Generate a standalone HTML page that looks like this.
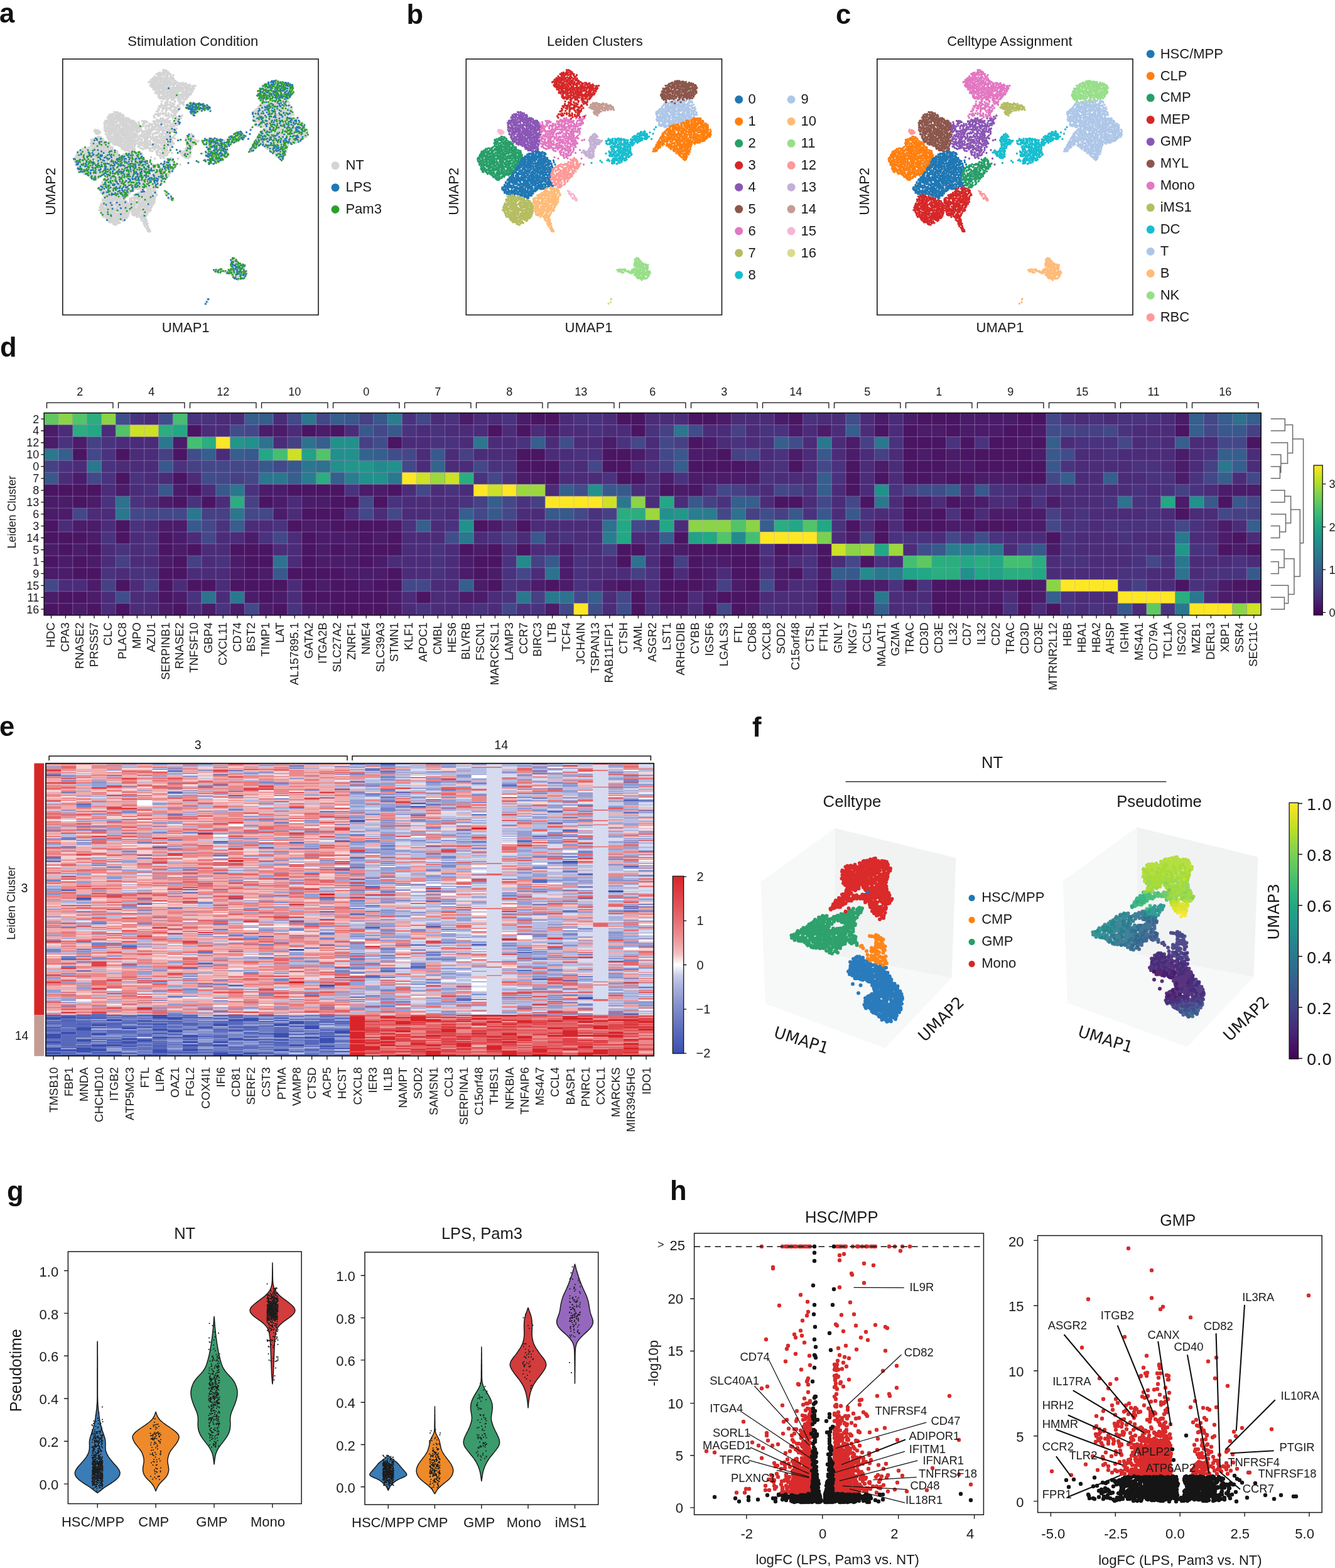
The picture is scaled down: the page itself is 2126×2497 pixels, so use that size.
<!DOCTYPE html>
<html><head><meta charset="utf-8"><title>Figure</title>
<style>
html,body{margin:0;padding:0;background:#fff}
svg{display:block}
</style></head>
<body>
<svg width="2126" height="2497" viewBox="0 0 2126 2497">
<rect width="2126" height="2497" fill="#fff"/>
<g font-family="Liberation Sans, sans-serif" font-size="22" fill="#1a1a1a">
<!-- pabc -->
<defs>
<path id="k2" d="M1597 435h0m4 1h0m6 1h0m-13 2h0m14 0h0m-18 1h0m16 1h0m-18 1h0m3 0h0m6 0h0m16 0h0m-31 1h0m19 0h0m-25 2h0m37 0h0m-24 1h0m15 0h0m-27 1h0m17 0h0m4 0h0m13 0h0m-35 1h0m8 1h0m34 0h0m-7 1h0m-29 1h0m26 0h0m-31 1h0m8 0h0m13 0h0m26 0h0m-22 1h0m24 0h0m-16 1h0m-28 1h0m19 0h0m3 0h0m12 0h0m3 0h0m4 0h0m-49 1h0m16 0h0m4 0h0m35 0h0m-36 1h0m-14 1h0m24 0h0m30 0h0m-51 1h0m6 0h0m24 0h0m15 0h0m-51 1h0m31 0h0m9 0h0m-20 1h0m26 0h0m10 2h0m2 0h0m-45 1h0m11 0h0m10 0h0m-35 1h0m19 0h0m22 0h0m7 0h0m-43 1h0m3 0h0m36 0h0m-14 1h0m7 0h0m6 0h0m-38 1h0m12 0h0m10 0h0m18 0h0m11 0h0m7 0h0m-68 1h0m13 0h0m23 0h0m37 0h0m-57 1h0m11 0h0m30 0h0m-60 1h0m66 0h0m-78 1h0m12 0h0m31 0h0m-38 1h0m6 0h0m15 0h0m8 0h0m5 0h0m12 0h0m5 0h0m4 0h0m7 0h0m3 0h0m15 0h0m3 0h0m-95 1h0m28 0h0m7 0h0m46 0h0m-78 2h0m24 0h0m8 0h0m-37 1h0m20 0h0m8 0h0m14 0h0m5 0h0m3 0h0m8 0h0m14 0h0m3 0h0m15 0h0m8 0h0m-81 1h0m36 0h0m12 0h0m16 0h0m4 0h0m17 0h0m-106 1h0m38 0h0m72 0h0m-108 1h0m15 0h0m14 0h0m51 0h0m16 0h0m13 0h0m-83 1h0m23 0h0m17 0h0m21 0h0m27 0h0m-120 1h0m16 0h0m31 0h0m5 0h0m9 0h0m7 0h0m9 0h0m-81 1h0m14 0h0m18 0h0m55 0h0m14 0h0m8 0h0m-48 1h0m23 0h0m-79 1h0m8 0h0m22 0h0m17 0h0m52 0h0m5 0h0m7 0h0m-93 1h0m21 0h0m14 0h0m10 0h0m11 0h0m9 0h0m5 0h0m20 0h0m5 0h0m5 0h0m2 0h0m-126 1h0m10 0h0m9 0h0m28 0h0m-17 1h0m7 0h0m9 0h0m26 0h0m6 0h0m21 0h0m-89 1h0m8 0h0m14 0h0m19 0h0m6 0h0m15 0h0m9 0h0m6 0h0m20 0h0m-106 1h0m5 0h0m21 0h0m35 0h0m5 0h0m50 0h0m4 0h0m-123 1h0m24 0h0m13 0h0m7 0h0m57 0h0m3 0h0m8 0h0m17 0h0m-54 2h0m-78 1h0m14 0h0m10 0h0m44 0h0m14 0h0m17 0h0m13 0h0m18 0h0m5 0h0m-132 1h0m15 0h0m15 0h0m11 0h0m9 0h0m5 0h0m16 0h0m36 0h0m-102 1h0m32 0h0m23 0h0m27 0h0m4 0h0m10 0h0m12 0h0m8 0h0m-108 1h0m29 0h0m4 0h0m33 0h0m-61 1h0m9 0h0m6 0h0m5 0h0m60 0h0m5 0h0m-105 1h0m6 0h0m18 0h0m31 0h0m6 0h0m4 0h0m10 0h0m12 0h0m9 0h0m20 0h0m4 0h0m5 0h0m6 0h0m-134 1h0m13 0h0m78 0h0m23 0h0m-43 1h0m2 0h0m65 0h0m-134 1h0m32 0h0m10 0h0m14 0h0m32 0h0m38 0h0m-133 1h0m13 0h0m10 0h0m6 0h0m5 0h0m8 0h0m26 0h0m20 0h0m10 0h0m5 0h0m21 0h0m4 0h0m8 0h0m-83 1h0m27 0h0m3 0h0m12 0h0m18 0h0m5 0h0m-57 1h0m39 0h0m9 0h0m-111 1h0m3 0h0m24 0h0m22 0h0m10 0h0m36 0h0m17 0h0m-105 1h0m8 0h0m10 0h0m44 0h0m4 0h0m4 0h0m62 0h0m2 0h0m-122 1h0m16 0h0m9 0h0m9 0h0m37 0h0m19 0h0m13 0h0m8 0h0m5 0h0m-95 1h0m21 0h0m23 0h0m35 0h0m-88 1h0m-12 1h0m7 0h0m15 0h0m69 0h0m-109 1h0m10 0h0m27 0h0m12 0h0m4 0h0m17 0h0m5 0h0m4 0h0m11 0h0m10 0h0m4 0h0m20 0h0m5 0h0m-114 1h0m31 0h0m14 0h0m34 0h0m26 0h0m17 0h0m2 0h0m-134 1h0m109 0h0m-112 1h0m16 0h0m34 0h0m17 0h0m23 0h0m5 0h0m20 0h0m6 0h0m4 0h0m-119 1h0m3 0h0m12 0h0m5 0h0m20 0h0m10 0h0m18 0h0m6 0h0m21 0h0m34 0h0m-105 1h0m6 0h0m5 0h0m19 0h0m27 0h0m-16 1h0m1 0h0m58 0h0m-32 1h0m11 0h0m4 0h0m-110 1h0m24 0h0m20 0h0m4 0h0m12 0h0m13 0h0m7 0h0m21 0h0m18 0h0m10 0h0m-124 1h0m6 0h0m3 0h0m8 0h0m12 0h0m7 0h0m14 0h0m36 0h0m33 0h0m-112 1h0m20 0h0m35 0h0m19 0h0m28 0h0m-34 1h0m-74 1h0m31 0h0m18 0h0m4 0h0m10 0h0m14 0h0m14 0h0m15 0h0m10 0h0m-122 1h0m17 0h0m4 0h0m11 0h0m12 0h0m43 0h0m5 0h0m13 0h0m0 0h0m-78 1h0m21 0h0m14 0h0m12 0h0m43 0h0m-97 1h0m-10 1h0m4 0h0m21 0h0m11 0h0m7 0h0m12 0h0m5 0h0m35 0h0m11 0h0m-86 1h0m19 0h0m35 0h0m11 0h0m8 0h0m7 0h0m11 0h0m-116 1h0m22 0h0m33 0h0m16 0h0m15 0h0m-67 1h0m16 0h0m39 0h0m4 0h0m-55 1h0m25 0h0m9 0h0m-50 1h0m26 0h0m55 0h0m4 0h0m3 0h0m8 0h0m6 0h0m4 0h0m5 0h0m-90 1h0m9 0h0m26 0h0m5 0h0m4 0h0m10 0h0m-81 1h0m11 0h0m29 0h0m10 0h0m6 0h0m48 0h0m7 1h0m-112 1h0m25 0h0m41 0h0m48 0h0m-110 1h0m10 0h0m14 0h0m8 0h0m3 0h0m6 0h0m5 0h0m24 0h0m15 0h0m10 0h0m-90 1h0m46 0h0m16 0h0m0 0h0m14 0h0m9 0h0m-74 1h0m38 0h0m-56 1h0m20 0h0m5 0h0m10 0h0m14 0h0m17 0h0m18 0h0m7 0h0m14 0h0m-102 1h0m6 0h0m35 0h0m18 0h0m19 0h0m29 0h0m-80 1h0m9 0h0m36 0h0m26 0h0m-86 1h0m79 0h0m-67 1h0m11 0h0m15 0h0m35 0h0m9 0h0m-84 1h0m3 0h0m8 0h0m40 0h0m5 0h0m9 0h0m30 0h0m-105 1h0m54 0h0m14 0h0m32 0h0m-97 1h0m26 0h0m18 0h0m32 0h0m11 0h0m6 1h0m-83 1h0m32 0h0m11 0h0m45 0h0m-83 1h0m9 0h0m5 0h0m5 0h0m14 0h0m9 0h0m6 0h0m20 0h0m-64 1h0m24 0h0m26 0h0m11 0h0m11 0h0m-35 1h0m18 0h0m-61 1h0m18 0h0m37 0h0m18 0h0m-64 1h0m19 0h0m5 0h0m16 0h0m-38 1h0m28 0h0m25 0h0m5 0h0m-45 1h0m35 0h0m-44 1h0m16 0h0m36 0h0m-52 1h0m39 0h0m-2 1h0m-31 1h0m5 0h0m10 0h0m10 0h0m-8 2h0m7 0h0m2 0h0m6 0h0m-35 1h0m6 0h0m6 1h0m5 0h0m-3 2h0m13 0h0m-20 1h0m12 0h0m3 0h0m-11 4h0m8 0h0m-4 1h0"/>
<path id="k4" d="M1649 357h0m9 0h0m-5 1h0m10 2h0m6 1h0m-25 2h0m15 0h0m-22 1h0m1 0h0m14 0h0m-1 1h0m12 0h0m-17 1h0m6 0h0m19 0h0m6 0h0m-45 1h0m26 0h0m-16 1h0m25 0h0m-7 2h0m19 0h0m-44 1h0m6 0h0m3 0h0m9 0h0m2 0h0m12 0h0m8 0h0m-10 1h0m-35 1h0m8 1h0m40 0h0m-50 1h0m13 0h0m7 0h0m9 0h0m5 0h0m10 0h0m-39 1h0m19 0h0m13 0h0m21 0h0m6 0h0m-13 2h0m4 0h0m-34 1h0m6 0h0m5 0h0m10 0h0m27 0h0m-55 1h0m23 0h0m9 0h0m14 0h0m7 0h0m-63 1h0m3 0h0m6 0h0m1 1h0m4 0h0m26 0h0m13 0h0m-57 1h0m38 0h0m26 0h0m7 0h0m-77 1h0m7 0h0m29 0h0m4 0h0m15 0h0m5 0h0m6 0h0m19 0h0m-70 1h0m74 0h0m-91 1h0m31 0h0m7 0h0m32 0h0m13 0h0m-68 1h0m19 0h0m25 0h0m4 0h0m-55 1h0m10 0h0m6 0h0m7 0h0m15 0h0m5 0h0m29 0h0m-68 1h0m45 0h0m18 0h0m-72 1h0m86 0h0m6 0h0m-65 1h0m7 0h0m14 0h0m18 0h0m15 0h0m-87 1h0m6 0h0m3 0h0m12 0h0m44 0h0m24 0h0m-64 1h0m4 0h0m22 0h0m9 0h0m21 0h0m14 0h0m5 0h0m-92 1h0m76 0h0m-73 1h0m7 0h0m8 0h0m44 0h0m28 0h0m-13 1h0m-83 1h0m21 0h0m19 0h0m17 0h0m3 0h0m10 0h0m21 0h0m-58 1h0m12 0h0m6 0h0m15 0h0m9 0h0m10 0h0m14 0h0m-90 1h0m13 0h0m5 0h0m8 0h0m-36 1h0m19 0h0m37 0h0m6 0h0m13 0h0m-62 1h0m26 0h0m7 0h0m2 0h0m42 0h0m14 0h0m-71 1h0m31 0h0m15 0h0m16 0h0m3 0h0m-29 1h0m-65 1h0m37 0h0m18 0h0m26 0h0m7 0h0m2 0h0m-56 1h0m9 0h0m25 0h0m9 0h0m5 0h0m17 0h0m-92 1h0m4 0h0m8 0h0m3 0h0m4 0h0m-30 1h0m5 0h0m61 0h0m12 0h0m-27 1h0m8 0h0m39 0h0m8 0h0m-97 1h0m11 0h0m10 0h0m15 0h0m6 0h0m19 0h0m11 0h0m6 0h0m8 0h0m9 0h0m-90 1h0m9 0h0m11 0h0m4 0h0m38 0h0m8 0h0m-31 1h0m11 0h0m28 1h0m-86 1h0m25 0h0m16 0h0m14 0h0m21 0h0m5 0h0m9 0h0m5 0h0m-101 1h0m16 0h0m11 0h0m12 0h0m12 0h0m6 0h0m15 0h0m3 0h0m-62 1h0m10 0h0m13 0h0m69 0h0m-40 1h0m28 0h0m-54 1h0m50 0h0m-82 1h0m21 0h0m21 0h0m7 0h0m8 0h0m4 0h0m37 0h0m-102 1h0m13 0h0m5 0h0m12 0h0m12 0h0m14 0h0m20 0h0m5 0h0m17 0h0m-77 1h0m48 0h0m31 0h0m-91 2h0m14 0h0m10 0h0m11 0h0m5 0h0m-19 1h0m23 0h0m5 0h0m14 0h0m8 0h0m8 0h0m-74 1h0m4 0h0m21 0h0m25 0h0m4 0h0m16 0h0m11 0h0m-55 1h0m-38 1h0m14 0h0m15 0h0m40 0h0m10 0h0m-80 1h0m9 0h0m9 0h0m16 0h0m12 0h0m45 0h0m4 0h0m-45 1h0m5 0h0m9 0h0m11 0h0m25 0h0m-97 1h0m22 0h0m35 0h0m26 0h0m-79 1h0m29 0h0m29 0h0m23 0h0m-56 1h0m10 0h0m29 0h0m22 0h0m-79 1h0m43 0h0m7 0h0m35 0h0m-71 1h0m23 0h0m27 0h0m6 0h0m-76 2h0m17 0h0m6 0h0m12 0h0m46 0h0m-84 1h0m14 0h0m16 0h0m3 0h0m10 0h0m12 0h0m8 0h0m8 0h0m20 0h0m1 0h0m-81 1h0m66 0h0m4 0h0m-21 1h0m-42 1h0m8 0h0m15 0h0m26 0h0m5 0h0m6 0h0m11 0h0m-42 1h0m5 0h0m5 0h0m26 0h0m-81 1h0m5 0h0m4 0h0m14 0h0m7 0h0m3 0h0m26 0h0m-32 1h0m-13 1h0m44 0h0m14 0h0m8 0h0m-73 1h0m27 0h0m31 0h0m-47 1h0m4 0h0m20 0h0m6 0h0m2 0h0m16 0h0m17 0h0m-80 1h0m36 0h0m-13 1h0m4 0h0m46 0h0m13 0h0m-75 1h0m20 0h0m11 0h0m12 0h0m4 0h0m4 0h0m14 0h0m7 0h0m-77 1h0m63 0h0m-68 1h0m46 0h0m-37 1h0m29 0h0m-21 1h0m3 0h0m3 0h0m15 0h0m26 0h0m10 0h0m4 0h0m-74 1h0m31 0h0m10 0h0m3 0h0m11 0h0m10 0h0m16 0h0m-73 1h0m16 0h0m4 1h0m18 0h0m3 0h0m8 0h0m5 0h0m10 1h0m-59 1h0m8 0h0m32 0h0m-45 1h0m10 0h0m14 0h0m3 0h0m33 0h0m11 0h0m-37 2h0m34 0h0m3 0h0m-65 1h0m7 0h0m5 0h0m27 0h0m6 0h0m5 0h0m-31 1h0m6 0h0m7 0h0m10 0h0m13 0h0m-33 1h0m-9 2h0m6 0h0m14 0h0m15 0h0m15 0h0m-39 1h0m13 0h0m17 1h0m-27 1h0m11 0h0m5 0h0m16 0h0m-38 1h0m30 1h0m3 0h0m-29 1h0m6 0h0m15 0h0m-4 1h0m20 0h0m-28 1h0m9 0h0m9 0h0m7 0h0m-36 1h0m5 0h0m10 0h0m11 0h0m14 1h0m-32 4h0m5 0h0m5 0h0m15 0h0m6 0h0m-16 1h0m-2 2h0m4 0h0m10 0h0m-3 1h0m-7 5h0"/>
<path id="k6" d="M1865 368h0m-9 4h0m5 0h0m-57 4h0m-7 1h0m38 0h0m9 0h0m17 0h0m-11 1h0m-49 2h0m55 0h0m-71 1h0m31 0h0m31 0h0m8 0h0m-59 1h0m10 0h0m4 0h0m-20 1h0m54 1h0m-106 1h0m7 0h0m38 0h0m13 0h0m31 0h0m12 0h0m11 0h0m4 0h0m-111 1h0m7 0h0m24 0h0m12 0h0m15 0h0m13 0h0m4 0h0m4 0h0m-45 1h0m16 0h0m15 0h0m-34 1h0m-47 1h0m27 0h0m-12 1h0m7 0h0m31 0h0m10 0h0m8 0h0m14 0h0m4 0h0m4 0h0m33 0h0m-53 1h0m25 0h0m12 0h0m20 0h0m-138 2h0m26 0h0m54 0h0m3 0h0m45 0h0m-86 1h0m47 0h0m21 0h0m8 0h0m19 0h0m-128 1h0m40 0h0m8 0h0m5 0h0m7 0h0m56 0h0m6 0h0m-110 1h0m79 1h0m-50 1h0m26 0h0m3 0h0m-75 1h0m30 0h0m27 0h0m4 0h0m27 0h0m6 0h0m11 0h0m5 0h0m3 0h0m8 0h0m6 0h0m-122 1h0m15 0h0m15 0h0m5 0h0m26 0h0m-57 1h0m19 0h0m70 0h0m-91 1h0m31 0h0m37 0h0m25 0h0m-86 1h0m21 0h0m13 0h0m18 0h0m21 0h0m3 0h0m16 0h0m5 0h0m6 0h0m-113 1h0m55 0h0m12 0h0m24 0h0m-69 1h0m28 0h0m27 0h0m-30 1h0m23 1h0m-64 1h0m35 0h0m35 0h0m1 0h0m8 0h0m-90 1h0m7 0h0m20 0h0m10 0h0m31 0h0m24 0h0m12 0h0m7 0h0m15 0h0m-6 1h0m-1 1h0m-117 1h0m10 0h0m37 0h0m6 0h0m6 0h0m15 0h0m22 0h0m12 0h0m-75 1h0m5 0h0m24 0h0m15 0h0m24 0h0m-59 1h0m27 0h0m2 0h0m13 0h0m37 0h0m-113 1h0m56 0h0m52 0h0m-117 1h0m29 0h0m12 0h0m5 0h0m43 0h0m9 0h0m-83 1h0m19 0h0m46 0h0m2 0h0m-77 1h0m16 0h0m3 0h0m79 0h0m6 0h0m3 1h0m11 0h0m-109 1h0m4 0h0m62 0h0m14 0h0m-92 1h0m25 0h0m15 0h0m17 0h0m9 0h0m37 0h0m11 0h0m-79 1h0m28 0h0m18 0h0m17 0h0m23 0h0m-91 1h0m20 1h0m44 0h0m-34 1h0m19 0h0m-60 1h0m14 0h0m21 0h0m17 0h0m15 0h0m5 0h0m7 0h0m3 0h0m20 0h0m-108 1h0m9 0h0m16 0h0m8 0h0m29 0h0m-47 1h0m-1 2h0m-22 1h0m4 0h0m58 0h0m11 0h0m17 0h0m5 0h0m3 0h0m13 0h0m-97 1h0m16 0h0m12 0h0m41 0h0m-12 1h0m19 0h0m-99 1h0m18 0h0m14 0h0m-19 1h0m30 0h0m19 0h0m13 0h0m9 0h0m11 0h0m11 0h0m10 0h0m-88 1h0m9 0h0m14 0h0m8 0h0m10 0h0m-63 1h0m15 0h0m68 0h0m-30 1h0m5 0h0m-29 1h0m10 0h0m4 0h0m27 0h0m23 0h0m3 0h0m5 0h0m6 0h0m-81 1h0m25 0h0m62 0h0m-37 1h0m10 0h0m29 0h0m-118 1h0m7 0h0m15 0h0m62 0h0m-81 1h0m10 0h0m17 0h0m12 0h0m45 0h0m-75 1h0m13 0h0m25 0h0m43 0h0m-37 1h0m6 0h0m7 0h0m29 0h0m10 0h0m29 0h0m-138 1h0m67 0h0m10 0h0m27 0h0m3 1h0m24 0h0m-81 1h0m9 0h0m5 0h0m23 0h0m10 0h0m-96 1h0m11 0h0m10 0h0m6 0h0m11 0h0m13 0h0m28 0h0m5 0h0m17 0h0m9 0h0m-78 1h0m39 1h0m25 0h0m-91 1h0m61 0h0m17 0h0m-60 1h0m8 0h0m9 0h0m67 0h0m5 0h0m-103 1h0m5 0h0m5 0h0m38 0h0m6 0h0m24 0h0m16 0h0m-87 2h0m12 0h0m41 0h0m6 0h0m2 0h0m1 0h0m-83 1h0m18 0h0m20 0h0m18 0h0m40 0h0m9 0h0m12 0h0m3 0h0m-114 1h0m57 0h0m27 0h0m-78 1h0m15 0h0m17 0h0m8 0h0m58 0h0m-59 1h0m49 0h0m-46 1h0m44 0h0m15 0h0m-103 1h0m8 0h0m11 0h0m10 0h0m6 0h0m16 0h0m19 0h0m23 0h0m-70 1h0m37 0h0m41 0h0m-45 1h0m21 0h0m18 0h0m-83 1h0m30 1h0m33 0h0m-79 1h0m21 0h0m6 0h0m25 0h0m16 0h0m16 0h0m-80 1h0m26 0h0m28 0h0m4 0h0m27 0h0m4 0h0m15 0h0m1 0h0m-50 2h0m32 0h0m-84 1h0m20 0h0m7 0h0m15 0h0m34 0h0m19 0h0m-78 1h0m15 0h0m5 0h0m11 0h0m11 0h0m7 0h0m3 0h0m-64 1h0m8 0h0m48 1h0m-53 1h0m73 0h0m-52 1h0m16 0h0m12 0h0m10 0h0m28 0h0m-21 1h0m12 0h0m-28 1h0m37 0h0m20 0h0m-42 1h0m13 0h0m-54 1h0m37 0h0m-31 1h0m14 0h0m26 0h0m6 0h0m-33 3h0m41 0h0m-36 1h0m7 0h0m15 0h0m-14 1h0m16 0h0m-16 1h0m37 0h0m-22 1h0m8 0h0m-34 1h0m18 0h0m2 2h0m-19 2h0m10 0h0m22 0h0m-26 1h0m11 0h0m7 1h0m4 0h0m-7 1h0m-12 2h0m8 2h0m-37 1h0m31 2h0m11 1h0m-30 1h0m74 0h0m7 19h0"/>
<path id="k3" d="M1805 223h0m6 0h0m-5 3h0m10 0h0m1 1h0m-5 3h0m5 0h0m5 0h0m-27 1h0m8 0h0m-10 1h0m15 0h0m-19 1h0m6 2h0m6 0h0m18 0h0m5 0h0m-40 1h0m19 0h0m25 0h0m-20 1h0m7 0h0m-28 1h0m5 0h0m13 0h0m-5 1h0m10 0h0m7 0h0m20 0h0m-41 1h0m22 0h0m9 0h0m-34 2h0m4 0h0m-19 1h0m51 0h0m-40 1h0m45 0h0m-19 1h0m3 0h0m-11 1h0m-24 1h0m14 0h0m18 0h0m6 0h0m10 0h0m-29 1h0m-30 1h0m4 0h0m15 0h0m21 0h0m-32 1h0m6 0h0m42 0h0m10 0h0m-21 1h0m9 0h0m-47 1h0m4 0h0m10 0h0m5 0h0m14 0h0m-38 1h0m16 0h0m19 0h0m16 0h0m9 0h0m-68 1h0m2 0h0m36 0h0m34 0h0m-52 1h0m5 0h0m42 0h0m-62 1h0m4 0h0m5 0h0m15 0h0m15 0h0m15 0h0m12 0h0m-32 1h0m15 0h0m23 0h0m-28 1h0m24 0h0m-38 1h0m-39 1h0m2 0h0m15 0h0m8 0h0m12 0h0m4 0h0m40 0h0m-74 1h0m5 0h0m10 0h0m24 0h0m7 0h0m4 0h0m4 0h0m7 0h0m19 0h0m-90 1h0m34 1h0m-12 1h0m14 0h0m35 0h0m14 0h0m19 0h0m4 0h0m-100 1h0m20 0h0m24 0h0m5 0h0m6 0h0m4 0h0m11 0h0m5 0h0m11 0h0m24 0h0m-106 1h0m3 0h0m16 0h0m67 0h0m-53 1h0m41 0h0m29 0h0m-71 1h0m10 0h0m60 0h0m-93 1h0m19 0h0m8 0h0m1 0h0m10 0h0m8 0h0m4 0h0m24 0h0m2 0h0m13 0h0m19 0h0m-94 1h0m40 0h0m33 0h0m13 0h0m-116 1h0m4 0h0m6 0h0m8 0h0m7 0h0m28 0h0m22 0h0m24 0h0m-14 1h0m34 0h0m-76 1h0m19 0h0m27 0h0m38 0h0m16 0h0m-131 1h0m20 0h0m41 0h0m19 0h0m16 0h0m10 0h0m16 0h0m3 0h0m-135 1h0m6 0h0m11 0h0m3 0h0m5 0h0m10 0h0m10 0h0m11 0h0m26 0h0m29 0h0m11 0h0m-68 2h0m18 0h0m21 0h0m4 0h0m-92 1h0m2 0h0m6 0h0m14 0h0m10 0h0m81 0h0m14 0h0m-115 1h0m6 0h0m38 0h0m7 0h0m9 0h0m8 0h0m4 0h0m14 0h0m5 0h0m4 0h0m-103 1h0m26 0h0m6 0h0m7 0h0m9 0h0m40 0h0m26 0h0m14 0h0m-106 1h0m23 0h0m5 0h0m60 0h0m6 0h0m-110 1h0m25 0h0m24 0h0m17 0h0m9 0h0m14 0h0m26 0h0m-104 1h0m49 0h0m9 0h0m19 0h0m9 0h0m4 0h0m20 0h0m-115 1h0m14 0h0m16 0h0m20 0h0m24 0h0m-87 1h0m35 0h0m39 0h0m-68 1h0m33 0h0m15 0h0m10 0h0m50 0h0m10 0h0m-109 1h0m15 0h0m14 0h0m6 0h0m7 0h0m21 0h0m15 0h0m-74 1h0m49 0h0m23 0h0m11 0h0m2 0h0m16 0h0m-85 1h0m49 0h0m25 0h0m-82 1h0m50 0h0m9 0h0m16 0h0m6 0h0m-101 1h0m6 0h0m4 0h0m5 0h0m10 0h0m11 0h0m15 0h0m4 0h0m31 0h0m24 0h0m7 0h0m-73 1h0m22 0h0m-24 1h0m18 0h0m31 0h0m-83 1h0m64 0h0m15 0h0m11 0h0m-95 1h0m23 0h0m7 0h0m5 0h0m5 0h0m9 0h0m5 0h0m-58 1h0m19 0h0m6 0h0m44 0h0m26 0h0m6 0h0m7 0h0m-94 1h0m3 0h0m33 0h0m14 0h0m21 0h0m29 0h0m-108 1h0m24 0h0m8 1h0m9 0h0m4 0h0m14 0h0m30 0h0m5 0h0m-87 1h0m48 0h0m22 0h0m22 0h0m-78 1h0m30 0h0m13 0h0m6 0h0m10 0h0m4 0h0m22 0h0m-89 1h0m17 0h0m20 1h0m13 0h0m34 0h0m-97 1h0m3 0h0m15 0h0m11 0h0m5 0h0m2 0h0m16 0h0m6 0h0m11 0h0m4 0h0m11 0h0m-60 1h0m55 0h0m10 0h0m4 0h0m-51 1h0m21 1h0m10 0h0m8 0h0m8 0h0m-47 1h0m5 0h0m5 0h0m42 0h0m-94 1h0m5 0h0m6 0h0m16 0h0m9 0h0m30 0h0m9 0h0m-60 1h0m5 0h0m4 0h0m26 1h0m6 0h0m-22 1h0m6 0h0m38 0h0m-74 1h0m59 0h0m23 0h0m4 0h0m-83 1h0m7 0h0m5 0h0m10 0h0m15 0h0m24 0h0m6 1h0m-59 1h0m15 0h0m57 0h0m-38 1h0m18 0h0m-41 1h0m16 0h0m6 0h0m14 0h0m19 0h0m-16 3h0m-36 1h0m24 0h0m16 0h0m-59 1h0m63 1h0m8 0h0m-44 1h0m15 0h0m-31 1h0m5 0h0m40 0h0m12 0h0m-39 2h0m-16 1h0m22 0h0m28 0h0m-44 1h0m-20 1h0m60 0h0m10 0h0m-29 1h0m-18 1h0m16 0h0m-28 1h0m60 0h0m-53 1h0m11 0h0m3 0h0m21 0h0m-51 1h0m-4 1h0m8 0h0m30 0h0m-43 1h0m62 0h0m-47 1h0m7 0h0m15 0h0m21 0h0m-12 1h0m4 1h0m-47 1h0m19 0h0m13 0h0m4 0h0m-24 1h0m39 0h0m-44 1h0m18 0h0m38 0h0m-42 1h0m-27 1h0m16 0h0m18 0h0m-17 1h0m8 0h0m38 0h0m-35 1h0m11 0h0m14 0h0m-51 1h0m47 1h0m-24 2h0m17 0h0m15 0h0m-58 1h0m1 0h0m12 0h0m39 0h0m11 0h0m-67 2h0m30 1h0m34 0h0m-14 1h0m10 0h0m-39 3h0m35 0h0m5 0h0m-55 1h0m8 0h0m24 0h0m-10 1h0m-33 2h0m5 0h0m7 0h0m14 0h0m10 1h0m8 0h0m8 0h0m8 1h0m5 0h0m-50 1h0m-6 1h0m33 0h0m22 0h0m-53 1h0m23 0h0m3 0h0m-41 1h0m56 0h0m2 0h0m28 1h0m-24 1h0m-13 1h0m23 0h0m-69 2h0m41 3h0"/>
<path id="k14" d="M1889 328h0m10 0h0m2 0h0m-7 1h0m26 0h0m-20 2h0m6 0h0m4 0h0m14 0h0m7 0h0m-45 1h0m5 0h0m28 0h0m13 0h0m-50 1h0m13 0h0m20 0h0m8 1h0m-42 1h0m24 0h0m38 0h0m-53 1h0m5 0h0m3 0h0m19 0h0m12 0h0m4 0h0m4 0h0m-29 1h0m3 0h0m35 0h0m-55 1h0m-9 1h0m15 0h0m12 0h0m-24 1h0m3 0h0m30 0h0m12 0h0m9 0h0m6 0h0m4 0h0m-46 1h0m3 0h0m46 0h0m-75 1h0m39 0h0m9 0h0m10 0h0m-43 1h0m10 0h0m-21 1h0m17 0h0m15 0h0m9 0h0m31 0h0m-68 1h0m24 0h0m7 0h0m22 0h0m10 0h0m-59 1h0m39 0h0m4 0h0m8 0h0m-54 1h0m4 0h0m7 0h0m17 0h0m24 0h0m-11 1h0m3 0h0m5 0h0m13 0h0m-46 1h0m3 0h0m14 0h0m26 0h0m-36 1h0m46 0h0m-61 1h0m13 0h0m29 0h0m-15 1h0m6 0h0m-29 2h0m5 0h0m-3 1h0m14 0h0m-7 1h0m3 0h0m-19 1h0m6 1h0m-1 2h0m12 0h0m-5 1h0m-10 1h0m3 2h0m4 1h0m3 3h0"/>
<path id="k13" d="M1894 426h0m-6 3h0m5 1h0m6 0h0m-11 3h0m13 0h0m-13 1h0m10 0h0m-16 1h0m18 0h0m3 1h0m-19 1h0m9 0h0m-14 2h0m2 0h0m11 1h0m5 0h0m-10 1h0m-7 3h0m5 0h0m5 0h0m5 1h0m3 0h0m4 0h0m4 0h0m-30 1h0m2 1h0m9 1h0m8 0h0m16 0h0m6 0h0m-24 1h0m13 0h0m-28 2h0m5 0h0m32 0h0m-33 1h0m17 0h0m-9 1h0m4 0h0m10 0h0m4 0h0m-26 1h0m11 2h0m9 0h0m8 0h0m-29 1h0m17 0h0m9 0h0m-27 2h0m4 0h0m2 0h0m22 0h0m-20 1h0m5 0h0m9 0h0m-2 1h0m-13 3h0m-6 1h0m11 1h0m5 0h0m-16 3h0m11 0h0m-7 2h0m11 0h0m-19 2h0m6 0h0m4 0h0m4 1h0m-6 2h0m5 1h0m-15 1h0m-15 1h0m-2 1h0m22 0h0m1 0h0m-7 1h0m18 0h0m-15 1h0m11 0h0m-25 1h0m6 0h0m8 1h0m9 0h0m-30 1h0m13 0h0m10 0h0m-26 1h0m13 1h0m24 0h0m-29 1h0m14 0h0m-7 2h0m10 0h0m5 1h0m-19 1h0m21 0h0m6 0h0m-26 1h0m15 0h0m-6 1h0m14 0h0m-18 1h0m-3 2h0m11 1h0m5 1h0m8 0h0m-17 1h0m13 0h0m-11 2h0m3 1h0m6 1h0"/>
<path id="k8" d="M2089 405h0m-5 7h0m-31 6h0m-12 2h0m10 0h0m3 0h0m-10 1h0m26 1h0m-37 3h0m5 0h0m4 0h0m8 0h0m4 1h0m4 0h0m22 0h0m-50 2h0m16 0h0m9 0h0m6 0h0m-19 1h0m-5 1h0m14 0h0m-2 1h0m-6 1h0m-23 1h0m8 0h0m25 0h0m5 0h0m3 0h0m-38 1h0m10 1h0m5 0h0m29 0h0m-38 1h0m-14 1h0m20 1h0m22 0h0m-36 1h0m24 0h0m17 0h0m-37 1h0m14 0h0m14 0h0m-84 1h0m54 0h0m-85 1h0m13 0h0m7 0h0m15 0h0m6 0h0m50 0h0m18 0h0m-84 1h0m24 0h0m56 0h0m11 0h0m5 0h0m16 0h0m-66 1h0m3 0h0m6 0h0m14 0h0m-88 1h0m21 0h0m20 0h0m27 0h0m25 0h0m-100 1h0m13 0h0m22 0h0m7 0h0m11 0h0m5 0h0m20 0h0m5 0h0m11 0h0m14 0h0m-106 1h0m22 0h0m15 0h0m24 0h0m25 0h0m-73 1h0m89 0h0m-111 1h0m29 0h0m79 0h0m-105 1h0m11 0h0m26 0h0m0 0h0m8 0h0m10 0h0m3 0h0m24 0h0m-66 1h0m14 0h0m47 0h0m2 0h0m13 0h0m3 0h0m7 0h0m-37 2h0m9 1h0m8 0h0m-73 1h0m13 0h0m4 0h0m5 0h0m8 0h0m22 0h0m6 0h0m12 0h0m8 0h0m10 0h0m-99 1h0m15 0h0m5 0h0m26 0h0m2 0h0m8 0h0m3 0h0m-10 2h0m13 0h0m6 0h0m-65 1h0m2 0h0m17 0h0m19 0h0m37 0h0m9 0h0m-76 1h0m17 0h0m37 0h0m17 0h0m-46 1h0m16 0h0m7 0h0m14 0h0m-2 1h0m8 0h0m-33 1h0m38 0h0m-29 1h0m4 0h0m-41 1h0m8 0h0m4 0h0m6 0h0m3 0h0m-15 2h0m33 0h0m6 0h0m4 0h0m6 0h0m-59 1h0m14 0h0m9 0h0m10 0h0m30 0h0m-47 1h0m12 0h0m-6 2h0m-19 1h0m2 0h0m4 0h0m22 0h0m4 0h0m6 0h0m4 0h0m10 0h0m-31 1h0m38 0h0m-12 1h0m-43 1h0m56 1h0m-60 1h0m8 0h0m16 0h0m11 0h0m4 0h0m11 0h0m-22 1h0m16 0h0m12 0h0m-37 1h0m19 0h0m-21 1h0m26 0h0m5 0h0m-56 2h0m10 0h0m22 0h0m4 0h0m4 0h0m20 0h0m6 0h0m-50 1h0m1 0h0m2 0h0m33 0h0m13 1h0m4 0h0m-63 1h0m24 0h0m7 0h0m7 0h0m-43 1h0m21 0h0m10 0h0m16 0h0m12 0h0m-39 1h0m-7 1h0m21 0h0m11 0h0m20 0h0m-76 1h0m15 0h0m11 0h0m25 0h0m9 0h0m4 0h0m8 0h0m9 1h0m-60 1h0m16 0h0m5 1h0m40 0h0m-46 1h0m32 0h0m3 0h0m-60 1h0m11 0h0m10 0h0m9 0h0m12 0h0m5 0h0m6 0h0m16 0h0m-63 1h0m10 0h0m12 0h0m10 0h0m14 1h0m-51 1h0m4 0h0m5 0h0m9 0h0m-2 1h0m7 0h0m40 0h0m-31 1h0m26 0h0m-19 1h0m3 0h0m11 1h0m7 0h0m-29 1h0m6 0h0m5 1h0m9 0h0m-39 1h0m5 0h0m4 0h0m7 0h0m17 0h0m-2 1h0m-10 1h0m14 0h0m-37 1h0m9 0h0m4 0h0m7 0h0m8 0h0m-43 1h0m18 0h0m41 0h0m-57 2h0m19 0h0m5 0h0m19 0h0m-48 1h0m15 0h0m4 0h0m13 0h0m23 0h0m3 0h0m-80 1h0m66 0h0m-37 1h0m31 0h0m-15 1h0m-1 1h0m15 0h0m-21 1h0m30 0h0m-63 1h0m-33 2h0m73 0h0m17 0h0m-25 1h0m4 0h0m14 0h0m-16 1h0m13 1h0"/>
<path id="k9" d="M2195 317h0m-49 3h0m5 0h0m9 1h0m5 0h0m16 0h0m5 0h0m10 0h0m-26 1h0m33 0h0m-84 2h0m44 0h0m11 0h0m6 0h0m14 0h0m5 0h0m-65 1h0m6 0h0m3 0h0m8 0h0m7 0h0m22 0h0m-57 1h0m32 0h0m14 0h0m35 0h0m-78 1h0m79 0h0m-55 1h0m22 0h0m24 0h0m-66 1h0m16 0h0m-9 1h0m4 0h0m21 0h0m12 0h0m16 0h0m-74 1h0m65 0h0m-52 1h0m8 0h0m52 0h0m4 0h0m-73 1h0m34 0h0m10 0h0m-50 1h0m10 0h0m24 0h0m10 0h0m17 0h0m3 0h0m7 0h0m24 0h0m-65 1h0m26 0h0m33 0h0m-77 2h0m26 0h0m4 0h0m16 0h0m25 0h0m4 0h0m-90 1h0m10 0h0m14 0h0m10 0h0m17 0h0m5 0h0m10 0h0m4 0h0m9 0h0m-60 1h0m11 0h0m24 1h0m28 0h0m-84 1h0m10 0h0m16 0h0m15 0h0m10 0h0m8 0h0m10 0h0m-54 1h0m5 0h0m44 0h0m10 0h0m21 0h0m9 0h0m-76 1h0m16 0h0m36 0h0m-53 1h0m8 0h0m1 0h0m64 0h0m-103 1h0m13 0h0m57 0h0m-50 1h0m5 0h0m20 0h0m10 0h0m25 0h0m7 0h0m13 0h0m-95 1h0m29 0h0m26 0h0m17 0h0m15 0h0m-97 1h0m14 0h0m44 0h0m13 0h0m43 0h0m-111 1h0m29 0h0m13 1h0m38 0h0m5 0h0m-91 1h0m25 0h0m17 0h0m24 0h0m12 0h0m4 0h0m15 0h0m-82 1h0m5 0h0m11 0h0m21 0h0m10 0h0m42 0h0m8 0h0m-103 1h0m46 0h0m16 0h0m35 0h0m-108 1h0m25 0h0m55 0h0m30 0h0m6 0h0m-111 1h0m6 0h0m19 0h0m30 0h0m7 0h0m17 0h0m23 0h0m-112 1h0m20 0h0m7 0h0m14 0h0m3 0h0m6 0h0m5 0h0m5 0h0m4 0h0m32 0h0m5 0h0m4 0h0m-62 1h0m83 0h0m-119 1h0m111 0h0m-119 1h0m129 0h0m-125 1h0m18 0h0m12 0h0m13 0h0m37 0h0m6 0h0m8 0h0m6 0h0m-88 1h0m2 0h0m11 0h0m24 0h0m5 0h0m12 0h0m3 0h0m33 0h0m7 0h0m-102 1h0m87 0h0m-98 1h0m4 0h0m13 0h0m73 0h0m-67 1h0m15 0h0m12 0h0m1 0h0m5 0h0m4 0h0m5 0h0m6 0h0m6 0h0m3 0h0m6 0h0m31 0h0m6 0h0m3 0h0m-98 1h0m74 0h0m10 0h0m-80 1h0m92 0h0m6 0h0m-128 1h0m49 0h0m-17 1h0m11 0h0m9 0h0m17 0h0m2 0h0m6 0h0m15 0h0m5 0h0m9 0h0m-95 1h0m7 0h0m20 0h0m43 0h0m5 0h0m-65 1h0m6 0h0m29 0h0m46 0h0m16 0h0m-117 1h0m6 0h0m77 0h0m-82 1h0m6 0h0m17 0h0m3 0h0m6 0h0m17 0h0m11 0h0m7 0h0m9 0h0m16 0h0m7 0h0m4 0h0m4 0h0m-54 1h0m5 0h0m11 0h0m19 0h0m-75 1h0m25 0h0m3 0h0m22 0h0m53 0h0m-117 1h0m18 0h0m23 0h0m18 0h0m25 0h0m-80 1h0m12 0h0m6 0h0m33 0h0m21 0h0m25 0h0m15 0h0m-106 1h0m16 0h0m11 0h0m11 0h0m23 0h0m39 0h0m-81 1h0m21 0h0m16 0h0m24 0h0m4 0h0m12 0h0m-26 1h0m28 1h0m-110 1h0m6 0h0m13 0h0m7 0h0m16 0h0m22 0h0m12 0h0m15 0h0m9 0h0m7 0h0m-98 1h0m7 0h0m14 0h0m22 0h0m7 0h0m11 0h0m15 0h0m10 0h0m-60 1h0m-33 1h0m29 0h0m8 0h0m5 0h0m8 0h0m27 0h0m13 0h0m-79 1h0m14 0h0m50 0h0m20 0h0m-91 1h0m40 0h0m11 0h0m4 0h0m8 0h0m13 0h0m-64 1h0m5 0h0m21 0h0m30 0h0m-39 1h0m52 0h0m-61 1h0m29 0h0m5 0h0m7 0h0m8 0h0m-66 1h0m32 0h0m2 0h0m8 0h0m28 0h0m6 0h0m-62 1h0m6 0h0m42 0h0m-3 1h0m-45 1h0m3 0h0m18 0h0m3 0h0m7 0h0m-34 1h0m19 0h0m18 0h0m21 0h0m-70 1h0m54 0h0m-50 2h0m4 0h0m24 0h0m8 0h0m1 0h0m-41 1h0m12 0h0m4 0h0m6 1h0m-21 1h0m3 0h0m24 0h0m7 1h0m-27 1h0m22 0h0m-14 1h0m5 0h0m2 1h0m-4 1h0"/>
<path id="k5" d="M2156 258h0m3 0h0m5 0h0m-14 1h0m22 1h0m4 0h0m-24 1h0m26 0h0m7 0h0m-36 1h0m8 0h0m11 0h0m-26 1h0m21 0h0m12 0h0m20 0h0m-56 1h0m42 0h0m-44 1h0m65 0h0m-46 1h0m3 0h0m8 0h0m17 0h0m11 0h0m-64 1h0m39 0h0m9 0h0m11 0h0m8 0h0m3 0h0m7 0h0m-68 1h0m0 0h0m6 0h0m4 0h0m3 0h0m9 1h0m15 0h0m-47 1h0m18 0h0m8 0h0m14 0h0m3 0h0m18 0h0m-58 1h0m49 0h0m3 0h0m10 0h0m5 0h0m5 0h0m6 0h0m4 0h0m-89 1h0m19 0h0m-25 1h0m78 0h0m6 0h0m-73 1h0m9 0h0m9 0h0m7 0h0m4 0h0m14 0h0m-39 1h0m9 0h0m21 0h0m14 0h0m9 0h0m6 0h0m23 0h0m-48 1h0m14 0h0m23 0h0m7 0h0m-77 1h0m1 0h0m23 0h0m7 0h0m11 0h0m-49 1h0m14 0h0m14 0h0m25 0h0m-58 1h0m30 0h0m20 0h0m15 0h0m4 0h0m11 0h0m7 0h0m-63 1h0m47 0h0m19 0h0m6 0h0m-100 1h0m21 0h0m47 0h0m12 0h0m-88 1h0m26 0h0m13 0h0m8 0h0m6 0h0m2 0h0m7 0h0m10 0h0m13 0h0m11 0h0m9 0h0m-101 1h0m15 0h0m17 0h0m5 0h0m51 0h0m7 0h0m-89 1h0m4 0h0m54 0h0m14 0h0m-76 1h0m50 0h0m29 0h0m-72 1h0m25 0h0m13 0h0m28 0h0m20 0h0m4 0h0m-87 1h0m52 0h0m6 0h0m-72 1h0m20 0h0m4 0h0m10 0h0m25 0h0m2 0h0m32 0h0m-63 1h0m44 0h0m12 0h0m-90 1h0m31 0h0m11 0h0m6 0h0m2 0h0m24 0h0m-68 1h0m11 0h0m4 0h0m4 0h0m10 0h0m12 0h0m8 0h0m9 0h0m36 0h0m4 0h0m4 0h0m-110 1h0m5 0h0m9 0h0m56 0h0m-45 1h0m35 0h0m26 0h0m6 0h0m5 0h0m-65 1h0m18 0h0m10 0h0m9 0h0m32 0h0m-96 1h0m6 0h0m36 0h0m41 0h0m13 0h0m-85 1h0m21 0h0m5 0h0m13 0h0m19 0h0m4 0h0m4 0h0m11 0h0m15 0h0m2 0h0m-90 1h0m16 1h0m13 0h0m14 0h0m-62 1h0m15 0h0m18 0h0m10 0h0m28 0h0m23 0h0m-97 1h0m21 0h0m8 0h0m60 0h0m1 0h0m13 0h0m4 0h0m-101 1h0m5 0h0m14 0h0m28 0h0m5 0h0m8 0h0m12 0h0m4 0h0m19 0h0m-38 1h0m12 0h0m-32 1h0m9 0h0m5 0h0m3 0h0m11 0h0m14 0h0m-86 1h0m5 0h0m5 0h0m19 0h0m39 0h0m13 0h0m13 0h0m-79 1h0m2 0h0m7 0h0m11 0h0m2 0h0m8 0h0m53 0h0m7 0h0m-15 1h0m-88 1h0m27 0h0m11 0h0m6 0h0m13 0h0m16 0h0m5 0h0m5 0h0m11 0h0m-89 1h0m5 0h0m4 0h0m5 0h0m7 0h0m9 0h0m13 0h0m14 0h0m40 0h0m-47 1h0m15 0h0m18 0h0m-18 1h0m5 0h0m-63 2h0m14 0h0m5 0h0m15 0h0m10 0h0m27 0h0m7 0h0m5 0h0m-93 1h0m5 0h0m12 0h0m2 0h0m21 0h0m17 0h0m8 0h0m13 0h0m18 0h0m-77 1h0m9 0h0m3 0h0m4 0h0m53 0h0m-9 1h0m-75 1h0m4 0h0m4 0h0m11 0h0m14 0h0m18 0h0m10 1h0m-60 1h0m64 0h0m-19 1h0m-37 1h0m18 4h0m-19 2h0m47 0h0m-19 3h0"/>
<path id="k1" d="M2208 376h0m6 1h0m6 0h0m6 0h0m5 0h0m-13 3h0m14 0h0m-19 1h0m8 0h0m6 0h0m-23 1h0m3 0h0m14 1h0m-30 1h0m10 0h0m29 0h0m-44 1h0m25 0h0m25 0h0m3 0h0m-45 1h0m21 0h0m10 0h0m-22 2h0m9 0h0m2 0h0m13 0h0m3 1h0m10 0h0m-63 1h0m18 0h0m7 0h0m4 0h0m17 0h0m-39 1h0m0 0h0m3 0h0m2 0h0m47 0h0m-61 1h0m44 0h0m-49 1h0m20 0h0m3 0h0m10 0h0m7 0h0m4 0h0m11 0h0m4 0h0m-50 1h0m58 0h0m8 0h0m4 0h0m-14 1h0m-48 1h0m-33 1h0m4 0h0m3 0h0m8 0h0m23 0h0m9 0h0m22 0h0m-77 1h0m36 0h0m15 0h0m9 0h0m6 0h0m6 0h0m15 0h0m4 0h0m4 0h0m13 0h0m-111 1h0m29 0h0m7 1h0m69 0h0m-113 1h0m45 0h0m36 0h0m3 0h0m35 0h0m-115 1h0m11 0h0m10 0h0m29 0h0m6 0h0m9 0h0m40 0h0m4 0h0m-84 1h0m6 0h0m13 0h0m28 0h0m16 0h0m9 0h0m4 0h0m-95 1h0m8 0h0m19 0h0m27 0h0m30 0h0m-58 1h0m21 0h0m40 0h0m23 0h0m-121 1h0m9 0h0m4 0h0m38 0h0m12 0h0m6 0h0m5 0h0m43 0h0m-119 1h0m19 0h0m5 0h0m7 0h0m24 0h0m29 0h0m7 0h0m4 0h0m11 0h0m4 0h0m-77 1h0m13 0h0m33 0h0m38 0h0m-88 1h0m8 0h0m-39 1h0m12 0h0m48 0h0m24 0h0m-89 1h0m9 0h0m10 0h0m6 0h0m6 0h0m7 0h0m11 0h0m24 0h0m5 0h0m4 0h0m42 0h0m6 0h0m-75 1h0m38 0h0m6 0h0m4 0h0m5 0h0m-80 1h0m31 0h0m11 0h0m45 0h0m5 0h0m17 0h0m-116 1h0m56 0h0m25 0h0m20 0h0m-125 1h0m6 0h0m4 0h0m11 0h0m14 0h0m4 0h0m5 0h0m7 0h0m77 0h0m-113 1h0m41 0h0m7 0h0m12 0h0m10 0h0m4 0h0m5 0h0m5 0h0m10 0h0m10 0h0m14 0h0m-71 1h0m10 0h0m41 0h0m-115 1h0m1 0h0m40 0h0m44 0h0m15 0h0m18 0h0m7 0h0m5 0h0m5 0h0m9 0h0m-133 1h0m13 0h0m25 0h0m6 0h0m15 0h0m4 0h0m15 0h0m4 0h0m-97 1h0m21 0h0m3 0h0m9 0h0m52 0h0m24 1h0m4 0h0m-102 1h0m50 0h0m8 0h0m0 0h0m13 0h0m11 0h0m14 0h0m10 0h0m4 0h0m4 0h0m-108 1h0m13 0h0m31 0h0m16 0h0m54 0h0m11 0h0m5 0h0m-148 1h0m21 0h0m23 0h0m3 0h0m9 0h0m31 0h0m49 0h0m-140 1h0m9 0h0m30 0h0m32 0h0m30 0h0m-45 1h0m50 0h0m-95 1h0m20 0h0m60 0h0m38 0h0m-130 1h0m19 0h0m6 0h0m21 0h0m9 0h0m4 0h0m3 0h0m8 0h0m5 0h0m16 0h0m8 0h0m26 0h0m9 0h0m10 0h0m6 0h0m-147 1h0m24 0h0m9 0h0m6 0h0m8 0h0m29 0h0m6 0h0m18 0h0m7 0h0m32 0h0m12 0h0m-139 1h0m99 0h0m4 0h0m5 0h0m-54 1h0m-53 1h0m4 0h0m7 0h0m4 0h0m11 0h0m19 0h0m10 0h0m20 0h0m7 0h0m13 0h0m20 0h0m11 0h0m5 0h0m3 0h0m-149 1h0m34 0h0m23 0h0m44 0h0m14 0h0m12 0h0m-131 1h0m9 0h0m40 0h0m8 0h0m24 0h0m10 0h0m20 0h0m29 0h0m-79 1h0m20 0h0m26 0h0m-84 1h0m9 0h0m17 0h0m19 0h0m11 0h0m39 0h0m15 0h0m21 0h0m-156 1h0m16 0h0m28 0h0m47 0h0m4 0h0m8 0h0m10 0h0m13 0h0m5 0h0m14 0h0m-140 1h0m3 0h0m20 0h0m13 0h0m13 0h0m5 0h0m16 0h0m24 0h0m42 0h0m8 0h0m-127 1h0m46 0h0m40 0h0m-35 1h0m4 0h0m35 0h0m-115 1h0m5 0h0m7 0h0m15 0h0m8 0h0m6 0h0m58 0h0m7 0h0m31 0h0m4 0h0m7 0h0m-134 1h0m17 0h0m14 0h0m9 0h0m7 0h0m3 0h0m22 0h0m4 0h0m30 0h0m-99 1h0m27 0h0m76 0h0m5 0h0m16 0h0m-140 1h0m22 0h0m16 0h0m4 0h0m-31 1h0m56 0h0m6 0h0m19 0h0m15 0h0m16 0h0m5 0h0m5 0h0m-131 1h0m6 0h0m10 0h0m9 0h0m7 0h0m13 0h0m11 0h0m4 0h0m20 0h0m7 0h0m12 0h0m11 0h0m6 0h0m-126 1h0m60 0h0m26 0h0m59 0h0m-102 1h0m10 1h0m4 0h0m16 0h0m19 0h0m36 0h0m6 0h0m9 0h0m-130 1h0m15 0h0m40 0h0m13 0h0m8 0h0m9 0h0m5 0h0m15 0h0m19 0h0m-139 1h0m5 0h0m4 0h0m12 0h0m4 0h0m39 0h0m44 0h0m8 0h0m9 0h0m-87 1h0m1 0h0m1 0h0m2 0h0m29 0h0m8 0h0m11 1h0m14 0h0m-107 1h0m11 0h0m20 0h0m30 0h0m3 0h0m19 0h0m18 0h0m9 0h0m16 0h0m9 0h0m-133 1h0m52 0h0m17 0h0m15 0h0m30 0h0m4 0h0m9 0h0m-124 1h0m11 0h0m3 0h0m31 0h0m46 0h0m3 1h0m-99 1h0m3 0h0m4 0h0m6 0h0m4 0h0m30 0h0m8 0h0m8 0h0m41 0h0m15 0h0m-98 1h0m9 0h0m8 0h0m17 0h0m13 0h0m9 0h0m11 0h0m6 0h0m-61 1h0m10 0h0m29 0h0m10 0h0m27 0h0m-113 2h0m3 0h0m45 0h0m22 0h0m7 0h0m27 0h0m-95 1h0m4 0h0m7 0h0m21 0h0m3 0h0m36 0h0m3 0h0m8 0h0m20 0h0m-108 1h0m30 0h0m26 0h0m5 0h0m30 0h0m4 0h0m-90 1h0m-8 1h0m38 0h0m16 0h0m12 0h0m25 0h0m11 0h0m-100 1h0m9 0h0m36 0h0m6 0h0m8 0h0m13 0h0m8 0h0m4 0h0m21 0h0m3 0h0m-112 1h0m59 0h0m20 0h0m20 0h0m-84 1h0m36 0h0m-43 1h0m36 0h0m41 0h0m21 0h0m4 0h0m-110 1h0m10 0h0m51 0h0m-62 1h0m49 0h0m10 0h0m10 0h0m9 0h0m6 0h0m9 0h0m10 0h0m-32 1h0m26 0h0m-102 1h0m13 0h0m42 1h0m7 0h0m18 0h0m6 0h0m4 0h0m-24 1h0m5 0h0m4 0h0m26 0h0m8 0h0m8 0h0m-110 1h0m90 0h0m8 0h0m-104 1h0m2 1h0m109 0h0m-102 1h0m53 0h0m28 0h0m7 0h0m-96 1h0m74 0h0m6 0h0m3 0h0m17 0h0m-104 1h0m1 0h0m7 0h0m62 0h0m7 0h0m25 0h0m8 0h0m-17 1h0m2 0h0m-17 1h0m33 0h0m6 0h0m-30 2h0m20 0h0m-26 1h0m-7 1h0m31 0h0m5 0h0m-20 1h0m9 0h0m-18 1h0m5 0h0m8 1h0m18 0h0m2 0h0m-32 1h0m20 0h0m-17 1h0m12 0h0m9 1h0m-20 3h0m2 0h0m15 1h0m5 0h0m-13 1h0m5 0h0m-9 2h0m7 0h0m5 1h0m4 0h0m-11 4h0m4 0h0m5 1h0m-4 3h0"/>
<path id="k12" d="M1829 503h0m-3 3h0m1 1h0m-10 1h0m16 0h0m2 0h0m-12 2h0m0 1h0m-2 1h0m17 0h0m-10 1h0m7 0h0m-25 3h0m29 0h0m-23 1h0m10 0h0m12 0h0m-15 2h0m-14 2h0m9 0h0m31 0h0m-50 1h0m5 0h0m22 0h0m9 0h0m6 0h0m-54 1h0m57 0h0m-42 1h0m-9 1h0m5 0h0m18 0h0m22 0h0m7 0h0m-64 1h0m27 0h0m20 0h0m13 0h0m-19 1h0m-45 1h0m30 0h0m5 0h0m-28 1h0m27 0h0m16 0h0m-48 1h0m39 0h0m27 0h0m-75 1h0m64 0h0m6 0h0m-64 1h0m13 0h0m3 0h0m23 0h0m16 0h0m-57 1h0m31 0h0m17 0h0m-44 1h0m50 0h0m5 0h0m7 0h0m-78 1h0m5 0h0m31 0h0m40 0h0m-36 1h0m9 0h0m5 0h0m3 1h0m17 0h0m-77 1h0m80 0h0m-75 1h0m16 0h0m14 0h0m5 0h0m32 0h0m-55 1h0m27 0h0m7 0h0m-26 1h0m38 0h0m-64 1h0m18 0h0m-14 1h0m8 0h0m27 0h0m16 0h0m1 0h0m14 0h0m-43 1h0m7 0h0m11 0h0m-43 2h0m9 0h0m19 0h0m22 0h0m24 0h0m-73 1h0m34 0h0m-40 1h0m28 0h0m17 0h0m23 0h0m4 0h0m-77 1h0m55 0h0m-25 1h0m28 0h0m-52 1h0m41 0h0m30 0h0m-76 1h0m41 0h0m20 0h0m-49 1h0m10 0h0m5 0h0m1 0h0m8 0h0m30 0h0m7 0h0m-24 1h0m-44 1h0m4 0h0m3 0h0m60 0h0m-74 1h0m36 0h0m20 0h0m-31 1h0m6 0h0m14 0h0m5 0h0m10 0h0m6 0h0m3 0h0m-47 1h0m1 0h0m-14 1h0m29 0h0m11 0h0m17 0h0m-63 1h0m15 0h0m10 0h0m29 0h0m-22 1h0m38 0h0m-50 1h0m19 0h0m12 0h0m-38 1h0m25 0h0m14 0h0m-51 1h0m7 0h0m23 0h0m31 0h0m-34 1h0m16 0h0m13 0h0m8 0h0m-52 1h0m3 0h0m32 0h0m-39 2h0m20 0h0m-29 1h0m44 0h0m11 0h0m-33 1h0m4 0h0m9 0h0m6 0h0m8 0h0m11 0h0m-55 1h0m11 0h0m-10 1h0m-3 1h0m8 0h0m7 0h0m5 0h0m5 0h0m5 0h0m2 1h0m12 0h0m-2 2h0m11 0h0m-28 1h0m-13 1h0m10 0h0m7 0h0m13 0h0m10 0h0m-45 2h0m3 0h0m35 1h0m-32 1h0m11 0h0m10 0h0m-30 1h0m15 1h0m26 1h0m-32 2h0m4 0h0m9 0h0m6 0h0m10 1h0m-23 1h0m-11 1h0m6 1h0m16 0h0m5 0h0m-9 1h0m-5 4h0m7 0h0m3 0h0m-7 1h0"/>
<path id="k0" d="M1705 482h0m7 0h0m-2 1h0m-4 1h0m9 0h0m2 0h0m11 0h0m-5 2h0m-26 1h0m38 0h0m-28 1h0m3 0h0m6 0h0m5 0h0m11 0h0m-47 1h0m6 0h0m33 0h0m-29 1h0m5 1h0m26 0h0m12 0h0m-59 1h0m8 0h0m-2 1h0m9 0h0m5 0h0m8 0h0m11 0h0m5 0h0m11 0h0m-30 1h0m11 0h0m-18 3h0m29 0h0m5 0h0m-59 1h0m3 0h0m6 0h0m12 0h0m8 0h0m10 0h0m6 0h0m4 0h0m-34 1h0m49 0h0m-29 1h0m-33 1h0m5 0h0m25 0h0m19 0h0m-38 1h0m9 0h0m4 0h0m10 0h0m6 0h0m19 0h0m-65 1h0m22 0h0m48 0h0m5 0h0m-24 1h0m8 0h0m8 0h0m-72 1h0m9 1h0m9 0h0m6 0h0m14 0h0m8 0h0m-44 1h0m26 0h0m15 0h0m11 0h0m9 0h0m5 0h0m9 0h0m-65 1h0m22 0h0m23 0h0m24 0h0m-83 1h0m7 0h0m16 0h0m14 0h0m9 0h0m10 1h0m11 0h0m6 0h0m-74 1h0m3 0h0m10 0h0m8 0h0m21 0h0m12 0h0m9 0h0m16 0h0m9 0h0m15 0h0m-76 1h0m6 0h0m8 1h0m49 0h0m3 0h0m-62 1h0m13 0h0m13 0h0m5 0h0m14 0h0m-80 1h0m14 0h0m15 0h0m46 0h0m10 0h0m-74 1h0m9 0h0m20 0h0m16 0h0m13 0h0m20 0h0m-82 1h0m18 0h0m65 0h0m18 0h0m-46 1h0m-45 1h0m10 0h0m6 0h0m39 0h0m8 0h0m13 0h0m-92 1h0m36 0h0m11 0h0m3 0h0m16 0h0m10 0h0m22 0h0m-91 1h0m4 0h0m12 0h0m17 0h0m5 0h0m11 0h0m-27 1h0m13 0h0m44 0h0m-36 1h0m15 0h0m23 0h0m12 0h0m-96 1h0m5 0h0m5 0h0m10 0h0m29 0h0m6 0h0m12 0h0m2 0h0m20 0h0m18 0h0m-112 1h0m21 0h0m14 0h0m47 0h0m-64 1h0m44 0h0m22 0h0m7 0h0m-95 1h0m8 0h0m3 0h0m20 0h0m15 0h0m10 0h0m20 0h0m15 0h0m-73 1h0m7 0h0m11 0h0m17 0h0m9 1h0m10 0h0m9 0h0m4 0h0m20 0h0m1 0h0m-65 1h0m-25 1h0m27 0h0m41 0h0m-85 1h0m4 0h0m5 0h0m15 0h0m11 0h0m14 0h0m7 0h0m9 0h0m6 0h0m30 0h0m7 0h0m-113 1h0m25 0h0m9 0h0m11 0h0m40 0h0m15 0h0m13 0h0m-49 1h0m18 0h0m-72 1h0m27 0h0m35 0h0m23 0h0m-87 1h0m11 0h0m15 0h0m10 0h0m19 0h0m25 0h0m16 0h0m-83 1h0m32 0h0m16 0h0m8 0h0m8 0h0m7 0h0m15 0h0m-110 1h0m5 0h0m45 0h0m10 0h0m-30 1h0m-2 1h0m30 0h0m10 0h0m9 0h0m17 0h0m4 0h0m5 0h0m6 0h0m-102 1h0m15 0h0m21 0h0m3 0h0m25 0h0m14 0h0m3 0h0m23 0h0m-109 1h0m12 0h0m6 0h0m12 0h0m5 0h0m25 0h0m-8 2h0m6 0h0m11 0h0m21 0h0m1 0h0m-48 1h0m10 0h0m11 0h0m14 0h0m5 0h0m-85 1h0m11 0h0m18 0h0m11 0h0m61 0h0m6 0h0m3 0h0m-90 1h0m7 0h0m25 0h0m23 0h0m-60 1h0m20 0h0m67 0h0m-109 1h0m34 0h0m36 0h0m7 0h0m4 0h0m14 0h0m4 0h0m6 0h0m10 0h0m-113 1h0m7 0h0m15 0h0m8 0h0m18 0h0m7 0h0m3 0h0m26 0h0m5 0h0m-76 1h0m26 0h0m23 0h0m-48 1h0m15 0h0m-31 1h0m9 0h0m27 0h0m7 0h0m12 0h0m28 0h0m10 0h0m10 0h0m11 0h0m-117 1h0m16 0h0m9 0h0m21 0h0m3 0h0m16 0h0m6 0h0m7 0h0m13 0h0m25 0h0m-94 1h0m7 0h0m50 0h0m-16 1h0m37 0h0m-71 1h0m66 0h0m7 0h0m4 0h0m5 0h0m3 0h0m-117 1h0m5 0h0m32 0h0m4 0h0m20 0h0m5 0h0m16 0h0m8 0h0m30 0h0m-107 1h0m7 0h0m29 0h0m7 0h0m21 0h0m23 0h0m-84 1h0m31 0h0m23 0h0m-27 1h0m37 0h0m6 0h0m-32 1h0m4 0h0m16 0h0m9 0h0m6 0h0m25 0h0m-117 1h0m5 0h0m3 0h0m8 0h0m5 0h0m12 0h0m7 0h0m25 0h0m29 0h0m13 0h0m-82 1h0m13 0h0m33 0h0m29 0h0m25 0h0m-129 1h0m52 0h0m1 0h0m-26 1h0m19 0h0m41 0h0m27 0h0m4 0h0m5 0h0m-123 1h0m3 0h0m14 0h0m25 0h0m15 0h0m20 0h0m6 0h0m13 0h0m13 0h0m-104 1h0m6 0h0m22 0h0m4 0h0m26 0h0m7 0h0m3 0h0m20 0h0m10 0h0m-79 1h0m89 0h0m9 0h0m-91 1h0m15 0h0m29 0h0m10 0h0m6 0h0m10 0h0m-106 1h0m6 0h0m15 0h0m6 0h0m14 0h0m13 0h0m12 0h0m5 0h0m4 0h0m23 0h0m33 0h0m-120 1h0m3 0h0m16 0h0m53 0h0m34 0h0m3 0h0m-75 1h0m66 0h0m-113 1h0m8 0h0m31 0h0m5 0h0m19 0h0m3 0h0m56 0h0m1 0h0m7 0h0m-125 1h0m19 0h0m5 0h0m7 0h0m14 0h0m6 0h0m5 0h0m14 0h0m19 0h0m5 0h0m5 0h0m-90 1h0m6 0h0m51 0h0m10 0h0m4 0h0m4 0h0m25 0h0m-6 1h0m27 0h0m-16 1h0m-107 1h0m15 0h0m4 0h0m8 0h0m2 0h0m11 0h0m14 0h0m63 0h0m-134 1h0m20 0h0m42 0h0m21 0h0m2 0h0m26 0h0m5 0h0m12 0h0m15 0h0m-135 1h0m4 0h0m14 0h0m41 0h0m12 0h0m14 0h0m5 0h0m9 0h0m32 0h0m-119 1h0m83 0h0m-103 1h0m24 0h0m65 0h0m-77 1h0m18 0h0m17 0h0m2 0h0m17 0h0m29 0h0m4 0h0m35 0h0m11 0h0m-139 1h0m3 0h0m26 0h0m20 0h0m5 0h0m10 0h0m3 0h0m8 0h0m4 0h0m27 0h0m18 0h0m10 0h0m-100 1h0m44 0h0m20 0h0m17 0h0m2 0h0m-91 1h0m19 0h0m71 0h0m15 0h0m-91 1h0m26 0h0m21 0h0m20 0h0m14 0h0m7 0h0m8 0h0m-146 1h0m10 0h0m6 0h0m13 0h0m17 0h0m34 0h0m19 0h0m12 0h0m9 0h0m29 0h0m-142 1h0m20 0h0m16 0h0m0 0h0m18 0h0m6 0h0m5 0h0m22 0h0m1 0h0m12 0h0m-86 1h0m67 0h0m11 0h0m-36 1h0m11 0h0m34 0h0m46 0h0m-154 1h0m2 0h0m7 0h0m40 0h0m10 0h0m10 0h0m34 0h0m11 0h0m8 0h0m7 0h0m10 0h0m4 0h0m8 0h0m-129 1h0m8 0h0m25 0h0m23 0h0m6 0h0m33 0h0m14 0h0m-126 1h0m9 0h0m3 0h0m15 0h0m7 0h0m-42 1h0m5 0h0m15 0h0m54 0h0m41 0h0m4 0h0m21 0h0m-144 1h0m17 0h0m18 0h0m3 0h0m5 0h0m15 0h0m25 0h0m5 0h0m16 0h0m10 0h0m-85 1h0m19 0h0m18 0h0m27 0h0m3 0h0m40 0h0m-82 1h0m10 0h0m9 0h0m35 0h0m21 0h0m4 0h0m-102 1h0m56 0h0m30 0h0m-101 1h0m40 0h0m39 0h0m13 0h0m3 0h0m20 0h0m3 0h0m-135 1h0m12 0h0m8 0h0m33 0h0m8 0h0m21 0h0m10 0h0m31 0h0m4 0h0m-122 1h0m37 0h0m5 0h0m19 0h0m5 0h0m32 0h0m-94 1h0m51 0h0m14 0h0m38 0h0m-100 1h0m26 0h0m31 0h0m14 0h0m-79 1h0m26 0h0m9 0h0m8 0h0m8 0h0m19 0h0m22 0h0m-76 1h0m25 0h0m21 0h0m34 0h0m8 0h0m-84 1h0m12 0h0m43 0h0m11 0h0m15 0h0m-97 1h0m5 0h0m9 0h0m15 0h0m25 0h0m36 0h0m8 0h0m-48 1h0m15 0h0m29 0h0m-71 1h0m10 0h0m8 0h0m5 0h0m13 0h0m13 0h0m2 0h0m5 0h0m6 0h0m-76 1h0m11 0h0m-8 1h0m6 0h0m47 0h0m6 0h0m-71 1h0m26 0h0m9 0h0m21 0h0m-51 1h0m25 0h0m13 0h0m10 0h0m23 0h0m5 0h0m6 0h0m-42 1h0m18 0h0m28 0h0m-70 1h0m13 0h0m55 0h0m-81 1h0m31 0h0m20 0h0m16 0h0m-61 1h0m10 0h0m20 0h0m6 0h0m3 0h0m13 0h0m2 0h0m12 0h0m4 0h0m-64 1h0m4 0h0m7 1h0m44 0h0m-25 2h0m32 0h0m4 0h0m-30 1h0m6 0h0m3 0h0m6 0h0m6 1h0m-8 2h0m5 0h0m-10 1h0m8 3h0m4 0h0"/>
<path id="k7" d="M1630 621h0m5 2h0m-13 1h0m5 1h0m22 0h0m-33 1h0m17 0h0m4 0h0m-14 1h0m19 0h0m-3 2h0m15 0h0m-26 1h0m22 0h0m10 0h0m4 0h0m-45 1h0m8 1h0m4 0h0m3 0h0m9 0h0m2 0h0m-25 1h0m25 0h0m6 0h0m9 0h0m10 0h0m-52 1h0m39 0h0m-45 1h0m23 0h0m33 0h0m-13 1h0m-40 1h0m4 0h0m15 0h0m5 0h0m5 0h0m14 0h0m6 0h0m15 0h0m-55 1h0m5 0h0m40 0h0m-20 1h0m34 0h0m-9 1h0m-62 1h0m33 0h0m20 0h0m23 0h0m-62 1h0m-7 1h0m13 0h0m9 0h0m16 0h0m14 0h0m4 0h0m7 0h0m-64 1h0m19 0h0m26 0h0m-24 2h0m4 0h0m11 0h0m5 0h0m6 0h0m18 0h0m7 0h0m-66 1h0m4 0h0m8 0h0m43 0h0m-71 1h0m8 0h0m36 0h0m18 0h0m5 0h0m18 0h0m-66 1h0m-16 1h0m4 0h0m4 0h0m3 0h0m11 0h0m18 0h0m18 0h0m17 0h0m5 0h0m-47 1h0m12 0h0m27 0h0m-76 1h0m29 0h0m5 0h0m20 0h0m12 0h0m6 0h0m16 0h0m-49 1h0m-27 1h0m9 0h0m5 0h0m26 0h0m14 0h0m-64 1h0m4 0h0m42 0h0m10 0h0m30 0h0m-90 1h0m40 0h0m23 0h0m10 0h0m12 0h0m9 0h0m-75 1h0m14 0h0m46 0h0m-51 1h0m25 0h0m-51 1h0m17 0h0m19 0h0m2 0h0m27 0h0m18 0h0m2 0h0m-79 1h0m15 0h0m33 0h0m17 0h0m-75 1h0m13 0h0m51 0h0m-59 1h0m29 0h0m13 0h0m13 0h0m5 0h0m14 0h0m15 0h0m-83 1h0m84 0h0m-93 1h0m14 0h0m4 0h0m7 0h0m4 0h0m4 0h0m6 0h0m7 0h0m5 0h0m23 0h0m5 0h0m6 0h0m5 0h0m-37 1h0m17 0h0m-69 1h0m6 1h0m7 1h0m8 0h0m8 0h0m15 0h0m6 0h0m26 0h0m5 0h0m-86 1h0m15 0h0m15 0h0m11 0h0m4 0h0m16 0h0m5 0h0m5 0h0m5 0h0m14 0h0m-7 1h0m11 0h0m-90 1h0m9 0h0m45 0h0m39 0h0m-91 1h0m30 0h0m16 0h0m36 0h0m-71 1h0m26 0h0m6 0h0m23 0h0m5 0h0m-56 1h0m43 0h0m28 0h0m-58 1h0m6 0h0m-34 1h0m20 0h0m11 0h0m48 0h0m4 0h0m-72 1h0m12 0h0m2 0h0m40 0h0m4 0h0m5 0h0m-70 1h0m9 0h0m31 0h0m11 0h0m6 0h0m28 0h0m-49 1h0m-34 1h0m39 0h0m6 0h0m26 0h0m7 0h0m-81 1h0m18 0h0m7 0h0m6 0h0m4 0h0m3 0h0m17 0h0m5 1h0m9 0h0m15 0h0m-76 1h0m7 0h0m35 0h0m14 0h0m-28 1h0m4 1h0m17 0h0m16 0h0m4 0h0m-76 1h0m7 0h0m3 0h0m7 0h0m3 0h0m6 0h0m4 0h0m16 0h0m6 0h0m13 0h0m-5 1h0m22 0h0m-74 2h0m45 0h0m-38 1h0m10 0h0m18 0h0m4 0h0m12 0h0m4 0h0m6 0h0m6 0h0m-72 1h0m15 0h0m10 0h0m4 0h0m5 1h0m42 0h0m-68 1h0m15 0h0m15 0h0m10 0h0m-28 1h0m13 0h0m19 0h0m-38 1h0m14 0h0m14 0h0m20 0h0m6 0h0m5 0h0m-16 1h0m-42 1h0m14 0h0m-18 1h0m9 0h0m13 0h0m18 0h0m9 0h0m-36 1h0m21 0h0m11 0h0m-16 1h0m25 0h0m-52 1h0m45 0h0m8 0h0m-39 1h0m16 0h0m-26 2h0m5 0h0m9 0h0m5 0h0m27 0h0m-14 1h0m0 1h0m-7 1h0m-22 1h0m6 0h0m4 0h0m7 0h0m8 1h0m3 1h0m5 0h0m-9 1h0m-8 1h0m-4 1h0m4 2h0m5 1h0"/>
<path id="k10" d="M1754 596h0m8 2h0m-19 2h0m14 0h0m11 0h0m-16 1h0m21 1h0m-36 1h0m24 0h0m-22 1h0m26 0h0m12 0h0m-21 1h0m-21 1h0m3 0h0m36 1h0m6 0h0m-22 1h0m7 0h0m-22 1h0m26 0h0m-22 1h0m7 0h0m-22 1h0m3 0h0m5 0h0m15 1h0m10 0h0m11 0h0m4 0h0m-33 1h0m13 0h0m-34 1h0m24 0h0m26 1h0m-37 1h0m-14 1h0m2 0h0m6 0h0m16 0h0m6 0h0m13 0h0m15 0h0m-39 1h0m19 0h0m11 0h0m-55 1h0m12 1h0m14 0h0m13 0h0m-42 1h0m9 0h0m11 0h0m34 0h0m15 0h0m-74 1h0m9 0h0m19 0h0m10 0h0m14 0h0m19 0h0m-49 1h0m32 0h0m-22 1h0m28 0h0m-53 1h0m9 0h0m11 0h0m15 0h0m26 0h0m-65 1h0m9 0h0m35 0h0m11 0h0m-20 2h0m10 0h0m5 0h0m-48 1h0m50 0h0m5 0h0m7 0h0m-72 1h0m14 0h0m15 0h0m12 0h0m11 0h0m-56 1h0m9 0h0m16 0h0m1 0h0m22 0h0m26 0h0m-40 1h0m5 0h0m-28 1h0m4 0h0m15 0h0m36 0h0m-69 1h0m25 0h0m31 0h0m3 0h0m6 0h0m14 0h0m-52 1h0m17 0h0m5 0h0m26 0h0m-70 2h0m9 0h0m64 0h0m-46 1h0m12 0h0m12 0h0m10 0h0m-66 1h0m27 0h0m20 0h0m6 0h0m19 0h0m-34 1h0m23 0h0m-44 1h0m26 0h0m-33 1h0m6 0h0m13 0h0m-29 1h0m4 0h0m35 0h0m11 0h0m15 0h0m14 0h0m-61 1h0m5 0h0m32 0h0m4 0h0m11 0h0m-15 1h0m20 0h0m-43 1h0m19 0h0m16 0h0m8 0h0m-74 1h0m8 0h0m3 0h0m6 0h0m20 0h0m3 0h0m21 0h0m10 0h0m-50 1h0m5 0h0m19 0h0m-42 1h0m23 1h0m48 0h0m-66 1h0m10 0h0m10 0h0m4 0h0m31 0h0m-25 1h0m19 0h0m12 0h0m-55 1h0m28 0h0m6 0h0m8 0h0m-7 1h0m10 0h0m-58 1h0m10 0h0m44 0h0m-49 1h0m8 0h0m14 0h0m4 0h0m9 0h0m25 0h0m3 0h0m-35 1h0m12 0h0m-24 1h0m-12 1h0m3 0h0m21 0h0m3 0h0m-12 1h0m4 0h0m19 0h0m6 0h0m3 0h0m10 0h0m-63 1h0m40 0h0m20 0h0m1 1h0m-36 1h0m-26 1h0m1 0h0m12 0h0m40 0h0m-46 1h0m24 0h0m8 0h0m5 0h0m5 0h0m-31 1h0m5 0h0m36 0h0m-39 2h0m10 0h0m9 0h0m10 0h0m-48 1h0m11 0h0m14 0h0m8 0h0m11 0h0m17 0h0m-56 1h0m9 0h0m18 1h0m22 0h0m-42 1h0m11 0h0m35 0h0m-56 1h0m5 0h0m10 0h0m24 0h0m4 0h0m8 0h0m-52 2h0m26 0h0m9 0h0m-17 1h0m25 0h0m-18 1h0m1 0h0m-18 2h0m5 0h0m24 0h0m13 0h0m-48 1h0m14 0h0m-5 1h0m10 0h0m2 1h0m9 0h0m3 0h0m-33 1h0m3 0h0m41 0h0m-28 1h0m4 0h0m12 0h0m1 0h0m-30 1h0m34 0h0m8 0h0m-39 1h0m6 0h0m16 0h0m15 2h0m-22 1h0m15 0h0m-12 1h0m6 0h0m10 0h0m-26 1h0m19 0h0m-7 2h0m13 1h0m2 0h0m-10 1h0m5 0h0m3 2h0m5 2h0m-16 1h0m14 1h0m-10 2h0m5 0h0m3 1h0m5 0h0m-10 2h0m7 1h0m2 1h0m-4 1h0m2 3h0m6 0h0m-12 1h0m10 2h0m-6 1h0m4 0h0m-5 4h0m10 0h0m0 1h0m-5 4h0m4 1h0m3 1h0m-4 3h0m5 0h0m2 2h0m1 1h0m-6 2h0m2 2h0m5 0h0"/>
<path id="k15" d="M1588 413h0m7 1h0m-3 3h0m8 0h0m-14 1h0m10 0h0m-3 2h0m11 1h0m-15 1h0m8 0h0m4 3h0m-9 1h0m4 0h0"/>
<path id="k15b" d="M1809 608h0m6 3h0m-2 2h0m-1 3h0m8 1h0m-6 1h0m11 0h0m-8 3h0m12 2h0m-10 1h0m11 3h0m-3 3h0m-4 1h0m11 0h0m-10 2h0m7 1h0m5 0h0m-2 4h0m3 0h0"/>
<path id="k11" d="M2027 822h0m6 1h0m-10 3h0m7 0h0m6 1h0m-14 1h0m11 1h0m-8 2h0m11 0h0m4 1h0m-12 1h0m-5 1h0m19 0h0m-7 1h0m7 1h0m-6 1h0m-14 1h0m4 0h0m4 0h0m15 0h0m5 2h0m-30 1h0m4 0h0m19 0h0m-9 1h0m3 0h0m20 0h0m-8 1h0m4 0h0m-24 1h0m35 0h0m-32 1h0m18 0h0m10 0h0m-39 1h0m5 0h0m10 0h0m5 0h0m5 1h0m11 0h0m-32 2h0m10 0h0m-5 1h0m9 0h0m8 0h0m16 0h0m-18 1h0m13 0h0m-7 1h0m-8 1h0m3 0h0m-17 1h0m22 0h0m6 0h0m-37 1h0m16 0h0m27 0h0m-8 1h0m-29 1h0m23 0h0m-74 1h0m11 0h0m5 0h0m28 0h0m10 0h0m10 0h0m16 0h0m-84 1h0m10 0h0m33 0h0m22 0h0m15 0h0m10 0h0m-95 1h0m59 0h0m18 0h0m-22 1h0m-32 1h0m4 0h0m43 0h0m5 0h0m20 0h0m-82 1h0m23 0h0m9 0h0m20 0h0m16 0h0m3 0h0m-54 1h0m20 0h0m49 0h0m4 0h0m-99 1h0m3 0h0m0 0h0m54 0h0m25 0h0m-71 1h0m20 0h0m3 1h0m5 0h0m7 0h0m13 0h0m6 0h0m4 0h0m18 0h0m5 0h0m5 0h0m-87 1h0m6 0h0m33 0h0m4 0h0m24 0h0m-32 1h0m27 0h0m11 0h0m-45 1h0m5 0h0m56 0h0m2 0h0m-48 1h0m8 0h0m6 0h0m11 0h0m1 0h0m7 0h0m7 0h0m-37 1h0m16 0h0m-4 2h0m9 0h0m13 0h0m3 0h0m-38 1h0m20 0h0m13 0h0m-37 1h0m6 0h0m7 0h0m18 0h0m15 0h0m-6 1h0m-11 1h0m2 0h0m-17 1h0m31 0h0m-35 1h0m-4 1h0m14 0h0m5 0h0m-8 2h0m9 0h0m-18 1h0m6 0h0m10 0h0m7 0h0m10 0h0m-28 2h0m21 0h0m-22 1h0m13 0h0m11 0h0m2 0h0m-19 1h0m11 0h0m-7 4h0"/>
<path id="k16" d="M1947 952h0m-1 2h0m-1 9h0m-7 4h0"/>
</defs>
<g fill="none" stroke-linecap="round" stroke-width="6.8" transform="scale(.5)">
<use href="#k2" stroke="#279e68"/>
<use href="#k4" stroke="#8a56b5"/>
<use href="#k6" stroke="#e377c2"/>
<use href="#k3" stroke="#d62728"/>
<use href="#k14" stroke="#c49c94"/>
<use href="#k13" stroke="#c5b0d5"/>
<use href="#k8" stroke="#17becf"/>
<use href="#k9" stroke="#aec7e8"/>
<use href="#k5" stroke="#8c564b"/>
<use href="#k1" stroke="#ff7f0e"/>
<use href="#k12" stroke="#ff9896"/>
<use href="#k0" stroke="#1f77b4"/>
<use href="#k7" stroke="#b5bd61"/>
<use href="#k10" stroke="#ffbb78"/>
<use href="#k15" stroke="#f7b6d2"/>
<use href="#k15b" stroke="#f7b6d2"/>
<use href="#k11" stroke="#98df8a"/>
<use href="#k16" stroke="#dbdb8d"/>
</g>
<g fill="none" stroke-linecap="round" stroke-width="6.8" transform="translate(654.5 0) scale(.5)">
<use href="#k2" stroke="#ff7f0e"/>
<use href="#k4" stroke="#8c564b"/>
<use href="#k6" stroke="#8a56b5"/>
<use href="#k3" stroke="#e377c2"/>
<use href="#k14" stroke="#b5bd61"/>
<use href="#k13" stroke="#17becf"/>
<use href="#k8" stroke="#17becf"/>
<use href="#k9" stroke="#aec7e8"/>
<use href="#k5" stroke="#98df8a"/>
<use href="#k1" stroke="#aec7e8"/>
<use href="#k12" stroke="#279e68"/>
<use href="#k0" stroke="#1f77b4"/>
<use href="#k7" stroke="#d62728"/>
<use href="#k10" stroke="#d62728"/>
<use href="#k15" stroke="#ff9896"/>
<use href="#k15b" stroke="#ff9896"/>
<use href="#k11" stroke="#ffbb78"/>
<use href="#k16" stroke="#ffbb78"/>
</g>
<g fill="none" stroke-linecap="round" stroke-width="6.8" transform="translate(-642.5 0) scale(.5)">
<g stroke="#d4d4d4" stroke-width="7.4">
<use href="#k2"/>
<use href="#k4"/>
<use href="#k6"/>
<use href="#k3"/>
<use href="#k14"/>
<use href="#k13"/>
<use href="#k8"/>
<use href="#k9"/>
<use href="#k5"/>
<use href="#k1"/>
<use href="#k12"/>
<use href="#k0"/>
<use href="#k7"/>
<use href="#k10"/>
<use href="#k15"/>
<use href="#k15b"/>
<use href="#k11"/>
<use href="#k16"/>
</g>
<path d="M2151 258h0m6 0h0m3 0h0m-9 3h0m-11 1h0m8 0h0m7 0h0m24 0h0m-23 1h0m39 0h0m-24 1h0m19 0h0m13 0h0m-63 2h0m31 0h0m26 0h0m5 0h0m-62 1h0m14 1h0m55 0h0m-59 1h0m10 0h0m-26 1h0m20 0h0m14 0h0m48 0h0m-21 1h0m5 0h0m10 0h0m-29 1h0m-58 2h0m21 0h0m56 0h0m4 0h0m-29 1h0m13 0h0m-46 1h0m1 1h0m24 0h0m-29 2h0m10 0h0m62 0h0m-37 1h0m-351 1h0m374 0h0m-80 1h0m6 0h0m45 0h0m34 0h0m-22 1h0m31 0h0m-63 1h0m14 0h0m32 0h0m-68 2h0m2 0h0m50 0h0m10 1h0m-73 1h0m24 0h0m42 0h0m9 0h0m-23 1h0m19 0h0m14 0h0m-42 1h0m4 1h0m-47 1h0m8 0h0m33 0h0m40 0h0m14 0h0m-75 1h0m22 0h0m-18 2h0m25 0h0m17 0h0m12 0h0m12 0h0m-90 1h0m89 0h0m-75 1h0m18 1h0m-37 1h0m35 0h0m7 0h0m44 1h0m7 0h0m-44 1h0m51 0h0m-60 1h0m-22 1h0m33 0h0m13 0h0m-69 1h0m7 0h0m61 0h0m10 0h0m16 0h0m12 1h0m-47 1h0m17 0h0m-45 1h0m51 0h0m-43 1h0m20 0h0m-49 1h0m54 0h0m7 0h0m24 0h0m9 0h0m-80 1h0m53 0h0m14 0h0m-82 1h0m14 0h0m27 0h0m7 0h0m-27 1h0m40 0h0m-49 1h0m42 0h0m32 0h0m-75 1h0m75 0h0m-53 2h0m46 0h0m-15 2h0m-15 5h0m8 0h0m-37 2h0m61 0h0m-301 3h0m9 0h0m219 0h0m59 0h0m-261 1h0m-28 1h0m283 0h0m-275 1h0m7 0h0m8 0h0m-12 1h0m17 0h0m4 0h0m7 0h0m-3 1h0m228 0h0m-273 1h0m302 0h0m-304 1h0m44 0h0m20 0h0m232 0h0m-282 1h0m4 0h0m12 0h0m25 0h0m218 0h0m44 0h0m8 0h0m-317 1h0m19 0h0m25 0h0m204 0h0m6 0h0m-204 1h0m203 0h0m-250 1h0m269 0h0m9 0h0m9 0h0m-279 1h0m11 0h0m22 0h0m17 0h0m180 0h0m18 0h0m-246 1h0m14 0h0m298 0h0m-329 1h0m2 0h0m18 0h0m40 0h0m9 0h0m177 0h0m-252 1h0m45 0h0m197 0h0m14 0h0m-249 1h0m11 0h0m27 0h0m30 0h0m200 0h0m-261 1h0m22 0h0m25 0h0m-25 1h0m14 0h0m20 0h0m163 0h0m29 0h0m28 0h0m-282 1h0m4 0h0m42 0h0m2 0h0m12 0h0m-91 1h0m42 0h0m3 0h0m20 0h0m-14 1h0m230 0h0m-230 1h0m223 0h0m73 0h0m-308 1h0m218 0h0m63 0h0m-24 1h0m-223 1h0m226 0h0m-256 1h0m5 0h0m52 0h0m153 0h0m104 0h0m-312 1h0m14 0h0m-22 1h0m264 0h0m-250 1h0m229 1h0m-227 1h0m182 0h0m99 0h0m-295 1h0m9 0h0m271 0h0m14 0h0m-81 1h0m17 0h0m84 0h0m-7 1h0m-111 1h0m18 1h0m32 0h0m3 0h0m60 0h0m-23 1h0m-279 1h0m281 1h0m-278 1h0m226 0h0m32 0h0m-2 1h0m-304 1h0m237 1h0m50 0h0m6 0h0m-31 1h0m67 0h0m-28 1h0m6 1h0m37 0h0m-85 1h0m118 0h0m-129 2h0m71 0h0m30 0h0m4 0h0m-89 1h0m1 0h0m22 1h0m72 3h0m-55 1h0m68 0h0m0 0h0m-136 1h0m39 0h0m21 0h0m32 0h0m26 0h0m14 0h0m13 0h0m-143 1h0m28 0h0m13 0h0m44 1h0m-326 1h0m375 0h0m-24 1h0m-47 1h0m55 0h0m-354 1h0m319 0h0m43 0h0m-100 1h0m100 1h0m-376 1h0m12 1h0m280 0h0m88 1h0m-425 1h0m302 0h0m30 0h0m22 0h0m46 0h0m35 0h0m10 0h0m-85 1h0m54 0h0m-103 1h0m50 0h0m95 0h0m-75 1h0m-1 1h0m68 0h0m-113 1h0m56 0h0m-56 1h0m69 1h0m28 1h0m6 0h0m-45 1h0m11 0h0m29 0h0m-59 1h0m-28 1h0m72 0h0m-18 1h0m28 0h0m10 0h0m-404 2h0m414 1h0m-103 1h0m19 0h0m68 0h0m14 0h0m-405 1h0m286 0h0m21 0h0m-305 1h0m241 0h0m124 0h0m21 0h0m2 1h0m19 1h0m-56 2h0m42 0h0m1 0h0m-186 1h0m176 1h0m13 0h0m-421 1h0m226 0h0m9 0h0m17 0h0m74 0h0m-298 1h0m287 0h0m-16 1h0m92 0h0m38 1h0m-126 1h0m94 0h0m-167 1h0m123 0h0m-90 1h0m-194 1h0m303 0h0m-136 1h0m-2 1h0m115 0h0m-131 1h0m6 0h0m72 0h0m-232 1h0m180 0h0m159 0h0m-154 1h0m59 0h0m36 0h0m66 0h0m-328 1h0m120 0h0m136 0h0m54 0h0m23 0h0m-406 1h0m304 0h0m86 0h0m-184 1h0m88 0h0m53 0h0m12 0h0m63 0h0m-227 1h0m125 0h0m88 0h0m-173 1h0m44 0h0m5 0h0m119 0h0m-177 1h0m145 0h0m-229 1h0m58 0h0m-74 1h0m4 0h0m269 0h0m-633 1h0m13 0h0m332 0h0m118 0h0m20 0h0m46 0h0m5 0h0m19 0h0m17 0h0m30 0h0m-218 1h0m43 0h0m115 0h0m112 0h0m-428 1h0m11 0h0m137 0h0m22 0h0m55 0h0m17 0h0m90 0h0m81 0h0m1 0h0m-241 1h0m133 0h0m83 0h0m-612 1h0m399 0h0m150 0h0m53 0h0m-610 1h0m266 0h0m99 0h0m86 0h0m73 0h0m56 0h0m-274 1h0m43 0h0m42 0h0m179 0h0m34 0h0m52 0h0m-63 1h0m9 0h0m-237 1h0m12 0h0m4 0h0m19 0h0m29 0h0m182 0h0m-370 1h0m130 0h0m52 0h0m16 0h0m78 0h0m36 0h0m31 0h0m36 0h0m-604 1h0m422 0h0m98 0h0m114 0h0m-635 1h0m21 0h0m350 0h0m60 0h0m146 0h0m-276 1h0m57 0h0m41 0h0m9 0h0m5 0h0m-57 1h0m17 0h0m5 0h0m20 0h0m149 0h0m55 0h0m-213 1h0m2 0h0m113 0h0m44 0h0m44 0h0m18 0h0m-240 2h0m152 1h0m26 0h0m64 0h0m-441 1h0m170 0h0m70 0h0m2 0h0m-194 1h0m171 0h0m121 0h0m-130 1h0m111 0h0m29 0h0m-155 1h0m23 0h0m149 0h0m22 0h0m-186 1h0m10 0h0m124 0h0m25 0h0m37 0h0m-208 1h0m52 0h0m-49 1h0m27 0h0m135 0h0m-168 1h0m48 0h0m82 0h0m68 0h0m-324 1h0m332 0h0m20 0h0m-243 1h0m17 0h0m212 1h0m22 0h0m-225 1h0m191 0h0m-277 1h0m92 0h0m17 0h0m94 0h0m85 0h0m-222 1h0m47 0h0m149 0h0m10 0h0m27 0h0m-291 1h0m57 0h0m53 0h0m166 0h0m-216 1h0m229 0h0m-171 1h0m-423 1h0m262 0h0m127 0h0m7 0h0m15 0h0m7 0h0m171 0h0m-634 1h0m56 0h0m370 0h0m196 0h0m-512 1h0m314 0h0m28 0h0m99 0h0m-5 1h0m84 0h0m15 0h0m-20 1h0m-558 1h0m27 0h0m223 0h0m119 1h0m23 0h0m-41 1h0m189 0h0m-616 1h0m35 0h0m374 0h0m47 0h0m17 0h0m-33 1h0m-393 1h0m36 0h0m236 0h0m123 0h0m12 0h0m16 0h0m-431 1h0m384 0h0m6 0h0m44 0h0m149 0h0m37 0h0m-592 1h0m349 0h0m38 0h0m-290 1h0m37 0h0m258 0h0m184 0h0m11 0h0m-643 2h0m40 0h0m50 0h0m318 0h0m30 0h0m198 0h0m-486 1h0m473 0h0m-585 1h0m24 0h0m5 0h0m17 0h0m81 0h0m165 0h0m84 0h0m37 0h0m16 0h0m-309 1h0m21 0h0m219 0h0m4 0h0m54 0h0m-361 1h0m323 0h0m30 0h0m197 0h0m-579 1h0m335 0h0m44 0h0m-425 1h0m42 0h0m76 0h0m56 0h0m448 0h0m-609 1h0m371 0h0m-273 1h0m5 0h0m271 0h0m-387 1h0m34 0h0m43 0h0m55 0h0m40 0h0m248 0h0m203 0h0m-568 1h0m48 0h0m507 0h0m-210 1h0m10 0h0m5 0h0m-352 1h0m101 0h0m-123 1h0m29 0h0m39 0h0m47 0h0m266 0h0m-465 1h0m138 0h0m4 0h0m19 0h0m5 0h0m21 0h0m22 0h0m457 0h0m-662 1h0m184 0h0m8 0h0m120 0h0m117 0h0m225 0h0m-638 1h0m117 0h0m40 0h0m130 0h0m-4 1h0m124 0h0m18 0h0m-417 1h0m65 0h0m325 0h0m50 0h0m-21 1h0m-369 1h0m19 0h0m55 0h0m281 0h0m30 0h0m-302 1h0m24 0h0m33 0h0m16 0h0m157 0h0m-272 1h0m22 0h0m69 0h0m5 0h0m74 0h0m131 0h0m15 0h0m-302 1h0m42 0h0m22 0h0m29 0h0m225 0h0m-443 1h0m8 0h0m25 0h0m22 0h0m153 1h0m12 0h0m69 0h0m-238 1h0m75 0h0m168 0h0m-175 1h0m9 0h0m33 0h0m44 0h0m152 0h0m68 0h0m-420 1h0m221 0h0m55 0h0m-251 1h0m23 0h0m5 0h0m35 0h0m6 0h0m171 0h0m168 0h0m-334 1h0m37 0h0m30 0h0m2 0h0m14 0h0m52 0h0m198 0h0m-432 1h0m418 0h0m-422 1h0m16 0h0m14 0h0m91 0h0m21 0h0m70 0h0m64 0h0m-197 1h0m119 0h0m99 0h0m12 0h0m-248 1h0m87 0h0m-77 1h0m49 0h0m89 0h0m-178 1h0m77 0h0m7 0h0m25 0h0m12 0h0m34 0h0m-93 1h0m86 0h0m-167 1h0m15 0h0m53 0h0m10 0h0m136 0h0m65 0h0m-215 1h0m55 0h0m57 0h0m89 0h0m5 0h0m-246 1h0m135 0h0m44 0h0m48 0h0m-213 1h0m41 0h0m71 0h0m68 0h0m63 0h0m-232 1h0m56 0h0m40 0h0m24 0h0m7 0h0m12 0h0m15 0h0m-44 1h0m-167 1h0m6 0h0m99 0h0m129 1h0m43 0h0m11 0h0m-215 1h0m13 0h0m3 0h0m-86 1h0m102 0h0m99 0h0m65 0h0m-152 1h0m41 0h0m10 0h0m-158 1h0m36 0h0m24 0h0m163 0h0m-213 1h0m29 0h0m18 0h0m80 0h0m30 0h0m-150 1h0m14 0h0m89 0h0m106 0h0m-205 1h0m125 0h0m73 0h0m7 0h0m-181 1h0m34 0h0m23 0h0m91 0h0m98 0h0m-205 1h0m15 0h0m26 0h0m91 0h0m-219 1h0m5 0h0m125 0h0m6 0h0m41 0h0m106 0h0m-221 1h0m61 0h0m47 0h0m34 0h0m5 0h0m-74 1h0m55 0h0m24 0h0m-182 1h0m10 0h0m75 0h0m59 0h0m-128 1h0m29 0h0m2 0h0m115 0h0m15 0h0m-107 1h0m76 0h0m12 0h0m30 0h0m35 0h0m-224 1h0m99 0h0m128 0h0m-242 1h0m138 0h0m15 0h0m13 0h0m-43 1h0m-65 1h0m10 0h0m70 0h0m-131 1h0m65 0h0m93 0h0m51 0h0m-207 1h0m43 0h0m126 0h0m-101 1h0m56 0h0m54 0h0m6 0h0m63 1h0m-209 1h0m44 0h0m33 0h0m75 0h0m19 0h0m28 0h0m-96 1h0m15 0h0m13 1h0m55 0h0m-126 1h0m53 0h0m32 0h0m48 0h0m-222 2h0m9 1h0m53 0h0m31 0h0m94 0h0m5 0h0m-62 1h0m10 0h0m9 0h0m36 0h0m23 0h0m-206 1h0m9 0h0m107 0h0m20 1h0m3 0h0m9 0h0m62 0h0m24 0h0m-183 1h0m69 0h0m10 0h0m49 0h0m-141 1h0m50 0h0m70 1h0m40 0h0m-51 1h0m3 0h0m35 0h0m18 0h0m-127 1h0m46 0h0m87 0h0m-100 1h0m113 0h0m-24 1h0m-109 1h0m118 0h0m-128 1h0m-20 1h0m125 0h0m-142 1h0m11 0h0m97 0h0m50 1h0m-56 1h0m-63 1h0m-40 1h0m111 0h0m57 0h0m-125 1h0m80 0h0m-92 1h0m-28 1h0m160 0h0m-138 1h0m58 0h0m94 0h0m-163 1h0m15 0h0m36 0h0m12 0h0m28 0h0m36 1h0m21 0h0m-174 2h0m16 2h0m32 0h0m23 0h0m13 0h0m14 0h0m10 0h0m2 0h0m4 0h0m-110 1h0m1 0h0m74 0h0m-49 1h0m0 0h0m50 0h0m57 0h0m-119 1h0m42 0h0m-67 1h0m53 0h0m11 0h0m10 1h0m-57 1h0m36 0h0m55 1h0m-99 1h0m131 1h0m-134 1h0m23 0h0m25 0h0m20 0h0m-8 2h0m23 0h0m-12 1h0m27 0h0m4 0h0m-47 2h0m80 0h0m3 0h0m-8 1h0m-111 1h0m67 0h0m-77 1h0m164 0h0m-107 1h0m-59 1h0m39 0h0m-11 1h0m28 0h0m152 1h0m-161 1h0m-15 1h0m38 0h0m37 0h0m-87 1h0m92 0h0m-84 1h0m14 1h0m22 2h0m95 0h0m58 2h0m-147 1h0m-64 2h0m202 1h0m15 2h0m-152 12h0m-27 1h0m-20 1h0m120 4h0m-134 2h0m43 0h0m-25 1h0m44 9h0m-15 1h0m-27 2h0m-14 17h0m41 0h0m75 5h0m-119 14h0m56 0h0m344 121h0m-6 6h0m19 4h0m-11 2h0m-6 2h0m2 4h0m35 2h0m-33 2h0m3 0h0m6 1h0m-2 2h0m11 1h0m19 0h0m-38 2h0m13 0h0m5 3h0m-7 1h0m14 0h0m-21 1h0m25 0h0m-14 4h0m-74 1h0m54 0h0m42 1h0m-83 2h0m51 0h0m10 0h0m10 0h0m-3 1h0m-68 2h0m62 0h0m12 0h0m-13 2h0m-32 2h0m6 1h0m30 1h0m2 0h0m23 0h0m-28 1h0m19 0h0m-23 1h0m25 0h0m-10 2h0m7 1h0m7 3h0m-38 2h0m6 4h0m22 0h0m-24 1h0m23 0h0m-16 2h0m-91 64h0m1 0h0m-6 8h0m-3 7h0" stroke="#1f77b4" stroke-width="6.2"/>
<path d="M2164 256h0m6 3h0m15 2h0m-8 1h0m-14 1h0m9 2h0m7 0h0m3 1h0m-13 1h0m15 0h0m16 0h0m-68 1h0m27 0h0m46 0h0m-77 1h0m63 0h0m-49 2h0m6 0h0m39 0h0m-59 1h0m5 0h0m41 0h0m-40 2h0m35 0h0m-18 1h0m4 0h0m2 0h0m22 0h0m30 0h0m5 0h0m3 0h0m-81 1h0m30 0h0m-36 1h0m52 0h0m0 0h0m11 0h0m-31 1h0m-23 1h0m2 0h0m47 0h0m27 0h0m-43 1h0m-21 1h0m1 0h0m13 0h0m19 0h0m34 0h0m-105 1h0m81 0h0m16 0h0m-90 1h0m70 0h0m-58 1h0m-16 1h0m52 0h0m23 0h0m25 1h0m-89 2h0m15 0h0m6 0h0m2 0h0m-41 1h0m24 0h0m17 0h0m22 0h0m35 0h0m-101 1h0m67 0h0m40 0h0m-81 1h0m9 0h0m37 0h0m42 2h0m-102 1h0m40 0h0m9 1h0m1 0h0m12 0h0m-23 1h0m54 0h0m-87 1h0m20 0h0m73 0h0m-69 1h0m23 0h0m27 1h0m-90 1h0m6 0h0m12 0h0m6 0h0m36 0h0m12 0h0m-64 1h0m48 0h0m19 0h0m7 0h0m16 0h0m8 0h0m-98 1h0m-268 1h0m318 0h0m13 0h0m-56 1h0m8 0h0m7 0h0m5 0h0m8 0h0m-45 1h0m15 0h0m30 0h0m53 0h0m-14 2h0m5 0h0m-82 1h0m6 0h0m6 0h0m10 0h0m9 0h0m10 0h0m10 0h0m15 3h0m6 1h0m-66 1h0m20 0h0m64 0h0m-93 1h0m25 0h0m3 0h0m9 0h0m5 0h0m-35 2h0m56 0h0m-41 1h0m33 1h0m-19 1h0m-31 1h0m8 0h0m35 0h0m-5 1h0m20 0h0m6 0h0m18 1h0m-10 2h0m-66 1h0m6 0h0m13 0h0m-249 3h0m278 0h0m-22 2h0m3 0h0m40 0h0m-257 1h0m-22 1h0m283 0h0m-52 1h0m-248 2h0m24 0h0m27 0h0m170 1h0m39 0h0m35 1h0m-271 3h0m228 0h0m13 0h0m5 0h0m-280 1h0m50 0h0m-29 1h0m232 1h0m-229 1h0m276 0h0m2 0h0m-306 1h0m46 0h0m13 0h0m204 0h0m42 0h0m10 0h0m-278 1h0m18 2h0m224 0h0m-249 1h0m38 0h0m-11 2h0m203 0h0m20 2h0m50 0h0m-68 1h0m38 0h0m-58 1h0m39 1h0m-265 1h0m14 0h0m306 0h0m-320 3h0m247 0h0m54 0h0m-79 1h0m34 0h0m-53 1h0m63 0h0m-13 1h0m27 2h0m17 1h0m-80 4h0m34 0h0m-14 3h0m-24 2h0m14 0h0m82 1h0m15 0h0m-377 1h0m356 0h0m-56 1h0m71 0h0m-359 2h0m255 0h0m8 0h0m48 1h0m33 1h0m-24 2h0m8 0h0m-343 1h0m256 0h0m54 1h0m16 0h0m1 0h0m27 0h0m-7 2h0m21 0h0m-90 1h0m32 0h0m89 0h0m-113 1h0m-10 2h0m80 0h0m51 0h0m-102 1h0m31 0h0m52 0h0m-60 1h0m36 0h0m-91 1h0m121 0h0m2 0h0m-80 1h0m33 0h0m-91 1h0m144 0h0m-94 1h0m43 0h0m14 0h0m-37 1h0m51 1h0m-35 1h0m-452 1h0m417 0h0m16 0h0m-13 1h0m101 0h0m-137 1h0m103 0h0m-130 1h0m164 0h0m-96 1h0m13 0h0m80 0h0m-84 1h0m34 0h0m7 0h0m34 0h0m9 1h0m-51 1h0m-43 1h0m56 1h0m44 1h0m5 1h0m-108 1h0m33 0h0m15 1h0m-73 1h0m30 0h0m46 0h0m10 0h0m43 0h0m-121 2h0m25 0h0m32 0h0m18 0h0m38 0h0m6 0h0m-140 1h0m4 0h0m18 0h0m13 0h0m35 1h0m12 0h0m1 0h0m-357 1h0m297 0h0m93 0h0m-191 1h0m135 0h0m69 0h0m-418 1h0m212 0h0m146 0h0m25 0h0m13 0h0m41 0h0m-95 1h0m70 0h0m-204 1h0m22 0h0m146 0h0m11 0h0m-159 1h0m-24 1h0m12 0h0m3 0h0m158 0h0m5 0h0m-166 1h0m94 0h0m109 0h0m-135 1h0m27 0h0m129 0h0m-115 1h0m-98 1h0m8 0h0m57 0h0m23 0h0m16 0h0m75 0h0m-103 1h0m92 0h0m37 0h0m-373 1h0m153 0h0m-14 1h0m0 0h0m25 0h0m58 0h0m91 0h0m0 1h0m19 0h0m-333 1h0m131 1h0m15 0h0m27 0h0m56 0h0m36 0h0m-104 1h0m100 0h0m-556 2h0m436 0h0m134 0h0m-124 1h0m102 0h0m42 0h0m-286 1h0m144 0h0m80 0h0m91 0h0m41 0h0m-363 1h0m162 0h0m133 0h0m40 0h0m-260 1h0m52 0h0m16 0h0m-169 1h0m84 0h0m66 0h0m1 0h0m97 0h0m9 0h0m10 0h0m46 0h0m-296 1h0m63 0h0m43 0h0m30 0h0m18 0h0m69 0h0m125 0h0m9 0h0m-280 1h0m25 0h0m45 0h0m15 0h0m118 0h0m15 0h0m-243 1h0m15 0h0m16 0h0m85 0h0m109 0h0m15 0h0m-196 1h0m65 1h0m98 0h0m-528 1h0m212 0h0m170 0h0m106 0h0m105 0h0m-91 1h0m-228 1h0m17 0h0m32 0h0m80 0h0m159 0h0m19 0h0m6 0h0m5 0h0m19 0h0m-601 1h0m263 0h0m24 0h0m61 0h0m39 0h0m17 0h0m7 0h0m-86 1h0m9 0h0m145 0h0m60 0h0m65 0h0m-591 1h0m559 0h0m-607 1h0m301 0h0m103 0h0m111 0h0m-496 1h0m279 0h0m53 0h0m45 0h0m114 0h0m9 0h0m14 0h0m-207 1h0m85 0h0m110 0h0m110 0h0m-278 1h0m20 0h0m64 0h0m137 0h0m24 0h0m8 0h0m-581 1h0m14 0h0m330 0h0m48 0h0m132 0h0m36 0h0m-164 1h0m86 0h0m11 0h0m47 0h0m46 0h0m-385 1h0m79 0h0m113 0h0m143 0h0m10 0h0m-60 1h0m95 0h0m-594 1h0m296 1h0m79 0h0m123 0h0m71 0h0m-536 1h0m327 0h0m20 0h0m29 0h0m177 0h0m16 0h0m-306 1h0m99 0h0m111 0h0m-545 1h0m444 0h0m138 0h0m61 0h0m-105 1h0m-109 1h0m194 0h0m18 0h0m-389 1h0m291 0h0m85 0h0m-295 1h0m64 0h0m238 1h0m-236 1h0m16 1h0m111 0h0m104 0h0m-238 1h0m40 0h0m167 0h0m-590 1h0m263 0h0m52 1h0m109 0h0m-408 1h0m397 0h0m-338 1h0m357 0h0m148 0h0m49 0h0m-488 1h0m245 0h0m18 0h0m111 0h0m78 0h0m30 0h0m-640 1h0m165 0h0m227 0h0m17 0h0m48 0h0m173 0h0m14 0h0m-463 1h0m349 0h0m78 0h0m-523 1h0m18 0h0m64 0h0m11 0h0m-10 1h0m175 0h0m72 0h0m224 0h0m-482 1h0m99 0h0m-85 1h0m249 0h0m-424 1h0m143 0h0m239 0h0m76 0h0m-127 1h0m89 0h0m15 0h0m14 0h0m18 0h0m160 0h0m-602 1h0m314 0h0m-243 1h0m86 0h0m244 0h0m42 0h0m-415 1h0m91 0h0m286 0h0m26 0h0m193 0h0m-657 1h0m16 0h0m95 0h0m18 0h0m39 0h0m257 0h0m-388 1h0m19 0h0m389 0h0m186 0h0m-493 1h0m19 0h0m259 0h0m-384 1h0m155 0h0m155 1h0m81 0h0m8 0h0m7 0h0m27 0h0m174 0h0m5 0h0m-629 1h0m120 0h0m53 0h0m283 0h0m-407 1h0m22 0h0m381 0h0m-297 1h0m277 0h0m-431 1h0m114 0h0m76 0h0m443 0h0m-486 1h0m273 0h0m-239 1h0m226 0h0m-294 1h0m291 0h0m28 0h0m8 0h0m-285 1h0m32 0h0m81 0h0m155 0h0m5 0h0m9 0h0m-434 1h0m11 0h0m109 0h0m68 0h0m230 0h0m-391 1h0m24 0h0m23 0h0m37 0h0m1 0h0m287 0h0m6 0h0m35 0h0m-1 1h0m-444 1h0m91 0h0m123 0h0m71 0h0m129 0h0m-425 1h0m122 0h0m163 0h0m111 0h0m23 0h0m224 0h0m-649 1h0m27 0h0m1 0h0m11 0h0m145 0h0m104 0h0m-293 1h0m222 0h0m228 0h0m-332 1h0m94 0h0m230 0h0m-394 1h0m66 0h0m25 0h0m19 0h0m271 0h0m-417 1h0m28 0h0m195 0h0m77 0h0m77 0h0m64 0h0m-372 1h0m-33 1h0m97 0h0m10 0h0m39 0h0m7 0h0m-159 1h0m380 0h0m0 0h0m8 0h0m15 0h0m-388 1h0m13 0h0m106 0h0m-153 1h0m65 0h0m43 0h0m50 1h0m140 0h0m-283 1h0m97 0h0m31 0h0m-98 1h0m114 0h0m38 0h0m92 0h0m-289 1h0m68 0h0m20 0h0m92 0h0m57 0h0m28 0h0m-268 1h0m32 0h0m137 0h0m104 0h0m23 0h0m-271 1h0m91 0h0m8 0h0m28 0h0m40 0h0m19 0h0m15 0h0m5 0h0m12 0h0m-194 1h0m13 1h0m95 0h0m102 0h0m-241 1h0m27 0h0m101 0h0m133 0h0m-49 1h0m-174 1h0m19 0h0m152 0h0m14 0h0m44 0h0m9 0h0m-273 1h0m28 0h0m113 0h0m119 0h0m-171 1h0m70 0h0m88 0h0m-234 1h0m6 0h0m248 0h0m-293 1h0m140 0h0m146 0h0m-115 1h0m-153 1h0m85 0h0m88 0h0m14 0h0m4 0h0m84 0h0m-296 1h0m6 0h0m21 0h0m61 0h0m46 0h0m121 0h0m-205 1h0m74 0h0m58 0h0m28 0h0m9 0h0m64 0h0m-270 1h0m7 0h0m74 0h0m95 0h0m56 0h0m-164 1h0m67 0h0m125 0h0m-197 1h0m79 0h0m80 0h0m-62 1h0m31 0h0m41 0h0m8 0h0m6 0h0m-248 2h0m4 0h0m104 0h0m43 0h0m-113 1h0m23 0h0m136 0h0m8 0h0m29 0h0m38 0h0m-286 1h0m68 0h0m19 0h0m12 0h0m20 0h0m39 0h0m101 0h0m2 0h0m9 0h0m3 0h0m-243 1h0m17 0h0m86 0h0m82 0h0m29 0h0m-198 1h0m53 1h0m99 0h0m72 0h0m-246 1h0m91 0h0m106 0h0m-121 1h0m12 0h0m3 0h0m62 0h0m-150 1h0m50 0h0m48 0h0m17 0h0m122 0h0m-111 1h0m124 0h0m-184 1h0m31 0h0m71 0h0m18 0h0m-185 2h0m145 0h0m-65 2h0m30 0h0m123 0h0m-222 1h0m2 0h0m42 0h0m74 0h0m37 0h0m-143 1h0m11 0h0m43 0h0m5 0h0m52 0h0m-72 1h0m62 0h0m-90 1h0m141 0h0m-87 1h0m13 0h0m15 0h0m46 0h0m24 0h0m65 0h0m-227 1h0m84 0h0m63 0h0m-68 1h0m110 0h0m24 0h0m6 1h0m-34 1h0m-156 1h0m120 0h0m66 0h0m-151 1h0m20 0h0m-89 1h0m5 0h0m159 0h0m21 0h0m-147 2h0m97 0h0m-94 1h0m12 0h0m107 0h0m-100 1h0m8 0h0m24 0h0m79 1h0m-101 1h0m30 1h0m13 0h0m49 0h0m20 0h0m43 0h0m-178 1h0m43 0h0m90 0h0m-70 1h0m9 0h0m3 0h0m5 0h0m-90 1h0m139 0h0m-121 1h0m41 0h0m39 0h0m-47 1h0m6 1h0m120 0h0m-178 1h0m26 0h0m107 0h0m3 0h0m16 0h0m-157 2h0m103 0h0m-38 1h0m22 0h0m13 0h0m30 0h0m-116 1h0m78 1h0m39 1h0m-78 1h0m-47 1h0m9 0h0m99 0h0m21 0h0m-10 1h0m-22 1h0m56 0h0m8 0h0m5 1h0m-79 1h0m-59 1h0m-51 1h0m34 0h0m26 0h0m-12 2h0m46 0h0m3 0h0m-91 2h0m79 1h0m-37 2h0m-14 1h0m69 0h0m110 0h0m-176 1h0m-5 2h0m49 0h0m1 0h0m-50 1h0m186 0h0m-149 1h0m19 0h0m-3 3h0m-71 1h0m75 0h0m-31 1h0m15 0h0m-22 1h0m26 0h0m15 1h0m26 0h0m-33 1h0m132 1h0m-126 1h0m-63 2h0m102 0h0m-65 1h0m21 1h0m53 0h0m28 1h0m-86 4h0m155 0h0m-2 1h0m-85 3h0m86 1h0m-112 7h0m-105 4h0m87 2h0m1 11h0m-5 4h0m-70 2h0m112 0h0m-82 3h0m30 2h0m-61 3h0m119 1h0m-140 2h0m5 6h0m26 1h0m1 3h0m30 10h0m361 124h0m-4 3h0m11 2h0m-2 4h0m-11 2h0m0 1h0m19 2h0m-17 1h0m18 0h0m2 2h0m4 0h0m-13 2h0m-17 1h0m23 0h0m10 2h0m8 1h0m4 0h0m-15 1h0m-29 1h0m35 0h0m-13 3h0m3 0h0m2 2h0m10 0h0m-1 2h0m-36 2h0m6 0h0m21 0h0m-61 1h0m3 0h0m62 0h0m-18 1h0m-61 1h0m40 0h0m8 0h0m6 0h0m14 0h0m11 0h0m9 0h0m-79 1h0m32 1h0m-19 2h0m1 0h0m7 0h0m66 0h0m-80 1h0m28 0h0m-46 1h0m1 0h0m86 1h0m6 0h0m2 0h0m-86 1h0m30 0h0m13 0h0m-36 1h0m44 0h0m16 0h0m-31 1h0m2 0h0m4 1h0m41 0h0m-10 1h0m-27 4h0m11 1h0m31 0h0m-18 3h0m1 0h0m-23 4h0m7 0h0m17 1h0m11 1h0m-2 2h0m-17 1h0m7 0h0" stroke="#2ca02c" stroke-width="6.2"/>
</g>
<rect x="99.8" y="94" width="407.2" height="407.5" fill="none" stroke="#1a1a1a" stroke-width="1.6"/>
<rect x="742.3" y="94" width="407.2" height="407.5" fill="none" stroke="#1a1a1a" stroke-width="1.6"/>
<rect x="1396.8" y="94" width="407.2" height="407.5" fill="none" stroke="#1a1a1a" stroke-width="1.6"/>
<text x="307.3" y="72.8" text-anchor="middle">Stimulation Condition</text>
<text x="947.4" y="72.8" text-anchor="middle">Leiden Clusters</text>
<text x="1607.9" y="72.8" text-anchor="middle">Celltype Assignment</text>
<text x="295.7" y="529.3" text-anchor="middle">UMAP1</text>
<text x="937.5" y="529.3" text-anchor="middle">UMAP1</text>
<text x="1592.5" y="529.3" text-anchor="middle">UMAP1</text>
<text transform="translate(88 304.8) rotate(-90)" text-anchor="middle">UMAP2</text>
<text transform="translate(729.5 304.8) rotate(-90)" text-anchor="middle">UMAP2</text>
<text transform="translate(1384 304.8) rotate(-90)" text-anchor="middle">UMAP2</text>
<circle cx="534" cy="263.7" r="6.5" fill="#d4d4d4"/><text x="550.4" y="270.3">NT</text>
<circle cx="534" cy="298.7" r="6.5" fill="#1f77b4"/><text x="550.4" y="305.3">LPS</text>
<circle cx="534" cy="333.5" r="6.5" fill="#2ca02c"/><text x="550.4" y="340.1">Pam3</text>
<circle cx="1176.7" cy="158.5" r="6.5" fill="#1f77b4"/><text x="1191.4" y="165.1">0</text>
<circle cx="1176.7" cy="193.4" r="6.5" fill="#ff7f0e"/><text x="1191.4" y="200">1</text>
<circle cx="1176.7" cy="228.3" r="6.5" fill="#279e68"/><text x="1191.4" y="234.9">2</text>
<circle cx="1176.7" cy="263.3" r="6.5" fill="#d62728"/><text x="1191.4" y="269.9">3</text>
<circle cx="1176.7" cy="298.2" r="6.5" fill="#8a56b5"/><text x="1191.4" y="304.8">4</text>
<circle cx="1176.7" cy="333.1" r="6.5" fill="#8c564b"/><text x="1191.4" y="339.7">5</text>
<circle cx="1176.7" cy="368" r="6.5" fill="#e377c2"/><text x="1191.4" y="374.6">6</text>
<circle cx="1176.7" cy="402.9" r="6.5" fill="#b5bd61"/><text x="1191.4" y="409.5">7</text>
<circle cx="1176.7" cy="437.9" r="6.5" fill="#17becf"/><text x="1191.4" y="444.5">8</text>
<circle cx="1260" cy="158.5" r="6.5" fill="#aec7e8"/><text x="1275.6" y="165.1">9</text>
<circle cx="1260" cy="193.4" r="6.5" fill="#ffbb78"/><text x="1275.6" y="200">10</text>
<circle cx="1260" cy="228.3" r="6.5" fill="#98df8a"/><text x="1275.6" y="234.9">11</text>
<circle cx="1260" cy="263.3" r="6.5" fill="#ff9896"/><text x="1275.6" y="269.9">12</text>
<circle cx="1260" cy="298.2" r="6.5" fill="#c5b0d5"/><text x="1275.6" y="304.8">13</text>
<circle cx="1260" cy="333.1" r="6.5" fill="#c49c94"/><text x="1275.6" y="339.7">14</text>
<circle cx="1260" cy="368" r="6.5" fill="#f7b6d2"/><text x="1275.6" y="374.6">15</text>
<circle cx="1260" cy="402.9" r="6.5" fill="#dbdb8d"/><text x="1275.6" y="409.5">16</text>
<circle cx="1832.2" cy="85.9" r="6.5" fill="#1f77b4"/><text x="1847.7" y="92.5">HSC/MPP</text>
<circle cx="1832.2" cy="120.9" r="6.5" fill="#ff7f0e"/><text x="1847.7" y="127.5">CLP</text>
<circle cx="1832.2" cy="155.8" r="6.5" fill="#279e68"/><text x="1847.7" y="162.4">CMP</text>
<circle cx="1832.2" cy="190.8" r="6.5" fill="#d62728"/><text x="1847.7" y="197.4">MEP</text>
<circle cx="1832.2" cy="225.7" r="6.5" fill="#8a56b5"/><text x="1847.7" y="232.3">GMP</text>
<circle cx="1832.2" cy="260.7" r="6.5" fill="#8c564b"/><text x="1847.7" y="267.3">MYL</text>
<circle cx="1832.2" cy="295.7" r="6.5" fill="#e377c2"/><text x="1847.7" y="302.3">Mono</text>
<circle cx="1832.2" cy="330.6" r="6.5" fill="#b5bd61"/><text x="1847.7" y="337.2">iMS1</text>
<circle cx="1832.2" cy="365.6" r="6.5" fill="#17becf"/><text x="1847.7" y="372.2">DC</text>
<circle cx="1832.2" cy="400.5" r="6.5" fill="#aec7e8"/><text x="1847.7" y="407.1">T</text>
<circle cx="1832.2" cy="435.5" r="6.5" fill="#ffbb78"/><text x="1847.7" y="442.1">B</text>
<circle cx="1832.2" cy="470.5" r="6.5" fill="#98df8a"/><text x="1847.7" y="477.1">NK</text>
<circle cx="1832.2" cy="505.4" r="6.5" fill="#ff9896"/><text x="1847.7" y="512">RBC</text>
<!-- dd -->
<rect x="70.2" y="657.6" width="1938" height="322.1" fill="#46185f"/>
<path d="M70.2 657.6h22.8v18.9h-22.8zM1461 885h22.8v18.9h-22.8zM1825.8 960.8h22.8v18.9h-22.8z" fill="#5fc860"/>
<path d="M93 657.6h22.8v18.9h-22.8zM161.4 657.6h22.8v18.9h-22.8zM1005 790.2h22.8v18.9h-22.8zM1096.2 828.1h22.8v18.9h-22.8zM1119 828.1h22.8v18.9h-22.8zM1141.8 828.1h22.8v18.9h-22.8zM1187.4 828.1h22.8v18.9h-22.8zM1347 866h22.8v18.9h-22.8zM1666.2 922.9h22.8v18.9h-22.8zM1962.6 960.8h22.8v18.9h-22.8z" fill="#8bd446"/>
<path d="M115.8 657.6h22.8v18.9h-22.8zM184.2 676.5h22.8v18.9h-22.8zM503.4 714.4h22.8v18.9h-22.8zM1164.6 828.1h22.8v18.9h-22.8zM1278.6 828.1h22.8v18.9h-22.8zM1141.8 847.1h22.8v18.9h-22.8z" fill="#52c468"/>
<path d="M138.6 657.6h22.8v18.9h-22.8zM115.8 676.5h22.8v18.9h-22.8zM252.6 676.5h22.8v18.9h-22.8zM321 695.5h22.8v18.9h-22.8zM503.4 752.3h22.8v18.9h-22.8zM731.4 752.3h22.8v18.9h-22.8zM366.6 790.2h22.8v18.9h-22.8zM982.2 809.2h22.8v18.9h-22.8zM1005 809.2h22.8v18.9h-22.8zM1233 828.1h22.8v18.9h-22.8zM1483.8 885h22.8v18.9h-22.8zM1506.6 885h22.8v18.9h-22.8zM1552.2 885h22.8v18.9h-22.8zM1643.4 885h22.8v18.9h-22.8zM1483.8 903.9h22.8v18.9h-22.8zM1506.6 903.9h22.8v18.9h-22.8zM1597.8 903.9h22.8v18.9h-22.8zM1620.6 903.9h22.8v18.9h-22.8zM1871.4 941.8h22.8v18.9h-22.8z" fill="#2aae7f"/>
<path d="M184.2 657.6h22.8v18.9h-22.8zM252.6 657.6h22.8v18.9h-22.8zM1347 657.6h22.8v18.9h-22.8zM366.6 676.5h22.8v18.9h-22.8zM1096.2 676.5h22.8v18.9h-22.8zM1666.2 676.5h22.8v18.9h-22.8zM594.6 695.5h22.8v18.9h-22.8zM891 695.5h22.8v18.9h-22.8zM1255.8 695.5h22.8v18.9h-22.8zM298.2 714.4h22.8v18.9h-22.8zM617.4 714.4h22.8v18.9h-22.8zM1689 714.4h22.8v18.9h-22.8zM321 752.3h22.8v18.9h-22.8zM913.8 771.3h22.8v18.9h-22.8zM1461 771.3h22.8v18.9h-22.8zM1483.8 771.3h22.8v18.9h-22.8zM1210.2 809.2h22.8v18.9h-22.8zM708.6 847.1h22.8v18.9h-22.8zM1552.2 847.1h22.8v18.9h-22.8zM1461 866h22.8v18.9h-22.8zM1210.2 922.9h22.8v18.9h-22.8zM184.2 941.8h22.8v18.9h-22.8zM936.6 960.8h22.8v18.9h-22.8zM982.2 960.8h22.8v18.9h-22.8z" fill="#3f4e8a"/>
<path d="M207 657.6h22.8v18.9h-22.8zM298.2 657.6h22.8v18.9h-22.8zM321 657.6h22.8v18.9h-22.8zM640.2 657.6h22.8v18.9h-22.8zM708.6 657.6h22.8v18.9h-22.8zM799.8 657.6h22.8v18.9h-22.8zM913.8 657.6h22.8v18.9h-22.8zM936.6 657.6h22.8v18.9h-22.8zM1278.6 657.6h22.8v18.9h-22.8zM1689 657.6h22.8v18.9h-22.8zM1734.6 657.6h22.8v18.9h-22.8zM1780.2 657.6h22.8v18.9h-22.8zM1803 657.6h22.8v18.9h-22.8zM1825.8 657.6h22.8v18.9h-22.8zM640.2 676.5h22.8v18.9h-22.8zM685.8 676.5h22.8v18.9h-22.8zM936.6 676.5h22.8v18.9h-22.8zM1027.8 676.5h22.8v18.9h-22.8zM1210.2 676.5h22.8v18.9h-22.8zM1233 676.5h22.8v18.9h-22.8zM1780.2 676.5h22.8v18.9h-22.8zM93 695.5h22.8v18.9h-22.8zM161.4 695.5h22.8v18.9h-22.8zM685.8 695.5h22.8v18.9h-22.8zM708.6 695.5h22.8v18.9h-22.8zM822.6 695.5h22.8v18.9h-22.8zM982.2 695.5h22.8v18.9h-22.8zM1164.6 695.5h22.8v18.9h-22.8zM1210.2 695.5h22.8v18.9h-22.8zM1415.4 695.5h22.8v18.9h-22.8zM1506.6 695.5h22.8v18.9h-22.8zM1552.2 695.5h22.8v18.9h-22.8zM1711.8 695.5h22.8v18.9h-22.8zM1734.6 695.5h22.8v18.9h-22.8zM1757.4 695.5h22.8v18.9h-22.8zM1825.8 695.5h22.8v18.9h-22.8zM161.4 714.4h22.8v18.9h-22.8zM913.8 714.4h22.8v18.9h-22.8zM936.6 714.4h22.8v18.9h-22.8zM1233 714.4h22.8v18.9h-22.8zM1757.4 714.4h22.8v18.9h-22.8zM1917 714.4h22.8v18.9h-22.8zM93 733.4h22.8v18.9h-22.8zM161.4 733.4h22.8v18.9h-22.8zM275.4 733.4h22.8v18.9h-22.8zM777 733.4h22.8v18.9h-22.8zM799.8 733.4h22.8v18.9h-22.8zM891 733.4h22.8v18.9h-22.8zM1027.8 733.4h22.8v18.9h-22.8zM1233 733.4h22.8v18.9h-22.8zM1324.2 733.4h22.8v18.9h-22.8zM1689 733.4h22.8v18.9h-22.8zM1803 733.4h22.8v18.9h-22.8zM1825.8 733.4h22.8v18.9h-22.8zM161.4 752.3h22.8v18.9h-22.8zM207 752.3h22.8v18.9h-22.8zM754.2 752.3h22.8v18.9h-22.8zM799.8 752.3h22.8v18.9h-22.8zM959.4 752.3h22.8v18.9h-22.8zM1073.4 752.3h22.8v18.9h-22.8zM1210.2 752.3h22.8v18.9h-22.8zM1324.2 752.3h22.8v18.9h-22.8zM1825.8 752.3h22.8v18.9h-22.8zM1848.6 752.3h22.8v18.9h-22.8zM1894.2 752.3h22.8v18.9h-22.8zM229.8 771.3h22.8v18.9h-22.8zM389.4 771.3h22.8v18.9h-22.8zM549 771.3h22.8v18.9h-22.8zM708.6 771.3h22.8v18.9h-22.8zM1187.4 771.3h22.8v18.9h-22.8zM1278.6 771.3h22.8v18.9h-22.8zM1415.4 771.3h22.8v18.9h-22.8zM1575 771.3h22.8v18.9h-22.8zM1643.4 771.3h22.8v18.9h-22.8zM1803 771.3h22.8v18.9h-22.8zM1848.6 771.3h22.8v18.9h-22.8zM1894.2 771.3h22.8v18.9h-22.8zM161.4 790.2h22.8v18.9h-22.8zM207 790.2h22.8v18.9h-22.8zM298.2 790.2h22.8v18.9h-22.8zM617.4 790.2h22.8v18.9h-22.8zM731.4 790.2h22.8v18.9h-22.8zM822.6 790.2h22.8v18.9h-22.8zM1141.8 790.2h22.8v18.9h-22.8zM1643.4 790.2h22.8v18.9h-22.8zM1757.4 790.2h22.8v18.9h-22.8zM1803 790.2h22.8v18.9h-22.8zM1825.8 790.2h22.8v18.9h-22.8zM685.8 809.2h22.8v18.9h-22.8zM936.6 809.2h22.8v18.9h-22.8zM1278.6 809.2h22.8v18.9h-22.8zM1369.8 809.2h22.8v18.9h-22.8zM1506.6 809.2h22.8v18.9h-22.8zM1711.8 809.2h22.8v18.9h-22.8zM1825.8 809.2h22.8v18.9h-22.8zM207 828.1h22.8v18.9h-22.8zM343.8 828.1h22.8v18.9h-22.8zM435 828.1h22.8v18.9h-22.8zM640.2 828.1h22.8v18.9h-22.8zM708.6 828.1h22.8v18.9h-22.8zM1324.2 828.1h22.8v18.9h-22.8zM1689 828.1h22.8v18.9h-22.8zM1711.8 828.1h22.8v18.9h-22.8zM1757.4 828.1h22.8v18.9h-22.8zM1780.2 828.1h22.8v18.9h-22.8zM1803 828.1h22.8v18.9h-22.8zM1825.8 828.1h22.8v18.9h-22.8zM1848.6 828.1h22.8v18.9h-22.8zM1894.2 828.1h22.8v18.9h-22.8zM161.4 847.1h22.8v18.9h-22.8zM229.8 847.1h22.8v18.9h-22.8zM412.2 847.1h22.8v18.9h-22.8zM777 847.1h22.8v18.9h-22.8zM891 847.1h22.8v18.9h-22.8zM1415.4 847.1h22.8v18.9h-22.8zM1438.2 847.1h22.8v18.9h-22.8zM1461 847.1h22.8v18.9h-22.8zM1529.4 847.1h22.8v18.9h-22.8zM1575 847.1h22.8v18.9h-22.8zM1689 847.1h22.8v18.9h-22.8zM1780.2 847.1h22.8v18.9h-22.8zM184.2 866h22.8v18.9h-22.8zM229.8 866h22.8v18.9h-22.8zM685.8 866h22.8v18.9h-22.8zM1210.2 866h22.8v18.9h-22.8zM1689 866h22.8v18.9h-22.8zM1803 866h22.8v18.9h-22.8zM1894.2 866h22.8v18.9h-22.8zM1917 866h22.8v18.9h-22.8zM343.8 885h22.8v18.9h-22.8zM685.8 885h22.8v18.9h-22.8zM799.8 885h22.8v18.9h-22.8zM913.8 885h22.8v18.9h-22.8zM1278.6 885h22.8v18.9h-22.8zM1392.6 885h22.8v18.9h-22.8zM1689 885h22.8v18.9h-22.8zM1711.8 885h22.8v18.9h-22.8zM1803 885h22.8v18.9h-22.8zM1848.6 885h22.8v18.9h-22.8zM1962.6 885h22.8v18.9h-22.8zM161.4 903.9h22.8v18.9h-22.8zM207 903.9h22.8v18.9h-22.8zM229.8 903.9h22.8v18.9h-22.8zM685.8 903.9h22.8v18.9h-22.8zM799.8 903.9h22.8v18.9h-22.8zM913.8 903.9h22.8v18.9h-22.8zM1027.8 903.9h22.8v18.9h-22.8zM1210.2 903.9h22.8v18.9h-22.8zM1278.6 903.9h22.8v18.9h-22.8zM1780.2 903.9h22.8v18.9h-22.8zM1803 903.9h22.8v18.9h-22.8zM1917 903.9h22.8v18.9h-22.8zM1939.8 903.9h22.8v18.9h-22.8zM1962.6 903.9h22.8v18.9h-22.8zM799.8 922.9h22.8v18.9h-22.8zM913.8 922.9h22.8v18.9h-22.8zM1324.2 922.9h22.8v18.9h-22.8zM1415.4 922.9h22.8v18.9h-22.8zM1461 922.9h22.8v18.9h-22.8zM1780.2 922.9h22.8v18.9h-22.8zM1894.2 922.9h22.8v18.9h-22.8zM298.2 941.8h22.8v18.9h-22.8zM799.8 941.8h22.8v18.9h-22.8zM1324.2 941.8h22.8v18.9h-22.8zM1689 941.8h22.8v18.9h-22.8zM343.8 960.8h22.8v18.9h-22.8zM457.8 960.8h22.8v18.9h-22.8zM663 960.8h22.8v18.9h-22.8zM754.2 960.8h22.8v18.9h-22.8zM822.6 960.8h22.8v18.9h-22.8zM845.4 960.8h22.8v18.9h-22.8zM1027.8 960.8h22.8v18.9h-22.8zM1210.2 960.8h22.8v18.9h-22.8zM1461 960.8h22.8v18.9h-22.8zM1597.8 960.8h22.8v18.9h-22.8zM1689 960.8h22.8v18.9h-22.8zM1734.6 960.8h22.8v18.9h-22.8zM1848.6 960.8h22.8v18.9h-22.8z" fill="#49337e"/>
<path d="M229.8 657.6h22.8v18.9h-22.8zM343.8 657.6h22.8v18.9h-22.8zM366.6 657.6h22.8v18.9h-22.8zM435 657.6h22.8v18.9h-22.8zM685.8 657.6h22.8v18.9h-22.8zM754.2 657.6h22.8v18.9h-22.8zM777 657.6h22.8v18.9h-22.8zM891 657.6h22.8v18.9h-22.8zM959.4 657.6h22.8v18.9h-22.8zM1027.8 657.6h22.8v18.9h-22.8zM1050.6 657.6h22.8v18.9h-22.8zM1073.4 657.6h22.8v18.9h-22.8zM1164.6 657.6h22.8v18.9h-22.8zM1187.4 657.6h22.8v18.9h-22.8zM1210.2 657.6h22.8v18.9h-22.8zM1301.4 657.6h22.8v18.9h-22.8zM1324.2 657.6h22.8v18.9h-22.8zM1369.8 657.6h22.8v18.9h-22.8zM1415.4 657.6h22.8v18.9h-22.8zM1711.8 657.6h22.8v18.9h-22.8zM1757.4 657.6h22.8v18.9h-22.8zM1848.6 657.6h22.8v18.9h-22.8zM93 676.5h22.8v18.9h-22.8zM161.4 676.5h22.8v18.9h-22.8zM321 676.5h22.8v18.9h-22.8zM343.8 676.5h22.8v18.9h-22.8zM457.8 676.5h22.8v18.9h-22.8zM549 676.5h22.8v18.9h-22.8zM663 676.5h22.8v18.9h-22.8zM708.6 676.5h22.8v18.9h-22.8zM731.4 676.5h22.8v18.9h-22.8zM754.2 676.5h22.8v18.9h-22.8zM799.8 676.5h22.8v18.9h-22.8zM845.4 676.5h22.8v18.9h-22.8zM891 676.5h22.8v18.9h-22.8zM913.8 676.5h22.8v18.9h-22.8zM959.4 676.5h22.8v18.9h-22.8zM982.2 676.5h22.8v18.9h-22.8zM1119 676.5h22.8v18.9h-22.8zM1141.8 676.5h22.8v18.9h-22.8zM1187.4 676.5h22.8v18.9h-22.8zM1278.6 676.5h22.8v18.9h-22.8zM1324.2 676.5h22.8v18.9h-22.8zM1369.8 676.5h22.8v18.9h-22.8zM1415.4 676.5h22.8v18.9h-22.8zM1803 676.5h22.8v18.9h-22.8zM1825.8 676.5h22.8v18.9h-22.8zM1848.6 676.5h22.8v18.9h-22.8zM184.2 695.5h22.8v18.9h-22.8zM207 695.5h22.8v18.9h-22.8zM229.8 695.5h22.8v18.9h-22.8zM435 695.5h22.8v18.9h-22.8zM640.2 695.5h22.8v18.9h-22.8zM663 695.5h22.8v18.9h-22.8zM731.4 695.5h22.8v18.9h-22.8zM777 695.5h22.8v18.9h-22.8zM799.8 695.5h22.8v18.9h-22.8zM868.2 695.5h22.8v18.9h-22.8zM913.8 695.5h22.8v18.9h-22.8zM936.6 695.5h22.8v18.9h-22.8zM1027.8 695.5h22.8v18.9h-22.8zM1141.8 695.5h22.8v18.9h-22.8zM1187.4 695.5h22.8v18.9h-22.8zM1278.6 695.5h22.8v18.9h-22.8zM1324.2 695.5h22.8v18.9h-22.8zM1689 695.5h22.8v18.9h-22.8zM1803 695.5h22.8v18.9h-22.8zM1848.6 695.5h22.8v18.9h-22.8zM1894.2 695.5h22.8v18.9h-22.8zM1917 695.5h22.8v18.9h-22.8zM207 714.4h22.8v18.9h-22.8zM229.8 714.4h22.8v18.9h-22.8zM343.8 714.4h22.8v18.9h-22.8zM663 714.4h22.8v18.9h-22.8zM708.6 714.4h22.8v18.9h-22.8zM754.2 714.4h22.8v18.9h-22.8zM777 714.4h22.8v18.9h-22.8zM799.8 714.4h22.8v18.9h-22.8zM868.2 714.4h22.8v18.9h-22.8zM891 714.4h22.8v18.9h-22.8zM1027.8 714.4h22.8v18.9h-22.8zM1210.2 714.4h22.8v18.9h-22.8zM1278.6 714.4h22.8v18.9h-22.8zM1324.2 714.4h22.8v18.9h-22.8zM1369.8 714.4h22.8v18.9h-22.8zM1415.4 714.4h22.8v18.9h-22.8zM1711.8 714.4h22.8v18.9h-22.8zM1734.6 714.4h22.8v18.9h-22.8zM1780.2 714.4h22.8v18.9h-22.8zM1803 714.4h22.8v18.9h-22.8zM1825.8 714.4h22.8v18.9h-22.8zM1848.6 714.4h22.8v18.9h-22.8zM1894.2 714.4h22.8v18.9h-22.8zM1985.4 714.4h22.8v18.9h-22.8zM115.8 733.4h22.8v18.9h-22.8zM184.2 733.4h22.8v18.9h-22.8zM207 733.4h22.8v18.9h-22.8zM229.8 733.4h22.8v18.9h-22.8zM663 733.4h22.8v18.9h-22.8zM708.6 733.4h22.8v18.9h-22.8zM731.4 733.4h22.8v18.9h-22.8zM913.8 733.4h22.8v18.9h-22.8zM1005 733.4h22.8v18.9h-22.8zM1210.2 733.4h22.8v18.9h-22.8zM1278.6 733.4h22.8v18.9h-22.8zM1369.8 733.4h22.8v18.9h-22.8zM1415.4 733.4h22.8v18.9h-22.8zM1711.8 733.4h22.8v18.9h-22.8zM1734.6 733.4h22.8v18.9h-22.8zM1757.4 733.4h22.8v18.9h-22.8zM1780.2 733.4h22.8v18.9h-22.8zM1848.6 733.4h22.8v18.9h-22.8zM1894.2 733.4h22.8v18.9h-22.8zM1985.4 733.4h22.8v18.9h-22.8zM93 752.3h22.8v18.9h-22.8zM229.8 752.3h22.8v18.9h-22.8zM252.6 752.3h22.8v18.9h-22.8zM298.2 752.3h22.8v18.9h-22.8zM891 752.3h22.8v18.9h-22.8zM913.8 752.3h22.8v18.9h-22.8zM936.6 752.3h22.8v18.9h-22.8zM1027.8 752.3h22.8v18.9h-22.8zM1233 752.3h22.8v18.9h-22.8zM1255.8 752.3h22.8v18.9h-22.8zM1278.6 752.3h22.8v18.9h-22.8zM1369.8 752.3h22.8v18.9h-22.8zM1415.4 752.3h22.8v18.9h-22.8zM1711.8 752.3h22.8v18.9h-22.8zM1734.6 752.3h22.8v18.9h-22.8zM1780.2 752.3h22.8v18.9h-22.8zM1803 752.3h22.8v18.9h-22.8zM1962.6 752.3h22.8v18.9h-22.8zM161.4 771.3h22.8v18.9h-22.8zM207 771.3h22.8v18.9h-22.8zM321 771.3h22.8v18.9h-22.8zM640.2 771.3h22.8v18.9h-22.8zM685.8 771.3h22.8v18.9h-22.8zM731.4 771.3h22.8v18.9h-22.8zM868.2 771.3h22.8v18.9h-22.8zM1005 771.3h22.8v18.9h-22.8zM1027.8 771.3h22.8v18.9h-22.8zM1119 771.3h22.8v18.9h-22.8zM1210.2 771.3h22.8v18.9h-22.8zM1324.2 771.3h22.8v18.9h-22.8zM1369.8 771.3h22.8v18.9h-22.8zM1529.4 771.3h22.8v18.9h-22.8zM1597.8 771.3h22.8v18.9h-22.8zM1620.6 771.3h22.8v18.9h-22.8zM1666.2 771.3h22.8v18.9h-22.8zM1689 771.3h22.8v18.9h-22.8zM1711.8 771.3h22.8v18.9h-22.8zM1734.6 771.3h22.8v18.9h-22.8zM1757.4 771.3h22.8v18.9h-22.8zM1780.2 771.3h22.8v18.9h-22.8zM1825.8 771.3h22.8v18.9h-22.8zM1917 771.3h22.8v18.9h-22.8zM229.8 790.2h22.8v18.9h-22.8zM343.8 790.2h22.8v18.9h-22.8zM457.8 790.2h22.8v18.9h-22.8zM640.2 790.2h22.8v18.9h-22.8zM663 790.2h22.8v18.9h-22.8zM685.8 790.2h22.8v18.9h-22.8zM708.6 790.2h22.8v18.9h-22.8zM1027.8 790.2h22.8v18.9h-22.8zM1073.4 790.2h22.8v18.9h-22.8zM1210.2 790.2h22.8v18.9h-22.8zM1278.6 790.2h22.8v18.9h-22.8zM1324.2 790.2h22.8v18.9h-22.8zM1415.4 790.2h22.8v18.9h-22.8zM1483.8 790.2h22.8v18.9h-22.8zM1575 790.2h22.8v18.9h-22.8zM1597.8 790.2h22.8v18.9h-22.8zM1689 790.2h22.8v18.9h-22.8zM1711.8 790.2h22.8v18.9h-22.8zM1734.6 790.2h22.8v18.9h-22.8zM138.6 809.2h22.8v18.9h-22.8zM161.4 809.2h22.8v18.9h-22.8zM457.8 809.2h22.8v18.9h-22.8zM549 809.2h22.8v18.9h-22.8zM594.6 809.2h22.8v18.9h-22.8zM640.2 809.2h22.8v18.9h-22.8zM663 809.2h22.8v18.9h-22.8zM708.6 809.2h22.8v18.9h-22.8zM822.6 809.2h22.8v18.9h-22.8zM845.4 809.2h22.8v18.9h-22.8zM1324.2 809.2h22.8v18.9h-22.8zM1392.6 809.2h22.8v18.9h-22.8zM1415.4 809.2h22.8v18.9h-22.8zM1552.2 809.2h22.8v18.9h-22.8zM1689 809.2h22.8v18.9h-22.8zM1734.6 809.2h22.8v18.9h-22.8zM1757.4 809.2h22.8v18.9h-22.8zM1780.2 809.2h22.8v18.9h-22.8zM1803 809.2h22.8v18.9h-22.8zM1848.6 809.2h22.8v18.9h-22.8zM1894.2 809.2h22.8v18.9h-22.8zM1917 809.2h22.8v18.9h-22.8zM93 828.1h22.8v18.9h-22.8zM161.4 828.1h22.8v18.9h-22.8zM229.8 828.1h22.8v18.9h-22.8zM389.4 828.1h22.8v18.9h-22.8zM412.2 828.1h22.8v18.9h-22.8zM685.8 828.1h22.8v18.9h-22.8zM799.8 828.1h22.8v18.9h-22.8zM845.4 828.1h22.8v18.9h-22.8zM868.2 828.1h22.8v18.9h-22.8zM891 828.1h22.8v18.9h-22.8zM913.8 828.1h22.8v18.9h-22.8zM936.6 828.1h22.8v18.9h-22.8zM1073.4 828.1h22.8v18.9h-22.8zM1369.8 828.1h22.8v18.9h-22.8zM1415.4 828.1h22.8v18.9h-22.8zM1734.6 828.1h22.8v18.9h-22.8zM1917 828.1h22.8v18.9h-22.8zM1962.6 828.1h22.8v18.9h-22.8zM207 847.1h22.8v18.9h-22.8zM298.2 847.1h22.8v18.9h-22.8zM343.8 847.1h22.8v18.9h-22.8zM366.6 847.1h22.8v18.9h-22.8zM457.8 847.1h22.8v18.9h-22.8zM640.2 847.1h22.8v18.9h-22.8zM663 847.1h22.8v18.9h-22.8zM685.8 847.1h22.8v18.9h-22.8zM754.2 847.1h22.8v18.9h-22.8zM822.6 847.1h22.8v18.9h-22.8zM868.2 847.1h22.8v18.9h-22.8zM913.8 847.1h22.8v18.9h-22.8zM936.6 847.1h22.8v18.9h-22.8zM1005 847.1h22.8v18.9h-22.8zM1027.8 847.1h22.8v18.9h-22.8zM1324.2 847.1h22.8v18.9h-22.8zM1483.8 847.1h22.8v18.9h-22.8zM1597.8 847.1h22.8v18.9h-22.8zM1620.6 847.1h22.8v18.9h-22.8zM1643.4 847.1h22.8v18.9h-22.8zM1711.8 847.1h22.8v18.9h-22.8zM1734.6 847.1h22.8v18.9h-22.8zM1757.4 847.1h22.8v18.9h-22.8zM1803 847.1h22.8v18.9h-22.8zM1825.8 847.1h22.8v18.9h-22.8zM1848.6 847.1h22.8v18.9h-22.8zM1894.2 847.1h22.8v18.9h-22.8zM1917 847.1h22.8v18.9h-22.8zM1985.4 847.1h22.8v18.9h-22.8zM161.4 866h22.8v18.9h-22.8zM207 866h22.8v18.9h-22.8zM321 866h22.8v18.9h-22.8zM343.8 866h22.8v18.9h-22.8zM435 866h22.8v18.9h-22.8zM457.8 866h22.8v18.9h-22.8zM640.2 866h22.8v18.9h-22.8zM663 866h22.8v18.9h-22.8zM708.6 866h22.8v18.9h-22.8zM799.8 866h22.8v18.9h-22.8zM845.4 866h22.8v18.9h-22.8zM868.2 866h22.8v18.9h-22.8zM913.8 866h22.8v18.9h-22.8zM936.6 866h22.8v18.9h-22.8zM1027.8 866h22.8v18.9h-22.8zM1278.6 866h22.8v18.9h-22.8zM1438.2 866h22.8v18.9h-22.8zM1597.8 866h22.8v18.9h-22.8zM1711.8 866h22.8v18.9h-22.8zM1734.6 866h22.8v18.9h-22.8zM1757.4 866h22.8v18.9h-22.8zM1780.2 866h22.8v18.9h-22.8zM1825.8 866h22.8v18.9h-22.8zM1848.6 866h22.8v18.9h-22.8zM161.4 885h22.8v18.9h-22.8zM207 885h22.8v18.9h-22.8zM229.8 885h22.8v18.9h-22.8zM321 885h22.8v18.9h-22.8zM457.8 885h22.8v18.9h-22.8zM617.4 885h22.8v18.9h-22.8zM640.2 885h22.8v18.9h-22.8zM663 885h22.8v18.9h-22.8zM708.6 885h22.8v18.9h-22.8zM936.6 885h22.8v18.9h-22.8zM959.4 885h22.8v18.9h-22.8zM1027.8 885h22.8v18.9h-22.8zM1210.2 885h22.8v18.9h-22.8zM1255.8 885h22.8v18.9h-22.8zM1324.2 885h22.8v18.9h-22.8zM1415.4 885h22.8v18.9h-22.8zM1666.2 885h22.8v18.9h-22.8zM1734.6 885h22.8v18.9h-22.8zM1757.4 885h22.8v18.9h-22.8zM1780.2 885h22.8v18.9h-22.8zM1894.2 885h22.8v18.9h-22.8zM1917 885h22.8v18.9h-22.8zM1939.8 885h22.8v18.9h-22.8zM1985.4 885h22.8v18.9h-22.8zM184.2 903.9h22.8v18.9h-22.8zM298.2 903.9h22.8v18.9h-22.8zM321 903.9h22.8v18.9h-22.8zM343.8 903.9h22.8v18.9h-22.8zM640.2 903.9h22.8v18.9h-22.8zM663 903.9h22.8v18.9h-22.8zM708.6 903.9h22.8v18.9h-22.8zM845.4 903.9h22.8v18.9h-22.8zM936.6 903.9h22.8v18.9h-22.8zM959.4 903.9h22.8v18.9h-22.8zM982.2 903.9h22.8v18.9h-22.8zM1073.4 903.9h22.8v18.9h-22.8zM1141.8 903.9h22.8v18.9h-22.8zM1666.2 903.9h22.8v18.9h-22.8zM1689 903.9h22.8v18.9h-22.8zM1711.8 903.9h22.8v18.9h-22.8zM1734.6 903.9h22.8v18.9h-22.8zM1757.4 903.9h22.8v18.9h-22.8zM1825.8 903.9h22.8v18.9h-22.8zM1848.6 903.9h22.8v18.9h-22.8zM1894.2 903.9h22.8v18.9h-22.8zM93 922.9h22.8v18.9h-22.8zM115.8 922.9h22.8v18.9h-22.8zM207 922.9h22.8v18.9h-22.8zM275.4 922.9h22.8v18.9h-22.8zM343.8 922.9h22.8v18.9h-22.8zM457.8 922.9h22.8v18.9h-22.8zM685.8 922.9h22.8v18.9h-22.8zM708.6 922.9h22.8v18.9h-22.8zM822.6 922.9h22.8v18.9h-22.8zM936.6 922.9h22.8v18.9h-22.8zM1027.8 922.9h22.8v18.9h-22.8zM1255.8 922.9h22.8v18.9h-22.8zM1278.6 922.9h22.8v18.9h-22.8zM1825.8 922.9h22.8v18.9h-22.8zM1848.6 922.9h22.8v18.9h-22.8zM1917 922.9h22.8v18.9h-22.8zM161.4 941.8h22.8v18.9h-22.8zM207 941.8h22.8v18.9h-22.8zM229.8 941.8h22.8v18.9h-22.8zM343.8 941.8h22.8v18.9h-22.8zM457.8 941.8h22.8v18.9h-22.8zM640.2 941.8h22.8v18.9h-22.8zM685.8 941.8h22.8v18.9h-22.8zM708.6 941.8h22.8v18.9h-22.8zM777 941.8h22.8v18.9h-22.8zM959.4 941.8h22.8v18.9h-22.8zM1027.8 941.8h22.8v18.9h-22.8zM1096.2 941.8h22.8v18.9h-22.8zM1210.2 941.8h22.8v18.9h-22.8zM1233 941.8h22.8v18.9h-22.8zM1255.8 941.8h22.8v18.9h-22.8zM1278.6 941.8h22.8v18.9h-22.8zM1415.4 941.8h22.8v18.9h-22.8zM1438.2 941.8h22.8v18.9h-22.8zM1461 941.8h22.8v18.9h-22.8zM1597.8 941.8h22.8v18.9h-22.8zM1711.8 941.8h22.8v18.9h-22.8zM1734.6 941.8h22.8v18.9h-22.8zM1757.4 941.8h22.8v18.9h-22.8zM1917 941.8h22.8v18.9h-22.8zM161.4 960.8h22.8v18.9h-22.8zM207 960.8h22.8v18.9h-22.8zM229.8 960.8h22.8v18.9h-22.8zM298.2 960.8h22.8v18.9h-22.8zM640.2 960.8h22.8v18.9h-22.8zM685.8 960.8h22.8v18.9h-22.8zM708.6 960.8h22.8v18.9h-22.8zM731.4 960.8h22.8v18.9h-22.8zM777 960.8h22.8v18.9h-22.8zM959.4 960.8h22.8v18.9h-22.8zM1096.2 960.8h22.8v18.9h-22.8zM1233 960.8h22.8v18.9h-22.8zM1255.8 960.8h22.8v18.9h-22.8zM1278.6 960.8h22.8v18.9h-22.8zM1324.2 960.8h22.8v18.9h-22.8zM1415.4 960.8h22.8v18.9h-22.8zM1438.2 960.8h22.8v18.9h-22.8zM1643.4 960.8h22.8v18.9h-22.8zM1711.8 960.8h22.8v18.9h-22.8zM1757.4 960.8h22.8v18.9h-22.8zM1803 960.8h22.8v18.9h-22.8z" fill="#4b2c79"/>
<path d="M275.4 657.6h22.8v18.9h-22.8zM298.2 695.5h22.8v18.9h-22.8zM435 714.4h22.8v18.9h-22.8zM1187.4 847.1h22.8v18.9h-22.8zM1438.2 885h22.8v18.9h-22.8zM1597.8 885h22.8v18.9h-22.8zM1620.6 885h22.8v18.9h-22.8z" fill="#44bf70"/>
<path d="M389.4 657.6h22.8v18.9h-22.8zM412.2 657.6h22.8v18.9h-22.8zM526.2 657.6h22.8v18.9h-22.8zM1894.2 657.6h22.8v18.9h-22.8zM1939.8 657.6h22.8v18.9h-22.8zM1985.4 657.6h22.8v18.9h-22.8zM1347 676.5h22.8v18.9h-22.8zM1894.2 676.5h22.8v18.9h-22.8zM503.4 695.5h22.8v18.9h-22.8zM845.4 695.5h22.8v18.9h-22.8zM1233 695.5h22.8v18.9h-22.8zM1666.2 695.5h22.8v18.9h-22.8zM1871.4 695.5h22.8v18.9h-22.8zM93 714.4h22.8v18.9h-22.8zM321 714.4h22.8v18.9h-22.8zM366.6 714.4h22.8v18.9h-22.8zM594.6 714.4h22.8v18.9h-22.8zM1939.8 714.4h22.8v18.9h-22.8zM1962.6 714.4h22.8v18.9h-22.8zM1073.4 733.4h22.8v18.9h-22.8zM1962.6 733.4h22.8v18.9h-22.8zM457.8 752.3h22.8v18.9h-22.8zM526.2 752.3h22.8v18.9h-22.8zM1301.4 752.3h22.8v18.9h-22.8zM1689 752.3h22.8v18.9h-22.8zM1757.4 752.3h22.8v18.9h-22.8zM1939.8 752.3h22.8v18.9h-22.8zM891 771.3h22.8v18.9h-22.8zM1301.4 771.3h22.8v18.9h-22.8zM1506.6 771.3h22.8v18.9h-22.8zM777 790.2h22.8v18.9h-22.8zM1164.6 790.2h22.8v18.9h-22.8zM1187.4 790.2h22.8v18.9h-22.8zM731.4 809.2h22.8v18.9h-22.8zM366.6 828.1h22.8v18.9h-22.8zM663 828.1h22.8v18.9h-22.8zM1210.2 828.1h22.8v18.9h-22.8zM1985.4 828.1h22.8v18.9h-22.8zM1050.6 847.1h22.8v18.9h-22.8zM1324.2 903.9h22.8v18.9h-22.8zM731.4 922.9h22.8v18.9h-22.8zM936.6 941.8h22.8v18.9h-22.8zM1666.2 941.8h22.8v18.9h-22.8zM1392.6 960.8h22.8v18.9h-22.8z" fill="#355f8d"/>
<path d="M457.8 657.6h22.8v18.9h-22.8zM503.4 657.6h22.8v18.9h-22.8zM663 657.6h22.8v18.9h-22.8zM1666.2 657.6h22.8v18.9h-22.8zM1917 657.6h22.8v18.9h-22.8zM389.4 676.5h22.8v18.9h-22.8zM594.6 676.5h22.8v18.9h-22.8zM1689 676.5h22.8v18.9h-22.8zM1757.4 676.5h22.8v18.9h-22.8zM1917 676.5h22.8v18.9h-22.8zM1005 695.5h22.8v18.9h-22.8zM1050.6 695.5h22.8v18.9h-22.8zM1780.2 695.5h22.8v18.9h-22.8zM1939.8 695.5h22.8v18.9h-22.8zM1962.6 695.5h22.8v18.9h-22.8zM138.6 714.4h22.8v18.9h-22.8zM640.2 714.4h22.8v18.9h-22.8zM1050.6 714.4h22.8v18.9h-22.8zM1187.4 714.4h22.8v18.9h-22.8zM321 733.4h22.8v18.9h-22.8zM343.8 733.4h22.8v18.9h-22.8zM366.6 733.4h22.8v18.9h-22.8zM389.4 733.4h22.8v18.9h-22.8zM435 733.4h22.8v18.9h-22.8zM640.2 733.4h22.8v18.9h-22.8zM754.2 733.4h22.8v18.9h-22.8zM936.6 733.4h22.8v18.9h-22.8zM1301.4 733.4h22.8v18.9h-22.8zM138.6 752.3h22.8v18.9h-22.8zM343.8 752.3h22.8v18.9h-22.8zM389.4 752.3h22.8v18.9h-22.8zM777 752.3h22.8v18.9h-22.8zM1666.2 752.3h22.8v18.9h-22.8zM1917 752.3h22.8v18.9h-22.8zM1985.4 752.3h22.8v18.9h-22.8zM663 771.3h22.8v18.9h-22.8zM1141.8 771.3h22.8v18.9h-22.8zM1233 771.3h22.8v18.9h-22.8zM571.8 790.2h22.8v18.9h-22.8zM799.8 790.2h22.8v18.9h-22.8zM1301.4 790.2h22.8v18.9h-22.8zM1347 790.2h22.8v18.9h-22.8zM1985.4 790.2h22.8v18.9h-22.8zM115.8 809.2h22.8v18.9h-22.8zM207 809.2h22.8v18.9h-22.8zM229.8 809.2h22.8v18.9h-22.8zM252.6 809.2h22.8v18.9h-22.8zM275.4 809.2h22.8v18.9h-22.8zM389.4 809.2h22.8v18.9h-22.8zM412.2 809.2h22.8v18.9h-22.8zM571.8 809.2h22.8v18.9h-22.8zM617.4 809.2h22.8v18.9h-22.8zM754.2 809.2h22.8v18.9h-22.8zM799.8 809.2h22.8v18.9h-22.8zM913.8 809.2h22.8v18.9h-22.8zM1141.8 809.2h22.8v18.9h-22.8zM1939.8 809.2h22.8v18.9h-22.8zM321 828.1h22.8v18.9h-22.8zM1005 828.1h22.8v18.9h-22.8zM1666.2 828.1h22.8v18.9h-22.8zM1871.4 828.1h22.8v18.9h-22.8zM321 847.1h22.8v18.9h-22.8zM435 847.1h22.8v18.9h-22.8zM1506.6 847.1h22.8v18.9h-22.8zM1620.6 866h22.8v18.9h-22.8zM1347 885h22.8v18.9h-22.8zM1825.8 885h22.8v18.9h-22.8zM822.6 903.9h22.8v18.9h-22.8zM70.2 922.9h22.8v18.9h-22.8zM640.2 922.9h22.8v18.9h-22.8zM663 922.9h22.8v18.9h-22.8zM913.8 941.8h22.8v18.9h-22.8zM982.2 941.8h22.8v18.9h-22.8zM389.4 960.8h22.8v18.9h-22.8zM799.8 960.8h22.8v18.9h-22.8zM891 960.8h22.8v18.9h-22.8zM1141.8 960.8h22.8v18.9h-22.8z" fill="#434889"/>
<path d="M480.6 657.6h22.8v18.9h-22.8zM1073.4 676.5h22.8v18.9h-22.8zM252.6 695.5h22.8v18.9h-22.8zM754.2 695.5h22.8v18.9h-22.8zM1301.4 695.5h22.8v18.9h-22.8zM1392.6 695.5h22.8v18.9h-22.8zM70.2 714.4h22.8v18.9h-22.8zM138.6 733.4h22.8v18.9h-22.8zM480.6 733.4h22.8v18.9h-22.8zM1939.8 733.4h22.8v18.9h-22.8zM412.2 752.3h22.8v18.9h-22.8zM435 752.3h22.8v18.9h-22.8zM617.4 752.3h22.8v18.9h-22.8zM366.6 771.3h22.8v18.9h-22.8zM982.2 790.2h22.8v18.9h-22.8zM1392.6 790.2h22.8v18.9h-22.8zM184.2 809.2h22.8v18.9h-22.8zM298.2 809.2h22.8v18.9h-22.8zM366.6 809.2h22.8v18.9h-22.8zM731.4 847.1h22.8v18.9h-22.8zM1871.4 847.1h22.8v18.9h-22.8zM1575 866h22.8v18.9h-22.8zM1871.4 885h22.8v18.9h-22.8zM1392.6 903.9h22.8v18.9h-22.8zM366.6 941.8h22.8v18.9h-22.8zM822.6 941.8h22.8v18.9h-22.8zM868.2 941.8h22.8v18.9h-22.8zM1392.6 941.8h22.8v18.9h-22.8zM1894.2 941.8h22.8v18.9h-22.8zM1871.4 960.8h22.8v18.9h-22.8z" fill="#2a788e"/>
<path d="M549 657.6h22.8v18.9h-22.8zM594.6 657.6h22.8v18.9h-22.8zM571.8 676.5h22.8v18.9h-22.8zM617.4 676.5h22.8v18.9h-22.8zM1939.8 676.5h22.8v18.9h-22.8zM1962.6 676.5h22.8v18.9h-22.8zM389.4 714.4h22.8v18.9h-22.8zM685.8 714.4h22.8v18.9h-22.8zM1073.4 714.4h22.8v18.9h-22.8zM1301.4 714.4h22.8v18.9h-22.8zM1666.2 714.4h22.8v18.9h-22.8zM252.6 733.4h22.8v18.9h-22.8zM412.2 733.4h22.8v18.9h-22.8zM457.8 733.4h22.8v18.9h-22.8zM1666.2 733.4h22.8v18.9h-22.8zM70.2 752.3h22.8v18.9h-22.8zM252.6 771.3h22.8v18.9h-22.8zM343.8 771.3h22.8v18.9h-22.8zM959.4 771.3h22.8v18.9h-22.8zM982.2 771.3h22.8v18.9h-22.8zM1552.2 771.3h22.8v18.9h-22.8zM1096.2 790.2h22.8v18.9h-22.8zM1917 790.2h22.8v18.9h-22.8zM1962.6 790.2h22.8v18.9h-22.8zM777 809.2h22.8v18.9h-22.8zM868.2 809.2h22.8v18.9h-22.8zM891 809.2h22.8v18.9h-22.8zM1255.8 809.2h22.8v18.9h-22.8zM1301.4 809.2h22.8v18.9h-22.8zM1347 809.2h22.8v18.9h-22.8zM298.2 828.1h22.8v18.9h-22.8zM845.4 847.1h22.8v18.9h-22.8zM1483.8 866h22.8v18.9h-22.8zM1643.4 866h22.8v18.9h-22.8zM868.2 885h22.8v18.9h-22.8zM435 903.9h22.8v18.9h-22.8zM1347 903.9h22.8v18.9h-22.8zM1985.4 903.9h22.8v18.9h-22.8zM1780.2 960.8h22.8v18.9h-22.8z" fill="#38598c"/>
<path d="M571.8 657.6h22.8v18.9h-22.8zM1050.6 676.5h22.8v18.9h-22.8zM1164.6 676.5h22.8v18.9h-22.8zM1711.8 676.5h22.8v18.9h-22.8zM1734.6 676.5h22.8v18.9h-22.8zM1985.4 676.5h22.8v18.9h-22.8zM138.6 695.5h22.8v18.9h-22.8zM457.8 695.5h22.8v18.9h-22.8zM571.8 695.5h22.8v18.9h-22.8zM1073.4 695.5h22.8v18.9h-22.8zM1369.8 695.5h22.8v18.9h-22.8zM252.6 714.4h22.8v18.9h-22.8zM731.4 714.4h22.8v18.9h-22.8zM1164.6 714.4h22.8v18.9h-22.8zM1392.6 714.4h22.8v18.9h-22.8zM70.2 733.4h22.8v18.9h-22.8zM298.2 733.4h22.8v18.9h-22.8zM1050.6 733.4h22.8v18.9h-22.8zM1917 733.4h22.8v18.9h-22.8zM366.6 752.3h22.8v18.9h-22.8zM1164.6 771.3h22.8v18.9h-22.8zM1255.8 771.3h22.8v18.9h-22.8zM1438.2 771.3h22.8v18.9h-22.8zM1871.4 771.3h22.8v18.9h-22.8zM389.4 790.2h22.8v18.9h-22.8zM754.2 790.2h22.8v18.9h-22.8zM845.4 790.2h22.8v18.9h-22.8zM1119 790.2h22.8v18.9h-22.8zM321 809.2h22.8v18.9h-22.8zM343.8 809.2h22.8v18.9h-22.8zM959.4 809.2h22.8v18.9h-22.8zM1187.4 809.2h22.8v18.9h-22.8zM1233 809.2h22.8v18.9h-22.8zM1666.2 809.2h22.8v18.9h-22.8zM1962.6 809.2h22.8v18.9h-22.8zM1985.4 809.2h22.8v18.9h-22.8zM1027.8 828.1h22.8v18.9h-22.8zM799.8 847.1h22.8v18.9h-22.8zM1369.8 847.1h22.8v18.9h-22.8zM959.4 866h22.8v18.9h-22.8zM184.2 885h22.8v18.9h-22.8zM298.2 885h22.8v18.9h-22.8zM845.4 885h22.8v18.9h-22.8zM1073.4 885h22.8v18.9h-22.8zM1005 903.9h22.8v18.9h-22.8zM161.4 922.9h22.8v18.9h-22.8zM229.8 922.9h22.8v18.9h-22.8zM1141.8 922.9h22.8v18.9h-22.8zM1803 922.9h22.8v18.9h-22.8zM845.4 941.8h22.8v18.9h-22.8z" fill="#454184"/>
<path d="M617.4 657.6h22.8v18.9h-22.8zM480.6 752.3h22.8v18.9h-22.8zM549 752.3h22.8v18.9h-22.8zM1096.2 809.2h22.8v18.9h-22.8zM1119 809.2h22.8v18.9h-22.8zM959.4 847.1h22.8v18.9h-22.8zM1506.6 866h22.8v18.9h-22.8zM1529.4 866h22.8v18.9h-22.8zM1552.2 866h22.8v18.9h-22.8zM1415.4 903.9h22.8v18.9h-22.8z" fill="#287e8e"/>
<path d="M731.4 657.6h22.8v18.9h-22.8zM822.6 657.6h22.8v18.9h-22.8zM1141.8 657.6h22.8v18.9h-22.8zM1233 657.6h22.8v18.9h-22.8zM1392.6 657.6h22.8v18.9h-22.8zM1438.2 657.6h22.8v18.9h-22.8zM1529.4 657.6h22.8v18.9h-22.8zM1552.2 657.6h22.8v18.9h-22.8zM1575 657.6h22.8v18.9h-22.8zM1597.8 657.6h22.8v18.9h-22.8zM1871.4 657.6h22.8v18.9h-22.8zM70.2 676.5h22.8v18.9h-22.8zM412.2 676.5h22.8v18.9h-22.8zM435 676.5h22.8v18.9h-22.8zM503.4 676.5h22.8v18.9h-22.8zM868.2 676.5h22.8v18.9h-22.8zM1255.8 676.5h22.8v18.9h-22.8zM1301.4 676.5h22.8v18.9h-22.8zM1461 676.5h22.8v18.9h-22.8zM1483.8 676.5h22.8v18.9h-22.8zM1529.4 676.5h22.8v18.9h-22.8zM1552.2 676.5h22.8v18.9h-22.8zM1575 676.5h22.8v18.9h-22.8zM1643.4 676.5h22.8v18.9h-22.8zM70.2 695.5h22.8v18.9h-22.8zM115.8 695.5h22.8v18.9h-22.8zM275.4 695.5h22.8v18.9h-22.8zM959.4 695.5h22.8v18.9h-22.8zM1119 695.5h22.8v18.9h-22.8zM1347 695.5h22.8v18.9h-22.8zM1620.6 695.5h22.8v18.9h-22.8zM1005 714.4h22.8v18.9h-22.8zM1096.2 714.4h22.8v18.9h-22.8zM1119 714.4h22.8v18.9h-22.8zM1255.8 714.4h22.8v18.9h-22.8zM1347 714.4h22.8v18.9h-22.8zM1461 714.4h22.8v18.9h-22.8zM1506.6 714.4h22.8v18.9h-22.8zM1643.4 714.4h22.8v18.9h-22.8zM1871.4 714.4h22.8v18.9h-22.8zM1187.4 733.4h22.8v18.9h-22.8zM1392.6 733.4h22.8v18.9h-22.8zM1506.6 733.4h22.8v18.9h-22.8zM1529.4 733.4h22.8v18.9h-22.8zM1871.4 733.4h22.8v18.9h-22.8zM115.8 752.3h22.8v18.9h-22.8zM822.6 752.3h22.8v18.9h-22.8zM845.4 752.3h22.8v18.9h-22.8zM1050.6 752.3h22.8v18.9h-22.8zM1096.2 752.3h22.8v18.9h-22.8zM1119 752.3h22.8v18.9h-22.8zM1141.8 752.3h22.8v18.9h-22.8zM1164.6 752.3h22.8v18.9h-22.8zM1187.4 752.3h22.8v18.9h-22.8zM1483.8 752.3h22.8v18.9h-22.8zM1552.2 752.3h22.8v18.9h-22.8zM1575 752.3h22.8v18.9h-22.8zM1597.8 752.3h22.8v18.9h-22.8zM1871.4 752.3h22.8v18.9h-22.8zM184.2 771.3h22.8v18.9h-22.8zM275.4 771.3h22.8v18.9h-22.8zM412.2 771.3h22.8v18.9h-22.8zM435 771.3h22.8v18.9h-22.8zM571.8 771.3h22.8v18.9h-22.8zM594.6 771.3h22.8v18.9h-22.8zM1073.4 771.3h22.8v18.9h-22.8zM1939.8 771.3h22.8v18.9h-22.8zM1962.6 771.3h22.8v18.9h-22.8zM1985.4 771.3h22.8v18.9h-22.8zM70.2 790.2h22.8v18.9h-22.8zM93 790.2h22.8v18.9h-22.8zM138.6 790.2h22.8v18.9h-22.8zM252.6 790.2h22.8v18.9h-22.8zM435 790.2h22.8v18.9h-22.8zM480.6 790.2h22.8v18.9h-22.8zM503.4 790.2h22.8v18.9h-22.8zM1461 790.2h22.8v18.9h-22.8zM1529.4 790.2h22.8v18.9h-22.8zM1552.2 790.2h22.8v18.9h-22.8zM1620.6 790.2h22.8v18.9h-22.8zM1666.2 790.2h22.8v18.9h-22.8zM1871.4 790.2h22.8v18.9h-22.8zM70.2 809.2h22.8v18.9h-22.8zM93 809.2h22.8v18.9h-22.8zM435 809.2h22.8v18.9h-22.8zM1461 809.2h22.8v18.9h-22.8zM1575 809.2h22.8v18.9h-22.8zM1597.8 809.2h22.8v18.9h-22.8zM1620.6 809.2h22.8v18.9h-22.8zM1643.4 809.2h22.8v18.9h-22.8zM115.8 828.1h22.8v18.9h-22.8zM138.6 828.1h22.8v18.9h-22.8zM252.6 828.1h22.8v18.9h-22.8zM275.4 828.1h22.8v18.9h-22.8zM480.6 828.1h22.8v18.9h-22.8zM503.4 828.1h22.8v18.9h-22.8zM617.4 828.1h22.8v18.9h-22.8zM777 828.1h22.8v18.9h-22.8zM1506.6 828.1h22.8v18.9h-22.8zM1529.4 828.1h22.8v18.9h-22.8zM1620.6 828.1h22.8v18.9h-22.8zM1643.4 828.1h22.8v18.9h-22.8zM1939.8 828.1h22.8v18.9h-22.8zM138.6 847.1h22.8v18.9h-22.8zM275.4 847.1h22.8v18.9h-22.8zM389.4 847.1h22.8v18.9h-22.8zM503.4 847.1h22.8v18.9h-22.8zM526.2 847.1h22.8v18.9h-22.8zM549 847.1h22.8v18.9h-22.8zM594.6 847.1h22.8v18.9h-22.8zM1347 847.1h22.8v18.9h-22.8zM1939.8 847.1h22.8v18.9h-22.8zM70.2 866h22.8v18.9h-22.8zM115.8 866h22.8v18.9h-22.8zM275.4 866h22.8v18.9h-22.8zM503.4 866h22.8v18.9h-22.8zM549 866h22.8v18.9h-22.8zM754.2 866h22.8v18.9h-22.8zM891 866h22.8v18.9h-22.8zM1050.6 866h22.8v18.9h-22.8zM1073.4 866h22.8v18.9h-22.8zM1255.8 866h22.8v18.9h-22.8zM1666.2 866h22.8v18.9h-22.8zM1962.6 866h22.8v18.9h-22.8zM93 885h22.8v18.9h-22.8zM138.6 885h22.8v18.9h-22.8zM252.6 885h22.8v18.9h-22.8zM366.6 885h22.8v18.9h-22.8zM503.4 885h22.8v18.9h-22.8zM526.2 885h22.8v18.9h-22.8zM549 885h22.8v18.9h-22.8zM594.6 885h22.8v18.9h-22.8zM731.4 885h22.8v18.9h-22.8zM891 885h22.8v18.9h-22.8zM1119 885h22.8v18.9h-22.8zM1141.8 885h22.8v18.9h-22.8zM1233 885h22.8v18.9h-22.8zM70.2 903.9h22.8v18.9h-22.8zM93 903.9h22.8v18.9h-22.8zM366.6 903.9h22.8v18.9h-22.8zM412.2 903.9h22.8v18.9h-22.8zM549 903.9h22.8v18.9h-22.8zM571.8 903.9h22.8v18.9h-22.8zM594.6 903.9h22.8v18.9h-22.8zM731.4 903.9h22.8v18.9h-22.8zM777 903.9h22.8v18.9h-22.8zM891 903.9h22.8v18.9h-22.8zM1119 903.9h22.8v18.9h-22.8zM1233 903.9h22.8v18.9h-22.8zM1301.4 903.9h22.8v18.9h-22.8zM138.6 922.9h22.8v18.9h-22.8zM503.4 922.9h22.8v18.9h-22.8zM571.8 922.9h22.8v18.9h-22.8zM754.2 922.9h22.8v18.9h-22.8zM845.4 922.9h22.8v18.9h-22.8zM891 922.9h22.8v18.9h-22.8zM959.4 922.9h22.8v18.9h-22.8zM1005 922.9h22.8v18.9h-22.8zM1119 922.9h22.8v18.9h-22.8zM1164.6 922.9h22.8v18.9h-22.8zM1233 922.9h22.8v18.9h-22.8zM1347 922.9h22.8v18.9h-22.8zM1369.8 922.9h22.8v18.9h-22.8zM1392.6 922.9h22.8v18.9h-22.8zM1575 922.9h22.8v18.9h-22.8zM1597.8 922.9h22.8v18.9h-22.8zM1643.4 922.9h22.8v18.9h-22.8zM1939.8 922.9h22.8v18.9h-22.8zM70.2 941.8h22.8v18.9h-22.8zM138.6 941.8h22.8v18.9h-22.8zM275.4 941.8h22.8v18.9h-22.8zM389.4 941.8h22.8v18.9h-22.8zM435 941.8h22.8v18.9h-22.8zM617.4 941.8h22.8v18.9h-22.8zM731.4 941.8h22.8v18.9h-22.8zM754.2 941.8h22.8v18.9h-22.8zM1119 941.8h22.8v18.9h-22.8zM1347 941.8h22.8v18.9h-22.8zM1369.8 941.8h22.8v18.9h-22.8zM1529.4 941.8h22.8v18.9h-22.8zM1552.2 941.8h22.8v18.9h-22.8zM1575 941.8h22.8v18.9h-22.8zM1643.4 941.8h22.8v18.9h-22.8zM1939.8 941.8h22.8v18.9h-22.8zM1962.6 941.8h22.8v18.9h-22.8zM1985.4 941.8h22.8v18.9h-22.8zM115.8 960.8h22.8v18.9h-22.8zM252.6 960.8h22.8v18.9h-22.8zM321 960.8h22.8v18.9h-22.8zM366.6 960.8h22.8v18.9h-22.8zM412.2 960.8h22.8v18.9h-22.8zM480.6 960.8h22.8v18.9h-22.8zM503.4 960.8h22.8v18.9h-22.8zM617.4 960.8h22.8v18.9h-22.8zM868.2 960.8h22.8v18.9h-22.8zM1050.6 960.8h22.8v18.9h-22.8zM1073.4 960.8h22.8v18.9h-22.8zM1187.4 960.8h22.8v18.9h-22.8zM1369.8 960.8h22.8v18.9h-22.8zM1529.4 960.8h22.8v18.9h-22.8zM1552.2 960.8h22.8v18.9h-22.8z" fill="#4a1c69"/>
<path d="M845.4 657.6h22.8v18.9h-22.8zM868.2 657.6h22.8v18.9h-22.8zM982.2 657.6h22.8v18.9h-22.8zM1005 657.6h22.8v18.9h-22.8zM1096.2 657.6h22.8v18.9h-22.8zM1119 657.6h22.8v18.9h-22.8zM1255.8 657.6h22.8v18.9h-22.8zM1461 657.6h22.8v18.9h-22.8zM1483.8 657.6h22.8v18.9h-22.8zM1506.6 657.6h22.8v18.9h-22.8zM1620.6 657.6h22.8v18.9h-22.8zM1643.4 657.6h22.8v18.9h-22.8zM298.2 676.5h22.8v18.9h-22.8zM480.6 676.5h22.8v18.9h-22.8zM526.2 676.5h22.8v18.9h-22.8zM777 676.5h22.8v18.9h-22.8zM822.6 676.5h22.8v18.9h-22.8zM1005 676.5h22.8v18.9h-22.8zM1392.6 676.5h22.8v18.9h-22.8zM1438.2 676.5h22.8v18.9h-22.8zM1506.6 676.5h22.8v18.9h-22.8zM1597.8 676.5h22.8v18.9h-22.8zM1620.6 676.5h22.8v18.9h-22.8zM1871.4 676.5h22.8v18.9h-22.8zM617.4 695.5h22.8v18.9h-22.8zM1096.2 695.5h22.8v18.9h-22.8zM1438.2 695.5h22.8v18.9h-22.8zM1461 695.5h22.8v18.9h-22.8zM1483.8 695.5h22.8v18.9h-22.8zM1529.4 695.5h22.8v18.9h-22.8zM1575 695.5h22.8v18.9h-22.8zM1597.8 695.5h22.8v18.9h-22.8zM1643.4 695.5h22.8v18.9h-22.8zM1985.4 695.5h22.8v18.9h-22.8zM115.8 714.4h22.8v18.9h-22.8zM184.2 714.4h22.8v18.9h-22.8zM275.4 714.4h22.8v18.9h-22.8zM822.6 714.4h22.8v18.9h-22.8zM845.4 714.4h22.8v18.9h-22.8zM959.4 714.4h22.8v18.9h-22.8zM982.2 714.4h22.8v18.9h-22.8zM1141.8 714.4h22.8v18.9h-22.8zM1438.2 714.4h22.8v18.9h-22.8zM1483.8 714.4h22.8v18.9h-22.8zM1529.4 714.4h22.8v18.9h-22.8zM1552.2 714.4h22.8v18.9h-22.8zM1575 714.4h22.8v18.9h-22.8zM1597.8 714.4h22.8v18.9h-22.8zM1620.6 714.4h22.8v18.9h-22.8zM822.6 733.4h22.8v18.9h-22.8zM845.4 733.4h22.8v18.9h-22.8zM868.2 733.4h22.8v18.9h-22.8zM959.4 733.4h22.8v18.9h-22.8zM982.2 733.4h22.8v18.9h-22.8zM1096.2 733.4h22.8v18.9h-22.8zM1119 733.4h22.8v18.9h-22.8zM1141.8 733.4h22.8v18.9h-22.8zM1164.6 733.4h22.8v18.9h-22.8zM1255.8 733.4h22.8v18.9h-22.8zM1347 733.4h22.8v18.9h-22.8zM1438.2 733.4h22.8v18.9h-22.8zM1461 733.4h22.8v18.9h-22.8zM1483.8 733.4h22.8v18.9h-22.8zM1552.2 733.4h22.8v18.9h-22.8zM1575 733.4h22.8v18.9h-22.8zM1597.8 733.4h22.8v18.9h-22.8zM1620.6 733.4h22.8v18.9h-22.8zM1643.4 733.4h22.8v18.9h-22.8zM184.2 752.3h22.8v18.9h-22.8zM275.4 752.3h22.8v18.9h-22.8zM868.2 752.3h22.8v18.9h-22.8zM982.2 752.3h22.8v18.9h-22.8zM1005 752.3h22.8v18.9h-22.8zM1347 752.3h22.8v18.9h-22.8zM1392.6 752.3h22.8v18.9h-22.8zM1438.2 752.3h22.8v18.9h-22.8zM1461 752.3h22.8v18.9h-22.8zM1506.6 752.3h22.8v18.9h-22.8zM1529.4 752.3h22.8v18.9h-22.8zM1620.6 752.3h22.8v18.9h-22.8zM1643.4 752.3h22.8v18.9h-22.8zM70.2 771.3h22.8v18.9h-22.8zM93 771.3h22.8v18.9h-22.8zM115.8 771.3h22.8v18.9h-22.8zM138.6 771.3h22.8v18.9h-22.8zM298.2 771.3h22.8v18.9h-22.8zM457.8 771.3h22.8v18.9h-22.8zM480.6 771.3h22.8v18.9h-22.8zM503.4 771.3h22.8v18.9h-22.8zM526.2 771.3h22.8v18.9h-22.8zM617.4 771.3h22.8v18.9h-22.8zM1050.6 771.3h22.8v18.9h-22.8zM1096.2 771.3h22.8v18.9h-22.8zM1347 771.3h22.8v18.9h-22.8zM115.8 790.2h22.8v18.9h-22.8zM275.4 790.2h22.8v18.9h-22.8zM321 790.2h22.8v18.9h-22.8zM412.2 790.2h22.8v18.9h-22.8zM526.2 790.2h22.8v18.9h-22.8zM549 790.2h22.8v18.9h-22.8zM594.6 790.2h22.8v18.9h-22.8zM1233 790.2h22.8v18.9h-22.8zM1255.8 790.2h22.8v18.9h-22.8zM1369.8 790.2h22.8v18.9h-22.8zM1438.2 790.2h22.8v18.9h-22.8zM1506.6 790.2h22.8v18.9h-22.8zM1939.8 790.2h22.8v18.9h-22.8zM480.6 809.2h22.8v18.9h-22.8zM503.4 809.2h22.8v18.9h-22.8zM526.2 809.2h22.8v18.9h-22.8zM1438.2 809.2h22.8v18.9h-22.8zM1483.8 809.2h22.8v18.9h-22.8zM1529.4 809.2h22.8v18.9h-22.8zM1871.4 809.2h22.8v18.9h-22.8zM70.2 828.1h22.8v18.9h-22.8zM184.2 828.1h22.8v18.9h-22.8zM457.8 828.1h22.8v18.9h-22.8zM526.2 828.1h22.8v18.9h-22.8zM549 828.1h22.8v18.9h-22.8zM571.8 828.1h22.8v18.9h-22.8zM594.6 828.1h22.8v18.9h-22.8zM754.2 828.1h22.8v18.9h-22.8zM822.6 828.1h22.8v18.9h-22.8zM1347 828.1h22.8v18.9h-22.8zM1392.6 828.1h22.8v18.9h-22.8zM1438.2 828.1h22.8v18.9h-22.8zM1461 828.1h22.8v18.9h-22.8zM1483.8 828.1h22.8v18.9h-22.8zM1552.2 828.1h22.8v18.9h-22.8zM1575 828.1h22.8v18.9h-22.8zM1597.8 828.1h22.8v18.9h-22.8zM70.2 847.1h22.8v18.9h-22.8zM93 847.1h22.8v18.9h-22.8zM115.8 847.1h22.8v18.9h-22.8zM184.2 847.1h22.8v18.9h-22.8zM252.6 847.1h22.8v18.9h-22.8zM480.6 847.1h22.8v18.9h-22.8zM571.8 847.1h22.8v18.9h-22.8zM617.4 847.1h22.8v18.9h-22.8zM1073.4 847.1h22.8v18.9h-22.8zM1392.6 847.1h22.8v18.9h-22.8zM1666.2 847.1h22.8v18.9h-22.8zM1962.6 847.1h22.8v18.9h-22.8zM93 866h22.8v18.9h-22.8zM138.6 866h22.8v18.9h-22.8zM252.6 866h22.8v18.9h-22.8zM298.2 866h22.8v18.9h-22.8zM366.6 866h22.8v18.9h-22.8zM389.4 866h22.8v18.9h-22.8zM412.2 866h22.8v18.9h-22.8zM480.6 866h22.8v18.9h-22.8zM526.2 866h22.8v18.9h-22.8zM571.8 866h22.8v18.9h-22.8zM594.6 866h22.8v18.9h-22.8zM617.4 866h22.8v18.9h-22.8zM731.4 866h22.8v18.9h-22.8zM777 866h22.8v18.9h-22.8zM822.6 866h22.8v18.9h-22.8zM982.2 866h22.8v18.9h-22.8zM1005 866h22.8v18.9h-22.8zM1096.2 866h22.8v18.9h-22.8zM1119 866h22.8v18.9h-22.8zM1141.8 866h22.8v18.9h-22.8zM1164.6 866h22.8v18.9h-22.8zM1187.4 866h22.8v18.9h-22.8zM1233 866h22.8v18.9h-22.8zM1301.4 866h22.8v18.9h-22.8zM1939.8 866h22.8v18.9h-22.8zM1985.4 866h22.8v18.9h-22.8zM70.2 885h22.8v18.9h-22.8zM115.8 885h22.8v18.9h-22.8zM275.4 885h22.8v18.9h-22.8zM389.4 885h22.8v18.9h-22.8zM412.2 885h22.8v18.9h-22.8zM480.6 885h22.8v18.9h-22.8zM571.8 885h22.8v18.9h-22.8zM754.2 885h22.8v18.9h-22.8zM777 885h22.8v18.9h-22.8zM982.2 885h22.8v18.9h-22.8zM1050.6 885h22.8v18.9h-22.8zM1096.2 885h22.8v18.9h-22.8zM1164.6 885h22.8v18.9h-22.8zM1187.4 885h22.8v18.9h-22.8zM1301.4 885h22.8v18.9h-22.8zM1369.8 885h22.8v18.9h-22.8zM115.8 903.9h22.8v18.9h-22.8zM138.6 903.9h22.8v18.9h-22.8zM252.6 903.9h22.8v18.9h-22.8zM275.4 903.9h22.8v18.9h-22.8zM389.4 903.9h22.8v18.9h-22.8zM457.8 903.9h22.8v18.9h-22.8zM480.6 903.9h22.8v18.9h-22.8zM503.4 903.9h22.8v18.9h-22.8zM526.2 903.9h22.8v18.9h-22.8zM617.4 903.9h22.8v18.9h-22.8zM754.2 903.9h22.8v18.9h-22.8zM1050.6 903.9h22.8v18.9h-22.8zM1096.2 903.9h22.8v18.9h-22.8zM1164.6 903.9h22.8v18.9h-22.8zM1187.4 903.9h22.8v18.9h-22.8zM1255.8 903.9h22.8v18.9h-22.8zM184.2 922.9h22.8v18.9h-22.8zM252.6 922.9h22.8v18.9h-22.8zM298.2 922.9h22.8v18.9h-22.8zM321 922.9h22.8v18.9h-22.8zM366.6 922.9h22.8v18.9h-22.8zM389.4 922.9h22.8v18.9h-22.8zM412.2 922.9h22.8v18.9h-22.8zM435 922.9h22.8v18.9h-22.8zM480.6 922.9h22.8v18.9h-22.8zM526.2 922.9h22.8v18.9h-22.8zM549 922.9h22.8v18.9h-22.8zM594.6 922.9h22.8v18.9h-22.8zM617.4 922.9h22.8v18.9h-22.8zM777 922.9h22.8v18.9h-22.8zM868.2 922.9h22.8v18.9h-22.8zM982.2 922.9h22.8v18.9h-22.8zM1050.6 922.9h22.8v18.9h-22.8zM1073.4 922.9h22.8v18.9h-22.8zM1096.2 922.9h22.8v18.9h-22.8zM1187.4 922.9h22.8v18.9h-22.8zM1301.4 922.9h22.8v18.9h-22.8zM1438.2 922.9h22.8v18.9h-22.8zM1483.8 922.9h22.8v18.9h-22.8zM1506.6 922.9h22.8v18.9h-22.8zM1529.4 922.9h22.8v18.9h-22.8zM1552.2 922.9h22.8v18.9h-22.8zM1620.6 922.9h22.8v18.9h-22.8zM1871.4 922.9h22.8v18.9h-22.8zM1962.6 922.9h22.8v18.9h-22.8zM1985.4 922.9h22.8v18.9h-22.8zM93 941.8h22.8v18.9h-22.8zM115.8 941.8h22.8v18.9h-22.8zM252.6 941.8h22.8v18.9h-22.8zM412.2 941.8h22.8v18.9h-22.8zM480.6 941.8h22.8v18.9h-22.8zM503.4 941.8h22.8v18.9h-22.8zM526.2 941.8h22.8v18.9h-22.8zM549 941.8h22.8v18.9h-22.8zM571.8 941.8h22.8v18.9h-22.8zM594.6 941.8h22.8v18.9h-22.8zM663 941.8h22.8v18.9h-22.8zM1005 941.8h22.8v18.9h-22.8zM1050.6 941.8h22.8v18.9h-22.8zM1073.4 941.8h22.8v18.9h-22.8zM1141.8 941.8h22.8v18.9h-22.8zM1164.6 941.8h22.8v18.9h-22.8zM1187.4 941.8h22.8v18.9h-22.8zM1301.4 941.8h22.8v18.9h-22.8zM1483.8 941.8h22.8v18.9h-22.8zM1506.6 941.8h22.8v18.9h-22.8zM1620.6 941.8h22.8v18.9h-22.8zM70.2 960.8h22.8v18.9h-22.8zM93 960.8h22.8v18.9h-22.8zM138.6 960.8h22.8v18.9h-22.8zM184.2 960.8h22.8v18.9h-22.8zM275.4 960.8h22.8v18.9h-22.8zM435 960.8h22.8v18.9h-22.8zM526.2 960.8h22.8v18.9h-22.8zM549 960.8h22.8v18.9h-22.8zM571.8 960.8h22.8v18.9h-22.8zM594.6 960.8h22.8v18.9h-22.8zM1005 960.8h22.8v18.9h-22.8zM1119 960.8h22.8v18.9h-22.8zM1164.6 960.8h22.8v18.9h-22.8zM1301.4 960.8h22.8v18.9h-22.8zM1347 960.8h22.8v18.9h-22.8zM1483.8 960.8h22.8v18.9h-22.8zM1506.6 960.8h22.8v18.9h-22.8zM1575 960.8h22.8v18.9h-22.8zM1620.6 960.8h22.8v18.9h-22.8zM1666.2 960.8h22.8v18.9h-22.8z" fill="#4a1562"/>
<path d="M1962.6 657.6h22.8v18.9h-22.8zM412.2 695.5h22.8v18.9h-22.8zM480.6 695.5h22.8v18.9h-22.8zM503.4 733.4h22.8v18.9h-22.8zM184.2 790.2h22.8v18.9h-22.8zM1780.2 790.2h22.8v18.9h-22.8zM1164.6 809.2h22.8v18.9h-22.8zM959.4 828.1h22.8v18.9h-22.8zM435 885h22.8v18.9h-22.8zM1005 885h22.8v18.9h-22.8zM868.2 903.9h22.8v18.9h-22.8zM1871.4 903.9h22.8v18.9h-22.8zM321 941.8h22.8v18.9h-22.8zM891 941.8h22.8v18.9h-22.8z" fill="#2d728e"/>
<path d="M138.6 676.5h22.8v18.9h-22.8zM275.4 676.5h22.8v18.9h-22.8zM412.2 714.4h22.8v18.9h-22.8zM1050.6 790.2h22.8v18.9h-22.8zM1848.6 790.2h22.8v18.9h-22.8zM982.2 828.1h22.8v18.9h-22.8zM1050.6 828.1h22.8v18.9h-22.8zM1255.8 828.1h22.8v18.9h-22.8zM1301.4 828.1h22.8v18.9h-22.8zM982.2 847.1h22.8v18.9h-22.8zM1119 847.1h22.8v18.9h-22.8zM1392.6 866h22.8v18.9h-22.8zM1529.4 885h22.8v18.9h-22.8zM1575 885h22.8v18.9h-22.8zM1461 903.9h22.8v18.9h-22.8zM1552.2 903.9h22.8v18.9h-22.8zM1643.4 903.9h22.8v18.9h-22.8z" fill="#22a884"/>
<path d="M207 676.5h22.8v18.9h-22.8zM229.8 676.5h22.8v18.9h-22.8zM457.8 714.4h22.8v18.9h-22.8zM663 752.3h22.8v18.9h-22.8zM708.6 752.3h22.8v18.9h-22.8zM777 771.3h22.8v18.9h-22.8zM959.4 790.2h22.8v18.9h-22.8zM1324.2 866h22.8v18.9h-22.8zM1985.4 960.8h22.8v18.9h-22.8z" fill="#cde126"/>
<path d="M343.8 695.5h22.8v18.9h-22.8zM640.2 752.3h22.8v18.9h-22.8zM754.2 771.3h22.8v18.9h-22.8zM799.8 771.3h22.8v18.9h-22.8zM868.2 790.2h22.8v18.9h-22.8zM891 790.2h22.8v18.9h-22.8zM913.8 790.2h22.8v18.9h-22.8zM936.6 790.2h22.8v18.9h-22.8zM1210.2 847.1h22.8v18.9h-22.8zM1233 847.1h22.8v18.9h-22.8zM1255.8 847.1h22.8v18.9h-22.8zM1278.6 847.1h22.8v18.9h-22.8zM1689 922.9h22.8v18.9h-22.8zM1711.8 922.9h22.8v18.9h-22.8zM1734.6 922.9h22.8v18.9h-22.8zM1757.4 922.9h22.8v18.9h-22.8zM1780.2 941.8h22.8v18.9h-22.8zM1803 941.8h22.8v18.9h-22.8zM1825.8 941.8h22.8v18.9h-22.8zM1848.6 941.8h22.8v18.9h-22.8zM913.8 960.8h22.8v18.9h-22.8zM1894.2 960.8h22.8v18.9h-22.8zM1917 960.8h22.8v18.9h-22.8zM1939.8 960.8h22.8v18.9h-22.8z" fill="#fde725"/>
<path d="M366.6 695.5h22.8v18.9h-22.8zM549 733.4h22.8v18.9h-22.8zM571.8 733.4h22.8v18.9h-22.8zM1073.4 809.2h22.8v18.9h-22.8zM1871.4 866h22.8v18.9h-22.8z" fill="#21978a"/>
<path d="M389.4 695.5h22.8v18.9h-22.8zM526.2 695.5h22.8v18.9h-22.8zM549 695.5h22.8v18.9h-22.8zM526.2 714.4h22.8v18.9h-22.8zM549 714.4h22.8v18.9h-22.8zM526.2 733.4h22.8v18.9h-22.8zM617.4 733.4h22.8v18.9h-22.8zM571.8 752.3h22.8v18.9h-22.8zM594.6 752.3h22.8v18.9h-22.8zM936.6 771.3h22.8v18.9h-22.8zM1392.6 771.3h22.8v18.9h-22.8zM1894.2 790.2h22.8v18.9h-22.8zM1050.6 809.2h22.8v18.9h-22.8zM731.4 828.1h22.8v18.9h-22.8zM1529.4 903.9h22.8v18.9h-22.8z" fill="#21918c"/>
<path d="M480.6 714.4h22.8v18.9h-22.8zM1096.2 847.1h22.8v18.9h-22.8zM1438.2 903.9h22.8v18.9h-22.8zM1575 903.9h22.8v18.9h-22.8z" fill="#22a286"/>
<path d="M571.8 714.4h22.8v18.9h-22.8zM685.8 733.4h22.8v18.9h-22.8z" fill="#32658d"/>
<path d="M594.6 733.4h22.8v18.9h-22.8zM1164.6 847.1h22.8v18.9h-22.8zM822.6 885h22.8v18.9h-22.8zM1369.8 903.9h22.8v18.9h-22.8z" fill="#238b8c"/>
<path d="M685.8 752.3h22.8v18.9h-22.8zM822.6 771.3h22.8v18.9h-22.8zM845.4 771.3h22.8v18.9h-22.8zM1027.8 809.2h22.8v18.9h-22.8zM1369.8 866h22.8v18.9h-22.8zM1415.4 866h22.8v18.9h-22.8z" fill="#9cd83c"/>
<path d="M1301.4 847.1h22.8v18.9h-22.8z" fill="#7ad151"/>
<path d="M93 657.6V979.7M115.8 657.6V979.7M138.6 657.6V979.7M161.4 657.6V979.7M184.2 657.6V979.7M207 657.6V979.7M229.8 657.6V979.7M252.6 657.6V979.7M275.4 657.6V979.7M298.2 657.6V979.7M321 657.6V979.7M343.8 657.6V979.7M366.6 657.6V979.7M389.4 657.6V979.7M412.2 657.6V979.7M435 657.6V979.7M457.8 657.6V979.7M480.6 657.6V979.7M503.4 657.6V979.7M526.2 657.6V979.7M549 657.6V979.7M571.8 657.6V979.7M594.6 657.6V979.7M617.4 657.6V979.7M640.2 657.6V979.7M663 657.6V979.7M685.8 657.6V979.7M708.6 657.6V979.7M731.4 657.6V979.7M754.2 657.6V979.7M777 657.6V979.7M799.8 657.6V979.7M822.6 657.6V979.7M845.4 657.6V979.7M868.2 657.6V979.7M891 657.6V979.7M913.8 657.6V979.7M936.6 657.6V979.7M959.4 657.6V979.7M982.2 657.6V979.7M1005 657.6V979.7M1027.8 657.6V979.7M1050.6 657.6V979.7M1073.4 657.6V979.7M1096.2 657.6V979.7M1119 657.6V979.7M1141.8 657.6V979.7M1164.6 657.6V979.7M1187.4 657.6V979.7M1210.2 657.6V979.7M1233 657.6V979.7M1255.8 657.6V979.7M1278.6 657.6V979.7M1301.4 657.6V979.7M1324.2 657.6V979.7M1347 657.6V979.7M1369.8 657.6V979.7M1392.6 657.6V979.7M1415.4 657.6V979.7M1438.2 657.6V979.7M1461 657.6V979.7M1483.8 657.6V979.7M1506.6 657.6V979.7M1529.4 657.6V979.7M1552.2 657.6V979.7M1575 657.6V979.7M1597.8 657.6V979.7M1620.6 657.6V979.7M1643.4 657.6V979.7M1666.2 657.6V979.7M1689 657.6V979.7M1711.8 657.6V979.7M1734.6 657.6V979.7M1757.4 657.6V979.7M1780.2 657.6V979.7M1803 657.6V979.7M1825.8 657.6V979.7M1848.6 657.6V979.7M1871.4 657.6V979.7M1894.2 657.6V979.7M1917 657.6V979.7M1939.8 657.6V979.7M1962.6 657.6V979.7M1985.4 657.6V979.7M70.2 676.5H2008.2M70.2 695.5H2008.2M70.2 714.4H2008.2M70.2 733.4H2008.2M70.2 752.3H2008.2M70.2 771.3H2008.2M70.2 790.2H2008.2M70.2 809.2H2008.2M70.2 828.1H2008.2M70.2 847.1H2008.2M70.2 866H2008.2M70.2 885H2008.2M70.2 903.9H2008.2M70.2 922.9H2008.2M70.2 941.8H2008.2M70.2 960.8H2008.2" stroke="#b9a3d6" stroke-opacity=".5" stroke-width=".9" fill="none"/>
<rect x="70.2" y="657.6" width="1938" height="322.1" fill="none" stroke="#111" stroke-width="1.6"/>
<path d="M81.6 979.7v5M104.4 979.7v5M127.2 979.7v5M150 979.7v5M172.8 979.7v5M195.6 979.7v5M218.4 979.7v5M241.2 979.7v5M264 979.7v5M286.8 979.7v5M309.6 979.7v5M332.4 979.7v5M355.2 979.7v5M378 979.7v5M400.8 979.7v5M423.6 979.7v5M446.4 979.7v5M469.2 979.7v5M492 979.7v5M514.8 979.7v5M537.6 979.7v5M560.4 979.7v5M583.2 979.7v5M606 979.7v5M628.8 979.7v5M651.6 979.7v5M674.4 979.7v5M697.2 979.7v5M720 979.7v5M742.8 979.7v5M765.6 979.7v5M788.4 979.7v5M811.2 979.7v5M834 979.7v5M856.8 979.7v5M879.6 979.7v5M902.4 979.7v5M925.2 979.7v5M948 979.7v5M970.8 979.7v5M993.6 979.7v5M1016.4 979.7v5M1039.2 979.7v5M1062 979.7v5M1084.8 979.7v5M1107.6 979.7v5M1130.4 979.7v5M1153.2 979.7v5M1176 979.7v5M1198.8 979.7v5M1221.6 979.7v5M1244.4 979.7v5M1267.2 979.7v5M1290 979.7v5M1312.8 979.7v5M1335.6 979.7v5M1358.4 979.7v5M1381.2 979.7v5M1404 979.7v5M1426.8 979.7v5M1449.6 979.7v5M1472.4 979.7v5M1495.2 979.7v5M1518 979.7v5M1540.8 979.7v5M1563.6 979.7v5M1586.4 979.7v5M1609.2 979.7v5M1632 979.7v5M1654.8 979.7v5M1677.6 979.7v5M1700.4 979.7v5M1723.2 979.7v5M1746 979.7v5M1768.8 979.7v5M1791.6 979.7v5M1814.4 979.7v5M1837.2 979.7v5M1860 979.7v5M1882.8 979.7v5M1905.6 979.7v5M1928.4 979.7v5M1951.2 979.7v5M1974 979.7v5M1996.8 979.7v5M70.2 667.1h-5M70.2 686h-5M70.2 705h-5M70.2 723.9h-5M70.2 742.9h-5M70.2 761.8h-5M70.2 780.8h-5M70.2 799.7h-5M70.2 818.7h-5M70.2 837.6h-5M70.2 856.5h-5M70.2 875.5h-5M70.2 894.4h-5M70.2 913.4h-5M70.2 932.3h-5M70.2 951.3h-5M70.2 970.2h-5" stroke="#111" stroke-width="1.3" fill="none"/>
<g font-size="18.5">
<text x="62.2" y="673.5" text-anchor="end" font-size="18">2</text>
<text x="62.2" y="692.4" text-anchor="end" font-size="18">4</text>
<text x="62.2" y="711.4" text-anchor="end" font-size="18">12</text>
<text x="62.2" y="730.3" text-anchor="end" font-size="18">10</text>
<text x="62.2" y="749.3" text-anchor="end" font-size="18">0</text>
<text x="62.2" y="768.2" text-anchor="end" font-size="18">7</text>
<text x="62.2" y="787.2" text-anchor="end" font-size="18">8</text>
<text x="62.2" y="806.1" text-anchor="end" font-size="18">13</text>
<text x="62.2" y="825.1" text-anchor="end" font-size="18">6</text>
<text x="62.2" y="844" text-anchor="end" font-size="18">3</text>
<text x="62.2" y="862.9" text-anchor="end" font-size="18">14</text>
<text x="62.2" y="881.9" text-anchor="end" font-size="18">5</text>
<text x="62.2" y="900.8" text-anchor="end" font-size="18">1</text>
<text x="62.2" y="919.8" text-anchor="end" font-size="18">9</text>
<text x="62.2" y="938.7" text-anchor="end" font-size="18">15</text>
<text x="62.2" y="957.7" text-anchor="end" font-size="18">11</text>
<text x="62.2" y="976.6" text-anchor="end" font-size="18">16</text>
<text transform="translate(87.2 991.2) rotate(-90)" text-anchor="end">HDC</text>
<text transform="translate(110 991.2) rotate(-90)" text-anchor="end">CPA3</text>
<text transform="translate(132.8 991.2) rotate(-90)" text-anchor="end">RNASE2</text>
<text transform="translate(155.6 991.2) rotate(-90)" text-anchor="end">PRSS57</text>
<text transform="translate(178.4 991.2) rotate(-90)" text-anchor="end">CLC</text>
<text transform="translate(201.2 991.2) rotate(-90)" text-anchor="end">PLAC8</text>
<text transform="translate(224 991.2) rotate(-90)" text-anchor="end">MPO</text>
<text transform="translate(246.8 991.2) rotate(-90)" text-anchor="end">AZU1</text>
<text transform="translate(269.6 991.2) rotate(-90)" text-anchor="end">SERPINB1</text>
<text transform="translate(292.4 991.2) rotate(-90)" text-anchor="end">RNASE2</text>
<text transform="translate(315.2 991.2) rotate(-90)" text-anchor="end">TNFSF10</text>
<text transform="translate(338 991.2) rotate(-90)" text-anchor="end">GBP4</text>
<text transform="translate(360.8 991.2) rotate(-90)" text-anchor="end">CXCL11</text>
<text transform="translate(383.6 991.2) rotate(-90)" text-anchor="end">CD74</text>
<text transform="translate(406.4 991.2) rotate(-90)" text-anchor="end">BST2</text>
<text transform="translate(429.2 991.2) rotate(-90)" text-anchor="end">TIMP1</text>
<text transform="translate(452 991.2) rotate(-90)" text-anchor="end">LAT</text>
<text transform="translate(474.8 991.2) rotate(-90)" text-anchor="end">AL157895.1</text>
<text transform="translate(497.6 991.2) rotate(-90)" text-anchor="end">GATA2</text>
<text transform="translate(520.4 991.2) rotate(-90)" text-anchor="end">ITGA2B</text>
<text transform="translate(543.2 991.2) rotate(-90)" text-anchor="end">SLC27A2</text>
<text transform="translate(566 991.2) rotate(-90)" text-anchor="end">ZNRF1</text>
<text transform="translate(588.8 991.2) rotate(-90)" text-anchor="end">NME4</text>
<text transform="translate(611.6 991.2) rotate(-90)" text-anchor="end">SLC39A3</text>
<text transform="translate(634.4 991.2) rotate(-90)" text-anchor="end">STMN1</text>
<text transform="translate(657.2 991.2) rotate(-90)" text-anchor="end">KLF1</text>
<text transform="translate(680 991.2) rotate(-90)" text-anchor="end">APOC1</text>
<text transform="translate(702.8 991.2) rotate(-90)" text-anchor="end">CMBL</text>
<text transform="translate(725.6 991.2) rotate(-90)" text-anchor="end">HES6</text>
<text transform="translate(748.4 991.2) rotate(-90)" text-anchor="end">BLVRB</text>
<text transform="translate(771.2 991.2) rotate(-90)" text-anchor="end">FSCN1</text>
<text transform="translate(794 991.2) rotate(-90)" text-anchor="end">MARCKSL1</text>
<text transform="translate(816.8 991.2) rotate(-90)" text-anchor="end">LAMP3</text>
<text transform="translate(839.6 991.2) rotate(-90)" text-anchor="end">CCR7</text>
<text transform="translate(862.4 991.2) rotate(-90)" text-anchor="end">BIRC3</text>
<text transform="translate(885.2 991.2) rotate(-90)" text-anchor="end">LTB</text>
<text transform="translate(908 991.2) rotate(-90)" text-anchor="end">TCF4</text>
<text transform="translate(930.8 991.2) rotate(-90)" text-anchor="end">JCHAIN</text>
<text transform="translate(953.6 991.2) rotate(-90)" text-anchor="end">TSPAN13</text>
<text transform="translate(976.4 991.2) rotate(-90)" text-anchor="end">RAB11FIP1</text>
<text transform="translate(999.2 991.2) rotate(-90)" text-anchor="end">CTSH</text>
<text transform="translate(1022 991.2) rotate(-90)" text-anchor="end">JAML</text>
<text transform="translate(1044.8 991.2) rotate(-90)" text-anchor="end">ASGR2</text>
<text transform="translate(1067.6 991.2) rotate(-90)" text-anchor="end">LST1</text>
<text transform="translate(1090.4 991.2) rotate(-90)" text-anchor="end">ARHGDIB</text>
<text transform="translate(1113.2 991.2) rotate(-90)" text-anchor="end">CYBB</text>
<text transform="translate(1136 991.2) rotate(-90)" text-anchor="end">IGSF6</text>
<text transform="translate(1158.8 991.2) rotate(-90)" text-anchor="end">LGALS3</text>
<text transform="translate(1181.6 991.2) rotate(-90)" text-anchor="end">FTL</text>
<text transform="translate(1204.4 991.2) rotate(-90)" text-anchor="end">CD68</text>
<text transform="translate(1227.2 991.2) rotate(-90)" text-anchor="end">CXCL8</text>
<text transform="translate(1250 991.2) rotate(-90)" text-anchor="end">SOD2</text>
<text transform="translate(1272.8 991.2) rotate(-90)" text-anchor="end">C15orf48</text>
<text transform="translate(1295.6 991.2) rotate(-90)" text-anchor="end">CTSL</text>
<text transform="translate(1318.4 991.2) rotate(-90)" text-anchor="end">FTH1</text>
<text transform="translate(1341.2 991.2) rotate(-90)" text-anchor="end">GNLY</text>
<text transform="translate(1364 991.2) rotate(-90)" text-anchor="end">NKG7</text>
<text transform="translate(1386.8 991.2) rotate(-90)" text-anchor="end">CCL5</text>
<text transform="translate(1409.6 991.2) rotate(-90)" text-anchor="end">MALAT1</text>
<text transform="translate(1432.4 991.2) rotate(-90)" text-anchor="end">GZMA</text>
<text transform="translate(1455.2 991.2) rotate(-90)" text-anchor="end">TRAC</text>
<text transform="translate(1478 991.2) rotate(-90)" text-anchor="end">CD3D</text>
<text transform="translate(1500.8 991.2) rotate(-90)" text-anchor="end">CD3E</text>
<text transform="translate(1523.6 991.2) rotate(-90)" text-anchor="end">IL32</text>
<text transform="translate(1546.4 991.2) rotate(-90)" text-anchor="end">CD7</text>
<text transform="translate(1569.2 991.2) rotate(-90)" text-anchor="end">IL32</text>
<text transform="translate(1592 991.2) rotate(-90)" text-anchor="end">CD2</text>
<text transform="translate(1614.8 991.2) rotate(-90)" text-anchor="end">TRAC</text>
<text transform="translate(1637.6 991.2) rotate(-90)" text-anchor="end">CD3D</text>
<text transform="translate(1660.4 991.2) rotate(-90)" text-anchor="end">CD3E</text>
<text transform="translate(1683.2 991.2) rotate(-90)" text-anchor="end">MTRNR2L12</text>
<text transform="translate(1706 991.2) rotate(-90)" text-anchor="end">HBB</text>
<text transform="translate(1728.8 991.2) rotate(-90)" text-anchor="end">HBA1</text>
<text transform="translate(1751.6 991.2) rotate(-90)" text-anchor="end">HBA2</text>
<text transform="translate(1774.4 991.2) rotate(-90)" text-anchor="end">AHSP</text>
<text transform="translate(1797.2 991.2) rotate(-90)" text-anchor="end">IGHM</text>
<text transform="translate(1820 991.2) rotate(-90)" text-anchor="end">MS4A1</text>
<text transform="translate(1842.8 991.2) rotate(-90)" text-anchor="end">CD79A</text>
<text transform="translate(1865.6 991.2) rotate(-90)" text-anchor="end">TCL1A</text>
<text transform="translate(1888.4 991.2) rotate(-90)" text-anchor="end">ISG20</text>
<text transform="translate(1911.2 991.2) rotate(-90)" text-anchor="end">MZB1</text>
<text transform="translate(1934 991.2) rotate(-90)" text-anchor="end">DERL3</text>
<text transform="translate(1956.8 991.2) rotate(-90)" text-anchor="end">XBP1</text>
<text transform="translate(1979.6 991.2) rotate(-90)" text-anchor="end">SSR4</text>
<text transform="translate(2002.4 991.2) rotate(-90)" text-anchor="end">SEC11C</text>
<text transform="translate(24.5 815.5) rotate(-90)" text-anchor="middle" font-size="18">Leiden Cluster</text>
<text x="127.2" y="629.6" text-anchor="middle" font-size="18">2</text>
<text x="241.2" y="629.6" text-anchor="middle" font-size="18">4</text>
<text x="355.2" y="629.6" text-anchor="middle" font-size="18">12</text>
<text x="469.2" y="629.6" text-anchor="middle" font-size="18">10</text>
<text x="583.2" y="629.6" text-anchor="middle" font-size="18">0</text>
<text x="697.2" y="629.6" text-anchor="middle" font-size="18">7</text>
<text x="811.2" y="629.6" text-anchor="middle" font-size="18">8</text>
<text x="925.2" y="629.6" text-anchor="middle" font-size="18">13</text>
<text x="1039.2" y="629.6" text-anchor="middle" font-size="18">6</text>
<text x="1153.2" y="629.6" text-anchor="middle" font-size="18">3</text>
<text x="1267.2" y="629.6" text-anchor="middle" font-size="18">14</text>
<text x="1381.2" y="629.6" text-anchor="middle" font-size="18">5</text>
<text x="1495.2" y="629.6" text-anchor="middle" font-size="18">1</text>
<text x="1609.2" y="629.6" text-anchor="middle" font-size="18">9</text>
<text x="1723.2" y="629.6" text-anchor="middle" font-size="18">15</text>
<text x="1837.2" y="629.6" text-anchor="middle" font-size="18">11</text>
<text x="1951.2" y="629.6" text-anchor="middle" font-size="18">16</text>
</g>
<path d="M74.5 650.3v-9H179.9v9M188.5 650.3v-9H293.9v9M302.5 650.3v-9H407.9v9M416.5 650.3v-9H521.9v9M530.5 650.3v-9H635.9v9M644.5 650.3v-9H749.9v9M758.5 650.3v-9H863.9v9M872.5 650.3v-9H977.9v9M986.5 650.3v-9H1091.9v9M1100.5 650.3v-9H1205.9v9M1214.5 650.3v-9H1319.9v9M1328.5 650.3v-9H1433.9v9M1442.5 650.3v-9H1547.9v9M1556.5 650.3v-9H1661.9v9M1670.5 650.3v-9H1775.9v9M1784.5 650.3v-9H1889.9v9M1898.5 650.3v-9H2003.9v9" stroke="#111" stroke-width="1.3" fill="none"/>
<path d="M2023.7 667.1H2046.3V686H2023.7M2023.7 742.9H2038.4V761.8H2023.7M2023.7 723.9H2039.8V752.3H2038.4M2023.7 705H2050.5V738.1H2039.8M2046.3 676.5H2058.6V721.5H2050.5M2023.7 780.8H2045.8V799.7H2023.7M2023.7 837.6H2037.7V856.5H2023.7M2023.7 818.7H2047.5V847.1H2037.7M2045.8 790.2H2055.6V832.9H2047.5M2023.7 894.4H2036.1V913.4H2023.7M2023.7 875.5H2045.1V903.9H2036.1M2023.7 951.3H2045.4V970.2H2023.7M2023.7 932.3H2051.6V960.8H2045.4M2045.1 889.7H2060.9V946.5H2051.6M2055.6 811.5H2070.3V918.1H2060.9M2058.6 699H2075.6V864.8H2070.3" stroke="#6b6b6b" stroke-width="1.5" fill="none"/>
<defs><linearGradient id="gvir" x1="0" y1="0" x2="0" y2="1"><stop offset="0%" stop-color="#fde725"/><stop offset="10%" stop-color="#bddf26"/><stop offset="20%" stop-color="#7ad151"/><stop offset="30%" stop-color="#44bf70"/><stop offset="40%" stop-color="#22a884"/><stop offset="50%" stop-color="#21918c"/><stop offset="60%" stop-color="#2a788e"/><stop offset="70%" stop-color="#355f8d"/><stop offset="80%" stop-color="#414487"/><stop offset="90%" stop-color="#482475"/><stop offset="100%" stop-color="#440154"/></linearGradient></defs>
<rect x="2092.2" y="741" width="14" height="238.5" fill="url(#gvir)" stroke="#111" stroke-width="1.3"/>
<text x="2116.5" y="777" font-size="18">3</text>
<text x="2116.5" y="845.6" font-size="18">2</text>
<text x="2116.5" y="913.6" font-size="18">1</text>
<text x="2116.5" y="981.8" font-size="18">0</text>
<path d="M2106.2 770.6h5M2106.2 839.2h5M2106.2 907.2h5M2106.2 975.4h5" stroke="#111" stroke-width="1.3" fill="none"/>
<!-- ee -->
<g transform="translate(73 1216) scale(24.2050 1.6667)" fill="none" stroke-width="1">
<path d="M0 202.5h1m-1 38h1m-1 2h1m-1 1h1m-1 1h1m-1 4h1m-1 4h1m-1 2h1m-1 2h1m-1 2h1m-1 1h1m-1 1h1m-1 1h1m-1 1h1m-1 3h1m-1 1h1m-1 5h1m-1 1h1m-1 1h1m-1 1h1m-1 2h1m-1 1h1m0-261h1m-1 63h1m-1 42h1m-1 63h1m-1 57h1m-1 1h1m-1 3h1m-1 8h1m-1 3h1m-1 1h1m-1 1h1m-1 13h1m-1 2h1m-1 1h1m-1 4h1m0-150h1m-1 1h1m-1 111h1m-1 3h1m-1 5h1m-1 4h1m-1 1h1m-1 1h1m-1 9h1m-1 1h1m-1 1h1m-1 4h1m-1 2h1m-1 1h1m-1 1h1m-1 1h1m-1 1h1m-1 3h1m0-35h1m-1 6h1m-1 1h1m-1 2h1m-1 5h1m-1 1h1m-1 1h1m-1 4h1m-1 2h1m-1 3h1m-1 1h1m-1 1h1m-1 2h1m-1 1h1m-1 1h1m-1 2h1m0-246h1m-1 210h1m-1 4h1m-1 1h1m-1 3h1m-1 7h1m-1 9h1m-1 2h1m-1 2h1m-1 1h1m-1 6h1m-1 1h1m-1 2h1m0-37h1m-1 6h1m-1 5h1m-1 1h1m-1 2h1m-1 7h1m-1 1h1m-1 2h1m-1 1h1m-1 1h1m-1 3h1m-1 2h1m0-32h1m-1 5h1m-1 1h1m-1 2h1m-1 3h1m-1 9h1m-1 3h1m-1 1h1m-1 1h1m-1 3h1m-1 3h1m0-31h1m-1 1h1m-1 1h1m-1 1h1m-1 3h1m-1 2h1m-1 1h1m-1 4h1m-1 1h1m-1 3h1m-1 4h1m-1 1h1m-1 3h1m-1 4h1m-1 4h1m-1 1h1m-1 1h1m-1 1h1m0-269h1m-1 235h1m-1 1h1m-1 1h1m-1 2h1m-1 5h1m-1 3h1m-1 1h1m-1 1h1m-1 5h1m-1 7h1m-1 6h1m-1 2h1m0-158h1m-1 2h1m-1 3h1m-1 72h1m-1 47h1m-1 6h1m-1 11h1m-1 1h1m-1 1h1m-1 2h1m-1 2h1m-1 1h1m-1 2h1m-1 1h1m-1 3h1m-1 1h1m-1 1h1m-1 2h1m0-113h1m-1 79h1m-1 9h1m-1 1h1m-1 8h1m-1 9h1m-1 4h1m0-263h1m-1 64h1m-1 166h1m-1 3h1m-1 5h1m-1 1h1m-1 1h1m-1 6h1m-1 3h1m-1 2h1m-1 4h1m-1 1h1m-1 2h1m-1 1h1m-1 5h1m-1 2h1m-1 1h1m-1 1h1m0-38h1m-1 4h1m-1 1h1m-1 6h1m-1 3h1m-1 1h1m-1 7h1m-1 1h1m-1 8h1m-1 4h1m-1 2h1m-1 1h1m0-35h1m-1 1h1m-1 1h1m-1 6h1m-1 3h1m-1 7h1m-1 2h1m-1 1h1m-1 7h1m-1 5h1m-1 1h1m0-112h1m-1 20h1m-1 55h1m-1 4h1m-1 2h1m-1 4h1m-1 3h1m-1 5h1m-1 5h1m-1 5h1m-1 3h1m0-28h1m-1 2h1m-1 3h1m-1 1h1m-1 1h1m-1 2h1m-1 5h1m-1 1h1m-1 1h1m-1 1h1m-1 1h1m-1 2h1m-1 1h1m-1 2h1m-1 7h1m-1 1h1m0-199h1m-1 102h1m-1 1h1m-1 63h1m-1 3h1m-1 2h1m-1 1h1m-1 1h1m-1 8h1m-1 2h1m-1 10h1m-1 1h1m-1 6h1m0-31h1m-1 6h1m-1 1h1m-1 1h1m-1 1h1m-1 5h1m-1 3h1m-1 1h1m-1 15h1m0-104h1m-1 38h1m-1 1h1m-1 29h1m-1 3h1m-1 10h1m-1 6h1m-1 2h1m-1 1h1m-1 1h1m-1 1h1m-1 1h1m-1 3h1m-1 1h1m-1 2h1m-1 2h1m0-216h1m-1 146h1m-1 39h1m-1 3h1m-1 7h1m-1 2h1m-1 1h1m-1 1h1m-1 3h1m-1 5h1m-1 7h1m0-255h1m-1 37h1m-1 1h1m-1 168h1m0-138h1m-1 24h1m-1 47h1m-1 76h1m0-34h1m0-171h1m0 11h1m-1 135h1m0-42h1m-1 24h1m1-92h1m0 7h1m1 71h1m0 39h1m-1 17h1m0-128h1m1 24h1m-1 1h1m-1 9h1m-1 18h1m-1 86h1m0-131h1m-1 52h1m-1 57h1m-1 38h1m-1 1h1m1-103h1m-1 1h1m0-76h1m-1 52h1m-1 38h1m-1 60h1m-1 43h1" stroke="#3b4fb0"/>
<path d="M0 10.5h1m-1 1h1m-1 78h1m-1 1h1m-1 34h1m-1 117h1m-1 5h1m-1 1h1m-1 4h1m-1 2h1m-1 2h1m-1 8h1m-1 1h1m-1 3h1m-1 1h1m-1 7h1m-1 3h1m0-251h1m-1 45h1m-1 48h1m-1 66h1m-1 1h1m-1 45h1m-1 8h1m-1 3h1m-1 1h1m-1 2h1m-1 1h1m-1 1h1m-1 1h1m-1 1h1m-1 1h1m-1 3h1m-1 1h1m-1 4h1m-1 1h1m-1 1h1m-1 1h1m-1 1h1m-1 1h1m-1 1h1m-1 1h1m-1 1h1m-1 1h1m-1 1h1m-1 1h1m-1 5h1m-1 1h1m-1 1h1m0-239h1m-1 1h1m-1 21h1m-1 3h1m-1 10h1m-1 57h1m-1 5h1m-1 6h1m-1 29h1m-1 7h1m-1 7h1m-1 3h1m-1 2h1m-1 52h1m-1 1h1m-1 3h1m-1 1h1m-1 1h1m-1 2h1m-1 1h1m-1 1h1m-1 4h1m-1 1h1m-1 1h1m-1 1h1m-1 1h1m-1 1h1m-1 1h1m-1 5h1m-1 1h1m-1 3h1m-1 7h1m0-214h1m-1 34h1m-1 55h1m-1 87h1m-1 1h1m-1 1h1m-1 1h1m-1 3h1m-1 2h1m-1 1h1m-1 7h1m-1 6h1m-1 10h1m-1 4h1m-1 2h1m-1 1h1m0-223h1m-1 54h1m-1 110h1m-1 23h1m-1 5h1m-1 2h1m-1 1h1m-1 1h1m-1 1h1m-1 4h1m-1 1h1m-1 4h1m-1 2h1m-1 2h1m-1 2h1m-1 10h1m0-231h1m-1 7h1m-1 121h1m-1 1h1m-1 65h1m-1 2h1m-1 3h1m-1 1h1m-1 2h1m-1 2h1m-1 1h1m-1 5h1m-1 1h1m-1 3h1m-1 4h1m-1 4h1m-1 1h1m-1 7h1m-1 1h1m0-202h1m-1 15h1m-1 43h1m-1 1h1m-1 38h1m-1 33h1m-1 36h1m-1 2h1m-1 6h1m-1 3h1m-1 2h1m-1 4h1m-1 1h1m-1 7h1m-1 3h1m-1 3h1m-1 1h1m-1 2h1m-1 2h1m-1 1h1m0-199h1m-1 1h1m-1 128h1m-1 18h1m-1 18h1m-1 6h1m-1 1h1m-1 1h1m-1 3h1m-1 3h1m-1 5h1m-1 3h1m-1 1h1m-1 1h1m-1 2h1m-1 1h1m-1 1h1m-1 5h1m-1 1h1m0-274h1m-1 23h1m-1 1h1m-1 20h1m-1 33h1m-1 4h1m-1 53h1m-1 20h1m-1 64h1m-1 18h1m-1 7h1m-1 1h1m-1 10h1m-1 1h1m-1 3h1m-1 4h1m-1 9h1m-1 3h1m0-238h1m-1 45h1m-1 16h1m-1 32h1m-1 72h1m-1 35h1m-1 1h1m-1 4h1m-1 2h1m-1 2h1m-1 1h1m-1 3h1m-1 1h1m-1 2h1m-1 6h1m-1 8h1m-1 1h1m-1 4h1m0-161h1m-1 19h1m-1 47h1m-1 10h1m-1 1h1m-1 2h1m-1 17h1m-1 36h1m-1 2h1m-1 5h1m-1 3h1m-1 2h1m-1 4h1m-1 5h1m-1 1h1m-1 7h1m-1 1h1m0-256h1m-1 68h1m-1 16h1m-1 16h1m-1 15h1m-1 15h1m-1 3h1m-1 5h1m-1 53h1m-1 15h1m-1 10h1m-1 5h1m-1 5h1m-1 1h1m-1 6h1m-1 1h1m-1 1h1m-1 5h1m-1 4h1m-1 6h1m-1 2h1m-1 3h1m0-269h1m-1 20h1m-1 17h1m-1 52h1m-1 19h1m-1 15h1m-1 35h1m-1 15h1m-1 32h1m-1 1h1m-1 29h1m-1 1h1m-1 4h1m-1 1h1m-1 1h1m-1 1h1m-1 3h1m-1 7h1m-1 5h1m-1 2h1m-1 4h1m-1 2h1m-1 1h1m0-185h1m-1 160h1m-1 4h1m-1 1h1m-1 3h1m-1 1h1m-1 1h1m-1 2h1m-1 9h1m-1 1h1m-1 2h1m-1 2h1m-1 4h1m0-277h1m-1 75h1m-1 17h1m-1 148h1m-1 7h1m-1 3h1m-1 4h1m-1 2h1m-1 3h1m-1 5h1m-1 1h1m-1 7h1m-1 2h1m-1 1h1m-1 1h1m0-241h1m-1 20h1m-1 8h1m-1 45h1m-1 17h1m-1 6h1m-1 100h1m-1 21h1m-1 1h1m-1 1h1m-1 1h1m-1 11h1m-1 1h1m-1 1h1m-1 3h1m-1 5h1m-1 1h1m0-274h1m-1 38h1m-1 39h1m-1 69h1m-1 1h1m-1 13h1m-1 86h1m-1 1h1m-1 2h1m-1 2h1m-1 6h1m-1 1h1m-1 2h1m-1 14h1m0-253h1m-1 56h1m-1 95h1m-1 45h1m-1 19h1m-1 6h1m-1 1h1m-1 1h1m-1 1h1m-1 6h1m-1 2h1m-1 7h1m-1 1h1m-1 1h1m-1 1h1m-1 1h1m-1 2h1m-1 2h1m-1 1h1m-1 1h1m-1 4h1m0-246h1m-1 96h1m-1 34h1m-1 78h1m-1 5h1m-1 1h1m-1 1h1m-1 2h1m-1 7h1m-1 1h1m-1 1h1m-1 1h1m-1 2h1m-1 10h1m-1 4h1m0-224h1m-1 22h1m-1 22h1m-1 5h1m-1 1h1m-1 3h1m-1 91h1m-1 45h1m-1 7h1m-1 1h1m-1 6h1m-1 10h1m-1 4h1m-1 3h1m-1 3h1m-1 1h1m-1 3h1m0-278h1m-1 68h1m-1 16h1m-1 5h1m-1 1h1m-1 9h1m-1 15h1m-1 2h1m-1 5h1m-1 17h1m-1 5h1m-1 1h1m-1 37h1m-1 5h1m-1 13h1m0-194h1m-1 1h1m-1 13h1m-1 2h1m-1 27h1m-1 25h1m-1 44h1m-1 1h1m-1 39h1m-1 45h1m-1 1h1m-1 1h1m0-204h1m-1 1h1m-1 24h1m-1 7h1m-1 4h1m-1 42h1m-1 11h1m-1 88h1m-1 6h1m-1 12h1m-1 9h1m0-163h1m-1 89h1m-1 15h1m-1 50h1m-1 32h1m0-190h1m-1 3h1m-1 1h1m-1 32h1m-1 42h1m-1 27h1m-1 36h1m-1 3h1m-1 12h1m-1 1h1m-1 1h1m0-156h1m-1 22h1m-1 18h1m-1 42h1m-1 59h1m-1 2h1m-1 24h1m-1 3h1m0-184h1m-1 17h1m-1 31h1m-1 21h1m-1 3h1m-1 61h1m-1 13h1m-1 16h1m0-6h1m-1 32h1m-1 11h1m-1 1h1m-1 1h1m0-189h1m-1 37h1m-1 32h1m-1 6h1m-1 60h1m-1 1h1m-1 47h1m-1 5h1m1-205h1m-1 1h1m-1 89h1m-1 16h1m0-98h1m-1 12h1m-1 33h1m-1 1h1m-1 89h1m-1 15h1m-1 45h1m-1 9h1m-1 2h1m0-234h1m-1 111h1m-1 1h1m-1 1h1m-1 9h1m-1 12h1m-1 29h1m-1 23h1m-1 19h1m-1 1h1m-1 9h1m-1 20h1m0-217h1m-1 27h1m-1 1h1m-1 10h1m-1 1h1m-1 11h1m-1 20h1m-1 6h1m0-93h1m-1 50h1m-1 12h1m-1 1h1m-1 5h1m-1 22h1m-1 4h1m-1 36h1m-1 9h1m-1 1h1m-1 22h1m-1 22h1m-1 36h1m-1 7h1m0-183h1m-1 60h1m-1 1h1m-1 15h1m-1 36h1m-1 25h1m-1 14h1m-1 7h1m1-142h1m-1 67h1m-1 15h1m-1 78h1m0-204h1m-1 5h1m-1 12h1m-1 1h1m-1 103h1m-1 2h1m-1 65h1m0-170h1m-1 9h1m-1 58h1m-1 10h1m-1 22h1" stroke="#5869bc"/>
<path d="M0 5.5h1m-1 56h1m-1 2h1m-1 13h1m-1 35h1m-1 1h1m-1 8h1m-1 26h1m-1 6h1m-1 4h1m-1 12h1m-1 9h1m-1 1h1m-1 1h1m-1 59h1m-1 7h1m-1 4h1m-1 1h1m-1 7h1m-1 12h1m-1 1h1m0-259h1m-1 33h1m-1 5h1m-1 21h1m-1 1h1m-1 9h1m-1 25h1m-1 3h1m-1 77h1m-1 8h1m-1 1h1m-1 15h1m-1 12h1m-1 7h1m-1 24h1m0-212h1m-1 1h1m-1 34h1m-1 16h1m-1 34h1m-1 8h1m-1 46h1m-1 18h1m-1 5h1m-1 12h1m-1 30h1m-1 24h1m-1 8h1m0-258h1m-1 4h1m-1 14h1m-1 12h1m-1 12h1m-1 14h1m-1 21h1m-1 26h1m-1 20h1m-1 10h1m-1 20h1m-1 1h1m-1 1h1m-1 3h1m-1 9h1m-1 1h1m-1 45h1m-1 15h1m-1 5h1m-1 3h1m-1 2h1m-1 6h1m-1 4h1m-1 1h1m0-218h1m-1 12h1m-1 7h1m-1 14h1m-1 9h1m-1 7h1m-1 1h1m-1 25h1m-1 47h1m-1 1h1m-1 3h1m-1 42h1m-1 24h1m-1 2h1m-1 3h1m-1 8h1m-1 4h1m-1 1h1m-1 3h1m-1 8h1m-1 1h1m0-250h1m-1 10h1m-1 52h1m-1 1h1m-1 28h1m-1 23h1m-1 1h1m-1 37h1m-1 8h1m-1 11h1m-1 1h1m-1 28h1m-1 8h1m-1 14h1m-1 1h1m-1 14h1m-1 1h1m-1 2h1m-1 10h1m-1 2h1m-1 1h1m0-263h1m-1 14h1m-1 9h1m-1 61h1m-1 26h1m-1 8h1m-1 1h1m-1 10h1m-1 3h1m-1 9h1m-1 1h1m-1 7h1m-1 36h1m-1 18h1m-1 28h1m-1 2h1m-1 3h1m-1 3h1m-1 5h1m-1 1h1m-1 1h1m-1 5h1m-1 5h1m-1 3h1m-1 4h1m-1 2h1m0-271h1m-1 51h1m-1 4h1m-1 5h1m-1 1h1m-1 29h1m-1 38h1m-1 12h1m-1 52h1m-1 39h1m-1 9h1m-1 2h1m-1 9h1m-1 3h1m-1 1h1m-1 4h1m0-258h1m-1 18h1m-1 19h1m-1 8h1m-1 4h1m-1 17h1m-1 1h1m-1 6h1m-1 35h1m-1 8h1m-1 5h1m-1 40h1m-1 37h1m-1 19h1m-1 15h1m-1 1h1m-1 2h1m-1 4h1m-1 4h1m-1 1h1m-1 2h1m-1 1h1m-1 4h1m-1 6h1m-1 4h1m-1 2h1m-1 1h1m-1 1h1m-1 2h1m-1 4h1m0-276h1m-1 8h1m-1 3h1m-1 13h1m-1 9h1m-1 12h1m-1 19h1m-1 1h1m-1 33h1m-1 42h1m-1 62h1m-1 12h1m-1 1h1m-1 6h1m-1 9h1m-1 12h1m-1 1h1m-1 2h1m-1 5h1m-1 1h1m-1 12h1m-1 13h1m-1 1h1m0-272h1m-1 15h1m-1 10h1m-1 14h1m-1 16h1m-1 51h1m-1 12h1m-1 8h1m-1 39h1m-1 10h1m-1 2h1m-1 30h1m-1 21h1m-1 1h1m-1 8h1m-1 1h1m-1 3h1m-1 2h1m-1 1h1m-1 9h1m-1 2h1m-1 5h1m-1 8h1m-1 3h1m-1 1h1m0-275h1m-1 72h1m-1 1h1m-1 6h1m-1 13h1m-1 70h1m-1 4h1m-1 3h1m-1 15h1m-1 5h1m-1 15h1m-1 3h1m-1 5h1m-1 22h1m-1 7h1m-1 8h1m-1 5h1m-1 1h1m-1 4h1m-1 1h1m-1 8h1m-1 2h1m0-229h1m-1 27h1m-1 5h1m-1 3h1m-1 32h1m-1 52h1m-1 8h1m-1 44h1m-1 28h1m-1 7h1m-1 3h1m-1 3h1m-1 2h1m-1 2h1m-1 1h1m-1 6h1m-1 1h1m-1 6h1m-1 2h1m0-267h1m-1 7h1m-1 34h1m-1 3h1m-1 6h1m-1 7h1m-1 5h1m-1 67h1m-1 4h1m-1 24h1m-1 1h1m-1 32h1m-1 1h1m-1 15h1m-1 12h1m-1 6h1m-1 7h1m-1 1h1m-1 1h1m-1 4h1m-1 1h1m-1 3h1m-1 9h1m-1 7h1m-1 2h1m-1 7h1m0-267h1m-1 9h1m-1 1h1m-1 20h1m-1 16h1m-1 19h1m-1 11h1m-1 4h1m-1 36h1m-1 2h1m-1 25h1m-1 8h1m-1 13h1m-1 1h1m-1 46h1m-1 1h1m-1 1h1m-1 22h1m-1 4h1m-1 5h1m-1 2h1m-1 2h1m-1 3h1m-1 5h1m-1 3h1m-1 2h1m-1 1h1m-1 2h1m-1 6h1m0-277h1m-1 17h1m-1 1h1m-1 9h1m-1 5h1m-1 16h1m-1 35h1m-1 8h1m-1 4h1m-1 53h1m-1 34h1m-1 17h1m-1 5h1m-1 1h1m-1 1h1m-1 7h1m-1 20h1m-1 4h1m-1 2h1m-1 1h1m-1 1h1m-1 5h1m-1 18h1m-1 5h1m-1 1h1m-1 5h1m0-275h1m-1 1h1m-1 12h1m-1 20h1m-1 29h1m-1 5h1m-1 8h1m-1 35h1m-1 3h1m-1 21h1m-1 12h1m-1 10h1m-1 1h1m-1 1h1m-1 23h1m-1 3h1m-1 1h1m-1 33h1m-1 6h1m-1 29h1m-1 5h1m-1 4h1m-1 2h1m-1 1h1m-1 1h1m-1 3h1m-1 1h1m-1 2h1m-1 1h1m-1 3h1m0-277h1m-1 11h1m-1 43h1m-1 10h1m-1 1h1m-1 14h1m-1 10h1m-1 63h1m-1 1h1m-1 1h1m-1 6h1m-1 4h1m-1 21h1m-1 3h1m-1 1h1m-1 30h1m-1 1h1m-1 21h1m-1 2h1m-1 13h1m-1 7h1m-1 6h1m-1 6h1m-1 1h1m0-231h1m-1 1h1m-1 5h1m-1 41h1m-1 37h1m-1 1h1m-1 3h1m-1 3h1m-1 3h1m-1 9h1m-1 7h1m-1 6h1m-1 2h1m-1 3h1m-1 1h1m-1 46h1m-1 1h1m-1 18h1m-1 1h1m-1 9h1m-1 1h1m-1 9h1m-1 1h1m-1 2h1m-1 12h1m-1 1h1m-1 8h1m-1 1h1m-1 1h1m0-276h1m-1 8h1m-1 57h1m-1 49h1m-1 58h1m-1 7h1m-1 16h1m-1 1h1m-1 1h1m-1 7h1m-1 20h1m-1 23h1m-1 1h1m-1 9h1m-1 2h1m-1 5h1m-1 3h1m-1 1h1m-1 7h1m0-274h1m-1 6h1m-1 1h1m-1 10h1m-1 1h1m-1 6h1m-1 1h1m-1 12h1m-1 6h1m-1 5h1m-1 13h1m-1 3h1m-1 7h1m-1 1h1m-1 10h1m-1 11h1m-1 2h1m-1 7h1m-1 25h1m-1 1h1m-1 2h1m-1 3h1m-1 14h1m-1 15h1m-1 6h1m-1 1h1m-1 11h1m-1 9h1m-1 2h1m-1 1h1m-1 1h1m-1 4h1m-1 6h1m-1 8h1m-1 6h1m-1 5h1m-1 2h1m-1 7h1m0-230h1m-1 24h1m-1 1h1m-1 1h1m-1 8h1m-1 36h1m-1 59h1m-1 2h1m-1 1h1m-1 16h1m-1 38h1m-1 1h1m-1 30h1m-1 1h1m0-220h1m-1 6h1m-1 1h1m-1 3h1m-1 1h1m-1 2h1m-1 4h1m-1 7h1m-1 3h1m-1 2h1m-1 3h1m-1 1h1m-1 7h1m-1 1h1m-1 1h1m-1 1h1m-1 9h1m-1 2h1m-1 2h1m-1 2h1m-1 8h1m-1 8h1m-1 3h1m-1 2h1m-1 1h1m-1 3h1m-1 8h1m-1 2h1m-1 2h1m-1 2h1m-1 5h1m-1 10h1m-1 7h1m-1 1h1m-1 1h1m-1 6h1m-1 3h1m-1 8h1m-1 2h1m-1 13h1m-1 3h1m-1 1h1m-1 3h1m-1 14h1m-1 4h1m-1 5h1m-1 3h1m-1 8h1m-1 1h1m-1 19h1m-1 1h1m-1 7h1m-1 1h1m-1 2h1m-1 2h1m-1 2h1m-1 1h1m-1 4h1m0-223h1m-1 18h1m-1 9h1m-1 4h1m-1 4h1m-1 55h1m-1 9h1m-1 73h1m-1 23h1m-1 5h1m0-190h1m-1 9h1m-1 16h1m-1 3h1m-1 2h1m-1 1h1m-1 14h1m-1 16h1m-1 7h1m-1 67h1m-1 1h1m-1 31h1m-1 1h1m-1 1h1m-1 16h1m-1 9h1m0-216h1m-1 13h1m-1 3h1m-1 1h1m-1 18h1m-1 2h1m-1 17h1m-1 9h1m-1 6h1m-1 5h1m-1 10h1m-1 1h1m-1 8h1m-1 7h1m-1 1h1m-1 5h1m-1 2h1m-1 2h1m-1 6h1m-1 8h1m-1 28h1m-1 21h1m-1 9h1m-1 3h1m-1 1h1m-1 42h1m0-226h1m-1 14h1m-1 15h1m-1 22h1m-1 14h1m-1 10h1m-1 3h1m-1 7h1m-1 1h1m-1 1h1m-1 8h1m-1 7h1m-1 3h1m-1 13h1m-1 10h1m-1 2h1m-1 3h1m-1 33h1m-1 17h1m-1 14h1m-1 21h1m-1 6h1m-1 9h1m-1 3h1m0-228h1m-1 5h1m-1 1h1m-1 5h1m-1 15h1m-1 37h1m-1 9h1m-1 34h1m-1 49h1m-1 56h1m0-204h1m-1 1h1m-1 10h1m-1 1h1m-1 18h1m-1 1h1m-1 26h1m-1 5h1m-1 1h1m-1 3h1m-1 9h1m-1 34h1m-1 20h1m-1 23h1m-1 23h1m-1 15h1m1-200h1m-1 5h1m-1 6h1m-1 19h1m-1 8h1m-1 12h1m-1 30h1m-1 35h1m-1 21h1m-1 3h1m-1 24h1m-1 2h1m-1 1h1m-1 7h1m-1 40h1m-1 8h1m-1 9h1m0-228h1m-1 5h1m-1 17h1m-1 3h1m-1 19h1m-1 28h1m-1 8h1m-1 14h1m-1 17h1m-1 18h1m-1 3h1m-1 33h1m-1 1h1m-1 9h1m-1 3h1m-1 5h1m-1 28h1m0-217h1m-1 2h1m-1 26h1m-1 1h1m-1 2h1m-1 9h1m-1 4h1m-1 23h1m-1 9h1m-1 8h1m-1 1h1m-1 10h1m-1 1h1m-1 20h1m-1 19h1m-1 4h1m-1 1h1m-1 5h1m-1 15h1m-1 1h1m-1 14h1m-1 8h1m-1 13h1m-1 3h1m-1 26h1m-1 10h1m0-216h1m-1 43h1m-1 7h1m-1 2h1m-1 20h1m-1 5h1m-1 11h1m-1 37h1m-1 23h1m-1 1h1m-1 4h1m-1 1h1m-1 10h1m-1 5h1m-1 4h1m-1 1h1m-1 7h1m-1 8h1m-1 2h1m-1 9h1m-1 2h1m-1 6h1m0-227h1m-1 12h1m-1 3h1m-1 2h1m-1 11h1m-1 3h1m-1 1h1m-1 3h1m-1 15h1m-1 23h1m-1 9h1m-1 2h1m-1 1h1m-1 8h1m-1 5h1m-1 7h1m-1 2h1m-1 13h1m-1 9h1m-1 29h1m-1 5h1m-1 6h1m-1 41h1m-1 24h1m-1 1h1m0-229h1m-1 18h1m-1 11h1m-1 14h1m-1 1h1m-1 17h1m-1 1h1m-1 11h1m-1 1h1m-1 1h1m-1 3h1m-1 29h1m-1 1h1m-1 29h1m-1 82h1m-1 1h1m-1 3h1m1-232h1m-1 7h1m-1 20h1m-1 4h1m-1 8h1m-1 42h1m-1 7h1m-1 7h1m-1 15h1m-1 29h1m-1 1h1m-1 20h1m-1 5h1m-1 20h1m-1 2h1m-1 8h1m-1 1h1m-1 3h1m-1 4h1m-1 6h1m-1 6h1m-1 3h1m-1 12h1m-1 5h1m-1 1h1m-1 2h1m0-224h1m-1 1h1m-1 4h1m-1 23h1m-1 4h1m-1 21h1m-1 5h1m-1 2h1m-1 13h1m-1 9h1m-1 14h1m-1 16h1m-1 22h1m-1 21h1m-1 17h1m-1 1h1m-1 26h1m-1 15h1m-1 9h1m0-204h1m-1 12h1m-1 37h1m-1 6h1m-1 17h1m-1 1h1m-1 22h1m-1 7h1m-1 4h1m-1 1h1m-1 9h1m-1 17h1m-1 7h1m-1 13h1m-1 8h1m-1 18h1m-1 1h1m-1 13h1m-1 4h1" stroke="#7684c8"/>
<path d="M0 2.5h1m-1 34h1m-1 2h1m-1 7h1m-1 15h1m-1 11h1m-1 6h1m-1 2h1m-1 12h1m-1 1h1m-1 25h1m-1 2h1m-1 2h1m-1 4h1m-1 6h1m-1 32h1m-1 1h1m-1 16h1m-1 24h1m-1 1h1m-1 11h1m-1 1h1m-1 1h1m-1 6h1m-1 2h1m0-214h1m-1 1h1m-1 33h1m-1 5h1m-1 49h1m-1 41h1m-1 14h1m-1 12h1m-1 31h1m-1 3h1m-1 23h1m-1 1h1m-1 1h1m-1 46h1m0-265h1m-1 13h1m-1 11h1m-1 45h1m-1 1h1m-1 26h1m-1 2h1m-1 1h1m-1 6h1m-1 1h1m-1 1h1m-1 18h1m-1 17h1m-1 3h1m-1 1h1m-1 25h1m-1 2h1m-1 24h1m-1 5h1m-1 1h1m-1 3h1m-1 2h1m-1 14h1m-1 33h1m0-249h1m-1 3h1m-1 1h1m-1 2h1m-1 1h1m-1 1h1m-1 10h1m-1 23h1m-1 7h1m-1 9h1m-1 1h1m-1 19h1m-1 6h1m-1 3h1m-1 36h1m-1 11h1m-1 7h1m-1 7h1m-1 3h1m-1 15h1m-1 9h1m-1 9h1m-1 48h1m-1 16h1m-1 4h1m0-261h1m-1 3h1m-1 14h1m-1 33h1m-1 1h1m-1 8h1m-1 1h1m-1 3h1m-1 6h1m-1 1h1m-1 34h1m-1 1h1m-1 34h1m-1 39h1m-1 2h1m-1 1h1m-1 16h1m-1 8h1m-1 12h1m-1 16h1m-1 17h1m-1 7h1m-1 12h1m-1 1h1m-1 1h1m0-273h1m-1 2h1m-1 41h1m-1 3h1m-1 40h1m-1 5h1m-1 1h1m-1 1h1m-1 7h1m-1 1h1m-1 3h1m-1 10h1m-1 6h1m-1 2h1m-1 9h1m-1 6h1m-1 24h1m-1 1h1m-1 9h1m-1 22h1m-1 55h1m-1 5h1m-1 21h1m-1 3h1m0-235h1m-1 23h1m-1 1h1m-1 9h1m-1 26h1m-1 2h1m-1 2h1m-1 36h1m-1 24h1m-1 3h1m-1 5h1m-1 19h1m-1 1h1m-1 4h1m-1 1h1m-1 1h1m-1 1h1m-1 7h1m-1 24h1m-1 21h1m0-253h1m-1 1h1m-1 11h1m-1 25h1m-1 1h1m-1 1h1m-1 9h1m-1 22h1m-1 3h1m-1 35h1m-1 2h1m-1 40h1m-1 45h1m-1 14h1m-1 7h1m-1 15h1m-1 3h1m0-234h1m-1 10h1m-1 7h1m-1 9h1m-1 4h1m-1 1h1m-1 25h1m-1 1h1m-1 34h1m-1 3h1m-1 5h1m-1 1h1m-1 2h1m-1 13h1m-1 3h1m-1 45h1m-1 26h1m-1 1h1m-1 16h1m-1 6h1m-1 1h1m-1 2h1m-1 14h1m-1 1h1m-1 7h1m-1 23h1m-1 4h1m-1 1h1m-1 7h1m0-270h1m-1 25h1m-1 10h1m-1 11h1m-1 3h1m-1 9h1m-1 40h1m-1 7h1m-1 44h1m-1 23h1m-1 8h1m-1 19h1m-1 5h1m-1 3h1m-1 5h1m-1 3h1m-1 1h1m-1 1h1m-1 20h1m-1 16h1m-1 2h1m-1 1h1m-1 9h1m0-267h1m-1 1h1m-1 19h1m-1 20h1m-1 25h1m-1 43h1m-1 57h1m-1 34h1m-1 33h1m-1 8h1m-1 5h1m-1 9h1m-1 1h1m-1 2h1m-1 6h1m-1 1h1m-1 1h1m-1 5h1m-1 1h1m-1 1h1m0-251h1m-1 8h1m-1 17h1m-1 9h1m-1 6h1m-1 5h1m-1 1h1m-1 19h1m-1 73h1m-1 27h1m-1 47h1m-1 9h1m-1 3h1m-1 6h1m-1 16h1m0-236h1m-1 34h1m-1 9h1m-1 1h1m-1 27h1m-1 2h1m-1 20h1m-1 17h1m-1 8h1m-1 3h1m-1 2h1m-1 8h1m-1 24h1m-1 11h1m-1 1h1m-1 35h1m-1 24h1m-1 8h1m-1 4h1m0-266h1m-1 5h1m-1 24h1m-1 8h1m-1 14h1m-1 4h1m-1 17h1m-1 1h1m-1 4h1m-1 17h1m-1 2h1m-1 3h1m-1 7h1m-1 21h1m-1 34h1m-1 1h1m-1 8h1m-1 11h1m-1 2h1m-1 2h1m-1 9h1m-1 24h1m-1 8h1m-1 20h1m-1 6h1m-1 7h1m-1 3h1m-1 2h1m-1 6h1m0-258h1m-1 4h1m-1 18h1m-1 13h1m-1 13h1m-1 14h1m-1 2h1m-1 2h1m-1 15h1m-1 3h1m-1 7h1m-1 1h1m-1 1h1m-1 22h1m-1 11h1m-1 16h1m-1 1h1m-1 24h1m-1 4h1m-1 5h1m-1 17h1m-1 9h1m-1 25h1m-1 7h1m-1 12h1m-1 1h1m-1 12h1m0-265h1m-1 11h1m-1 22h1m-1 10h1m-1 5h1m-1 14h1m-1 10h1m-1 22h1m-1 11h1m-1 8h1m-1 1h1m-1 13h1m-1 1h1m-1 6h1m-1 16h1m-1 9h1m-1 2h1m-1 8h1m-1 14h1m-1 25h1m-1 27h1m-1 2h1m-1 5h1m-1 11h1m-1 13h1m0-272h1m-1 69h1m-1 18h1m-1 1h1m-1 3h1m-1 21h1m-1 6h1m-1 1h1m-1 18h1m-1 33h1m-1 7h1m-1 1h1m-1 6h1m-1 2h1m-1 3h1m-1 1h1m-1 30h1m-1 4h1m-1 6h1m-1 7h1m-1 2h1m-1 1h1m-1 2h1m-1 4h1m-1 3h1m-1 20h1m0-268h1m-1 25h1m-1 1h1m-1 25h1m-1 1h1m-1 18h1m-1 2h1m-1 1h1m-1 1h1m-1 7h1m-1 18h1m-1 1h1m-1 4h1m-1 16h1m-1 1h1m-1 1h1m-1 1h1m-1 8h1m-1 59h1m-1 6h1m-1 2h1m-1 6h1m-1 1h1m-1 2h1m-1 21h1m-1 10h1m-1 3h1m-1 9h1m-1 5h1m-1 1h1m0-232h1m-1 13h1m-1 25h1m-1 28h1m-1 1h1m-1 26h1m-1 1h1m-1 20h1m-1 2h1m-1 14h1m-1 1h1m-1 33h1m-1 1h1m-1 1h1m-1 2h1m-1 10h1m-1 11h1m-1 7h1m-1 24h1m-1 25h1m0-252h1m-1 5h1m-1 21h1m-1 2h1m-1 19h1m-1 3h1m-1 39h1m-1 1h1m-1 73h1m-1 1h1m-1 4h1m-1 28h1m-1 1h1m-1 2h1m-1 21h1m-1 1h1m-1 2h1m-1 1h1m-1 6h1m-1 1h1m-1 6h1m-1 4h1m-1 1h1m-1 4h1m0-266h1m-1 4h1m-1 6h1m-1 2h1m-1 3h1m-1 10h1m-1 3h1m-1 2h1m-1 3h1m-1 1h1m-1 1h1m-1 1h1m-1 1h1m-1 3h1m-1 3h1m-1 1h1m-1 4h1m-1 1h1m-1 2h1m-1 4h1m-1 1h1m-1 8h1m-1 11h1m-1 1h1m-1 4h1m-1 10h1m-1 1h1m-1 1h1m-1 2h1m-1 5h1m-1 11h1m-1 4h1m-1 7h1m-1 1h1m-1 1h1m-1 8h1m-1 2h1m-1 1h1m-1 6h1m-1 13h1m-1 3h1m-1 5h1m-1 1h1m-1 1h1m-1 3h1m-1 6h1m-1 1h1m-1 1h1m-1 1h1m-1 1h1m-1 5h1m-1 3h1m-1 3h1m-1 1h1m-1 1h1m-1 3h1m-1 12h1m-1 3h1m-1 1h1m-1 1h1m-1 1h1m-1 6h1m-1 5h1m-1 7h1m-1 3h1m-1 1h1m-1 5h1m0-238h1m-1 1h1m-1 7h1m-1 5h1m-1 7h1m-1 4h1m-1 7h1m-1 13h1m-1 14h1m-1 3h1m-1 2h1m-1 1h1m-1 3h1m-1 2h1m-1 6h1m-1 6h1m-1 1h1m-1 1h1m-1 1h1m-1 8h1m-1 10h1m-1 6h1m-1 3h1m-1 1h1m-1 1h1m-1 1h1m-1 1h1m-1 5h1m-1 1h1m-1 5h1m-1 2h1m-1 9h1m-1 6h1m-1 6h1m-1 4h1m-1 2h1m-1 3h1m-1 8h1m-1 1h1m-1 16h1m-1 1h1m-1 2h1m-1 7h1m-1 6h1m-1 13h1m-1 1h1m-1 1h1m-1 1h1m-1 1h1m-1 7h1m-1 10h1m-1 3h1m-1 2h1m0-235h1m-1 2h1m-1 1h1m-1 5h1m-1 3h1m-1 2h1m-1 2h1m-1 2h1m-1 8h1m-1 5h1m-1 5h1m-1 1h1m-1 1h1m-1 1h1m-1 6h1m-1 6h1m-1 8h1m-1 1h1m-1 3h1m-1 1h1m-1 3h1m-1 1h1m-1 1h1m-1 1h1m-1 2h1m-1 1h1m-1 2h1m-1 3h1m-1 3h1m-1 1h1m-1 2h1m-1 1h1m-1 3h1m-1 4h1m-1 6h1m-1 1h1m-1 1h1m-1 4h1m-1 1h1m-1 3h1m-1 2h1m-1 1h1m-1 11h1m-1 2h1m-1 4h1m-1 1h1m-1 8h1m-1 2h1m-1 2h1m-1 1h1m-1 4h1m-1 1h1m-1 3h1m-1 1h1m-1 1h1m-1 7h1m-1 3h1m-1 1h1m-1 3h1m-1 1h1m-1 4h1m-1 2h1m-1 3h1m-1 1h1m-1 5h1m-1 2h1m-1 3h1m-1 10h1m-1 4h1m-1 3h1m-1 9h1m-1 4h1m-1 1h1m-1 2h1m-1 4h1m-1 4h1m-1 8h1m0-238h1m-1 3h1m-1 3h1m-1 2h1m-1 2h1m-1 5h1m-1 14h1m-1 10h1m-1 7h1m-1 8h1m-1 12h1m-1 6h1m-1 1h1m-1 9h1m-1 1h1m-1 1h1m-1 14h1m-1 1h1m-1 1h1m-1 15h1m-1 1h1m-1 4h1m-1 1h1m-1 10h1m-1 6h1m-1 3h1m-1 1h1m-1 5h1m-1 18h1m-1 1h1m-1 1h1m-1 6h1m-1 28h1m-1 3h1m-1 14h1m-1 8h1m-1 3h1m-1 1h1m-1 5h1m-1 1h1m-1 1h1m0-208h1m-1 3h1m-1 4h1m-1 12h1m-1 18h1m-1 9h1m-1 8h1m-1 23h1m-1 17h1m-1 4h1m-1 5h1m-1 6h1m-1 7h1m-1 28h1m-1 5h1m-1 19h1m-1 14h1m-1 1h1m-1 5h1m-1 15h1m0-228h1m-1 4h1m-1 1h1m-1 11h1m-1 1h1m-1 3h1m-1 1h1m-1 1h1m-1 10h1m-1 5h1m-1 5h1m-1 6h1m-1 3h1m-1 2h1m-1 6h1m-1 6h1m-1 4h1m-1 16h1m-1 1h1m-1 9h1m-1 2h1m-1 6h1m-1 2h1m-1 10h1m-1 2h1m-1 7h1m-1 2h1m-1 1h1m-1 6h1m-1 5h1m-1 8h1m-1 5h1m-1 9h1m-1 18h1m-1 4h1m-1 5h1m-1 7h1m-1 4h1m-1 7h1m-1 7h1m-1 2h1m-1 6h1m-1 1h1m-1 2h1m-1 2h1m-1 2h1m-1 8h1m0-238h1m-1 1h1m-1 1h1m-1 6h1m-1 8h1m-1 4h1m-1 6h1m-1 5h1m-1 3h1m-1 1h1m-1 1h1m-1 1h1m-1 1h1m-1 6h1m-1 8h1m-1 3h1m-1 9h1m-1 3h1m-1 3h1m-1 15h1m-1 7h1m-1 3h1m-1 1h1m-1 3h1m-1 18h1m-1 2h1m-1 11h1m-1 4h1m-1 6h1m-1 16h1m-1 4h1m-1 2h1m-1 1h1m-1 1h1m-1 1h1m-1 2h1m-1 1h1m-1 2h1m-1 3h1m-1 2h1m-1 5h1m-1 4h1m-1 1h1m-1 3h1m-1 5h1m-1 2h1m-1 1h1m-1 2h1m-1 3h1m-1 2h1m-1 2h1m-1 5h1m-1 4h1m-1 1h1m-1 1h1m-1 2h1m-1 6h1m-1 4h1m-1 2h1m-1 2h1m-1 5h1m-1 1h1m0-232h1m-1 4h1m-1 2h1m-1 1h1m-1 12h1m-1 9h1m-1 4h1m-1 17h1m-1 1h1m-1 4h1m-1 6h1m-1 1h1m-1 2h1m-1 1h1m-1 2h1m-1 3h1m-1 20h1m-1 1h1m-1 5h1m-1 30h1m-1 9h1m-1 2h1m-1 5h1m-1 1h1m-1 1h1m-1 1h1m-1 2h1m-1 6h1m-1 1h1m-1 4h1m-1 7h1m-1 1h1m-1 3h1m-1 21h1m-1 1h1m-1 5h1m-1 1h1m-1 19h1m-1 7h1m-1 4h1m-1 6h1m0-238h1m-1 1h1m-1 9h1m-1 4h1m-1 22h1m-1 10h1m-1 8h1m-1 2h1m-1 12h1m-1 45h1m-1 1h1m-1 6h1m-1 12h1m-1 1h1m-1 31h1m-1 1h1m-1 14h1m-1 19h1m-1 31h1m-1 2h1m-1 4h1m1-234h1m-1 17h1m-1 4h1m-1 18h1m-1 24h1m-1 3h1m-1 2h1m-1 24h1m-1 21h1m-1 10h1m-1 1h1m-1 39h1m-1 8h1m-1 4h1m-1 1h1m-1 3h1m-1 17h1m-1 19h1m-1 8h1m-1 1h1m-1 10h1m-1 2h1m0-236h1m-1 1h1m-1 29h1m-1 3h1m-1 8h1m-1 1h1m-1 4h1m-1 3h1m-1 5h1m-1 6h1m-1 3h1m-1 1h1m-1 1h1m-1 1h1m-1 1h1m-1 1h1m-1 3h1m-1 3h1m-1 1h1m-1 4h1m-1 3h1m-1 1h1m-1 3h1m-1 2h1m-1 6h1m-1 2h1m-1 2h1m-1 4h1m-1 5h1m-1 1h1m-1 1h1m-1 6h1m-1 1h1m-1 1h1m-1 7h1m-1 1h1m-1 3h1m-1 1h1m-1 2h1m-1 1h1m-1 1h1m-1 6h1m-1 3h1m-1 4h1m-1 1h1m-1 2h1m-1 2h1m-1 1h1m-1 20h1m-1 4h1m-1 4h1m-1 1h1m-1 1h1m-1 1h1m-1 11h1m-1 3h1m-1 1h1m-1 1h1m-1 3h1m-1 3h1m-1 1h1m-1 3h1m-1 5h1m-1 1h1m-1 11h1m-1 11h1m0-236h1m-1 6h1m-1 5h1m-1 3h1m-1 1h1m-1 6h1m-1 4h1m-1 16h1m-1 2h1m-1 5h1m-1 1h1m-1 1h1m-1 5h1m-1 5h1m-1 35h1m-1 1h1m-1 7h1m-1 1h1m-1 1h1m-1 1h1m-1 11h1m-1 2h1m-1 10h1m-1 6h1m-1 4h1m-1 16h1m-1 2h1m-1 8h1m-1 4h1m-1 4h1m-1 5h1m-1 1h1m-1 1h1m-1 2h1m-1 1h1m-1 5h1m-1 1h1m-1 2h1m-1 1h1m-1 4h1m-1 3h1m-1 3h1m-1 4h1m-1 5h1m-1 1h1m-1 9h1m-1 15h1m0-237h1m-1 1h1m-1 2h1m-1 6h1m-1 11h1m-1 15h1m-1 3h1m-1 1h1m-1 1h1m-1 1h1m-1 9h1m-1 3h1m-1 11h1m-1 4h1m-1 1h1m-1 1h1m-1 3h1m-1 2h1m-1 6h1m-1 3h1m-1 1h1m-1 11h1m-1 15h1m-1 4h1m-1 4h1m-1 1h1m-1 8h1m-1 6h1m-1 16h1m-1 2h1m-1 1h1m-1 9h1m-1 21h1m-1 14h1m-1 3h1m-1 1h1m-1 11h1m-1 6h1m-1 3h1m-1 2h1m-1 8h1m-1 1h1m-1 6h1m0-229h1m-1 1h1m-1 1h1m-1 8h1m-1 5h1m-1 1h1m-1 1h1m-1 22h1m-1 6h1m-1 1h1m-1 3h1m-1 8h1m-1 1h1m-1 12h1m-1 1h1m-1 4h1m-1 11h1m-1 10h1m-1 4h1m-1 4h1m-1 1h1m-1 3h1m-1 11h1m-1 13h1m-1 13h1m-1 2h1m-1 2h1m-1 1h1m-1 4h1m-1 2h1m-1 8h1m-1 6h1m-1 10h1m-1 8h1m-1 3h1m-1 7h1m-1 8h1m-1 4h1m-1 11h1m0-220h1m-1 18h1m-1 1h1m-1 1h1m-1 10h1m-1 8h1m-1 1h1m-1 8h1m-1 1h1m-1 2h1m-1 7h1m-1 10h1m-1 11h1m-1 2h1m-1 6h1m-1 12h1m-1 2h1m-1 1h1m-1 1h1m-1 11h1m-1 10h1m-1 1h1m-1 6h1m-1 1h1m-1 16h1m-1 2h1m-1 5h1m-1 3h1m-1 3h1m-1 26h1m-1 8h1m-1 1h1m-1 1h1m-1 3h1m-1 11h1m-1 1h1m-1 9h1m-1 7h1m-1 1h1m1-237h1m-1 1h1m-1 4h1m-1 2h1m-1 4h1m-1 1h1m-1 1h1m-1 5h1m-1 1h1m-1 2h1m-1 3h1m-1 9h1m-1 1h1m-1 5h1m-1 3h1m-1 1h1m-1 6h1m-1 2h1m-1 3h1m-1 12h1m-1 1h1m-1 1h1m-1 4h1m-1 1h1m-1 5h1m-1 10h1m-1 18h1m-1 1h1m-1 1h1m-1 2h1m-1 2h1m-1 2h1m-1 1h1m-1 10h1m-1 4h1m-1 16h1m-1 2h1m-1 3h1m-1 5h1m-1 3h1m-1 2h1m-1 1h1m-1 1h1m-1 1h1m-1 2h1m-1 3h1m-1 4h1m-1 1h1m-1 9h1m-1 8h1m-1 9h1m-1 1h1m-1 1h1m-1 6h1m-1 4h1m-1 1h1m-1 9h1m-1 3h1m-1 3h1m-1 5h1m0-227h1m-1 5h1m-1 1h1m-1 6h1m-1 6h1m-1 6h1m-1 2h1m-1 3h1m-1 1h1m-1 1h1m-1 1h1m-1 10h1m-1 3h1m-1 5h1m-1 1h1m-1 3h1m-1 10h1m-1 5h1m-1 3h1m-1 1h1m-1 1h1m-1 6h1m-1 6h1m-1 1h1m-1 5h1m-1 1h1m-1 6h1m-1 1h1m-1 2h1m-1 3h1m-1 2h1m-1 1h1m-1 16h1m-1 3h1m-1 9h1m-1 9h1m-1 2h1m-1 1h1m-1 1h1m-1 2h1m-1 4h1m-1 2h1m-1 1h1m-1 2h1m-1 2h1m-1 2h1m-1 1h1m-1 2h1m-1 5h1m-1 3h1m-1 1h1m-1 12h1m-1 3h1m-1 10h1m-1 3h1m-1 1h1m-1 7h1m-1 3h1m-1 5h1m-1 1h1m-1 8h1m0-231h1m-1 14h1m-1 1h1m-1 4h1m-1 5h1m-1 1h1m-1 6h1m-1 19h1m-1 9h1m-1 1h1m-1 4h1m-1 2h1m-1 16h1m-1 13h1m-1 71h1m-1 1h1m-1 1h1m-1 17h1m-1 11h1m-1 19h1m-1 2h1m-1 6h1m-1 1h1m-1 1h1m-1 6h1m-1 2h1" stroke="#949fd4"/>
<path d="M0 103.5h1m-1 4h1m-1 11h1m-1 20h1m-1 10h1m-1 27h1m-1 1h1m-1 21h1m-1 1h1m-1 21h1m0-209h1m-1 10h1m-1 40h1m-1 1h1m-1 6h1m-1 1h1m-1 1h1m-1 13h1m-1 48h1m-1 2h1m-1 1h1m-1 14h1m-1 2h1m-1 2h1m-1 15h1m-1 9h1m-1 2h1m-1 3h1m-1 39h1m0-200h1m-1 5h1m-1 1h1m-1 29h1m-1 18h1m-1 24h1m-1 3h1m-1 44h1m-1 13h1m-1 1h1m-1 60h1m-1 11h1m0-198h1m-1 3h1m-1 1h1m-1 5h1m-1 4h1m-1 10h1m-1 26h1m-1 31h1m-1 60h1m-1 27h1m-1 20h1m-1 2h1m-1 3h1m-1 31h1m0-241h1m-1 3h1m-1 4h1m-1 26h1m-1 22h1m-1 27h1m-1 16h1m-1 35h1m-1 1h1m-1 13h1m-1 28h1m-1 12h1m-1 3h1m-1 21h1m-1 3h1m-1 2h1m0-226h1m-1 63h1m-1 34h1m-1 11h1m-1 54h1m-1 14h1m-1 12h1m-1 6h1m-1 13h1m0-191h1m-1 10h1m-1 32h1m-1 11h1m-1 15h1m-1 36h1m-1 46h1m-1 2h1m-1 15h1m-1 7h1m-1 10h1m-1 4h1m-1 19h1m-1 2h1m-1 9h1m-1 3h1m0-235h1m-1 38h1m-1 1h1m-1 20h1m-1 1h1m-1 22h1m-1 11h1m-1 5h1m-1 1h1m-1 70h1m-1 1h1m-1 31h1m-1 13h1m-1 1h1m-1 3h1m0-220h1m-1 6h1m-1 53h1m-1 40h1m-1 2h1m-1 61h1m-1 1h1m-1 1h1m-1 7h1m-1 5h1m-1 1h1m-1 6h1m-1 7h1m-1 17h1m0-196h1m-1 9h1m-1 7h1m-1 50h1m-1 24h1m-1 51h1m-1 74h1m-1 8h1m0-234h1m-1 9h1m-1 3h1m-1 11h1m-1 8h1m-1 6h1m-1 2h1m-1 32h1m-1 61h1m-1 1h1m-1 1h1m-1 1h1m-1 38h1m-1 14h1m-1 26h1m-1 3h1m-1 19h1m0-193h1m-1 46h1m-1 9h1m-1 11h1m-1 88h1m-1 24h1m-1 6h1m-1 4h1m0-224h1m-1 8h1m-1 26h1m-1 15h1m-1 44h1m-1 9h1m-1 20h1m0-120h1m-1 18h1m-1 6h1m-1 1h1m-1 35h1m-1 47h1m-1 15h1m-1 22h1m-1 1h1m-1 5h1m-1 20h1m-1 18h1m-1 33h1m-1 3h1m0-232h1m-1 1h1m-1 44h1m-1 20h1m-1 11h1m-1 5h1m-1 11h1m-1 1h1m-1 43h1m-1 11h1m-1 31h1m-1 65h1m0-206h1m-1 4h1m-1 1h1m-1 3h1m-1 31h1m-1 9h1m-1 54h1m-1 10h1m-1 1h1m-1 4h1m-1 8h1m-1 35h1m-1 13h1m-1 14h1m-1 1h1m0-199h1m-1 46h1m-1 19h1m-1 8h1m-1 9h1m-1 27h1m-1 19h1m-1 34h1m-1 1h1m-1 66h1m-1 3h1m0-223h1m-1 1h1m-1 19h1m-1 36h1m-1 5h1m-1 39h1m-1 6h1m-1 1h1m-1 5h1m-1 41h1m-1 1h1m-1 7h1m-1 18h1m-1 1h1m-1 54h1m0-269h1m-1 13h1m-1 5h1m-1 41h1m-1 10h1m-1 4h1m-1 1h1m-1 24h1m-1 16h1m-1 3h1m-1 1h1m-1 102h1m-1 28h1m-1 1h1m0-236h1m-1 7h1m-1 1h1m-1 46h1m-1 34h1m-1 21h1m-1 1h1m-1 1h1m-1 17h1m-1 10h1m-1 9h1m-1 5h1m-1 4h1m-1 41h1m-1 10h1m-1 16h1m-1 38h1m0-274h1m-1 4h1m-1 24h1m-1 2h1m-1 1h1m-1 6h1m-1 3h1m-1 1h1m-1 16h1m-1 1h1m-1 1h1m-1 1h1m-1 16h1m-1 1h1m-1 7h1m-1 8h1m-1 14h1m-1 1h1m-1 3h1m-1 14h1m-1 13h1m-1 14h1m-1 2h1m-1 11h1m-1 12h1m-1 1h1m-1 1h1m-1 18h1m-1 4h1m-1 14h1m-1 2h1m-1 8h1m-1 11h1m0-228h1m-1 6h1m-1 1h1m-1 1h1m-1 1h1m-1 5h1m-1 2h1m-1 1h1m-1 10h1m-1 1h1m-1 3h1m-1 1h1m-1 4h1m-1 1h1m-1 1h1m-1 2h1m-1 2h1m-1 5h1m-1 1h1m-1 5h1m-1 10h1m-1 6h1m-1 13h1m-1 5h1m-1 2h1m-1 1h1m-1 4h1m-1 1h1m-1 1h1m-1 1h1m-1 1h1m-1 9h1m-1 8h1m-1 15h1m-1 1h1m-1 6h1m-1 16h1m-1 1h1m-1 14h1m-1 3h1m-1 1h1m-1 6h1m-1 2h1m-1 5h1m-1 11h1m-1 1h1m-1 1h1m-1 2h1m-1 17h1m-1 2h1m-1 1h1m-1 1h1m-1 4h1m-1 1h1m0-172h1m-1 1h1m-1 32h1m-1 19h1m-1 22h1m-1 1h1m-1 44h1m-1 26h1m-1 2h1m-1 2h1m-1 1h1m-1 1h1m0-212h1m-1 9h1m-1 1h1m-1 8h1m-1 1h1m-1 5h1m-1 4h1m-1 12h1m-1 1h1m-1 12h1m-1 3h1m-1 2h1m-1 2h1m-1 1h1m-1 2h1m-1 2h1m-1 7h1m-1 13h1m-1 2h1m-1 4h1m-1 2h1m-1 1h1m-1 10h1m-1 2h1m-1 1h1m-1 1h1m-1 8h1m-1 6h1m-1 5h1m-1 3h1m-1 3h1m-1 7h1m-1 1h1m-1 1h1m-1 4h1m-1 2h1m-1 2h1m-1 2h1m-1 3h1m-1 5h1m-1 1h1m-1 4h1m-1 1h1m-1 9h1m-1 12h1m-1 9h1m-1 21h1m-1 2h1m-1 3h1m-1 2h1m0-224h1m-1 1h1m-1 1h1m-1 3h1m-1 1h1m-1 7h1m-1 2h1m-1 4h1m-1 4h1m-1 1h1m-1 3h1m-1 4h1m-1 10h1m-1 1h1m-1 2h1m-1 15h1m-1 10h1m-1 1h1m-1 3h1m-1 1h1m-1 1h1m-1 6h1m-1 2h1m-1 1h1m-1 1h1m-1 1h1m-1 1h1m-1 14h1m-1 1h1m-1 3h1m-1 1h1m-1 10h1m-1 5h1m-1 2h1m-1 3h1m-1 2h1m-1 6h1m-1 5h1m-1 7h1m-1 1h1m-1 1h1m-1 20h1m-1 5h1m-1 7h1m-1 1h1m-1 3h1m-1 2h1m-1 1h1m-1 13h1m-1 2h1m-1 1h1m-1 1h1m-1 3h1m-1 4h1m-1 1h1m-1 6h1m-1 10h1m-1 3h1m-1 1h1m0-225h1m-1 1h1m-1 11h1m-1 1h1m-1 5h1m-1 2h1m-1 3h1m-1 5h1m-1 22h1m-1 14h1m-1 1h1m-1 6h1m-1 1h1m-1 1h1m-1 9h1m-1 6h1m-1 6h1m-1 7h1m-1 3h1m-1 1h1m-1 19h1m-1 1h1m-1 1h1m-1 4h1m-1 1h1m-1 7h1m-1 1h1m-1 3h1m-1 1h1m-1 6h1m-1 1h1m-1 1h1m-1 2h1m-1 4h1m-1 7h1m-1 3h1m-1 8h1m-1 4h1m-1 6h1m-1 6h1m-1 7h1m-1 4h1m-1 2h1m-1 1h1m-1 4h1m-1 7h1m-1 2h1m-1 6h1m-1 2h1m-1 1h1m0-227h1m-1 1h1m-1 1h1m-1 2h1m-1 5h1m-1 1h1m-1 21h1m-1 1h1m-1 9h1m-1 3h1m-1 5h1m-1 2h1m-1 5h1m-1 1h1m-1 8h1m-1 1h1m-1 11h1m-1 1h1m-1 4h1m-1 9h1m-1 1h1m-1 5h1m-1 1h1m-1 5h1m-1 3h1m-1 8h1m-1 3h1m-1 6h1m-1 7h1m-1 11h1m-1 1h1m-1 1h1m-1 1h1m-1 4h1m-1 2h1m-1 30h1m-1 10h1m-1 3h1m-1 7h1m-1 3h1m-1 5h1m0-215h1m-1 2h1m-1 1h1m-1 3h1m-1 1h1m-1 5h1m-1 1h1m-1 6h1m-1 11h1m-1 3h1m-1 8h1m-1 1h1m-1 2h1m-1 1h1m-1 2h1m-1 2h1m-1 1h1m-1 9h1m-1 4h1m-1 3h1m-1 3h1m-1 2h1m-1 4h1m-1 3h1m-1 5h1m-1 1h1m-1 1h1m-1 3h1m-1 2h1m-1 1h1m-1 4h1m-1 5h1m-1 5h1m-1 12h1m-1 3h1m-1 12h1m-1 7h1m-1 2h1m-1 2h1m-1 1h1m-1 14h1m-1 4h1m-1 1h1m-1 3h1m-1 9h1m-1 2h1m-1 1h1m-1 3h1m-1 2h1m-1 1h1m-1 4h1m-1 1h1m-1 1h1m-1 5h1m-1 2h1m-1 1h1m-1 3h1m-1 1h1m-1 2h1m-1 1h1m-1 4h1m-1 3h1m-1 13h1m-1 2h1m-1 5h1m-1 5h1m0-235h1m-1 1h1m-1 1h1m-1 1h1m-1 1h1m-1 1h1m-1 7h1m-1 1h1m-1 3h1m-1 8h1m-1 15h1m-1 1h1m-1 7h1m-1 1h1m-1 13h1m-1 2h1m-1 6h1m-1 3h1m-1 1h1m-1 11h1m-1 1h1m-1 5h1m-1 5h1m-1 1h1m-1 9h1m-1 7h1m-1 2h1m-1 8h1m-1 2h1m-1 6h1m-1 2h1m-1 15h1m-1 15h1m-1 5h1m-1 3h1m-1 3h1m-1 4h1m-1 9h1m-1 1h1m-1 27h1m-1 1h1m-1 2h1m-1 2h1m-1 4h1m1-227h1m-1 2h1m-1 4h1m-1 3h1m-1 6h1m-1 1h1m-1 1h1m-1 8h1m-1 1h1m-1 1h1m-1 7h1m-1 8h1m-1 1h1m-1 1h1m-1 1h1m-1 5h1m-1 3h1m-1 3h1m-1 5h1m-1 1h1m-1 1h1m-1 2h1m-1 1h1m-1 5h1m-1 2h1m-1 16h1m-1 15h1m-1 1h1m-1 2h1m-1 11h1m-1 1h1m-1 1h1m-1 7h1m-1 3h1m-1 1h1m-1 24h1m-1 1h1m-1 1h1m-1 1h1m-1 7h1m-1 1h1m-1 3h1m-1 6h1m-1 4h1m-1 5h1m-1 3h1m-1 1h1m-1 2h1m-1 5h1m-1 3h1m-1 3h1m-1 5h1m-1 1h1m-1 7h1m-1 1h1m-1 7h1m-1 4h1m-1 2h1m-1 5h1m0-233h1m-1 3h1m-1 6h1m-1 3h1m-1 1h1m-1 1h1m-1 5h1m-1 4h1m-1 6h1m-1 1h1m-1 8h1m-1 1h1m-1 10h1m-1 3h1m-1 1h1m-1 9h1m-1 1h1m-1 18h1m-1 4h1m-1 1h1m-1 5h1m-1 2h1m-1 1h1m-1 2h1m-1 6h1m-1 3h1m-1 1h1m-1 1h1m-1 28h1m-1 10h1m-1 12h1m-1 4h1m-1 9h1m-1 1h1m-1 1h1m-1 7h1m-1 11h1m-1 1h1m-1 1h1m-1 21h1m-1 7h1m-1 2h1m-1 4h1m-1 2h1m-1 1h1m-1 1h1m0-229h1m-1 4h1m-1 5h1m-1 8h1m-1 11h1m-1 12h1m-1 1h1m-1 14h1m-1 2h1m-1 1h1m-1 1h1m-1 1h1m-1 6h1m-1 1h1m-1 4h1m-1 7h1m-1 2h1m-1 1h1m-1 1h1m-1 3h1m-1 6h1m-1 1h1m-1 1h1m-1 10h1m-1 14h1m-1 6h1m-1 6h1m-1 2h1m-1 16h1m-1 3h1m-1 1h1m-1 1h1m-1 1h1m-1 1h1m-1 1h1m-1 5h1m-1 8h1m-1 1h1m-1 8h1m-1 5h1m-1 9h1m-1 4h1m-1 1h1m-1 12h1m-1 7h1m-1 3h1m-1 1h1m-1 4h1m-1 3h1m-1 1h1m-1 4h1m0-232h1m-1 6h1m-1 2h1m-1 3h1m-1 1h1m-1 2h1m-1 2h1m-1 1h1m-1 2h1m-1 1h1m-1 7h1m-1 1h1m-1 4h1m-1 1h1m-1 1h1m-1 3h1m-1 7h1m-1 3h1m-1 1h1m-1 4h1m-1 1h1m-1 8h1m-1 1h1m-1 1h1m-1 20h1m-1 9h1m-1 1h1m-1 3h1m-1 7h1m-1 1h1m-1 1h1m-1 1h1m-1 3h1m-1 1h1m-1 3h1m-1 9h1m-1 3h1m-1 3h1m-1 2h1m-1 2h1m-1 6h1m-1 2h1m-1 4h1m-1 1h1m-1 2h1m-1 2h1m-1 1h1m-1 2h1m-1 3h1m-1 5h1m-1 1h1m-1 1h1m-1 3h1m-1 3h1m-1 1h1m-1 1h1m-1 8h1m-1 2h1m-1 6h1m-1 3h1m-1 1h1m-1 1h1m-1 3h1m-1 1h1m-1 4h1m-1 4h1m-1 8h1m-1 5h1m-1 4h1m-1 6h1m-1 4h1m-1 4h1m-1 1h1m0-228h1m-1 10h1m-1 5h1m-1 1h1m-1 5h1m-1 1h1m-1 1h1m-1 3h1m-1 10h1m-1 2h1m-1 1h1m-1 1h1m-1 3h1m-1 3h1m-1 5h1m-1 18h1m-1 16h1m-1 6h1m-1 1h1m-1 2h1m-1 3h1m-1 1h1m-1 2h1m-1 5h1m-1 1h1m-1 9h1m-1 3h1m-1 1h1m-1 6h1m-1 5h1m-1 1h1m-1 9h1m-1 3h1m-1 1h1m-1 10h1m-1 4h1m-1 5h1m-1 1h1m-1 1h1m-1 3h1m-1 6h1m-1 1h1m-1 4h1m-1 5h1m-1 1h1m-1 1h1m-1 7h1m-1 19h1m-1 7h1m-1 6h1m0-232h1m-1 1h1m-1 1h1m-1 7h1m-1 5h1m-1 8h1m-1 1h1m-1 1h1m-1 3h1m-1 6h1m-1 5h1m-1 4h1m-1 2h1m-1 2h1m-1 17h1m-1 2h1m-1 12h1m-1 4h1m-1 14h1m-1 3h1m-1 1h1m-1 3h1m-1 2h1m-1 3h1m-1 3h1m-1 5h1m-1 7h1m-1 3h1m-1 6h1m-1 1h1m-1 11h1m-1 16h1m-1 14h1m-1 1h1m-1 7h1m-1 2h1m-1 7h1m-1 1h1m-1 3h1m-1 4h1m-1 1h1m-1 5h1m-1 4h1m-1 8h1m-1 3h1m-1 1h1m1-215h1m-1 1h1m-1 5h1m-1 1h1m-1 13h1m-1 2h1m-1 11h1m-1 8h1m-1 3h1m-1 1h1m-1 5h1m-1 3h1m-1 7h1m-1 1h1m-1 11h1m-1 6h1m-1 2h1m-1 2h1m-1 5h1m-1 6h1m-1 1h1m-1 1h1m-1 1h1m-1 1h1m-1 2h1m-1 14h1m-1 1h1m-1 1h1m-1 3h1m-1 2h1m-1 5h1m-1 2h1m-1 7h1m-1 6h1m-1 1h1m-1 2h1m-1 5h1m-1 1h1m-1 5h1m-1 18h1m-1 1h1m-1 1h1m-1 3h1m-1 3h1m-1 8h1m-1 5h1m-1 7h1m-1 10h1m-1 3h1m-1 9h1m-1 1h1m-1 2h1m-1 5h1m0-227h1m-1 1h1m-1 12h1m-1 2h1m-1 3h1m-1 1h1m-1 15h1m-1 3h1m-1 5h1m-1 3h1m-1 1h1m-1 1h1m-1 1h1m-1 7h1m-1 1h1m-1 8h1m-1 10h1m-1 4h1m-1 9h1m-1 7h1m-1 1h1m-1 7h1m-1 9h1m-1 3h1m-1 3h1m-1 1h1m-1 7h1m-1 6h1m-1 18h1m-1 3h1m-1 1h1m-1 5h1m-1 9h1m-1 5h1m-1 1h1m-1 4h1m-1 15h1m-1 6h1m-1 1h1m-1 9h1m-1 2h1m-1 2h1m-1 1h1m-1 2h1m-1 1h1m-1 9h1m-1 1h1m-1 3h1m0-231h1m-1 1h1m-1 3h1m-1 5h1m-1 1h1m-1 1h1m-1 9h1m-1 6h1m-1 7h1m-1 8h1m-1 3h1m-1 4h1m-1 7h1m-1 11h1m-1 3h1m-1 1h1m-1 3h1m-1 1h1m-1 2h1m-1 16h1m-1 18h1m-1 5h1m-1 9h1m-1 1h1m-1 16h1m-1 7h1m-1 1h1m-1 3h1m-1 3h1m-1 3h1m-1 1h1m-1 18h1m-1 1h1m-1 7h1m-1 11h1m-1 1h1m-1 5h1m-1 3h1m-1 6h1m-1 2h1m-1 4h1" stroke="#b4bce1"/>
<path d="M0 37.5h1m-1 57h1m-1 1h1m-1 99h1m0-141h1m-1 81h1m-1 49h1m-1 34h1m-1 12h1m0-219h1m-1 68h1m-1 61h1m-1 1h1m-1 19h1m-1 5h1m0-138h1m-1 133h1m-1 10h1m0-152h1m-1 85h1m-1 58h1m0-132h1m-1 21h1m-1 22h1m-1 75h1m0-27h1m-1 99h1m-1 1h1m-1 42h1m0-208h1m-1 43h1m-1 81h1m-1 50h1m0-198h1m-1 96h1m-1 35h1m-1 74h1m0-210h1m-1 43h1m-1 69h1m-1 10h1m0-20h1m-1 3h1m-1 10h1m-1 15h1m-1 54h1m-1 15h1m-1 1h1m-1 17h1m0-170h1m-1 1h1m-1 1h1m-1 4h1m-1 3h1m-1 1h1m-1 89h1m0-132h1m-1 62h1m-1 3h1m-1 48h1m-1 41h1m-1 21h1m0-151h1m-1 154h1m-1 19h1m0-225h1m-1 30h1m-1 1h1m-1 50h1m-1 101h1m0-181h1m-1 122h1m-1 28h1m-1 20h1m0 43h1m-1 14h1m-1 38h1m0-206h1m-1 135h1m-1 1h1m-1 33h1m0-208h1m-1 21h1m-1 1h1m-1 97h1m-1 53h1m0-84h1m-1 59h1m-1 95h1m0-251h1m-1 1h1m-1 43h1m-1 71h1m-1 14h1m-1 1h1m0-149h1m-1 11h1m-1 18h1m-1 1h1m-1 9h1m-1 1h1m-1 17h1m-1 6h1m-1 4h1m-1 10h1m-1 10h1m-1 10h1m-1 22h1m-1 5h1m-1 7h1m-1 4h1m-1 10h1m-1 11h1m-1 1h1m-1 5h1m-1 13h1m-1 7h1m-1 23h1m-1 2h1m-1 8h1m-1 2h1m-1 7h1m0-60h1m-1 72h1m0-238h1m-1 13h1m-1 5h1m-1 3h1m-1 3h1m-1 24h1m-1 1h1m-1 14h1m-1 6h1m-1 1h1m-1 4h1m-1 1h1m-1 1h1m-1 3h1m-1 5h1m-1 3h1m-1 4h1m-1 5h1m-1 7h1m-1 1h1m-1 14h1m-1 28h1m-1 9h1m-1 2h1m-1 3h1m-1 15h1m-1 3h1m-1 7h1m-1 1h1m-1 4h1m-1 2h1m-1 1h1m-1 3h1m-1 2h1m-1 5h1m-1 1h1m-1 1h1m-1 14h1m-1 12h1m0-232h1m-1 5h1m-1 1h1m-1 4h1m-1 1h1m-1 7h1m-1 4h1m-1 8h1m-1 26h1m-1 1h1m-1 1h1m-1 2h1m-1 2h1m-1 8h1m-1 9h1m-1 2h1m-1 11h1m-1 4h1m-1 18h1m-1 3h1m-1 2h1m-1 8h1m-1 2h1m-1 5h1m-1 1h1m-1 5h1m-1 11h1m-1 1h1m-1 4h1m-1 1h1m-1 7h1m-1 4h1m-1 1h1m-1 2h1m-1 3h1m-1 5h1m-1 22h1m-1 6h1m-1 8h1m-1 4h1m-1 4h1m-1 3h1m-1 1h1m-1 1h1m0-222h1m-1 5h1m-1 15h1m-1 23h1m-1 16h1m-1 1h1m-1 26h1m-1 1h1m-1 19h1m-1 11h1m-1 15h1m-1 6h1m-1 23h1m-1 1h1m-1 7h1m-1 2h1m-1 1h1m-1 25h1m-1 1h1m-1 30h1m-1 3h1m0-216h1m-1 24h1m-1 2h1m-1 1h1m-1 1h1m-1 10h1m-1 2h1m-1 10h1m-1 1h1m-1 8h1m-1 13h1m-1 23h1m-1 12h1m-1 21h1m-1 6h1m-1 17h1m-1 6h1m-1 3h1m-1 9h1m-1 1h1m-1 3h1m-1 3h1m-1 9h1m-1 2h1m-1 23h1m0-231h1m-1 3h1m-1 30h1m-1 12h1m-1 5h1m-1 7h1m-1 27h1m-1 7h1m-1 21h1m-1 11h1m-1 3h1m-1 2h1m-1 2h1m-1 31h1m-1 1h1m-1 43h1m-1 3h1m-1 1h1m-1 7h1m-1 19h1m-1 2h1m0-235h1m-1 19h1m-1 1h1m-1 1h1m-1 3h1m-1 1h1m-1 13h1m-1 13h1m-1 2h1m-1 3h1m-1 8h1m-1 13h1m-1 3h1m-1 4h1m-1 4h1m-1 2h1m-1 9h1m-1 3h1m-1 3h1m-1 1h1m-1 7h1m-1 2h1m-1 8h1m-1 4h1m-1 1h1m-1 7h1m-1 5h1m-1 12h1m-1 1h1m-1 1h1m-1 11h1m-1 1h1m-1 1h1m-1 6h1m-1 1h1m-1 4h1m-1 5h1m-1 4h1m-1 6h1m-1 1h1m-1 1h1m-1 2h1m-1 1h1m-1 1h1m-1 1h1m-1 3h1m-1 7h1m-1 1h1m-1 4h1m-1 5h1m-1 2h1m-1 8h1m-1 1h1m-1 1h1m-1 5h1m0-239h1m-1 1h1m-1 1h1m-1 2h1m-1 1h1m-1 1h1m-1 1h1m-1 1h1m-1 1h1m-1 1h1m-1 1h1m-1 1h1m-1 1h1m-1 1h1m-1 1h1m-1 1h1m-1 1h1m-1 1h1m-1 1h1m-1 1h1m-1 1h1m-1 1h1m-1 1h1m-1 1h1m-1 1h1m-1 1h1m-1 1h1m-1 1h1m-1 1h1m-1 1h1m-1 1h1m-1 1h1m-1 1h1m-1 1h1m-1 1h1m-1 1h1m-1 1h1m-1 1h1m-1 1h1m-1 1h1m-1 1h1m-1 1h1m-1 1h1m-1 1h1m-1 1h1m-1 1h1m-1 1h1m-1 1h1m-1 1h1m-1 1h1m-1 1h1m-1 1h1m-1 1h1m-1 1h1m-1 1h1m-1 1h1m-1 1h1m-1 1h1m-1 1h1m-1 1h1m-1 1h1m-1 1h1m-1 1h1m-1 1h1m-1 1h1m-1 1h1m-1 1h1m-1 1h1m-1 1h1m-1 1h1m-1 1h1m-1 1h1m-1 1h1m-1 1h1m-1 1h1m-1 1h1m-1 1h1m-1 1h1m-1 1h1m-1 1h1m-1 1h1m-1 1h1m-1 1h1m-1 1h1m-1 1h1m-1 1h1m-1 1h1m-1 1h1m-1 1h1m-1 1h1m-1 1h1m-1 1h1m-1 1h1m-1 1h1m-1 2h1m-1 1h1m-1 1h1m-1 1h1m-1 1h1m-1 1h1m-1 1h1m-1 1h1m-1 1h1m-1 3h1m-1 1h1m-1 1h1m-1 1h1m-1 1h1m-1 1h1m-1 1h1m-1 1h1m-1 1h1m-1 1h1m-1 1h1m-1 1h1m-1 1h1m-1 1h1m-1 1h1m-1 1h1m-1 1h1m-1 1h1m-1 1h1m-1 1h1m-1 1h1m-1 1h1m-1 1h1m-1 1h1m-1 1h1m-1 1h1m-1 1h1m-1 1h1m-1 1h1m-1 1h1m-1 1h1m-1 2h1m-1 1h1m-1 1h1m-1 1h1m-1 1h1m-1 1h1m-1 1h1m-1 1h1m-1 1h1m-1 1h1m-1 1h1m-1 1h1m-1 1h1m-1 1h1m-1 1h1m-1 1h1m-1 1h1m-1 1h1m-1 1h1m-1 1h1m-1 1h1m-1 1h1m-1 1h1m-1 1h1m-1 1h1m-1 1h1m-1 1h1m-1 1h1m-1 1h1m-1 1h1m-1 1h1m-1 1h1m-1 1h1m-1 1h1m-1 1h1m-1 1h1m-1 1h1m-1 1h1m-1 1h1m-1 1h1m-1 1h1m-1 1h1m-1 1h1m-1 1h1m-1 1h1m-1 1h1m-1 1h1m-1 1h1m-1 1h1m-1 1h1m-1 2h1m-1 1h1m-1 1h1m-1 1h1m-1 2h1m-1 1h1m-1 1h1m-1 1h1m-1 1h1m-1 1h1m-1 1h1m-1 2h1m-1 1h1m-1 1h1m-1 1h1m-1 1h1m-1 1h1m-1 1h1m-1 1h1m-1 1h1m-1 1h1m-1 1h1m-1 1h1m-1 1h1m-1 1h1m-1 1h1m-1 1h1m-1 1h1m-1 1h1m-1 1h1m-1 1h1m-1 1h1m-1 1h1m-1 1h1m-1 1h1m-1 1h1m-1 1h1m-1 1h1m-1 1h1m-1 1h1m-1 1h1m-1 1h1m-1 1h1m-1 1h1m-1 1h1m-1 1h1m-1 1h1m-1 1h1m0-236h1m-1 1h1m-1 6h1m-1 1h1m-1 1h1m-1 12h1m-1 13h1m-1 18h1m-1 2h1m-1 3h1m-1 12h1m-1 3h1m-1 11h1m-1 1h1m-1 7h1m-1 2h1m-1 3h1m-1 3h1m-1 6h1m-1 1h1m-1 13h1m-1 29h1m-1 8h1m-1 11h1m-1 13h1m-1 2h1m-1 1h1m-1 16h1m-1 1h1m-1 9h1m-1 1h1m-1 4h1m-1 13h1m-1 4h1m-1 5h1m0-206h1m-1 4h1m-1 14h1m-1 72h1m-1 23h1m-1 8h1m-1 35h1m-1 48h1m0-226h1m-1 3h1m-1 24h1m-1 9h1m-1 2h1m-1 16h1m-1 1h1m-1 30h1m-1 5h1m-1 13h1m-1 11h1m-1 1h1m-1 1h1m-1 18h1m-1 43h1m-1 19h1m-1 27h1m0-212h1m-1 21h1m-1 21h1m-1 13h1m-1 1h1m-1 1h1m-1 1h1m-1 22h1m-1 5h1m-1 16h1m0-120h1m-1 2h1m-1 1h1m-1 32h1m-1 3h1m-1 16h1m-1 9h1m-1 5h1m-1 16h1m-1 3h1m-1 29h1m-1 24h1m-1 1h1m-1 24h1m-1 1h1m-1 25h1m-1 1h1m-1 18h1m-1 10h1m0-210h1m-1 47h1m-1 13h1m-1 1h1m-1 8h1m-1 14h1m-1 4h1m-1 3h1m-1 16h1m-1 1h1m-1 18h1m-1 14h1m-1 2h1m-1 1h1m-1 1h1m-1 5h1m-1 1h1m-1 1h1m-1 1h1m-1 12h1m-1 3h1m-1 9h1m-1 1h1m-1 4h1m-1 9h1m-1 7h1m-1 17h1m-1 1h1m-1 1h1m-1 4h1m0-231h1m-1 1h1m-1 1h1m-1 1h1m-1 1h1m-1 2h1m-1 1h1m-1 1h1m-1 1h1m-1 1h1m-1 1h1m-1 1h1m-1 1h1m-1 1h1m-1 1h1m-1 1h1m-1 1h1m-1 1h1m-1 1h1m-1 1h1m-1 2h1m-1 1h1m-1 1h1m-1 1h1m-1 1h1m-1 1h1m-1 1h1m-1 1h1m-1 1h1m-1 1h1m-1 1h1m-1 1h1m-1 1h1m-1 1h1m-1 1h1m-1 1h1m-1 1h1m-1 1h1m-1 1h1m-1 1h1m-1 1h1m-1 2h1m-1 1h1m-1 1h1m-1 1h1m-1 1h1m-1 1h1m-1 1h1m-1 1h1m-1 1h1m-1 2h1m-1 1h1m-1 1h1m-1 2h1m-1 1h1m-1 1h1m-1 1h1m-1 1h1m-1 1h1m-1 1h1m-1 1h1m-1 1h1m-1 1h1m-1 1h1m-1 1h1m-1 1h1m-1 1h1m-1 1h1m-1 1h1m-1 1h1m-1 1h1m-1 1h1m-1 1h1m-1 2h1m-1 1h1m-1 1h1m-1 1h1m-1 1h1m-1 1h1m-1 1h1m-1 1h1m-1 1h1m-1 1h1m-1 1h1m-1 1h1m-1 1h1m-1 1h1m-1 1h1m-1 1h1m-1 1h1m-1 1h1m-1 1h1m-1 1h1m-1 1h1m-1 1h1m-1 1h1m-1 1h1m-1 1h1m-1 1h1m-1 1h1m-1 1h1m-1 1h1m-1 1h1m-1 1h1m-1 1h1m-1 1h1m-1 1h1m-1 1h1m-1 1h1m-1 1h1m-1 1h1m-1 1h1m-1 1h1m-1 1h1m-1 1h1m-1 1h1m-1 1h1m-1 1h1m-1 1h1m-1 1h1m-1 1h1m-1 1h1m-1 1h1m-1 1h1m-1 1h1m-1 1h1m-1 1h1m-1 1h1m-1 1h1m-1 1h1m-1 1h1m-1 1h1m-1 1h1m-1 1h1m-1 1h1m-1 1h1m-1 1h1m-1 1h1m-1 1h1m-1 1h1m-1 1h1m-1 1h1m-1 1h1m-1 1h1m-1 1h1m-1 5h1m-1 1h1m-1 1h1m-1 1h1m-1 1h1m-1 1h1m-1 1h1m-1 1h1m-1 1h1m-1 1h1m-1 1h1m-1 1h1m-1 1h1m-1 1h1m-1 1h1m-1 1h1m-1 1h1m-1 1h1m-1 1h1m-1 1h1m-1 1h1m-1 1h1m-1 1h1m-1 1h1m-1 1h1m-1 1h1m-1 1h1m-1 1h1m-1 1h1m-1 1h1m-1 1h1m-1 1h1m-1 1h1m-1 1h1m-1 1h1m-1 1h1m-1 1h1m-1 1h1m-1 1h1m-1 1h1m-1 1h1m-1 1h1m-1 1h1m-1 1h1m-1 1h1m-1 1h1m-1 1h1m-1 1h1m-1 1h1m-1 1h1m-1 1h1m-1 1h1m-1 2h1m-1 1h1m-1 2h1m-1 1h1m-1 1h1m-1 1h1m-1 1h1m-1 1h1m-1 1h1m-1 1h1m-1 1h1m-1 1h1m-1 1h1m-1 1h1m-1 1h1m-1 3h1m-1 1h1m-1 1h1m-1 1h1m-1 1h1m-1 1h1m-1 1h1m-1 1h1m-1 1h1m-1 1h1m-1 1h1m-1 1h1m-1 1h1m0-223h1m-1 1h1m-1 20h1m-1 2h1m-1 13h1m-1 7h1m-1 4h1m-1 8h1m-1 1h1m-1 1h1m-1 64h1m-1 1h1m-1 12h1m-1 6h1m-1 34h1m-1 27h1m0-193h1m-1 38h1m-1 8h1m-1 38h1m-1 8h1m-1 1h1m-1 3h1m-1 1h1m-1 27h1m-1 45h1m-1 1h1m-1 5h1m0-199h1m-1 1h1m-1 1h1m-1 1h1m-1 9h1m-1 6h1m-1 5h1m-1 4h1m-1 10h1m-1 1h1m-1 2h1m-1 1h1m-1 2h1m-1 5h1m-1 1h1m-1 4h1m-1 15h1m-1 6h1m-1 3h1m-1 1h1m-1 3h1m-1 4h1m-1 8h1m-1 1h1m-1 7h1m-1 3h1m-1 1h1m-1 3h1m-1 6h1m-1 4h1m-1 1h1m-1 1h1m-1 2h1m-1 1h1m-1 5h1m-1 5h1m-1 26h1m-1 1h1m-1 2h1m-1 7h1m-1 27h1m-1 1h1m-1 1h1m-1 2h1m-1 4h1m-1 2h1m-1 4h1m-1 2h1m-1 3h1m-1 6h1m-1 13h1m-1 3h1m-1 2h1" stroke="#d6dbef"/>
<path d="M0 98.5h1m-1 85h1m0-152h1m-1 5h1m-1 18h1m-1 52h1m-1 5h1m-1 57h1m0-18h1m-1 75h1m-1 1h1m0-138h1m0-81h1m-1 208h1m-1 1h1m-1 14h1m0-153h1m-1 37h1m-1 38h1m-1 16h1m0-146h1m-1 13h1m-1 1h1m-1 1h1m-1 1h1m-1 1h1m-1 15h1m-1 51h1m-1 116h1m0-215h1m-1 71h1m-1 55h1m0-74h1m-1 49h1m-1 65h1m-1 11h1m0-173h1m-1 10h1m-1 130h1m-1 73h1m1-190h1m-1 35h1m-1 1h1m-1 20h1m-1 4h1m-1 5h1m-1 45h1m-1 82h1m-1 6h1m0-173h1m-1 1h1m-1 137h1m-1 42h1m0-199h1m-1 72h1m-1 18h1m-1 23h1m-1 1h1m-1 4h1m-1 1h1m-1 25h1m-1 31h1m0-140h1m-1 81h1m-1 75h1m0-199h1m-1 1h1m-1 42h1m-1 81h1m-1 60h1m0-189h1m-1 27h1m-1 3h1m-1 39h1m-1 50h1m-1 15h1m-1 16h1m0-116h1m-1 32h1m-1 7h1m0-55h1m-1 15h1m-1 14h1m-1 16h1m-1 98h1m0-186h1m-1 15h1m-1 25h1m-1 3h1m-1 48h1m-1 6h1m0 70h1m-1 1h1m-1 32h1m0-115h1m-1 87h1m0-75h1m-1 93h1m-1 14h1m0-88h1m-1 5h1m-1 56h1m-1 10h1m-1 21h1m0-197h1m-1 2h1m-1 25h1m-1 30h1m-1 44h1m-1 7h1m-1 4h1m-1 8h1m-1 14h1m-1 66h1m-1 10h1m-1 13h1m0-202h1m-1 82h1m-1 1h1m0 2h1m-1 6h1m-1 1h1m-1 10h1m-1 26h1m-1 46h1m0-97h1m-1 1h1m-1 5h1m-1 51h1m-1 20h1m-1 1h1m-1 10h1m0-187h1m-1 1h1m-1 1h1m-1 34h1m-1 50h1m-1 1h1m-1 4h1m-1 1h1m-1 20h1m-1 16h1m-1 1h1m-1 3h1m-1 1h1m-1 4h1m-1 10h1m-1 1h1m-1 4h1m-1 15h1m-1 8h1m-1 20h1m-1 1h1m-1 2h1m-1 1h1m-1 1h1m-1 3h1m-1 1h1m-1 1h1m-1 10h1m-1 11h1m-1 1h1m1-208h1m-1 1h1m-1 39h1m-1 6h1m-1 56h1m-1 3h1m-1 1h1m-1 25h1m-1 1h1m-1 32h1m0-30h1m-1 1h1m-1 1h1m-1 1h1m-1 47h1m0-192h1m-1 73h1m-1 77h1m-1 64h1m0-233h1m-1 4h1m-1 107h1m0-114h1m-1 83h1m-1 1h1m-1 74h1m-1 59h1m0-209h1m-1 18h1m-1 11h1m-1 25h1m-1 5h1m-1 100h1m-1 70h1m1-206h1m-1 98h1m0-123h1m-1 95h1m-1 75h1m-1 1h1m0-149h1m-1 5h1m-1 27h1m-1 28h1m-1 4h1m-1 4h1m-1 49h1m-1 4h1m-1 4h1m-1 10h1m-1 5h1m-1 18h1m-1 40h1m-1 9h1" stroke="#ffffff"/>
<path d="M0 25.5h1m-1 1h1m-1 6h1m-1 12h1m-1 9h1m-1 1h1m-1 14h1m-1 2h1m-1 45h1m-1 20h1m-1 12h1m-1 25h1m-1 1h1m-1 12h1m-1 7h1m-1 1h1m-1 43h1m-1 1h1m0-230h1m-1 66h1m-1 1h1m-1 11h1m-1 3h1m-1 1h1m-1 1h1m-1 3h1m-1 51h1m-1 1h1m-1 59h1m-1 8h1m-1 15h1m-1 9h1m-1 3h1m0-238h1m-1 1h1m-1 1h1m-1 1h1m-1 4h1m-1 6h1m-1 18h1m-1 3h1m-1 9h1m-1 7h1m-1 16h1m-1 7h1m-1 14h1m-1 1h1m-1 6h1m-1 39h1m-1 12h1m-1 27h1m-1 19h1m-1 4h1m-1 3h1m-1 7h1m-1 13h1m-1 1h1m-1 7h1m0-227h1m-1 32h1m-1 12h1m-1 14h1m-1 9h1m-1 1h1m-1 14h1m-1 1h1m-1 1h1m-1 14h1m-1 7h1m-1 1h1m-1 5h1m-1 18h1m-1 1h1m-1 6h1m-1 19h1m-1 27h1m-1 43h1m0-201h1m-1 3h1m-1 1h1m-1 6h1m-1 16h1m-1 1h1m-1 1h1m-1 38h1m-1 5h1m-1 38h1m-1 3h1m-1 4h1m-1 11h1m-1 2h1m-1 1h1m-1 7h1m-1 4h1m-1 2h1m-1 1h1m-1 2h1m-1 20h1m-1 1h1m-1 4h1m-1 1h1m-1 42h1m0-234h1m-1 1h1m-1 15h1m-1 4h1m-1 1h1m-1 16h1m-1 10h1m-1 1h1m-1 10h1m-1 17h1m-1 1h1m-1 18h1m-1 2h1m-1 16h1m-1 4h1m-1 2h1m-1 19h1m-1 1h1m-1 15h1m-1 1h1m-1 30h1m-1 19h1m-1 4h1m-1 20h1m-1 8h1m0-235h1m-1 1h1m-1 7h1m-1 4h1m-1 13h1m-1 11h1m-1 5h1m-1 6h1m-1 6h1m-1 20h1m-1 1h1m-1 1h1m-1 4h1m-1 1h1m-1 1h1m-1 3h1m-1 13h1m-1 7h1m-1 1h1m-1 3h1m-1 23h1m-1 1h1m-1 20h1m-1 1h1m-1 19h1m-1 1h1m-1 33h1m0-191h1m-1 8h1m-1 4h1m-1 5h1m-1 4h1m-1 21h1m-1 28h1m-1 29h1m-1 1h1m-1 2h1m-1 1h1m-1 5h1m-1 2h1m-1 5h1m-1 1h1m-1 1h1m-1 12h1m-1 10h1m-1 5h1m-1 1h1m-1 7h1m-1 11h1m-1 3h1m-1 1h1m-1 35h1m-1 8h1m0-204h1m-1 9h1m-1 33h1m-1 17h1m-1 4h1m-1 1h1m-1 3h1m-1 29h1m-1 12h1m-1 3h1m-1 20h1m-1 19h1m-1 2h1m-1 9h1m-1 1h1m-1 10h1m-1 8h1m-1 3h1m-1 2h1m-1 9h1m-1 5h1m-1 1h1m0-209h1m-1 40h1m-1 34h1m-1 1h1m-1 30h1m-1 9h1m-1 4h1m-1 27h1m-1 20h1m-1 2h1m-1 1h1m-1 20h1m-1 20h1m0-221h1m-1 1h1m-1 5h1m-1 1h1m-1 2h1m-1 1h1m-1 2h1m-1 14h1m-1 3h1m-1 11h1m-1 1h1m-1 7h1m-1 5h1m-1 6h1m-1 28h1m-1 19h1m-1 12h1m-1 9h1m-1 1h1m-1 15h1m-1 2h1m-1 10h1m-1 2h1m-1 6h1m-1 31h1m-1 4h1m-1 13h1m-1 22h1m0-236h1m-1 30h1m-1 5h1m-1 1h1m-1 7h1m-1 41h1m-1 57h1m-1 6h1m-1 16h1m-1 1h1m-1 4h1m-1 12h1m-1 16h1m-1 9h1m-1 15h1m-1 19h1m0-236h1m-1 31h1m-1 2h1m-1 47h1m-1 8h1m-1 47h1m-1 7h1m-1 2h1m-1 11h1m-1 11h1m-1 1h1m-1 14h1m-1 11h1m-1 4h1m-1 1h1m-1 1h1m-1 1h1m-1 8h1m-1 15h1m-1 1h1m0-211h1m-1 16h1m-1 2h1m-1 15h1m-1 1h1m-1 19h1m-1 13h1m-1 1h1m-1 1h1m-1 2h1m-1 1h1m-1 3h1m-1 9h1m-1 23h1m-1 26h1m-1 16h1m-1 18h1m-1 12h1m-1 26h1m-1 1h1m-1 16h1m-1 3h1m0-214h1m-1 1h1m-1 2h1m-1 2h1m-1 2h1m-1 53h1m-1 16h1m-1 10h1m-1 2h1m-1 8h1m-1 2h1m-1 60h1m-1 1h1m-1 6h1m-1 8h1m-1 27h1m-1 11h1m0-229h1m-1 1h1m-1 2h1m-1 3h1m-1 24h1m-1 32h1m-1 29h1m-1 31h1m-1 6h1m-1 18h1m-1 1h1m-1 28h1m-1 19h1m-1 3h1m-1 7h1m-1 28h1m0-224h1m-1 21h1m-1 12h1m-1 1h1m-1 15h1m-1 21h1m-1 1h1m-1 6h1m-1 7h1m-1 17h1m-1 32h1m-1 7h1m-1 6h1m-1 1h1m-1 17h1m-1 17h1m-1 1h1m-1 3h1m-1 1h1m-1 13h1m-1 2h1m-1 5h1m-1 18h1m0-208h1m-1 9h1m-1 33h1m-1 43h1m-1 1h1m-1 1h1m-1 12h1m-1 1h1m-1 5h1m-1 10h1m-1 12h1m-1 3h1m-1 1h1m-1 12h1m-1 3h1m-1 1h1m-1 1h1m-1 5h1m-1 20h1m-1 9h1m-1 25h1m0-235h1m-1 1h1m-1 30h1m-1 2h1m-1 32h1m-1 6h1m-1 31h1m-1 1h1m-1 1h1m-1 2h1m-1 8h1m-1 18h1m-1 5h1m-1 7h1m-1 10h1m-1 3h1m-1 19h1m-1 18h1m-1 7h1m-1 22h1m0-215h1m-1 26h1m-1 3h1m-1 14h1m-1 5h1m-1 25h1m-1 1h1m-1 1h1m-1 2h1m-1 1h1m-1 8h1m-1 23h1m-1 2h1m-1 7h1m-1 1h1m-1 21h1m-1 25h1m-1 10h1m-1 1h1m-1 3h1m-1 2h1m-1 1h1m-1 38h1m-1 1h1m0-228h1m-1 59h1m-1 134h1m-1 24h1m-1 3h1m-1 4h1m0-201h1m-1 25h1m-1 3h1m-1 13h1m-1 27h1m-1 77h1m-1 7h1m-1 18h1m-1 81h1m0-169h1m-1 25h1m-1 13h1m-1 25h1m0-119h1m-1 28h1m-1 26h1m-1 20h1m-1 6h1m-1 1h1m-1 5h1m-1 44h1m-1 1h1m-1 8h1m-1 19h1m-1 1h1m-1 19h1m0-212h1m-1 1h1m-1 4h1m-1 39h1m-1 58h1m-1 18h1m-1 14h1m-1 2h1m-1 21h1m-1 9h1m-1 2h1m-1 31h1m-1 20h1m-1 1h1m0-163h1m-1 1h1m-1 27h1m-1 1h1m-1 45h1m-1 72h1m0-218h1m-1 1h1m-1 1h1m-1 40h1m-1 16h1m-1 1h1m-1 50h1m-1 30h1m-1 23h1m-1 8h1m-1 9h1m-1 52h1m0-215h1m-1 38h1m-1 46h1m-1 25h1m-1 3h1m-1 1h1m-1 3h1m-1 15h1m-1 24h1m-1 19h1m-1 26h1m0-182h1m-1 97h1m-1 14h1m-1 1h1m-1 12h1m-1 89h1m1-212h1m-1 29h1m-1 6h1m-1 11h1m-1 26h1m-1 5h1m-1 1h1m-1 25h1m-1 50h1m-1 12h1m0-179h1m-1 11h1m-1 10h1m-1 150h1m0-181h1m-1 4h1m-1 15h1m-1 2h1m-1 1h1m-1 37h1m-1 2h1m-1 40h1m-1 17h1m-1 13h1m-1 1h1m-1 3h1m-1 18h1m-1 8h1m0-138h1m-1 60h1m-1 1h1m-1 2h1m-1 25h1m-1 1h1m-1 46h1m-1 15h1m-1 27h1m0-202h1m-1 18h1m-1 3h1m-1 6h1m-1 21h1m-1 74h1m-1 4h1m-1 13h1m-1 2h1m-1 34h1m-1 11h1m0-196h1m-1 16h1m-1 73h1m-1 24h1m-1 14h1m-1 47h1m-1 9h1m-1 1h1m-1 13h1m-1 61h1m1-257h1m-1 99h1m-1 41h1m-1 43h1m-1 20h1m-1 25h1m-1 1h1m0-204h1m-1 36h1m-1 58h1m-1 92h1m0-207h1m-1 1h1m-1 53h1m-1 1h1m-1 7h1m-1 45h1m-1 17h1m-1 3h1m-1 13h1m-1 22h1m-1 6h1m-1 1h1m-1 1h1m-1 11h1" stroke="#f7d2d3"/>
<path d="M0 1.5h1m-1 13h1m-1 1h1m-1 1h1m-1 1h1m-1 2h1m-1 8h1m-1 1h1m-1 5h1m-1 1h1m-1 6h1m-1 19h1m-1 6h1m-1 1h1m-1 8h1m-1 4h1m-1 4h1m-1 5h1m-1 14h1m-1 4h1m-1 1h1m-1 2h1m-1 1h1m-1 7h1m-1 12h1m-1 4h1m-1 1h1m-1 1h1m-1 3h1m-1 3h1m-1 2h1m-1 1h1m-1 1h1m-1 1h1m-1 4h1m-1 4h1m-1 4h1m-1 1h1m-1 1h1m-1 1h1m-1 5h1m-1 1h1m-1 1h1m-1 7h1m-1 8h1m-1 13h1m-1 5h1m-1 12h1m-1 1h1m-1 1h1m-1 1h1m-1 8h1m-1 2h1m-1 4h1m-1 2h1m-1 3h1m0-233h1m-1 8h1m-1 6h1m-1 9h1m-1 5h1m-1 3h1m-1 2h1m-1 6h1m-1 1h1m-1 1h1m-1 1h1m-1 2h1m-1 7h1m-1 3h1m-1 1h1m-1 6h1m-1 3h1m-1 10h1m-1 1h1m-1 1h1m-1 1h1m-1 6h1m-1 7h1m-1 3h1m-1 4h1m-1 1h1m-1 2h1m-1 3h1m-1 10h1m-1 1h1m-1 1h1m-1 6h1m-1 7h1m-1 7h1m-1 1h1m-1 2h1m-1 4h1m-1 7h1m-1 4h1m-1 4h1m-1 1h1m-1 14h1m-1 9h1m-1 6h1m-1 1h1m-1 3h1m-1 5h1m-1 2h1m-1 6h1m-1 8h1m-1 1h1m-1 1h1m-1 1h1m0-211h1m-1 1h1m-1 3h1m-1 6h1m-1 2h1m-1 4h1m-1 1h1m-1 5h1m-1 1h1m-1 1h1m-1 17h1m-1 1h1m-1 3h1m-1 6h1m-1 8h1m-1 1h1m-1 3h1m-1 3h1m-1 8h1m-1 1h1m-1 1h1m-1 1h1m-1 1h1m-1 2h1m-1 7h1m-1 1h1m-1 5h1m-1 2h1m-1 7h1m-1 3h1m-1 1h1m-1 7h1m-1 2h1m-1 1h1m-1 1h1m-1 1h1m-1 1h1m-1 7h1m-1 5h1m-1 15h1m-1 7h1m-1 2h1m-1 1h1m-1 1h1m-1 3h1m-1 1h1m-1 1h1m-1 4h1m-1 1h1m-1 2h1m-1 1h1m-1 1h1m-1 9h1m-1 3h1m-1 3h1m-1 14h1m-1 2h1m-1 1h1m-1 10h1m-1 13h1m-1 1h1m-1 1h1m-1 3h1m-1 2h1m0-233h1m-1 1h1m-1 1h1m-1 1h1m-1 1h1m-1 3h1m-1 2h1m-1 10h1m-1 1h1m-1 12h1m-1 1h1m-1 4h1m-1 4h1m-1 3h1m-1 6h1m-1 1h1m-1 1h1m-1 5h1m-1 15h1m-1 1h1m-1 11h1m-1 2h1m-1 17h1m-1 1h1m-1 4h1m-1 1h1m-1 1h1m-1 3h1m-1 7h1m-1 3h1m-1 3h1m-1 3h1m-1 5h1m-1 1h1m-1 5h1m-1 4h1m-1 5h1m-1 3h1m-1 7h1m-1 2h1m-1 11h1m-1 2h1m-1 4h1m-1 5h1m-1 7h1m-1 4h1m-1 5h1m-1 1h1m-1 1h1m-1 7h1m-1 7h1m-1 6h1m-1 3h1m0-229h1m-1 9h1m-1 1h1m-1 19h1m-1 2h1m-1 1h1m-1 3h1m-1 2h1m-1 1h1m-1 1h1m-1 1h1m-1 17h1m-1 1h1m-1 7h1m-1 9h1m-1 1h1m-1 2h1m-1 1h1m-1 2h1m-1 3h1m-1 1h1m-1 1h1m-1 1h1m-1 2h1m-1 1h1m-1 3h1m-1 5h1m-1 3h1m-1 3h1m-1 3h1m-1 7h1m-1 1h1m-1 4h1m-1 2h1m-1 1h1m-1 1h1m-1 1h1m-1 6h1m-1 2h1m-1 10h1m-1 6h1m-1 9h1m-1 2h1m-1 5h1m-1 11h1m-1 2h1m-1 1h1m-1 1h1m-1 4h1m-1 3h1m-1 3h1m-1 5h1m-1 1h1m-1 3h1m-1 1h1m-1 3h1m-1 2h1m-1 2h1m-1 13h1m-1 3h1m-1 3h1m-1 5h1m-1 2h1m-1 1h1m-1 7h1m0-228h1m-1 1h1m-1 11h1m-1 9h1m-1 3h1m-1 2h1m-1 11h1m-1 6h1m-1 4h1m-1 10h1m-1 5h1m-1 2h1m-1 7h1m-1 3h1m-1 3h1m-1 1h1m-1 1h1m-1 1h1m-1 4h1m-1 1h1m-1 1h1m-1 9h1m-1 1h1m-1 2h1m-1 2h1m-1 6h1m-1 1h1m-1 1h1m-1 8h1m-1 2h1m-1 4h1m-1 6h1m-1 5h1m-1 1h1m-1 34h1m-1 1h1m-1 3h1m-1 1h1m-1 1h1m-1 2h1m-1 2h1m-1 8h1m-1 13h1m-1 3h1m-1 2h1m-1 10h1m-1 1h1m-1 2h1m-1 4h1m-1 1h1m-1 3h1m-1 1h1m0-237h1m-1 1h1m-1 8h1m-1 6h1m-1 2h1m-1 2h1m-1 4h1m-1 1h1m-1 2h1m-1 5h1m-1 10h1m-1 5h1m-1 4h1m-1 14h1m-1 1h1m-1 17h1m-1 7h1m-1 2h1m-1 1h1m-1 1h1m-1 1h1m-1 6h1m-1 7h1m-1 3h1m-1 4h1m-1 3h1m-1 1h1m-1 2h1m-1 5h1m-1 2h1m-1 14h1m-1 3h1m-1 1h1m-1 10h1m-1 4h1m-1 12h1m-1 2h1m-1 7h1m-1 3h1m-1 1h1m-1 2h1m-1 9h1m-1 2h1m-1 7h1m-1 7h1m-1 5h1m-1 13h1m-1 1h1m-1 1h1m0-229h1m-1 5h1m-1 8h1m-1 2h1m-1 3h1m-1 4h1m-1 1h1m-1 1h1m-1 4h1m-1 2h1m-1 3h1m-1 9h1m-1 5h1m-1 1h1m-1 1h1m-1 4h1m-1 3h1m-1 9h1m-1 1h1m-1 1h1m-1 5h1m-1 9h1m-1 16h1m-1 12h1m-1 1h1m-1 3h1m-1 2h1m-1 3h1m-1 18h1m-1 2h1m-1 1h1m-1 1h1m-1 1h1m-1 1h1m-1 7h1m-1 4h1m-1 15h1m-1 5h1m-1 3h1m-1 2h1m-1 3h1m-1 1h1m-1 3h1m-1 1h1m-1 1h1m-1 3h1m-1 7h1m-1 1h1m-1 1h1m-1 3h1m-1 2h1m-1 8h1m-1 1h1m-1 8h1m-1 2h1m-1 5h1m0-229h1m-1 10h1m-1 1h1m-1 23h1m-1 1h1m-1 3h1m-1 1h1m-1 5h1m-1 1h1m-1 8h1m-1 5h1m-1 1h1m-1 3h1m-1 2h1m-1 3h1m-1 1h1m-1 5h1m-1 1h1m-1 1h1m-1 4h1m-1 13h1m-1 3h1m-1 1h1m-1 1h1m-1 14h1m-1 11h1m-1 5h1m-1 2h1m-1 4h1m-1 1h1m-1 4h1m-1 5h1m-1 1h1m-1 7h1m-1 3h1m-1 4h1m-1 2h1m-1 7h1m-1 2h1m-1 4h1m-1 2h1m-1 8h1m-1 7h1m-1 7h1m-1 1h1m-1 4h1m-1 11h1m-1 6h1m-1 1h1m-1 5h1m-1 1h1m-1 1h1m-1 7h1m0-232h1m-1 3h1m-1 2h1m-1 3h1m-1 4h1m-1 6h1m-1 5h1m-1 10h1m-1 2h1m-1 6h1m-1 1h1m-1 2h1m-1 2h1m-1 5h1m-1 5h1m-1 2h1m-1 3h1m-1 4h1m-1 6h1m-1 1h1m-1 9h1m-1 8h1m-1 1h1m-1 3h1m-1 2h1m-1 8h1m-1 13h1m-1 3h1m-1 2h1m-1 1h1m-1 1h1m-1 1h1m-1 8h1m-1 3h1m-1 1h1m-1 1h1m-1 3h1m-1 4h1m-1 11h1m-1 1h1m-1 4h1m-1 2h1m-1 1h1m-1 2h1m-1 5h1m-1 2h1m-1 1h1m-1 1h1m-1 1h1m-1 15h1m-1 4h1m-1 1h1m-1 1h1m-1 9h1m-1 3h1m-1 2h1m-1 7h1m-1 1h1m-1 4h1m-1 1h1m-1 6h1m-1 1h1m0-228h1m-1 2h1m-1 1h1m-1 11h1m-1 8h1m-1 8h1m-1 1h1m-1 10h1m-1 2h1m-1 5h1m-1 1h1m-1 18h1m-1 2h1m-1 1h1m-1 1h1m-1 1h1m-1 6h1m-1 6h1m-1 4h1m-1 4h1m-1 1h1m-1 3h1m-1 4h1m-1 5h1m-1 1h1m-1 9h1m-1 23h1m-1 1h1m-1 3h1m-1 8h1m-1 2h1m-1 5h1m-1 2h1m-1 4h1m-1 1h1m-1 1h1m-1 2h1m-1 4h1m-1 1h1m-1 5h1m-1 2h1m-1 1h1m-1 1h1m-1 1h1m-1 5h1m-1 3h1m-1 1h1m-1 2h1m-1 4h1m-1 1h1m-1 1h1m-1 1h1m-1 1h1m-1 13h1m-1 2h1m-1 1h1m-1 3h1m-1 1h1m-1 1h1m-1 1h1m-1 11h1m0-237h1m-1 2h1m-1 5h1m-1 4h1m-1 3h1m-1 6h1m-1 3h1m-1 9h1m-1 4h1m-1 1h1m-1 10h1m-1 1h1m-1 9h1m-1 1h1m-1 5h1m-1 13h1m-1 14h1m-1 11h1m-1 3h1m-1 2h1m-1 3h1m-1 2h1m-1 1h1m-1 1h1m-1 3h1m-1 6h1m-1 1h1m-1 3h1m-1 4h1m-1 1h1m-1 3h1m-1 19h1m-1 1h1m-1 1h1m-1 9h1m-1 5h1m-1 3h1m-1 1h1m-1 1h1m-1 2h1m-1 1h1m-1 4h1m-1 1h1m-1 5h1m-1 1h1m-1 4h1m-1 5h1m-1 1h1m-1 1h1m-1 2h1m-1 1h1m-1 5h1m-1 3h1m-1 4h1m-1 1h1m-1 4h1m-1 9h1m-1 4h1m-1 4h1m0-236h1m-1 3h1m-1 6h1m-1 3h1m-1 5h1m-1 1h1m-1 7h1m-1 2h1m-1 4h1m-1 6h1m-1 6h1m-1 6h1m-1 12h1m-1 4h1m-1 5h1m-1 15h1m-1 1h1m-1 1h1m-1 5h1m-1 4h1m-1 9h1m-1 8h1m-1 1h1m-1 4h1m-1 1h1m-1 1h1m-1 3h1m-1 6h1m-1 4h1m-1 1h1m-1 1h1m-1 3h1m-1 6h1m-1 7h1m-1 7h1m-1 5h1m-1 1h1m-1 7h1m-1 1h1m-1 2h1m-1 4h1m-1 5h1m-1 2h1m-1 1h1m-1 2h1m-1 1h1m-1 2h1m-1 1h1m-1 11h1m-1 2h1m-1 2h1m-1 5h1m-1 10h1m-1 4h1m-1 1h1m-1 1h1m-1 1h1m-1 5h1m0-235h1m-1 1h1m-1 2h1m-1 2h1m-1 1h1m-1 7h1m-1 7h1m-1 1h1m-1 5h1m-1 3h1m-1 6h1m-1 1h1m-1 4h1m-1 1h1m-1 1h1m-1 1h1m-1 1h1m-1 6h1m-1 4h1m-1 1h1m-1 1h1m-1 3h1m-1 1h1m-1 12h1m-1 6h1m-1 5h1m-1 9h1m-1 2h1m-1 1h1m-1 4h1m-1 3h1m-1 1h1m-1 3h1m-1 1h1m-1 10h1m-1 4h1m-1 1h1m-1 2h1m-1 1h1m-1 1h1m-1 4h1m-1 6h1m-1 4h1m-1 4h1m-1 14h1m-1 10h1m-1 5h1m-1 1h1m-1 2h1m-1 1h1m-1 1h1m-1 3h1m-1 5h1m-1 5h1m-1 2h1m-1 2h1m-1 8h1m-1 4h1m-1 1h1m-1 3h1m-1 10h1m-1 2h1m-1 14h1m0-238h1m-1 4h1m-1 2h1m-1 3h1m-1 4h1m-1 16h1m-1 2h1m-1 4h1m-1 4h1m-1 5h1m-1 1h1m-1 1h1m-1 5h1m-1 5h1m-1 1h1m-1 1h1m-1 10h1m-1 2h1m-1 2h1m-1 10h1m-1 7h1m-1 1h1m-1 10h1m-1 5h1m-1 7h1m-1 3h1m-1 3h1m-1 1h1m-1 9h1m-1 1h1m-1 4h1m-1 2h1m-1 4h1m-1 5h1m-1 1h1m-1 2h1m-1 1h1m-1 2h1m-1 2h1m-1 4h1m-1 6h1m-1 1h1m-1 3h1m-1 5h1m-1 17h1m-1 7h1m-1 4h1m-1 1h1m-1 1h1m-1 3h1m-1 3h1m-1 5h1m-1 1h1m-1 13h1m-1 1h1m-1 1h1m-1 3h1m-1 2h1m-1 2h1m0-233h1m-1 12h1m-1 2h1m-1 5h1m-1 2h1m-1 6h1m-1 6h1m-1 3h1m-1 2h1m-1 1h1m-1 5h1m-1 2h1m-1 2h1m-1 1h1m-1 3h1m-1 26h1m-1 2h1m-1 6h1m-1 1h1m-1 4h1m-1 1h1m-1 5h1m-1 9h1m-1 3h1m-1 1h1m-1 7h1m-1 2h1m-1 3h1m-1 3h1m-1 1h1m-1 3h1m-1 19h1m-1 7h1m-1 1h1m-1 7h1m-1 1h1m-1 1h1m-1 7h1m-1 1h1m-1 1h1m-1 4h1m-1 4h1m-1 5h1m-1 8h1m-1 16h1m-1 8h1m-1 4h1m-1 6h1m-1 5h1m-1 1h1m0-237h1m-1 5h1m-1 7h1m-1 1h1m-1 3h1m-1 1h1m-1 3h1m-1 3h1m-1 7h1m-1 1h1m-1 1h1m-1 1h1m-1 2h1m-1 2h1m-1 2h1m-1 4h1m-1 1h1m-1 1h1m-1 1h1m-1 5h1m-1 4h1m-1 3h1m-1 1h1m-1 10h1m-1 2h1m-1 8h1m-1 3h1m-1 1h1m-1 5h1m-1 15h1m-1 3h1m-1 3h1m-1 3h1m-1 5h1m-1 11h1m-1 1h1m-1 1h1m-1 1h1m-1 2h1m-1 6h1m-1 24h1m-1 8h1m-1 1h1m-1 11h1m-1 1h1m-1 15h1m-1 3h1m-1 1h1m-1 1h1m-1 2h1m-1 6h1m-1 3h1m-1 5h1m-1 6h1m-1 2h1m-1 7h1m-1 1h1m0-235h1m-1 1h1m-1 1h1m-1 2h1m-1 1h1m-1 1h1m-1 2h1m-1 1h1m-1 3h1m-1 1h1m-1 3h1m-1 3h1m-1 2h1m-1 1h1m-1 3h1m-1 1h1m-1 1h1m-1 7h1m-1 1h1m-1 3h1m-1 2h1m-1 1h1m-1 2h1m-1 1h1m-1 1h1m-1 7h1m-1 8h1m-1 7h1m-1 1h1m-1 3h1m-1 3h1m-1 7h1m-1 9h1m-1 3h1m-1 8h1m-1 7h1m-1 12h1m-1 2h1m-1 6h1m-1 5h1m-1 6h1m-1 5h1m-1 2h1m-1 1h1m-1 2h1m-1 1h1m-1 8h1m-1 4h1m-1 3h1m-1 1h1m-1 1h1m-1 5h1m-1 7h1m-1 6h1m-1 1h1m-1 8h1m-1 6h1m-1 2h1m-1 7h1m-1 13h1m-1 1h1m-1 3h1m-1 3h1m-1 1h1m-1 3h1m0-233h1m-1 4h1m-1 1h1m-1 4h1m-1 1h1m-1 1h1m-1 2h1m-1 2h1m-1 1h1m-1 2h1m-1 2h1m-1 2h1m-1 1h1m-1 1h1m-1 1h1m-1 3h1m-1 6h1m-1 4h1m-1 15h1m-1 3h1m-1 1h1m-1 4h1m-1 1h1m-1 18h1m-1 1h1m-1 1h1m-1 15h1m-1 4h1m-1 6h1m-1 2h1m-1 4h1m-1 9h1m-1 3h1m-1 8h1m-1 11h1m-1 1h1m-1 10h1m-1 8h1m-1 1h1m-1 4h1m-1 1h1m-1 1h1m-1 3h1m-1 3h1m-1 3h1m-1 3h1m-1 5h1m-1 1h1m-1 6h1m-1 3h1m-1 4h1m-1 14h1m-1 7h1m-1 4h1m-1 11h1m0-234h1m-1 1h1m-1 2h1m-1 6h1m-1 4h1m-1 3h1m-1 8h1m-1 3h1m-1 1h1m-1 1h1m-1 1h1m-1 1h1m-1 13h1m-1 8h1m-1 1h1m-1 7h1m-1 1h1m-1 1h1m-1 6h1m-1 3h1m-1 1h1m-1 1h1m-1 3h1m-1 2h1m-1 1h1m-1 7h1m-1 15h1m-1 2h1m-1 8h1m-1 2h1m-1 6h1m-1 8h1m-1 2h1m-1 1h1m-1 1h1m-1 13h1m-1 1h1m-1 1h1m-1 6h1m-1 2h1m-1 5h1m-1 1h1m-1 1h1m-1 1h1m-1 2h1m-1 4h1m-1 1h1m-1 2h1m-1 4h1m-1 12h1m-1 5h1m-1 9h1m-1 3h1m-1 5h1m-1 2h1m-1 1h1m-1 8h1m-1 5h1m-1 4h1m-1 1h1m-1 5h1m0-232h1m-1 8h1m-1 3h1m-1 6h1m-1 1h1m-1 23h1m-1 10h1m-1 12h1m-1 17h1m-1 1h1m-1 57h1m-1 4h1m-1 7h1m-1 5h1m-1 52h1m-1 23h1m-1 3h1m0-232h1m-1 15h1m-1 28h1m-1 4h1m-1 5h1m-1 6h1m-1 11h1m-1 1h1m-1 2h1m-1 22h1m-1 9h1m-1 13h1m-1 7h1m-1 1h1m-1 1h1m-1 10h1m-1 2h1m-1 6h1m-1 1h1m-1 18h1m-1 1h1m-1 1h1m-1 17h1m-1 8h1m-1 4h1m-1 1h1m-1 10h1m-1 6h1m-1 2h1m-1 41h1m0-243h1m-1 13h1m-1 7h1m-1 9h1m-1 42h1m-1 4h1m-1 24h1m-1 1h1m-1 2h1m-1 8h1m-1 8h1m-1 15h1m-1 1h1m-1 5h1m-1 1h1m-1 14h1m-1 3h1m-1 7h1m-1 6h1m-1 6h1m-1 1h1m-1 6h1m-1 1h1m0-197h1m-1 3h1m-1 2h1m-1 8h1m-1 7h1m-1 8h1m-1 2h1m-1 11h1m-1 2h1m-1 4h1m-1 1h1m-1 4h1m-1 5h1m-1 7h1m-1 10h1m-1 1h1m-1 32h1m-1 2h1m-1 13h1m-1 10h1m-1 13h1m-1 4h1m-1 17h1m-1 10h1m-1 10h1m-1 6h1m-1 6h1m-1 55h1m0-223h1m-1 2h1m-1 9h1m-1 7h1m-1 26h1m-1 17h1m-1 2h1m-1 2h1m-1 1h1m-1 1h1m-1 42h1m-1 2h1m-1 17h1m-1 3h1m-1 33h1m-1 1h1m-1 1h1m-1 24h1m-1 1h1m-1 4h1m0-225h1m-1 26h1m-1 1h1m-1 12h1m-1 3h1m-1 2h1m-1 2h1m-1 3h1m-1 10h1m-1 32h1m-1 4h1m-1 27h1m-1 11h1m-1 5h1m-1 1h1m-1 22h1m-1 7h1m-1 17h1m-1 2h1m-1 14h1m-1 5h1m-1 9h1m-1 1h1m-1 1h1m-1 22h1m0-210h1m-1 18h1m-1 25h1m-1 1h1m-1 25h1m-1 1h1m-1 17h1m-1 25h1m-1 1h1m-1 65h1m-1 2h1m-1 20h1m-1 1h1m0-233h1m-1 18h1m-1 9h1m-1 1h1m-1 19h1m-1 6h1m-1 28h1m-1 6h1m-1 1h1m-1 9h1m-1 1h1m-1 6h1m-1 1h1m-1 2h1m-1 12h1m-1 1h1m-1 17h1m-1 15h1m-1 4h1m-1 15h1m-1 6h1m-1 6h1m-1 9h1m-1 40h1m-1 8h1m-1 6h1m0-197h1m-1 7h1m-1 6h1m-1 20h1m-1 8h1m-1 5h1m-1 25h1m-1 1h1m-1 19h1m-1 4h1m-1 1h1m-1 6h1m-1 32h1m-1 4h1m-1 15h1m-1 1h1m-1 65h1m-1 1h1m1-265h1m-1 28h1m-1 8h1m-1 6h1m-1 4h1m-1 1h1m-1 43h1m-1 6h1m-1 14h1m-1 6h1m-1 13h1m-1 11h1m-1 3h1m-1 1h1m-1 1h1m-1 2h1m-1 26h1m-1 15h1m-1 12h1m-1 5h1m-1 21h1m-1 15h1m0-226h1m-1 6h1m-1 15h1m-1 7h1m-1 10h1m-1 1h1m-1 1h1m-1 28h1m-1 10h1m-1 15h1m-1 1h1m-1 14h1m-1 10h1m-1 3h1m-1 28h1m-1 33h1m-1 2h1m-1 1h1m-1 7h1m0-182h1m-1 1h1m-1 15h1m-1 7h1m-1 24h1m-1 13h1m-1 1h1m-1 18h1m-1 14h1m-1 13h1m-1 4h1m-1 18h1m-1 8h1m-1 8h1m-1 36h1m-1 11h1m-1 10h1m0-216h1m-1 14h1m-1 20h1m-1 1h1m-1 5h1m-1 3h1m-1 14h1m-1 12h1m-1 3h1m-1 28h1m-1 2h1m-1 7h1m-1 13h1m-1 27h1m-1 15h1m-1 3h1m0-173h1m-1 5h1m-1 10h1m-1 38h1m-1 8h1m-1 12h1m-1 41h1m-1 5h1m-1 8h1m-1 9h1m-1 1h1m-1 30h1m-1 1h1m-1 1h1m-1 5h1m-1 13h1m-1 1h1m-1 25h1m-1 5h1m-1 2h1m-1 1h1m-1 3h1m-1 1h1m-1 1h1m-1 5h1m-1 35h1m0-257h1m-1 2h1m-1 1h1m-1 15h1m-1 15h1m-1 1h1m-1 4h1m-1 1h1m-1 44h1m-1 32h1m-1 7h1m-1 4h1m-1 1h1m-1 1h1m-1 2h1m-1 1h1m-1 4h1m-1 17h1m-1 5h1m-1 20h1m-1 6h1m-1 14h1m-1 2h1m-1 19h1m-1 12h1m-1 5h1m1-235h1m-1 11h1m-1 5h1m-1 13h1m-1 1h1m-1 6h1m-1 6h1m-1 2h1m-1 14h1m-1 17h1m-1 1h1m-1 1h1m-1 20h1m-1 18h1m-1 18h1m-1 7h1m-1 13h1m-1 1h1m-1 1h1m-1 7h1m-1 1h1m-1 2h1m-1 8h1m-1 8h1m-1 7h1m-1 5h1m-1 14h1m0-193h1m-1 8h1m-1 8h1m-1 12h1m-1 6h1m-1 24h1m-1 14h1m-1 25h1m-1 15h1m-1 2h1m-1 1h1m-1 3h1m-1 13h1m-1 15h1m-1 24h1m-1 1h1m-1 22h1m-1 5h1m-1 2h1m-1 30h1m0-237h1m-1 17h1m-1 10h1m-1 4h1m-1 2h1m-1 1h1m-1 31h1m-1 13h1m-1 8h1m-1 16h1m-1 11h1m-1 4h1m-1 9h1m-1 1h1m-1 14h1m-1 59h1m-1 7h1m-1 26h1m-1 17h1m-1 1h1" stroke="#f0acae"/>
<path d="M0 0.5h1m-1 3h1m-1 1h1m-1 4h1m-1 4h1m-1 8h1m-1 1h1m-1 1h1m-1 7h1m-1 1h1m-1 1h1m-1 8h1m-1 3h1m-1 1h1m-1 3h1m-1 3h1m-1 7h1m-1 1h1m-1 5h1m-1 5h1m-1 6h1m-1 8h1m-1 2h1m-1 1h1m-1 1h1m-1 11h1m-1 1h1m-1 2h1m-1 1h1m-1 2h1m-1 8h1m-1 3h1m-1 10h1m-1 3h1m-1 3h1m-1 1h1m-1 6h1m-1 5h1m-1 9h1m-1 1h1m-1 4h1m-1 6h1m-1 1h1m-1 9h1m-1 10h1m-1 3h1m-1 2h1m-1 1h1m-1 1h1m-1 1h1m-1 1h1m-1 6h1m-1 3h1m-1 4h1m-1 3h1m-1 1h1m-1 3h1m-1 11h1m-1 1h1m-1 8h1m-1 2h1m-1 1h1m-1 2h1m-1 4h1m0-234h1m-1 1h1m-1 2h1m-1 9h1m-1 2h1m-1 2h1m-1 4h1m-1 1h1m-1 2h1m-1 2h1m-1 3h1m-1 2h1m-1 2h1m-1 1h1m-1 1h1m-1 8h1m-1 3h1m-1 7h1m-1 1h1m-1 6h1m-1 17h1m-1 5h1m-1 1h1m-1 5h1m-1 3h1m-1 7h1m-1 1h1m-1 6h1m-1 3h1m-1 5h1m-1 1h1m-1 1h1m-1 5h1m-1 1h1m-1 1h1m-1 1h1m-1 4h1m-1 9h1m-1 2h1m-1 4h1m-1 2h1m-1 5h1m-1 4h1m-1 3h1m-1 2h1m-1 1h1m-1 1h1m-1 1h1m-1 5h1m-1 1h1m-1 1h1m-1 4h1m-1 2h1m-1 1h1m-1 2h1m-1 15h1m-1 10h1m-1 2h1m-1 2h1m-1 1h1m-1 11h1m-1 1h1m-1 10h1m0-233h1m-1 11h1m-1 1h1m-1 4h1m-1 7h1m-1 3h1m-1 4h1m-1 3h1m-1 1h1m-1 2h1m-1 1h1m-1 5h1m-1 1h1m-1 9h1m-1 1h1m-1 5h1m-1 1h1m-1 2h1m-1 1h1m-1 7h1m-1 28h1m-1 7h1m-1 4h1m-1 7h1m-1 1h1m-1 26h1m-1 2h1m-1 1h1m-1 2h1m-1 7h1m-1 9h1m-1 19h1m-1 1h1m-1 7h1m-1 3h1m-1 1h1m-1 1h1m-1 5h1m-1 1h1m-1 10h1m-1 1h1m-1 4h1m-1 5h1m-1 1h1m-1 1h1m-1 1h1m-1 6h1m-1 5h1m-1 4h1m0-238h1m-1 1h1m-1 1h1m-1 1h1m-1 6h1m-1 1h1m-1 4h1m-1 12h1m-1 1h1m-1 1h1m-1 6h1m-1 5h1m-1 1h1m-1 6h1m-1 3h1m-1 1h1m-1 29h1m-1 7h1m-1 6h1m-1 1h1m-1 6h1m-1 2h1m-1 1h1m-1 1h1m-1 3h1m-1 5h1m-1 4h1m-1 1h1m-1 3h1m-1 2h1m-1 1h1m-1 4h1m-1 5h1m-1 1h1m-1 4h1m-1 5h1m-1 1h1m-1 15h1m-1 7h1m-1 15h1m-1 1h1m-1 3h1m-1 10h1m-1 4h1m-1 2h1m-1 1h1m-1 1h1m-1 1h1m-1 9h1m-1 4h1m-1 5h1m-1 2h1m-1 1h1m-1 3h1m-1 1h1m-1 2h1m-1 2h1m-1 1h1m-1 2h1m-1 1h1m0-234h1m-1 2h1m-1 1h1m-1 3h1m-1 6h1m-1 2h1m-1 2h1m-1 5h1m-1 3h1m-1 7h1m-1 3h1m-1 8h1m-1 4h1m-1 12h1m-1 4h1m-1 5h1m-1 1h1m-1 6h1m-1 3h1m-1 17h1m-1 8h1m-1 1h1m-1 6h1m-1 4h1m-1 1h1m-1 1h1m-1 11h1m-1 2h1m-1 4h1m-1 1h1m-1 2h1m-1 1h1m-1 6h1m-1 4h1m-1 1h1m-1 1h1m-1 2h1m-1 3h1m-1 14h1m-1 10h1m-1 10h1m-1 15h1m-1 5h1m-1 1h1m-1 1h1m-1 11h1m-1 3h1m-1 2h1m-1 7h1m-1 3h1m0-237h1m-1 6h1m-1 2h1m-1 1h1m-1 1h1m-1 3h1m-1 2h1m-1 1h1m-1 3h1m-1 7h1m-1 10h1m-1 2h1m-1 1h1m-1 16h1m-1 1h1m-1 1h1m-1 2h1m-1 5h1m-1 3h1m-1 3h1m-1 4h1m-1 2h1m-1 2h1m-1 25h1m-1 1h1m-1 4h1m-1 5h1m-1 17h1m-1 1h1m-1 9h1m-1 9h1m-1 1h1m-1 1h1m-1 2h1m-1 1h1m-1 1h1m-1 1h1m-1 5h1m-1 4h1m-1 1h1m-1 5h1m-1 6h1m-1 5h1m-1 13h1m-1 3h1m-1 1h1m-1 1h1m-1 1h1m-1 1h1m-1 3h1m-1 1h1m-1 8h1m-1 2h1m-1 1h1m-1 1h1m-1 2h1m-1 3h1m-1 1h1m-1 3h1m-1 7h1m-1 4h1m0-236h1m-1 1h1m-1 3h1m-1 4h1m-1 3h1m-1 1h1m-1 13h1m-1 5h1m-1 1h1m-1 9h1m-1 5h1m-1 1h1m-1 7h1m-1 1h1m-1 2h1m-1 1h1m-1 2h1m-1 1h1m-1 1h1m-1 5h1m-1 1h1m-1 3h1m-1 1h1m-1 1h1m-1 6h1m-1 17h1m-1 1h1m-1 1h1m-1 12h1m-1 2h1m-1 3h1m-1 10h1m-1 5h1m-1 1h1m-1 6h1m-1 8h1m-1 1h1m-1 1h1m-1 1h1m-1 1h1m-1 4h1m-1 4h1m-1 3h1m-1 1h1m-1 1h1m-1 12h1m-1 3h1m-1 10h1m-1 1h1m-1 2h1m-1 12h1m-1 9h1m-1 1h1m-1 2h1m-1 9h1m-1 14h1m0-229h1m-1 1h1m-1 1h1m-1 2h1m-1 5h1m-1 10h1m-1 1h1m-1 4h1m-1 1h1m-1 7h1m-1 4h1m-1 1h1m-1 1h1m-1 7h1m-1 3h1m-1 2h1m-1 3h1m-1 10h1m-1 6h1m-1 3h1m-1 1h1m-1 2h1m-1 1h1m-1 2h1m-1 1h1m-1 4h1m-1 13h1m-1 1h1m-1 1h1m-1 6h1m-1 10h1m-1 5h1m-1 9h1m-1 12h1m-1 3h1m-1 1h1m-1 6h1m-1 1h1m-1 2h1m-1 3h1m-1 1h1m-1 3h1m-1 7h1m-1 3h1m-1 2h1m-1 9h1m-1 1h1m-1 3h1m-1 2h1m-1 2h1m-1 4h1m-1 10h1m-1 1h1m-1 7h1m-1 4h1m-1 4h1m-1 4h1m-1 7h1m0-236h1m-1 2h1m-1 4h1m-1 6h1m-1 1h1m-1 4h1m-1 1h1m-1 16h1m-1 4h1m-1 3h1m-1 3h1m-1 3h1m-1 3h1m-1 9h1m-1 9h1m-1 6h1m-1 1h1m-1 5h1m-1 12h1m-1 10h1m-1 1h1m-1 2h1m-1 1h1m-1 1h1m-1 1h1m-1 2h1m-1 3h1m-1 1h1m-1 12h1m-1 2h1m-1 1h1m-1 8h1m-1 1h1m-1 2h1m-1 3h1m-1 1h1m-1 1h1m-1 1h1m-1 2h1m-1 2h1m-1 18h1m-1 9h1m-1 1h1m-1 1h1m-1 6h1m-1 8h1m-1 6h1m-1 5h1m-1 4h1m-1 6h1m-1 1h1m-1 13h1m-1 1h1m-1 1h1m-1 3h1m0-232h1m-1 1h1m-1 2h1m-1 7h1m-1 3h1m-1 11h1m-1 3h1m-1 1h1m-1 1h1m-1 6h1m-1 2h1m-1 1h1m-1 1h1m-1 10h1m-1 2h1m-1 2h1m-1 12h1m-1 1h1m-1 1h1m-1 1h1m-1 1h1m-1 3h1m-1 2h1m-1 2h1m-1 1h1m-1 2h1m-1 3h1m-1 1h1m-1 1h1m-1 1h1m-1 5h1m-1 1h1m-1 2h1m-1 5h1m-1 7h1m-1 2h1m-1 3h1m-1 1h1m-1 1h1m-1 1h1m-1 20h1m-1 5h1m-1 2h1m-1 1h1m-1 3h1m-1 4h1m-1 1h1m-1 2h1m-1 7h1m-1 2h1m-1 3h1m-1 12h1m-1 9h1m-1 2h1m-1 2h1m-1 4h1m-1 6h1m-1 8h1m-1 2h1m-1 15h1m-1 2h1m-1 1h1m-1 4h1m-1 1h1m-1 2h1m-1 1h1m0-220h1m-1 5h1m-1 1h1m-1 2h1m-1 4h1m-1 4h1m-1 8h1m-1 5h1m-1 5h1m-1 5h1m-1 1h1m-1 2h1m-1 8h1m-1 1h1m-1 1h1m-1 1h1m-1 8h1m-1 2h1m-1 1h1m-1 2h1m-1 2h1m-1 1h1m-1 1h1m-1 3h1m-1 3h1m-1 9h1m-1 1h1m-1 2h1m-1 1h1m-1 6h1m-1 5h1m-1 1h1m-1 3h1m-1 1h1m-1 2h1m-1 2h1m-1 1h1m-1 10h1m-1 2h1m-1 1h1m-1 1h1m-1 3h1m-1 6h1m-1 1h1m-1 1h1m-1 3h1m-1 3h1m-1 8h1m-1 21h1m-1 6h1m-1 6h1m-1 7h1m-1 2h1m-1 2h1m-1 6h1m-1 3h1m-1 9h1m-1 1h1m-1 1h1m0-226h1m-1 3h1m-1 4h1m-1 2h1m-1 1h1m-1 2h1m-1 1h1m-1 5h1m-1 1h1m-1 2h1m-1 6h1m-1 5h1m-1 5h1m-1 3h1m-1 2h1m-1 1h1m-1 3h1m-1 1h1m-1 1h1m-1 1h1m-1 2h1m-1 14h1m-1 9h1m-1 4h1m-1 17h1m-1 7h1m-1 9h1m-1 1h1m-1 2h1m-1 2h1m-1 2h1m-1 6h1m-1 1h1m-1 1h1m-1 3h1m-1 4h1m-1 1h1m-1 1h1m-1 2h1m-1 2h1m-1 1h1m-1 1h1m-1 2h1m-1 1h1m-1 5h1m-1 6h1m-1 1h1m-1 6h1m-1 6h1m-1 4h1m-1 4h1m-1 1h1m-1 3h1m-1 6h1m-1 6h1m-1 5h1m-1 6h1m-1 5h1m-1 1h1m-1 5h1m-1 4h1m-1 1h1m-1 3h1m-1 2h1m-1 6h1m0-231h1m-1 3h1m-1 2h1m-1 1h1m-1 5h1m-1 3h1m-1 3h1m-1 1h1m-1 1h1m-1 1h1m-1 1h1m-1 3h1m-1 7h1m-1 2h1m-1 3h1m-1 1h1m-1 5h1m-1 1h1m-1 1h1m-1 1h1m-1 1h1m-1 3h1m-1 1h1m-1 1h1m-1 5h1m-1 1h1m-1 1h1m-1 2h1m-1 4h1m-1 2h1m-1 3h1m-1 4h1m-1 1h1m-1 2h1m-1 5h1m-1 14h1m-1 9h1m-1 1h1m-1 3h1m-1 5h1m-1 6h1m-1 9h1m-1 1h1m-1 9h1m-1 8h1m-1 5h1m-1 1h1m-1 1h1m-1 2h1m-1 2h1m-1 14h1m-1 2h1m-1 1h1m-1 3h1m-1 1h1m-1 1h1m-1 6h1m-1 15h1m-1 12h1m-1 1h1m-1 3h1m-1 1h1m-1 1h1m-1 1h1m-1 12h1m-1 4h1m0-228h1m-1 1h1m-1 1h1m-1 4h1m-1 2h1m-1 7h1m-1 3h1m-1 9h1m-1 8h1m-1 6h1m-1 15h1m-1 2h1m-1 3h1m-1 2h1m-1 13h1m-1 4h1m-1 1h1m-1 2h1m-1 7h1m-1 9h1m-1 3h1m-1 1h1m-1 5h1m-1 1h1m-1 8h1m-1 6h1m-1 1h1m-1 1h1m-1 7h1m-1 1h1m-1 2h1m-1 2h1m-1 8h1m-1 5h1m-1 9h1m-1 1h1m-1 5h1m-1 9h1m-1 6h1m-1 4h1m-1 7h1m-1 1h1m-1 4h1m-1 3h1m-1 3h1m-1 4h1m-1 1h1m-1 5h1m-1 2h1m-1 1h1m-1 4h1m-1 2h1m0-225h1m-1 4h1m-1 1h1m-1 2h1m-1 2h1m-1 4h1m-1 7h1m-1 6h1m-1 1h1m-1 2h1m-1 7h1m-1 6h1m-1 6h1m-1 4h1m-1 5h1m-1 2h1m-1 3h1m-1 2h1m-1 15h1m-1 6h1m-1 5h1m-1 1h1m-1 5h1m-1 1h1m-1 10h1m-1 3h1m-1 3h1m-1 2h1m-1 3h1m-1 9h1m-1 2h1m-1 4h1m-1 3h1m-1 10h1m-1 7h1m-1 1h1m-1 3h1m-1 4h1m-1 6h1m-1 1h1m-1 2h1m-1 1h1m-1 1h1m-1 8h1m-1 6h1m-1 1h1m-1 2h1m-1 1h1m-1 8h1m-1 1h1m-1 3h1m-1 1h1m-1 4h1m-1 8h1m-1 2h1m-1 5h1m-1 3h1m-1 5h1m-1 1h1m0-238h1m-1 3h1m-1 1h1m-1 8h1m-1 3h1m-1 2h1m-1 5h1m-1 2h1m-1 1h1m-1 1h1m-1 1h1m-1 7h1m-1 21h1m-1 3h1m-1 2h1m-1 1h1m-1 1h1m-1 1h1m-1 2h1m-1 1h1m-1 1h1m-1 1h1m-1 2h1m-1 2h1m-1 3h1m-1 1h1m-1 1h1m-1 2h1m-1 4h1m-1 2h1m-1 1h1m-1 4h1m-1 1h1m-1 4h1m-1 2h1m-1 4h1m-1 1h1m-1 11h1m-1 2h1m-1 2h1m-1 1h1m-1 2h1m-1 5h1m-1 5h1m-1 4h1m-1 4h1m-1 1h1m-1 1h1m-1 4h1m-1 4h1m-1 12h1m-1 3h1m-1 6h1m-1 4h1m-1 4h1m-1 8h1m-1 6h1m-1 2h1m-1 1h1m-1 1h1m-1 3h1m-1 4h1m-1 6h1m-1 8h1m-1 4h1m-1 4h1m-1 4h1m-1 2h1m-1 3h1m-1 2h1m0-229h1m-1 1h1m-1 1h1m-1 1h1m-1 1h1m-1 1h1m-1 7h1m-1 1h1m-1 2h1m-1 1h1m-1 2h1m-1 1h1m-1 4h1m-1 18h1m-1 3h1m-1 10h1m-1 1h1m-1 1h1m-1 3h1m-1 8h1m-1 4h1m-1 1h1m-1 2h1m-1 4h1m-1 3h1m-1 2h1m-1 15h1m-1 1h1m-1 2h1m-1 18h1m-1 1h1m-1 10h1m-1 2h1m-1 3h1m-1 1h1m-1 1h1m-1 1h1m-1 5h1m-1 5h1m-1 11h1m-1 2h1m-1 1h1m-1 1h1m-1 1h1m-1 5h1m-1 13h1m-1 19h1m-1 3h1m-1 3h1m-1 4h1m-1 1h1m-1 4h1m-1 7h1m-1 2h1m-1 1h1m-1 2h1m0-226h1m-1 4h1m-1 4h1m-1 2h1m-1 1h1m-1 2h1m-1 11h1m-1 2h1m-1 9h1m-1 6h1m-1 1h1m-1 1h1m-1 7h1m-1 1h1m-1 7h1m-1 5h1m-1 9h1m-1 3h1m-1 1h1m-1 11h1m-1 1h1m-1 1h1m-1 3h1m-1 1h1m-1 5h1m-1 1h1m-1 5h1m-1 1h1m-1 1h1m-1 18h1m-1 1h1m-1 5h1m-1 1h1m-1 2h1m-1 1h1m-1 14h1m-1 1h1m-1 8h1m-1 4h1m-1 1h1m-1 1h1m-1 1h1m-1 3h1m-1 6h1m-1 1h1m-1 1h1m-1 9h1m-1 4h1m-1 1h1m-1 2h1m-1 8h1m-1 5h1m-1 2h1m-1 11h1m-1 4h1m-1 4h1m-1 2h1m0-235h1m-1 8h1m-1 10h1m-1 4h1m-1 8h1m-1 3h1m-1 4h1m-1 1h1m-1 2h1m-1 2h1m-1 5h1m-1 1h1m-1 1h1m-1 6h1m-1 5h1m-1 7h1m-1 5h1m-1 5h1m-1 2h1m-1 5h1m-1 1h1m-1 1h1m-1 4h1m-1 1h1m-1 2h1m-1 3h1m-1 1h1m-1 7h1m-1 27h1m-1 1h1m-1 5h1m-1 1h1m-1 5h1m-1 8h1m-1 3h1m-1 14h1m-1 4h1m-1 3h1m-1 1h1m-1 5h1m-1 1h1m-1 3h1m-1 1h1m-1 5h1m-1 9h1m-1 7h1m-1 3h1m-1 5h1m-1 4h1m-1 1h1m-1 1h1m-1 4h1m-1 3h1m-1 1h1m-1 7h1m0-236h1m-1 3h1m-1 6h1m-1 3h1m-1 2h1m-1 5h1m-1 6h1m-1 2h1m-1 2h1m-1 7h1m-1 2h1m-1 1h1m-1 7h1m-1 4h1m-1 2h1m-1 1h1m-1 7h1m-1 18h1m-1 1h1m-1 2h1m-1 10h1m-1 5h1m-1 12h1m-1 4h1m-1 1h1m-1 1h1m-1 13h1m-1 9h1m-1 3h1m-1 1h1m-1 1h1m-1 1h1m-1 2h1m-1 1h1m-1 2h1m-1 5h1m-1 2h1m-1 3h1m-1 3h1m-1 1h1m-1 21h1m-1 21h1m-1 4h1m-1 7h1m-1 5h1m-1 2h1m-1 2h1m-1 2h1m-1 2h1m-1 1h1m0-216h1m-1 2h1m-1 39h1m-1 16h1m-1 2h1m-1 1h1m-1 1h1m-1 28h1m-1 1h1m-1 1h1m-1 1h1m-1 3h1m-1 10h1m-1 1h1m-1 1h1m-1 10h1m-1 11h1m-1 2h1m-1 4h1m-1 1h1m-1 1h1m-1 64h1m-1 3h1m-1 4h1m-1 11h1m-1 1h1m0-221h1m-1 1h1m-1 1h1m-1 22h1m-1 1h1m-1 4h1m-1 48h1m-1 1h1m-1 1h1m-1 4h1m-1 4h1m-1 32h1m-1 18h1m-1 14h1m-1 21h1m-1 13h1m-1 3h1m-1 26h1m-1 1h1m-1 12h1m-1 2h1m-1 3h1m-1 1h1m-1 19h1m0-252h1m-1 11h1m-1 1h1m-1 1h1m-1 4h1m-1 21h1m-1 2h1m-1 1h1m-1 4h1m-1 2h1m-1 16h1m-1 18h1m-1 12h1m-1 2h1m-1 15h1m-1 8h1m-1 5h1m-1 3h1m-1 27h1m-1 7h1m-1 20h1m-1 12h1m-1 16h1m-1 3h1m-1 2h1m-1 10h1m-1 1h1m-1 1h1m-1 5h1m-1 4h1m-1 7h1m-1 1h1m-1 4h1m-1 3h1m-1 11h1m0-265h1m-1 23h1m-1 7h1m-1 3h1m-1 19h1m-1 29h1m-1 4h1m-1 1h1m-1 10h1m-1 1h1m-1 21h1m-1 2h1m-1 3h1m-1 10h1m-1 13h1m-1 4h1m-1 4h1m-1 1h1m-1 14h1m-1 1h1m-1 6h1m-1 26h1m-1 11h1m-1 4h1m-1 1h1m-1 14h1m-1 1h1m-1 1h1m-1 2h1m-1 10h1m-1 15h1m-1 1h1m-1 1h1m-1 3h1m-1 2h1m-1 3h1m0-275h1m-1 8h1m-1 7h1m-1 34h1m-1 9h1m-1 7h1m-1 1h1m-1 26h1m-1 1h1m-1 4h1m-1 4h1m-1 4h1m-1 3h1m-1 1h1m-1 1h1m-1 5h1m-1 22h1m-1 9h1m-1 14h1m-1 2h1m-1 3h1m-1 14h1m-1 4h1m-1 13h1m-1 6h1m-1 18h1m-1 11h1m-1 4h1m-1 1h1m-1 13h1m-1 1h1m-1 4h1m-1 1h1m-1 3h1m-1 3h1m-1 1h1m-1 15h1m0-276h1m-1 3h1m-1 7h1m-1 1h1m-1 2h1m-1 26h1m-1 1h1m-1 15h1m-1 1h1m-1 11h1m-1 2h1m-1 12h1m-1 1h1m-1 3h1m-1 3h1m-1 42h1m-1 13h1m-1 1h1m-1 11h1m-1 4h1m-1 3h1m-1 15h1m-1 13h1m-1 3h1m-1 1h1m-1 2h1m-1 1h1m-1 32h1m-1 17h1m-1 15h1m-1 2h1m0-253h1m-1 15h1m-1 3h1m-1 13h1m-1 26h1m-1 35h1m-1 5h1m-1 1h1m-1 1h1m-1 3h1m-1 13h1m-1 10h1m-1 1h1m-1 10h1m-1 29h1m-1 2h1m-1 3h1m-1 10h1m-1 12h1m-1 15h1m-1 1h1m-1 3h1m-1 2h1m-1 1h1m-1 3h1m-1 12h1m-1 2h1m-1 1h1m-1 28h1m0-265h1m-1 11h1m-1 8h1m-1 1h1m-1 3h1m-1 1h1m-1 5h1m-1 3h1m-1 3h1m-1 20h1m-1 2h1m-1 12h1m-1 5h1m-1 19h1m-1 9h1m-1 9h1m-1 6h1m-1 1h1m-1 2h1m-1 8h1m-1 38h1m-1 9h1m-1 28h1m-1 7h1m-1 1h1m-1 1h1m-1 4h1m-1 13h1m-1 14h1m-1 4h1m-1 1h1m-1 1h1m-1 8h1m0-249h1m-1 16h1m-1 1h1m-1 1h1m-1 1h1m-1 1h1m-1 6h1m-1 1h1m-1 3h1m-1 14h1m-1 1h1m-1 4h1m-1 5h1m-1 3h1m-1 15h1m-1 8h1m-1 10h1m-1 26h1m-1 22h1m-1 8h1m-1 22h1m-1 9h1m-1 2h1m-1 51h1m-1 28h1m-1 1h1m-1 2h1m0-34h1m-1 10h1m0-245h1m-1 16h1m-1 5h1m-1 1h1m-1 48h1m-1 1h1m-1 5h1m-1 7h1m-1 2h1m-1 5h1m-1 1h1m-1 5h1m-1 3h1m-1 31h1m-1 1h1m-1 2h1m-1 13h1m-1 7h1m-1 3h1m-1 33h1m-1 3h1m-1 1h1m-1 18h1m-1 9h1m-1 9h1m-1 37h1m0-266h1m-1 1h1m-1 8h1m-1 1h1m-1 10h1m-1 17h1m-1 1h1m-1 25h1m-1 1h1m-1 8h1m-1 32h1m-1 1h1m-1 8h1m-1 4h1m-1 7h1m-1 5h1m-1 1h1m-1 21h1m-1 1h1m-1 1h1m-1 8h1m-1 6h1m-1 13h1m-1 14h1m-1 7h1m-1 1h1m-1 8h1m-1 7h1m-1 1h1m-1 6h1m-1 4h1m-1 1h1m-1 3h1m-1 14h1m-1 6h1m-1 8h1m-1 3h1m-1 2h1m0-260h1m-1 8h1m-1 1h1m-1 3h1m-1 1h1m-1 29h1m-1 16h1m-1 3h1m-1 11h1m-1 1h1m-1 2h1m-1 15h1m-1 1h1m-1 12h1m-1 13h1m-1 1h1m-1 6h1m-1 3h1m-1 24h1m-1 11h1m-1 4h1m-1 12h1m-1 13h1m-1 10h1m-1 13h1m-1 1h1m-1 17h1m-1 1h1m-1 9h1m-1 7h1m-1 1h1m-1 3h1m0-251h1m-1 17h1m-1 1h1m-1 28h1m-1 49h1m-1 10h1m-1 1h1m-1 17h1m-1 3h1m-1 2h1m-1 1h1m-1 4h1m-1 11h1m-1 1h1m-1 1h1m-1 34h1m-1 7h1m-1 8h1m-1 20h1m-1 14h1m0-227h1m-1 37h1m-1 8h1m-1 13h1m-1 2h1m-1 3h1m-1 1h1m-1 29h1m-1 8h1m-1 1h1m-1 3h1m-1 10h1m-1 4h1m-1 14h1m-1 1h1m-1 7h1m-1 23h1m-1 5h1m-1 19h1m-1 1h1m-1 1h1m-1 1h1m-1 6h1m-1 24h1m-1 25h1m-1 9h1m-1 4h1m0-270h1m-1 11h1m-1 17h1m-1 32h1m-1 2h1m-1 14h1m-1 28h1m-1 6h1m-1 15h1m-1 21h1m-1 1h1m-1 15h1m-1 3h1m-1 3h1m-1 6h1m-1 14h1m-1 19h1m-1 1h1m-1 1h1m-1 1h1m-1 11h1m-1 33h1m-1 4h1m0-19h1m-1 1h1m-1 10h1m-1 7h1m-1 2h1m-1 7h1m-1 2h1m0-272h1m-1 24h1m-1 6h1m-1 27h1m-1 10h1m-1 11h1m-1 1h1m-1 2h1m-1 3h1m-1 4h1m-1 9h1m-1 8h1m-1 1h1m-1 1h1m-1 6h1m-1 11h1m-1 18h1m-1 13h1m-1 39h1m-1 1h1m-1 13h1m-1 4h1m-1 8h1m-1 2h1m-1 2h1m-1 22h1m-1 20h1m-1 1h1m-1 3h1m0-270h1m-1 1h1m-1 3h1m-1 1h1m-1 23h1m-1 2h1m-1 11h1m-1 3h1m-1 7h1m-1 8h1m-1 8h1m-1 2h1m-1 5h1m-1 9h1m-1 1h1m-1 1h1m-1 11h1m-1 9h1m-1 8h1m-1 5h1m-1 12h1m-1 5h1m-1 7h1m-1 3h1m-1 23h1m-1 5h1m-1 13h1m-1 11h1m-1 4h1m-1 3h1m-1 6h1m-1 3h1m-1 4h1m-1 9h1m-1 5h1m-1 25h1m-1 10h1m0-262h1m-1 9h1m-1 8h1m-1 1h1m-1 23h1m-1 12h1m-1 9h1m-1 20h1m-1 5h1m-1 4h1m-1 4h1m-1 10h1m-1 4h1m-1 11h1m-1 15h1m-1 4h1m-1 1h1m-1 2h1m-1 11h1m-1 24h1m-1 1h1m-1 3h1m-1 3h1m-1 4h1m-1 1h1m-1 1h1m-1 5h1m-1 8h1m-1 33h1m-1 2h1m-1 18h1m-1 1h1m-1 3h1m-1 1h1m-1 1h1m-1 1h1m-1 3h1m-1 4h1" stroke="#ea888b"/>
<path d="M0 7.5h1m-1 2h1m-1 4h1m-1 10h1m-1 1h1m-1 17h1m-1 6h1m-1 1h1m-1 2h1m-1 1h1m-1 1h1m-1 3h1m-1 3h1m-1 11h1m-1 3h1m-1 3h1m-1 11h1m-1 2h1m-1 26h1m-1 8h1m-1 5h1m-1 12h1m-1 15h1m-1 37h1m-1 10h1m-1 10h1m-1 9h1m-1 7h1m-1 1h1m0-228h1m-1 2h1m-1 1h1m-1 1h1m-1 18h1m-1 1h1m-1 25h1m-1 11h1m-1 4h1m-1 20h1m-1 13h1m-1 1h1m-1 16h1m-1 15h1m-1 10h1m-1 23h1m-1 13h1m-1 16h1m-1 1h1m-1 9h1m-1 2h1m-1 1h1m-1 15h1m-1 2h1m-1 10h1m-1 1h1m-1 3h1m-1 1h1m0-222h1m-1 5h1m-1 27h1m-1 4h1m-1 6h1m-1 11h1m-1 18h1m-1 6h1m-1 4h1m-1 7h1m-1 1h1m-1 7h1m-1 10h1m-1 7h1m-1 1h1m-1 10h1m-1 1h1m-1 10h1m-1 20h1m-1 13h1m-1 5h1m-1 17h1m-1 31h1m-1 3h1m0-185h1m-1 7h1m-1 5h1m-1 1h1m-1 1h1m-1 6h1m-1 1h1m-1 2h1m-1 1h1m-1 5h1m-1 4h1m-1 1h1m-1 6h1m-1 9h1m-1 37h1m-1 6h1m-1 3h1m-1 1h1m-1 2h1m-1 6h1m-1 5h1m-1 1h1m-1 5h1m-1 1h1m-1 6h1m-1 1h1m-1 32h1m-1 1h1m-1 1h1m-1 1h1m-1 1h1m-1 7h1m-1 16h1m0-233h1m-1 12h1m-1 12h1m-1 21h1m-1 1h1m-1 9h1m-1 3h1m-1 22h1m-1 12h1m-1 8h1m-1 18h1m-1 24h1m-1 14h1m-1 7h1m-1 28h1m-1 20h1m-1 1h1m-1 1h1m-1 21h1m0-218h1m-1 1h1m-1 4h1m-1 5h1m-1 2h1m-1 1h1m-1 3h1m-1 1h1m-1 11h1m-1 5h1m-1 10h1m-1 1h1m-1 2h1m-1 9h1m-1 9h1m-1 5h1m-1 38h1m-1 1h1m-1 1h1m-1 2h1m-1 6h1m-1 3h1m-1 11h1m-1 12h1m-1 7h1m-1 2h1m-1 1h1m-1 16h1m-1 17h1m-1 1h1m-1 4h1m-1 4h1m-1 7h1m-1 3h1m-1 8h1m-1 5h1m0-228h1m-1 1h1m-1 12h1m-1 1h1m-1 9h1m-1 22h1m-1 1h1m-1 17h1m-1 11h1m-1 15h1m-1 7h1m-1 12h1m-1 8h1m-1 14h1m-1 2h1m-1 12h1m-1 16h1m-1 12h1m-1 2h1m-1 1h1m-1 5h1m-1 3h1m-1 27h1m-1 5h1m-1 1h1m-1 3h1m-1 2h1m-1 9h1m0-234h1m-1 11h1m-1 7h1m-1 1h1m-1 1h1m-1 29h1m-1 23h1m-1 1h1m-1 14h1m-1 1h1m-1 2h1m-1 5h1m-1 2h1m-1 1h1m-1 3h1m-1 5h1m-1 5h1m-1 2h1m-1 8h1m-1 1h1m-1 1h1m-1 4h1m-1 1h1m-1 8h1m-1 7h1m-1 1h1m-1 7h1m-1 13h1m-1 1h1m-1 4h1m-1 21h1m-1 10h1m-1 7h1m-1 1h1m-1 22h1m-1 2h1m-1 2h1m0-224h1m-1 5h1m-1 4h1m-1 1h1m-1 9h1m-1 1h1m-1 5h1m-1 4h1m-1 24h1m-1 4h1m-1 12h1m-1 8h1m-1 14h1m-1 22h1m-1 11h1m-1 5h1m-1 8h1m-1 7h1m-1 36h1m0-193h1m-1 18h1m-1 1h1m-1 4h1m-1 7h1m-1 20h1m-1 8h1m-1 4h1m-1 1h1m-1 14h1m-1 5h1m-1 23h1m-1 3h1m-1 2h1m-1 2h1m-1 1h1m-1 15h1m-1 1h1m-1 20h1m-1 7h1m-1 1h1m-1 15h1m-1 8h1m-1 5h1m-1 1h1m-1 1h1m-1 2h1m-1 5h1m-1 6h1m-1 7h1m0-191h1m-1 1h1m-1 20h1m-1 1h1m-1 11h1m-1 1h1m-1 5h1m-1 4h1m-1 4h1m-1 1h1m-1 16h1m-1 5h1m-1 7h1m-1 3h1m-1 1h1m-1 3h1m-1 1h1m-1 2h1m-1 13h1m-1 1h1m-1 1h1m-1 32h1m-1 1h1m-1 23h1m-1 1h1m-1 4h1m-1 34h1m-1 4h1m-1 17h1m-1 5h1m0-237h1m-1 10h1m-1 16h1m-1 1h1m-1 3h1m-1 9h1m-1 1h1m-1 17h1m-1 4h1m-1 1h1m-1 1h1m-1 32h1m-1 1h1m-1 4h1m-1 1h1m-1 3h1m-1 4h1m-1 3h1m-1 10h1m-1 4h1m-1 1h1m-1 10h1m-1 14h1m-1 1h1m-1 10h1m-1 26h1m-1 5h1m-1 2h1m-1 11h1m0-206h1m-1 1h1m-1 12h1m-1 4h1m-1 15h1m-1 20h1m-1 14h1m-1 16h1m-1 2h1m-1 2h1m-1 11h1m-1 8h1m-1 1h1m-1 7h1m-1 5h1m-1 1h1m-1 15h1m-1 5h1m-1 4h1m-1 1h1m-1 4h1m-1 20h1m-1 4h1m-1 31h1m-1 3h1m-1 2h1m-1 11h1m-1 8h1m-1 5h1m-1 2h1m0-234h1m-1 18h1m-1 2h1m-1 43h1m-1 1h1m-1 1h1m-1 12h1m-1 1h1m-1 12h1m-1 15h1m-1 1h1m-1 6h1m-1 4h1m-1 8h1m-1 9h1m-1 6h1m-1 1h1m-1 9h1m-1 19h1m-1 21h1m-1 1h1m-1 11h1m-1 5h1m-1 5h1m-1 17h1m0-223h1m-1 18h1m-1 19h1m-1 6h1m-1 4h1m-1 1h1m-1 7h1m-1 1h1m-1 1h1m-1 13h1m-1 12h1m-1 15h1m-1 7h1m-1 1h1m-1 6h1m-1 11h1m-1 4h1m-1 1h1m-1 5h1m-1 17h1m-1 13h1m-1 2h1m-1 1h1m-1 6h1m-1 5h1m-1 8h1m-1 13h1m-1 1h1m-1 8h1m-1 7h1m-1 5h1m-1 11h1m-1 5h1m0-234h1m-1 1h1m-1 24h1m-1 15h1m-1 8h1m-1 6h1m-1 14h1m-1 27h1m-1 4h1m-1 1h1m-1 1h1m-1 1h1m-1 9h1m-1 26h1m-1 3h1m-1 17h1m-1 10h1m-1 7h1m-1 7h1m-1 1h1m-1 1h1m-1 8h1m-1 13h1m-1 1h1m-1 8h1m-1 5h1m-1 6h1m0-191h1m-1 2h1m-1 14h1m-1 3h1m-1 39h1m-1 1h1m-1 1h1m-1 2h1m-1 2h1m-1 6h1m-1 5h1m-1 5h1m-1 1h1m-1 1h1m-1 3h1m-1 1h1m-1 8h1m-1 20h1m-1 1h1m-1 21h1m-1 20h1m-1 1h1m-1 16h1m-1 19h1m-1 7h1m0-222h1m-1 9h1m-1 23h1m-1 1h1m-1 4h1m-1 10h1m-1 1h1m-1 4h1m-1 19h1m-1 1h1m-1 1h1m-1 2h1m-1 20h1m-1 1h1m-1 11h1m-1 6h1m-1 65h1m-1 22h1m-1 3h1m-1 8h1m-1 2h1m-1 8h1m0-229h1m-1 2h1m-1 4h1m-1 30h1m-1 21h1m-1 1h1m-1 5h1m-1 17h1m-1 1h1m-1 11h1m-1 4h1m-1 8h1m-1 1h1m-1 1h1m-1 2h1m-1 3h1m-1 34h1m-1 1h1m-1 25h1m-1 6h1m-1 17h1m-1 4h1m-1 3h1m-1 1h1m-1 21h1m-1 1h1m-1 3h1m-1 1h1m-1 2h1m-1 2h1m0-233h1m-1 2h1m-1 10h1m-1 12h1m-1 12h1m-1 1h1m-1 2h1m-1 10h1m-1 15h1m-1 24h1m-1 5h1m-1 3h1m-1 4h1m-1 3h1m-1 9h1m-1 10h1m-1 4h1m-1 5h1m-1 1h1m-1 8h1m-1 9h1m-1 4h1m-1 10h1m-1 1h1m-1 7h1m-1 3h1m-1 3h1m-1 5h1m-1 12h1m-1 1h1m-1 1h1m-1 28h1m-1 5h1m-1 1h1m-1 1h1m0-229h1m-1 11h1m-1 28h1m-1 33h1m-1 17h1m-1 9h1m-1 14h1m-1 5h1m-1 33h1m-1 1h1m-1 1h1m-1 10h1m-1 21h1m-1 44h1m0-233h1m-1 51h1m-1 18h1m-1 23h1m-1 60h1m-1 10h1m-1 12h1m-1 16h1m-1 39h1m-1 9h1m-1 1h1m-1 3h1m-1 1h1m-1 2h1m-1 1h1m-1 2h1m-1 1h1m-1 6h1m-1 1h1m-1 1h1m-1 4h1m-1 5h1m-1 1h1m-1 5h1m0-225h1m-1 3h1m-1 7h1m-1 8h1m-1 44h1m-1 7h1m-1 27h1m-1 1h1m-1 14h1m-1 6h1m-1 26h1m-1 15h1m-1 2h1m-1 19h1m-1 9h1m-1 9h1m-1 1h1m-1 1h1m-1 2h1m-1 14h1m-1 7h1m-1 1h1m-1 1h1m-1 4h1m-1 1h1m0-262h1m-1 2h1m-1 15h1m-1 61h1m-1 20h1m-1 57h1m-1 11h1m-1 19h1m-1 9h1m-1 4h1m-1 1h1m-1 1h1m-1 17h1m-1 7h1m-1 4h1m-1 1h1m-1 5h1m-1 11h1m-1 16h1m0-250h1m-1 15h1m-1 13h1m-1 9h1m-1 16h1m-1 10h1m-1 22h1m-1 48h1m-1 7h1m-1 85h1m-1 2h1m-1 3h1m-1 1h1m-1 12h1m-1 1h1m-1 5h1m0-276h1m-1 16h1m-1 28h1m-1 3h1m-1 5h1m-1 8h1m-1 7h1m-1 29h1m-1 28h1m-1 4h1m-1 65h1m-1 9h1m-1 14h1m-1 23h1m-1 1h1m-1 1h1m-1 6h1m-1 2h1m-1 1h1m-1 1h1m-1 1h1m-1 2h1m-1 4h1m-1 8h1m-1 1h1m-1 3h1m-1 3h1m0-266h1m-1 15h1m-1 1h1m-1 5h1m-1 1h1m-1 10h1m-1 17h1m-1 1h1m-1 22h1m-1 43h1m-1 7h1m-1 12h1m-1 1h1m-1 2h1m-1 3h1m-1 7h1m-1 22h1m-1 64h1m-1 7h1m-1 1h1m-1 2h1m-1 11h1m-1 8h1m-1 1h1m-1 1h1m-1 5h1m0-253h1m-1 1h1m-1 16h1m-1 1h1m-1 12h1m-1 6h1m-1 19h1m-1 1h1m-1 24h1m-1 10h1m-1 1h1m-1 1h1m-1 29h1m-1 10h1m-1 1h1m-1 1h1m-1 13h1m-1 20h1m-1 23h1m-1 3h1m-1 15h1m-1 1h1m-1 12h1m-1 5h1m-1 1h1m-1 2h1m-1 6h1m-1 2h1m-1 12h1m-1 3h1m-1 2h1m-1 2h1m0-275h1m-1 21h1m-1 1h1m-1 46h1m-1 7h1m-1 7h1m-1 34h1m-1 5h1m-1 14h1m-1 19h1m-1 3h1m-1 22h1m-1 46h1m-1 2h1m-1 6h1m-1 6h1m-1 4h1m-1 4h1m-1 3h1m-1 1h1m-1 8h1m-1 1h1m-1 1h1m-1 1h1m-1 3h1m-1 4h1m-1 5h1m-1 1h1m0-275h1m-1 92h1m-1 10h1m-1 1h1m-1 32h1m-1 51h1m-1 5h1m-1 8h1m-1 43h1m-1 3h1m-1 1h1m-1 1h1m-1 6h1m-1 1h1m-1 1h1m-1 1h1m-1 3h1m-1 5h1m-1 1h1m-1 8h1m-1 1h1m-1 1h1m0-264h1m-1 21h1m-1 1h1m-1 13h1m-1 10h1m-1 20h1m-1 1h1m-1 1h1m-1 1h1m-1 2h1m-1 7h1m-1 9h1m-1 12h1m-1 1h1m-1 15h1m-1 5h1m-1 6h1m-1 4h1m-1 3h1m-1 8h1m-1 37h1m-1 18h1m-1 2h1m-1 9h1m-1 12h1m-1 10h1m-1 1h1m-1 7h1m-1 2h1m-1 3h1m-1 1h1m-1 8h1m-1 6h1m-1 1h1m-1 1h1m0-268h1m-1 1h1m-1 1h1m-1 5h1m-1 7h1m-1 3h1m-1 3h1m-1 32h1m-1 1h1m-1 20h1m-1 23h1m-1 1h1m-1 14h1m-1 4h1m-1 3h1m-1 22h1m-1 7h1m-1 4h1m-1 1h1m-1 6h1m-1 32h1m-1 17h1m-1 22h1m-1 9h1m-1 1h1m-1 1h1m-1 5h1m-1 3h1m-1 3h1m-1 2h1m-1 1h1m-1 7h1m-1 3h1m-1 5h1m-1 1h1m-1 4h1m0-275h1m-1 23h1m-1 13h1m-1 1h1m-1 15h1m-1 8h1m-1 1h1m-1 14h1m-1 32h1m-1 7h1m-1 25h1m-1 18h1m-1 39h1m-1 12h1m-1 6h1m-1 1h1m-1 15h1m-1 4h1m-1 5h1m-1 8h1m-1 2h1m-1 3h1m-1 1h1m-1 1h1m-1 5h1m-1 1h1m-1 2h1m-1 1h1m-1 1h1m-1 1h1m-1 1h1m0-264h1m-1 4h1m-1 15h1m-1 1h1m-1 1h1m-1 9h1m-1 32h1m-1 14h1m-1 8h1m-1 1h1m-1 1h1m-1 40h1m-1 3h1m-1 22h1m-1 18h1m-1 7h1m-1 2h1m-1 2h1m-1 22h1m-1 3h1m-1 7h1m-1 1h1m-1 3h1m-1 19h1m-1 3h1m-1 1h1m-1 3h1m-1 2h1m-1 1h1m-1 1h1m-1 3h1m-1 1h1m-1 1h1m-1 2h1m-1 3h1m-1 2h1m-1 1h1m-1 3h1m-1 1h1m-1 2h1m-1 3h1m-1 2h1m0-267h1m-1 10h1m-1 19h1m-1 5h1m-1 6h1m-1 24h1m-1 28h1m-1 27h1m-1 26h1m-1 34h1m-1 22h1m-1 1h1m-1 1h1m-1 4h1m-1 3h1m-1 6h1m-1 1h1m-1 21h1m-1 1h1m-1 2h1m-1 1h1m-1 1h1m-1 18h1m-1 7h1m-1 1h1m-1 1h1m0-273h1m-1 2h1m-1 5h1m-1 4h1m-1 1h1m-1 8h1m-1 9h1m-1 1h1m-1 8h1m-1 4h1m-1 1h1m-1 7h1m-1 14h1m-1 1h1m-1 5h1m-1 11h1m-1 1h1m-1 6h1m-1 1h1m-1 32h1m-1 1h1m-1 9h1m-1 1h1m-1 43h1m-1 4h1m-1 50h1m-1 1h1m-1 7h1m-1 12h1m-1 1h1m-1 1h1m-1 7h1m-1 2h1m-1 8h1m-1 1h1m-1 1h1m0-275h1m-1 6h1m-1 16h1m-1 22h1m-1 10h1m-1 4h1m-1 21h1m-1 73h1m-1 1h1m-1 1h1m-1 1h1m-1 53h1m-1 3h1m-1 14h1m-1 1h1m-1 14h1m-1 7h1m-1 1h1m-1 1h1m-1 6h1m-1 1h1m-1 6h1m-1 5h1m-1 2h1m-1 9h1m0-259h1m-1 14h1m-1 10h1m-1 21h1m-1 22h1m-1 48h1m-1 1h1m-1 1h1m-1 33h1m-1 7h1m-1 64h1m-1 1h1m-1 1h1m-1 1h1m-1 5h1m-1 6h1m-1 1h1m-1 7h1m-1 1h1m-1 1h1m-1 1h1m-1 4h1m-1 3h1m0-270h1m-1 1h1m-1 7h1m-1 4h1m-1 4h1m-1 59h1m-1 1h1m-1 11h1m-1 2h1m-1 1h1m-1 36h1m-1 9h1m-1 14h1m-1 2h1m-1 6h1m-1 30h1m-1 1h1m-1 1h1m-1 1h1m-1 43h1m-1 5h1m-1 3h1m-1 10h1m-1 1h1m-1 5h1m-1 2h1m-1 16h1m0-266h1m-1 3h1m-1 17h1m-1 20h1m-1 46h1m-1 13h1m-1 7h1m-1 8h1m-1 1h1m-1 11h1m-1 19h1m-1 23h1m-1 1h1m-1 25h1m-1 4h1m-1 7h1m-1 8h1m-1 9h1m-1 15h1m-1 2h1m-1 5h1m-1 1h1m-1 1h1m-1 12h1m-1 2h1m-1 6h1" stroke="#e4666a"/>
<path d="M0 35.5h1m-1 29h1m-1 16h1m-1 24h1m-1 65h1m-1 1h1m-1 38h1m-1 1h1m0-195h1m-1 52h1m-1 41h1m-1 3h1m-1 13h1m-1 12h1m-1 17h1m-1 4h1m-1 13h1m-1 38h1m-1 30h1m-1 1h1m0-190h1m-1 9h1m-1 13h1m-1 16h1m-1 1h1m-1 30h1m-1 38h1m-1 14h1m-1 29h1m0-153h1m-1 74h1m-1 7h1m-1 63h1m-1 1h1m-1 1h1m-1 1h1m-1 1h1m-1 21h1m-1 1h1m-1 22h1m-1 1h1m0-227h1m-1 10h1m-1 1h1m-1 19h1m-1 1h1m-1 1h1m-1 28h1m-1 16h1m-1 25h1m-1 13h1m-1 1h1m-1 6h1m-1 30h1m-1 4h1m-1 7h1m-1 7h1m-1 6h1m-1 20h1m-1 1h1m0-200h1m-1 33h1m-1 2h1m-1 1h1m-1 23h1m-1 3h1m-1 74h1m-1 4h1m-1 12h1m-1 17h1m-1 15h1m0-147h1m-1 5h1m-1 79h1m-1 36h1m-1 1h1m-1 42h1m-1 2h1m-1 11h1m-1 15h1m0-227h1m-1 8h1m-1 140h1m-1 1h1m-1 4h1m-1 46h1m-1 10h1m-1 21h1m0-224h1m-1 5h1m-1 30h1m-1 3h1m-1 12h1m-1 22h1m-1 33h1m-1 1h1m-1 4h1m-1 30h1m-1 15h1m-1 25h1m-1 1h1m-1 5h1m-1 1h1m-1 15h1m0-181h1m-1 17h1m-1 52h1m-1 27h1m-1 1h1m-1 28h1m-1 9h1m-1 1h1m-1 1h1m-1 20h1m0-163h1m-1 50h1m-1 101h1m0-173h1m-1 1h1m-1 12h1m-1 38h1m-1 28h1m-1 2h1m-1 4h1m-1 3h1m-1 124h1m0-206h1m-1 57h1m-1 21h1m-1 6h1m-1 30h1m-1 1h1m-1 40h1m-1 51h1m-1 19h1m0-232h1m-1 18h1m-1 1h1m-1 1h1m-1 22h1m-1 68h1m-1 35h1m-1 1h1m-1 11h1m-1 10h1m-1 33h1m0-184h1m-1 1h1m-1 43h1m-1 77h1m-1 4h1m-1 69h1m-1 1h1m0-106h1m-1 36h1m-1 1h1m-1 24h1m-1 19h1m-1 13h1m-1 16h1m-1 3h1m0-195h1m-1 14h1m-1 11h1m-1 14h1m-1 1h1m-1 3h1m-1 57h1m-1 19h1m-1 20h1m-1 32h1m0-83h1m-1 4h1m-1 1h1m-1 35h1m-1 67h1m-1 15h1m0-187h1m-1 6h1m-1 13h1m-1 9h1m-1 2h1m-1 21h1m-1 98h1m-1 19h1m0-157h1m-1 1h1m-1 1h1m-1 24h1m-1 6h1m-1 28h1m-1 73h1m-1 15h1m-1 1h1m0-128h1m-1 1h1m-1 30h1m-1 14h1m-1 1h1m-1 56h1m-1 3h1m-1 16h1m-1 1h1m-1 3h1m-1 33h1m-1 15h1m-1 8h1m-1 4h1m-1 8h1m0-156h1m-1 22h1m-1 4h1m-1 23h1m-1 6h1m-1 1h1m-1 74h1m-1 3h1m-1 1h1m-1 2h1m-1 10h1m-1 10h1m-1 1h1m0-272h1m-1 20h1m-1 84h1m-1 103h1m-1 32h1m-1 6h1m-1 5h1m-1 3h1m-1 3h1m-1 7h1m-1 7h1m-1 1h1m-1 1h1m0-240h1m-1 1h1m-1 22h1m-1 10h1m-1 100h1m-1 4h1m-1 57h1m-1 13h1m-1 6h1m-1 4h1m-1 1h1m-1 4h1m-1 1h1m-1 3h1m-1 1h1m-1 1h1m-1 1h1m-1 4h1m-1 1h1m-1 4h1m-1 1h1m0-121h1m-1 86h1m-1 6h1m-1 2h1m-1 1h1m-1 11h1m-1 4h1m-1 1h1m-1 1h1m-1 3h1m-1 3h1m-1 2h1m0-246h1m-1 50h1m-1 44h1m-1 34h1m-1 13h1m-1 1h1m-1 1h1m-1 61h1m-1 23h1m-1 1h1m-1 1h1m-1 4h1m-1 3h1m-1 7h1m0-257h1m-1 1h1m-1 9h1m-1 58h1m-1 1h1m-1 1h1m-1 138h1m-1 23h1m-1 7h1m-1 5h1m-1 1h1m-1 2h1m-1 2h1m-1 1h1m-1 1h1m-1 2h1m-1 1h1m-1 7h1m-1 1h1m-1 2h1m-1 1h1m0-184h1m-1 43h1m-1 2h1m-1 37h1m-1 66h1m-1 3h1m-1 8h1m-1 5h1m-1 3h1m-1 1h1m-1 4h1m-1 7h1m-1 2h1m-1 2h1m0-238h1m-1 71h1m-1 1h1m-1 76h1m-1 60h1m-1 5h1m-1 4h1m-1 3h1m-1 1h1m-1 1h1m-1 5h1m-1 1h1m-1 8h1m0-31h1m-1 10h1m-1 1h1m-1 9h1m-1 1h1m-1 1h1m-1 8h1m-1 1h1m0-243h1m-1 16h1m-1 6h1m-1 75h1m-1 53h1m-1 7h1m-1 19h1m-1 11h1m-1 4h1m-1 21h1m-1 3h1m-1 1h1m-1 5h1m-1 1h1m-1 6h1m-1 1h1m-1 1h1m-1 5h1m-1 2h1m0-247h1m-1 70h1m-1 57h1m-1 37h1m-1 32h1m-1 1h1m-1 22h1m-1 7h1m-1 2h1m-1 1h1m-1 3h1m-1 2h1m-1 7h1m-1 3h1m-1 3h1m-1 6h1m-1 1h1m0-269h1m-1 2h1m-1 19h1m-1 47h1m-1 120h1m-1 27h1m-1 18h1m-1 1h1m-1 4h1m-1 1h1m-1 2h1m-1 1h1m-1 2h1m-1 3h1m-1 4h1m-1 1h1m-1 12h1m-1 5h1m0-216h1m-1 73h1m-1 10h1m-1 23h1m-1 1h1m-1 38h1m-1 1h1m-1 3h1m-1 18h1m-1 2h1m-1 7h1m-1 1h1m-1 1h1m-1 3h1m-1 7h1m-1 14h1m-1 3h1m-1 1h1m-1 3h1m-1 2h1m-1 3h1m-1 3h1m0-275h1m-1 42h1m-1 21h1m-1 9h1m-1 115h1m-1 13h1m-1 35h1m-1 8h1m-1 3h1m-1 5h1m-1 1h1m-1 8h1m-1 1h1m-1 1h1m-1 1h1m-1 1h1m-1 1h1m-1 4h1m0-265h1m-1 73h1m-1 44h1m-1 16h1m-1 79h1m-1 22h1m-1 5h1m-1 4h1m-1 2h1m-1 1h1m-1 14h1m-1 1h1m-1 2h1m-1 3h1m0-31h1m-1 1h1m-1 15h1m-1 1h1m-1 6h1m-1 1h1m-1 1h1m-1 5h1m0-261h1m-1 12h1m-1 20h1m-1 49h1m-1 35h1m-1 42h1m-1 70h1m-1 9h1m-1 2h1m-1 1h1m-1 1h1m-1 1h1m-1 6h1m-1 13h1m-1 3h1m-1 1h1m-1 1h1m-1 1h1m-1 1h1m0-267h1m-1 113h1m-1 8h1m-1 9h1m-1 43h1m-1 57h1m-1 1h1m-1 4h1m-1 1h1m-1 1h1m-1 2h1m-1 1h1m-1 4h1m-1 2h1m-1 1h1m-1 2h1m-1 5h1m-1 4h1m-1 1h1m-1 3h1m-1 1h1m-1 1h1m0-208h1m-1 6h1m-1 11h1m-1 91h1m-1 43h1m-1 25h1m-1 1h1m-1 1h1m-1 4h1m-1 3h1m-1 7h1m-1 3h1m-1 1h1m-1 5h1m-1 4h1m-1 1h1m-1 5h1" stroke="#de444a"/>
<path d="M0 6.5h1m-1 12h1m-1 75h1m0-75h1m-1 177h1m1-172h1m-1 46h1m-1 55h1m0 3h1m-1 12h1m-1 94h1m0-219h1m0 73h1m-1 37h1m-1 109h1m-1 1h1m0-163h1m-1 23h1m0-7h1m-1 75h1m1-140h1m-1 44h1m-1 1h1m-1 94h1m1-131h1m-1 26h1m-1 25h1m-1 11h1m-1 1h1m-1 35h1m0 109h1m0-213h1m-1 56h1m1 54h1m-1 71h1m-1 3h1m-1 1h1m0-176h1m-1 72h1m0-78h1m-1 97h1m-1 1h1m-1 2h1m-1 14h1m-1 8h1m-1 41h1m0-166h1m-1 50h1m-1 137h1m0-101h1m-1 131h1m-1 1h1m-1 1h1m-1 1h1m-1 1h1m-1 1h1m-1 1h1m-1 1h1m-1 1h1m-1 1h1m-1 1h1m-1 1h1m-1 1h1m-1 1h1m-1 2h1m-1 1h1m-1 1h1m-1 1h1m-1 1h1m-1 1h1m-1 1h1m-1 2h1m-1 1h1m-1 1h1m-1 2h1m-1 1h1m-1 1h1m-1 1h1m-1 1h1m-1 1h1m-1 1h1m-1 2h1m-1 1h1m-1 1h1m0-153h1m-1 121h1m-1 8h1m-1 2h1m-1 5h1m-1 3h1m-1 2h1m-1 1h1m-1 3h1m-1 1h1m-1 1h1m-1 1h1m-1 4h1m0-270h1m-1 118h1m-1 116h1m-1 1h1m-1 3h1m-1 8h1m-1 2h1m-1 3h1m-1 3h1m-1 1h1m-1 1h1m-1 2h1m-1 1h1m-1 2h1m-1 1h1m0-246h1m-1 219h1m-1 4h1m-1 1h1m-1 1h1m-1 4h1m-1 3h1m-1 1h1m-1 4h1m-1 12h1m-1 6h1m0-265h1m-1 36h1m-1 84h1m-1 108h1m-1 1h1m-1 1h1m-1 1h1m-1 1h1m-1 2h1m-1 6h1m-1 8h1m-1 6h1m-1 1h1m-1 5h1m-1 2h1m-1 2h1m0-243h1m-1 85h1m-1 93h1m-1 30h1m-1 2h1m-1 1h1m-1 1h1m-1 7h1m-1 6h1m-1 1h1m-1 2h1m-1 6h1m-1 1h1m-1 3h1m-1 2h1m-1 1h1m-1 1h1m-1 1h1m-1 1h1m0-36h1m-1 4h1m-1 3h1m-1 2h1m-1 2h1m-1 1h1m-1 1h1m-1 1h1m-1 3h1m-1 6h1m-1 3h1m-1 5h1m0-33h1m-1 4h1m-1 2h1m-1 6h1m-1 8h1m-1 3h1m-1 2h1m-1 2h1m-1 1h1m-1 1h1m-1 1h1m-1 2h1m0-211h1m-1 1h1m-1 178h1m-1 1h1m-1 2h1m-1 1h1m-1 4h1m-1 1h1m-1 6h1m-1 2h1m-1 1h1m-1 13h1m0-31h1m-1 1h1m-1 2h1m-1 3h1m-1 1h1m-1 4h1m-1 2h1m-1 7h1m-1 1h1m-1 2h1m-1 6h1m-1 1h1m-1 1h1m-1 1h1m-1 1h1m0-106h1m-1 1h1m-1 72h1m-1 1h1m-1 4h1m-1 4h1m-1 2h1m-1 6h1m-1 1h1m-1 1h1m-1 4h1m-1 2h1m-1 1h1m-1 2h1m-1 6h1m-1 1h1m-1 1h1m-1 1h1m-1 1h1m0-200h1m-1 49h1m-1 113h1m-1 5h1m-1 1h1m-1 1h1m-1 13h1m-1 1h1m-1 1h1m-1 2h1m-1 7h1m-1 6h1m0-47h1m-1 17h1m-1 23h1m-1 2h1m-1 1h1m-1 1h1m-1 1h1m-1 2h1m-1 1h1m0-103h1m-1 70h1m-1 1h1m-1 6h1m-1 1h1m-1 4h1m-1 2h1m-1 1h1m-1 12h1m-1 4h1m-1 2h1m0-37h1m-1 1h1m-1 1h1m-1 1h1m-1 8h1m-1 3h1m-1 1h1m-1 1h1m-1 1h1m-1 1h1m-1 1h1m-1 8h1m-1 4h1m-1 1h1m0-233h1m-1 50h1m-1 151h1m-1 2h1m-1 1h1m-1 2h1m-1 1h1m-1 3h1m-1 7h1m-1 2h1m-1 1h1m-1 4h1m-1 4h1m-1 2h1m-1 1h1m-1 5h1m-1 1h1m-1 1h1m0-33h1m-1 1h1m-1 4h1m-1 1h1m-1 1h1m-1 1h1m-1 6h1m-1 1h1m-1 8h1m-1 5h1m-1 1h1m-1 1h1m-1 1h1m-1 1h1m0-88h1m-1 55h1m-1 1h1m-1 8h1m-1 3h1m-1 1h1m-1 2h1m-1 1h1m-1 1h1m-1 7h1m-1 5h1m0-64h1m-1 35h1m-1 1h1m-1 4h1m-1 3h1m-1 11h1m-1 1h1m-1 3h1m-1 1h1m-1 3h1m-1 1h1m-1 4h1m-1 2h1m0-37h1m-1 5h1m-1 1h1m-1 4h1m-1 2h1m-1 1h1" stroke="#d8242a"/>
</g>
<rect x="73" y="1215.7" width="968.2" height="465.8" fill="none" stroke="#111" stroke-width="1.8"/>
<rect x="54.4" y="1215.5" width="15.8" height="400.5" fill="#d62728"/>
<rect x="54.4" y="1616" width="15.8" height="65.8" fill="#c49c94"/>
<path d="M85.1 1681.5v6M109.3 1681.5v6M133.5 1681.5v6M157.7 1681.5v6M181.9 1681.5v6M206.1 1681.5v6M230.3 1681.5v6M254.5 1681.5v6M278.7 1681.5v6M302.9 1681.5v6M327.2 1681.5v6M351.4 1681.5v6M375.6 1681.5v6M399.8 1681.5v6M424 1681.5v6M448.2 1681.5v6M472.4 1681.5v6M496.6 1681.5v6M520.8 1681.5v6M545 1681.5v6M569.2 1681.5v6M593.4 1681.5v6M617.6 1681.5v6M641.8 1681.5v6M666 1681.5v6M690.2 1681.5v6M714.4 1681.5v6M738.6 1681.5v6M762.8 1681.5v6M787 1681.5v6M811.3 1681.5v6M835.5 1681.5v6M859.7 1681.5v6M883.9 1681.5v6M908.1 1681.5v6M932.3 1681.5v6M956.5 1681.5v6M980.7 1681.5v6M1004.9 1681.5v6M1029.1 1681.5v6" stroke="#111" stroke-width="1.3" fill="none"/>
<g font-size="18.6">
<text transform="translate(91.5 1699.5) rotate(-90)" text-anchor="end">TMSB10</text>
<text transform="translate(115.7 1699.5) rotate(-90)" text-anchor="end">FBP1</text>
<text transform="translate(139.9 1699.5) rotate(-90)" text-anchor="end">MNDA</text>
<text transform="translate(164.1 1699.5) rotate(-90)" text-anchor="end">CHCHD10</text>
<text transform="translate(188.3 1699.5) rotate(-90)" text-anchor="end">ITGB2</text>
<text transform="translate(212.5 1699.5) rotate(-90)" text-anchor="end">ATP5MC3</text>
<text transform="translate(236.7 1699.5) rotate(-90)" text-anchor="end">FTL</text>
<text transform="translate(260.9 1699.5) rotate(-90)" text-anchor="end">LIPA</text>
<text transform="translate(285.1 1699.5) rotate(-90)" text-anchor="end">OAZ1</text>
<text transform="translate(309.3 1699.5) rotate(-90)" text-anchor="end">FGL2</text>
<text transform="translate(333.6 1699.5) rotate(-90)" text-anchor="end">COX4I1</text>
<text transform="translate(357.8 1699.5) rotate(-90)" text-anchor="end">IFI6</text>
<text transform="translate(382 1699.5) rotate(-90)" text-anchor="end">CD81</text>
<text transform="translate(406.2 1699.5) rotate(-90)" text-anchor="end">SERF2</text>
<text transform="translate(430.4 1699.5) rotate(-90)" text-anchor="end">CST3</text>
<text transform="translate(454.6 1699.5) rotate(-90)" text-anchor="end">PTMA</text>
<text transform="translate(478.8 1699.5) rotate(-90)" text-anchor="end">VAMP8</text>
<text transform="translate(503 1699.5) rotate(-90)" text-anchor="end">CTSD</text>
<text transform="translate(527.2 1699.5) rotate(-90)" text-anchor="end">ACP5</text>
<text transform="translate(551.4 1699.5) rotate(-90)" text-anchor="end">HCST</text>
<text transform="translate(575.6 1699.5) rotate(-90)" text-anchor="end">CXCL8</text>
<text transform="translate(599.8 1699.5) rotate(-90)" text-anchor="end">IER3</text>
<text transform="translate(624 1699.5) rotate(-90)" text-anchor="end">IL1B</text>
<text transform="translate(648.2 1699.5) rotate(-90)" text-anchor="end">NAMPT</text>
<text transform="translate(672.4 1699.5) rotate(-90)" text-anchor="end">SOD2</text>
<text transform="translate(696.6 1699.5) rotate(-90)" text-anchor="end">SAMSN1</text>
<text transform="translate(720.8 1699.5) rotate(-90)" text-anchor="end">CCL3</text>
<text transform="translate(745 1699.5) rotate(-90)" text-anchor="end">SERPINA1</text>
<text transform="translate(769.2 1699.5) rotate(-90)" text-anchor="end">C15orf48</text>
<text transform="translate(793.4 1699.5) rotate(-90)" text-anchor="end">THBS1</text>
<text transform="translate(817.7 1699.5) rotate(-90)" text-anchor="end">NFKBIA</text>
<text transform="translate(841.9 1699.5) rotate(-90)" text-anchor="end">TNFAIP6</text>
<text transform="translate(866.1 1699.5) rotate(-90)" text-anchor="end">MS4A7</text>
<text transform="translate(890.3 1699.5) rotate(-90)" text-anchor="end">CCL4</text>
<text transform="translate(914.5 1699.5) rotate(-90)" text-anchor="end">BASP1</text>
<text transform="translate(938.7 1699.5) rotate(-90)" text-anchor="end">PNRC1</text>
<text transform="translate(962.9 1699.5) rotate(-90)" text-anchor="end">CXCL1</text>
<text transform="translate(987.1 1699.5) rotate(-90)" text-anchor="end">MARCKS</text>
<text transform="translate(1011.3 1699.5) rotate(-90)" text-anchor="end">MIR3945HG</text>
<text transform="translate(1035.5 1699.5) rotate(-90)" text-anchor="end">IDO1</text>
<text transform="translate(24 1438) rotate(-90)" text-anchor="middle" font-size="18.2">Leiden Cluster</text>
</g>
<text x="39" y="1421.3" text-anchor="middle" font-size="19.5">3</text>
<text x="34.5" y="1655.5" text-anchor="middle" font-size="19.5">14</text>
<path d="M78.2 1211v-7H553v7M561 1211v-7H1036.4v7" stroke="#111" stroke-width="1.5" fill="none"/>
<text x="315.2" y="1193.2" text-anchor="middle" font-size="19.5">3</text>
<text x="798.2" y="1193.2" text-anchor="middle" font-size="19.5">14</text>
<defs><linearGradient id="gbwr" x1="0" y1="0" x2="0" y2="1"><stop offset="0" stop-color="#d8242a"/><stop offset="0.062" stop-color="#db353a"/><stop offset="0.125" stop-color="#de474c"/><stop offset="0.188" stop-color="#e25a5e"/><stop offset="0.25" stop-color="#e56f72"/><stop offset="0.312" stop-color="#e98589"/><stop offset="0.375" stop-color="#eea0a2"/><stop offset="0.438" stop-color="#f4c0c2"/><stop offset="0.5" stop-color="#ffffff"/><stop offset="0.562" stop-color="#c7cce8"/><stop offset="0.625" stop-color="#aab2dd"/><stop offset="0.688" stop-color="#929dd3"/><stop offset="0.75" stop-color="#7e8bcb"/><stop offset="0.812" stop-color="#6b7ac3"/><stop offset="0.875" stop-color="#5a6bbd"/><stop offset="0.938" stop-color="#4a5db6"/><stop offset="1" stop-color="#3b4fb0"/></linearGradient></defs>
<rect x="1071.3" y="1395.3" width="17.4" height="282.3" fill="url(#gbwr)" stroke="#111" stroke-width="1.3"/>
<text x="1109.5" y="1403.2" font-family="Liberation Sans, sans-serif" font-size="20">2</text>
<text x="1109.5" y="1473.3" font-family="Liberation Sans, sans-serif" font-size="20">1</text>
<text x="1109.5" y="1543.5" font-family="Liberation Sans, sans-serif" font-size="20">0</text>
<text x="1108.5" y="1614.2" font-family="Liberation Sans, sans-serif" font-size="20">−1</text>
<text x="1108.5" y="1684.4" font-family="Liberation Sans, sans-serif" font-size="20">−2</text>
<path d="M1088.7 1396.2h4.5M1088.7 1466.3h4.5M1088.7 1536.5h4.5M1088.7 1607.2h4.5M1088.7 1677.4h4.5" stroke="#111" stroke-width="1.3" fill="none"/>
<!-- ff -->
<path d="M1211.7 1404.6L1329.5 1318.7L1329.5 1521.5L1219 1598.4z" fill="#f7f8f8"/>
<path d="M1329.5 1318.7L1522.5 1366.2L1515.5 1557.4L1329.5 1521.5z" fill="#f1f3f3"/>
<path d="M1219 1598.4L1329.5 1521.5L1515.5 1557.4L1409.5 1669z" fill="#f7f8f8"/>
<path d="M1692.7 1403.1L1810.5 1317.2L1810.5 1520L1700 1596.9z" fill="#f7f8f8"/>
<path d="M1810.5 1317.2L2003.5 1364.7L1996.5 1555.9L1810.5 1520z" fill="#f1f3f3"/>
<path d="M1700 1596.9L1810.5 1520L1996.5 1555.9L1890.5 1667.5z" fill="#f7f8f8"/>
<path transform="scale(0.5)" d="M2737 2891h0m9 2h0m-28 1h0m22 0h0m-8 1h0m4 2h0m-6 1h0m-18 2h0m31 0h0m-32 3h0m-8 1h0m17 2h0m13 0h0m8 0h0m-44 2h0m25 0h0m5 0h0m-48 3h0m6 1h0m7 0h0m7 0h0m13 1h0m21 0h0m-25 1h0m6 0h0m-46 2h0m14 0h0m-62 1h0m13 0h0m45 0h0m25 1h0m-77 1h0m37 0h0m10 0h0m16 0h0m30 0h0m-63 1h0m43 0h0m-80 1h0m84 0h0m-95 1h0m1 0h0m107 0h0m13 0h0m-73 1h0m24 0h0m-63 1h0m74 0h0m-26 1h0m46 0h0m13 0h0m-75 1h0m39 0h0m-27 1h0m-53 1h0m19 0h0m8 0h0m5 0h0m-44 1h0m102 0h0m8 0h0m-63 1h0m14 0h0m40 0h0m18 0h0m-99 1h0m55 0h0m18 0h0m-20 1h0m7 0h0m10 0h0m34 0h0m-116 1h0m-5 1h0m-7 1h0m64 0h0m42 0h0m-74 1h0m57 1h0m5 0h0m23 0h0m-73 1h0m7 0h0m-58 2h0m131 0h0m-104 1h0m10 0h0m13 0h0m57 0h0m-86 2h0m43 0h0m57 0h0m18 0h0m-147 1h0m8 0h0m4 0h0m29 0h0m19 0h0m62 0h0m12 0h0m10 0h0m-123 2h0m-12 1h0m50 0h0m87 0h0m-111 1h0m12 1h0m82 0h0m-104 1h0m31 0h0m63 0h0m-125 1h0m26 0h0m10 0h0m33 0h0m67 0h0m-126 1h0m134 0h0m-141 1h0m12 0h0m102 0h0m9 1h0m-138 1h0m10 0h0m14 0h0m13 0h0m22 0h0m7 0h0m82 1h0m7 0h0m-110 1h0m50 0h0m22 0h0m2 0h0m-69 1h0m9 0h0m12 0h0m36 0h0m5 0h0m15 0h0m2 1h0m29 0h0m-147 1h0m132 0h0m-149 1h0m35 0h0m50 0h0m20 0h0m6 0h0m-65 1h0m10 0h0m8 0h0m-50 1h0m12 0h0m53 0h0m-74 1h0m92 0h0m43 0h0m-152 1h0m51 0h0m52 0h0m-17 1h0m27 0h0m45 0h0m-123 1h0m58 0h0m7 0h0m7 0h0m23 0h0m34 0h0m12 0h0m-171 1h0m23 0h0m21 0h0m7 0h0m6 0h0m74 0h0m7 0h0m-121 1h0m100 0h0m49 0h0m-170 1h0m12 0h0m57 0h0m4 0h0m65 1h0m-143 1h0m9 0h0m18 0h0m18 0h0m85 0h0m7 0h0m-116 1h0m74 0h0m75 0h0m-137 1h0m33 0h0m22 0h0m18 0h0m50 0h0m-113 1h0m21 0h0m6 0h0m39 0h0m6 0h0m2 0h0m2 0h0m-65 1h0m27 0h0m65 0h0m5 0h0m-160 1h0m60 0h0m25 0h0m-80 1h0m39 0h0m47 0h0m-98 1h0m57 0h0m28 0h0m66 0h0m33 0h0m8 0h0m-156 1h0m77 0h0m72 0h0m-165 1h0m101 0h0m78 0h0m-164 1h0m-30 1h0m101 0h0m50 0h0m10 0h0m-108 1h0m76 0h0m70 0h0m-184 1h0m46 0h0m21 0h0m27 0h0m25 0h0m-47 1h0m56 0h0m26 0h0m28 0h0m-201 1h0m6 0h0m7 0h0m15 0h0m6 0h0m46 0h0m23 0h0m34 0h0m19 0h0m-112 1h0m62 0h0m18 0h0m39 0h0m-91 1h0m75 0h0m-115 1h0m30 1h0m24 0h0m53 0h0m32 0h0m4 0h0m16 0h0m-113 1h0m33 0h0m5 0h0m50 0h0m18 0h0m18 0h0m-158 1h0m22 0h0m-57 1h0m13 0h0m19 0h0m15 0h0m38 0h0m11 0h0m25 0h0m26 0h0m40 0h0m-107 1h0m-68 1h0m161 0h0m-155 1h0m7 0h0m9 0h0m75 0h0m16 0h0m10 0h0m12 0h0m-102 1h0m56 0h0m61 0h0m-102 1h0m21 0h0m13 0h0m99 0h0m-135 1h0m2 0h0m53 0h0m28 0h0m16 0h0m-125 1h0m41 0h0m53 0h0m50 0h0m11 1h0m-91 1h0m-29 1h0m80 0h0m51 0h0m-124 1h0m32 0h0m31 0h0m44 0h0m-143 1h0m8 0h0m35 0h0m26 0h0m20 0h0m33 0h0m-84 1h0m13 0h0m28 0h0m13 0h0m-26 1h0m48 0h0m-82 1h0m50 0h0m-38 1h0m17 0h0m36 0h0m63 0h0m-156 1h0m102 0h0m-90 1h0m9 0h0m83 0h0m-21 2h0m-72 2h0m47 0h0m30 0h0m-57 1h0m19 0h0m17 0h0m13 0h0m-63 1h0m77 0h0m-68 1h0m14 0h0m-2 1h0m2 0h0m10 0h0m25 0h0m28 0h0m-12 3h0m-18 2h0m1 0h0m-6 2h0m22 0h0m-31 1h0m13 2h0m14 0h0m-17 4h0m26 0h0m-18 3h0" stroke="#239c64" stroke-width="12" stroke-linecap="round" fill="none" stroke-opacity="0.95"/>
<path transform="scale(0.5)" d="M2788 2734h0m-5 1h0m-11 2h0m-10 4h0m-10 1h0m8 0h0m30 0h0m7 0h0m12 0h0m-41 1h0m12 0h0m37 0h0m-68 1h0m70 1h0m5 0h0m-71 1h0m19 0h0m38 0h0m-29 2h0m22 0h0m-65 1h0m30 0h0m27 0h0m-5 1h0m-31 1h0m12 0h0m14 0h0m-21 1h0m44 0h0m19 0h0m-34 1h0m-70 1h0m27 0h0m64 0h0m14 0h0m-83 1h0m11 1h0m10 0h0m14 0h0m40 0h0m-110 1h0m-11 1h0m98 0h0m-93 1h0m15 0h0m62 0h0m26 0h0m-86 1h0m15 0h0m4 0h0m9 0h0m6 0h0m19 0h0m50 0h0m-131 1h0m63 0h0m5 0h0m29 0h0m30 0h0m-91 1h0m13 0h0m60 0h0m-107 1h0m6 0h0m103 0h0m-93 2h0m7 0h0m6 0h0m39 0h0m51 0h0m10 0h0m9 0h0m-94 1h0m10 0h0m24 0h0m63 0h0m-58 1h0m6 0h0m-15 1h0m58 0h0m-106 1h0m3 0h0m71 0h0m3 0h0m21 0h0m-121 1h0m41 1h0m48 0h0m27 0h0m-131 1h0m47 0h0m17 0h0m34 0h0m-87 1h0m11 0h0m49 0h0m6 0h0m42 0h0m0 0h0m33 0h0m-59 1h0m-75 1h0m114 0h0m-133 1h0m50 0h0m-29 1h0m6 0h0m10 0h0m53 0h0m23 0h0m-102 1h0m21 0h0m26 0h0m38 0h0m5 0h0m15 0h0m31 0h0m-89 1h0m9 0h0m15 0h0m-73 1h0m62 0h0m31 0h0m9 0h0m25 0h0m-64 1h0m11 0h0m-68 1h0m42 0h0m22 0h0m59 0h0m8 0h0m-118 1h0m6 0h0m32 0h0m74 0h0m-98 1h0m-34 1h0m88 0h0m25 0h0m5 0h0m-103 1h0m29 0h0m29 0h0m50 0h0m-130 1h0m55 0h0m32 0h0m-27 1h0m42 0h0m17 0h0m4 0h0m16 0h0m-125 1h0m60 2h0m-58 1h0m8 0h0m18 0h0m3 0h0m21 0h0m78 0h0m-115 1h0m78 0h0m3 0h0m23 0h0m-131 1h0m2 0h0m24 0h0m6 0h0m37 0h0m17 0h0m3 0h0m21 0h0m6 0h0m-76 2h0m7 0h0m16 0h0m65 0h0m-117 1h0m-15 1h0m25 0h0m32 0h0m23 0h0m-53 1h0m6 0h0m103 0h0m8 0h0m-44 1h0m-87 1h0m42 0h0m46 0h0m24 0h0m18 0h0m-100 1h0m50 0h0m4 0h0m13 0h0m10 0h0m-96 1h0m-18 1h0m63 0h0m-19 1h0m33 0h0m10 0h0m26 0h0m-95 1h0m39 0h0m14 0h0m54 0h0m4 0h0m-126 1h0m78 0h0m-56 1h0m22 0h0m77 0h0m-114 1h0m23 0h0m40 0h0m42 0h0m-76 1h0m20 0h0m18 0h0m21 0h0m37 0h0m-99 1h0m17 0h0m10 0h0m-21 1h0m52 0h0m-95 1h0m17 0h0m14 0h0m26 0h0m10 0h0m8 0h0m9 0h0m50 0h0m-125 1h0m15 0h0m60 0h0m8 0h0m12 0h0m12 0h0m3 0h0m8 1h0m-77 2h0m26 1h0m30 0h0m-100 1h0m55 0h0m71 0h0m-120 1h0m14 0h0m5 0h0m37 0h0m23 0h0m-53 1h0m-20 1h0m27 0h0m46 0h0m27 1h0m6 0h0m13 0h0m-101 2h0m13 0h0m44 0h0m-80 1h0m15 0h0m36 0h0m48 0h0m4 0h0m18 0h0m-90 1h0m29 0h0m29 0h0m-22 1h0m18 0h0m-15 1h0m36 0h0m-98 1h0m28 0h0m72 0h0m9 0h0m-89 1h0m49 0h0m-66 1h0m45 0h0m27 0h0m31 0h0m11 0h0m-127 1h0m22 0h0m46 0h0m23 0h0m11 0h0m-32 1h0m29 0h0m-39 1h0m13 0h0m44 0h0m-109 1h0m19 0h0m39 0h0m-68 1h0m97 0h0m11 1h0m-103 1h0m77 1h0m31 0h0m10 0h0m7 0h0m-39 1h0m-14 1h0m12 0h0m-86 1h0m13 1h0m51 0h0m41 0h0m27 0h0m-124 2h0m86 0h0m32 0h0m-132 1h0m102 0h0m-109 1h0m81 0h0m57 0h0m-141 1h0m22 0h0m43 0h0m17 0h0m-10 1h0m23 0h0m36 0h0m-85 1h0m77 0h0m28 0h0m-139 1h0m8 0h0m15 0h0m54 0h0m27 0h0m29 0h0m-82 1h0m17 0h0m-32 1h0m40 0h0m16 0h0m6 0h0m10 0h0m-46 1h0m30 0h0m45 0h0m-134 1h0m42 0h0m39 0h0m34 0h0m-110 1h0m24 0h0m64 0h0m6 0h0m30 0h0m-140 1h0m7 0h0m25 0h0m99 0h0m-27 1h0m15 0h0m-133 1h0m98 0h0m-91 1h0m8 0h0m92 0h0m23 0h0m-108 1h0m6 0h0m7 0h0m22 0h0m11 0h0m9 0h0m8 0h0m11 0h0m19 0h0m26 0h0m21 0h0m-119 1h0m3 0h0m109 0h0m14 0h0m-150 1h0m127 2h0m2 0h0m17 0h0m-78 1h0m51 0h0m-148 1h0m7 0h0m10 0h0m4 0h0m21 0h0m134 0h0m-138 1h0m11 0h0m52 0h0m6 0h0m34 0h0m-47 1h0m67 0h0m4 0h0m-52 1h0m31 0h0m-38 1h0m20 0h0m-128 1h0m125 0h0m-98 1h0m69 0h0m38 0h0m-130 1h0m112 0h0m44 0h0m-8 1h0m21 0h0m-158 1h0m2 0h0m16 0h0m120 0h0m15 0h0m-138 1h0m85 0h0m4 0h0m46 0h0m3 0h0m-159 1h0m145 0h0m-160 1h0m9 0h0m107 1h0m-86 1h0m104 0h0m-133 1h0m19 0h0m4 0h0m100 1h0m14 0h0m28 0h0m-159 2h0m5 0h0m121 0h0m-135 1h0m142 0h0m3 1h0m10 0h0m-136 1h0m5 0h0m96 0h0m31 0h0m-142 1h0m113 0h0m20 0h0m-6 1h0m34 0h0m-167 2h0m48 0h0m-58 1h0m134 0h0m27 0h0m8 0h0m-2 1h0m9 0h0m-175 2h0m0 0h0m164 1h0m-26 1h0m17 0h0m8 1h0m-18 1h0m7 0h0m-20 1h0m34 0h0m-119 1h0m89 0h0m2 3h0m11 1h0m24 0h0m-23 1h0m-12 1h0m22 0h0m-12 1h0m11 4h0m-10 1h0m-3 1h0m16 0h0m7 0h0m-6 7h0m5 1h0m-12 4h0" stroke="#d81f1f" stroke-width="12" stroke-linecap="round" fill="none" stroke-opacity="0.95"/>
<path transform="scale(0.5)" d="M2764 2842h0m-34 205h0m7 0h0m-5 2h0m-6 1h0m22 0h0m-7 1h0m-23 3h0m22 1h0m-17 2h0m4 0h0m12 2h0m11 0h0m11 1h0m-19 1h0m4 0h0m-14 2h0m1 0h0m-25 1h0m18 0h0m24 0h0m-35 1h0m7 0h0m21 2h0m-28 1h0m17 0h0m31 0h0m-42 1h0m31 1h0m20 0h0m-61 2h0m2 1h0m43 0h0m31 0h0m3 0h0m-52 1h0m15 0h0m27 0h0m-48 1h0m26 0h0m-49 1h0m17 0h0m20 0h0m25 0h0m41 0h0m-9 1h0m-58 1h0m11 0h0m-6 1h0m20 0h0m2 0h0m-36 1h0m63 0h0m-77 1h0m43 0h0m28 0h0m-84 1h0m5 0h0m15 0h0m83 0h0m8 0h0m2 0h0m-91 1h0m16 1h0m56 0h0m-16 1h0m20 0h0m-94 1h0m16 0h0m37 0h0m23 0h0m24 0h0m-105 1h0m56 0h0m30 0h0m-74 1h0m20 0h0m39 0h0m-24 1h0m18 0h0m-58 1h0m7 0h0m8 0h0m26 1h0m34 0h0m-78 1h0m55 0h0m17 0h0m29 0h0m-62 1h0m53 0h0m-102 1h0m33 0h0m2 1h0m10 0h0m71 0h0m-43 1h0m24 0h0m9 0h0m-88 1h0m9 0h0m1 0h0m24 1h0m22 0h0m22 0h0m29 0h0m-3 1h0m-113 1h0m50 0h0m29 0h0m-81 1h0m106 0h0m-50 1h0m5 0h0m-64 1h0m61 0h0m11 0h0m14 0h0m18 0h0m-58 1h0m8 0h0m39 0h0m-83 1h0m20 0h0m9 0h0m72 0h0m-97 1h0m106 0h0m-111 1h0m93 0h0m-81 1h0m50 0h0m-54 1h0m11 0h0m16 0h0m17 0h0m6 0h0m12 0h0m9 0h0m28 0h0m11 0h0m-31 1h0m-61 1h0m19 0h0m21 0h0m48 0h0m-74 1h0m79 0h0m-53 1h0m11 0h0m16 0h0m7 0h0m-15 1h0m-74 1h0m54 0h0m-57 1h0m5 0h0m7 0h0m11 0h0m9 0h0m66 0h0m9 0h0m-71 2h0m11 0h0m26 0h0m-55 1h0m10 0h0m57 0h0m-4 1h0m35 0h0m-91 1h0m68 1h0m-54 1h0m13 0h0m44 0h0m19 0h0m-48 1h0m26 0h0m11 0h0m-59 1h0m13 0h0m10 0h0m-25 1h0m27 0h0m14 0h0m-35 1h0m37 0h0m26 0h0m3 1h0m-61 1h0m5 1h0m15 0h0m8 1h0m21 0h0m-47 1h0m14 0h0m48 0h0m-55 1h0m14 0h0m37 0h0m12 0h0m-133 1h0m100 0h0m8 0h0m5 0h0m-14 1h0m-33 2h0m-41 1h0m37 0h0m19 0h0m15 0h0m19 0h0m4 0h0m-48 1h0m65 1h0m-46 1h0m35 0h0m18 0h0m-59 2h0m9 0h0m16 0h0m9 0h0m22 1h0m-58 1h0m19 0h0m-34 1h0m4 0h0m31 0h0m31 0h0m-53 1h0m10 0h0m52 1h0m-70 1h0m43 0h0m8 0h0m-55 1h0m61 0h0m-34 1h0m39 1h0m-31 1h0m6 0h0m-15 1h0m43 2h0m-46 1h0m13 0h0m14 0h0m6 0h0m16 0h0m5 0h0m6 0h0m-81 1h0m10 0h0m5 0h0m26 0h0m32 2h0m-42 1h0m-83 2h0m56 0h0m8 0h0m6 0h0m20 0h0m28 0h0m14 0h0m-53 1h0m21 0h0m3 0h0m6 0h0m-54 1h0m-12 1h0m6 0h0m88 0h0m-96 2h0m64 0h0m6 0h0m9 0h0m-54 1h0m19 0h0m15 0h0m-54 1h0m14 0h0m34 0h0m5 0h0m28 1h0m-93 1h0m16 0h0m24 0h0m11 0h0m-15 1h0m-40 1h0m83 0h0m19 0h0m-28 1h0m35 0h0m-60 1h0m47 0h0m-88 1h0m43 0h0m37 0h0m11 0h0m-94 1h0m5 0h0m18 0h0m7 0h0m51 0h0m4 0h0m-98 1h0m23 0h0m47 0h0m-5 1h0m53 0h0m-82 1h0m6 0h0m-9 1h0m-29 1h0m19 0h0m57 0h0m30 0h0m7 0h0m-111 1h0m37 1h0m39 0h0m17 0h0m-65 1h0m34 0h0m38 0h0m-93 1h0m79 0h0m-36 1h0m7 0h0m23 0h0m17 0h0m-103 1h0m1 0h0m48 0h0m-23 1h0m22 0h0m-9 1h0m67 0h0m7 0h0m-57 1h0m36 1h0m1 0h0m-89 1h0m2 0h0m25 0h0m-11 1h0m48 0h0m14 0h0m-54 1h0m74 0h0m-101 1h0m10 0h0m12 0h0m93 0h0m-78 1h0m17 0h0m27 0h0m2 0h0m-73 1h0m18 0h0m17 0h0m33 0h0m-82 1h0m48 0h0m16 1h0m35 0h0m8 0h0m4 0h0m-90 1h0m12 0h0m30 0h0m5 0h0m23 1h0m-55 1h0m37 0h0m-27 1h0m11 0h0m26 0h0m20 0h0m-89 1h0m92 0h0m3 0h0m4 0h0m-110 1h0m55 0h0m35 0h0m-88 1h0m7 0h0m12 0h0m21 0h0m-18 1h0m48 0h0m-38 1h0m43 0h0m6 0h0m30 0h0m-111 1h0m14 0h0m15 0h0m30 0h0m35 0h0m-45 1h0m-34 1h0m28 0h0m61 0h0m-3 1h0m-39 1h0m9 0h0m11 0h0m29 0h0m-88 1h0m38 0h0m36 0h0m-65 2h0m39 0h0m-15 1h0m34 0h0m-54 1h0m10 0h0m1 0h0m18 0h0m-46 1h0m52 0h0m24 0h0m-17 1h0m23 0h0m-72 2h0m25 0h0m30 0h0m22 0h0m-83 1h0m6 1h0m1 1h0m32 0h0m8 0h0m22 1h0m-58 1h0m21 0h0m5 0h0m19 0h0m17 1h0m-53 1h0m39 0h0m8 0h0m-33 1h0m26 0h0m11 0h0m-40 1h0m44 1h0m-24 1h0m-33 1h0m25 0h0m-23 1h0m0 1h0m4 1h0m38 0h0m3 1h0m-26 1h0m18 0h0m8 0h0m7 0h0m-38 1h0m1 2h0m6 1h0m30 1h0m-22 1h0m5 0h0m-26 1h0m27 0h0m-15 1h0m6 4h0m11 0h0m-13 1h0" stroke="#1f74b8" stroke-width="12" stroke-linecap="round" fill="none" stroke-opacity="0.95"/>
<path transform="scale(0.5)" d="M2790 2978h0m-20 3h0m27 0h0m-21 1h0m8 1h0m21 4h0m-15 1h0m6 1h0m9 0h0m3 2h0m-7 1h0m12 0h0m-22 2h0m18 6h0m-19 3h0m6 2h0m5 1h0m10 1h0m-17 1h0m12 1h0m-61 3h0m44 1h0m-48 1h0m61 0h0m17 0h0m-25 2h0m18 0h0m-16 1h0m10 1h0m-30 1h0m13 0h0m-40 1h0m36 1h0m30 2h0m-28 3h0m26 0h0m5 0h0m-58 3h0m15 0h0m9 0h0m11 1h0m-18 1h0m23 2h0m-11 1h0m3 1h0m21 0h0m-19 4h0m-31 2h0m25 0h0m-13 3h0m8 1h0m19 1h0m19 0h0m-16 2h0m7 1h0m6 0h0m-42 2h0m36 0h0m-22 1h0m-26 1h0m30 0h0m-5 1h0m-10 2h0m37 2h0m-45 1h0m49 1h0m-19 1h0m7 0h0m-19 1h0m1 3h0m4 1h0m9 1h0m16 1h0m5 0h0m-12 6h0" stroke="#ff7f0e" stroke-width="12" stroke-linecap="round" fill="none" stroke-opacity="0.95"/>
<path transform="scale(0.5)" d="M3676 3092h0m-1 3h0" stroke="#440154" stroke-width="12" stroke-linecap="round" fill="none" stroke-opacity="0.9"/>
<path transform="scale(0.5)" d="M3696 3092h0m9 0h0m-25 2h0m57 1h0m-54 1h0m4 0h0m7 0h0m7 2h0m40 0h0m-26 1h0m-29 3h0m54 0h0m-57 1h0m5 0h0m7 0h0m20 0h0m15 2h0m-29 1h0m10 0h0m-3 2h0m14 2h0m13 0h0m-7 2h0m-52 8h0m109 9h0m-38 3h0m-1 12h0m-52 5h0m56 0h0m-15 5h0m4 11h0m19 2h0m-38 2h0m19 0h0m-10 4h0m-12 1h0m-1 1h0m26 0h0" stroke="#461062" stroke-width="12" stroke-linecap="round" fill="none" stroke-opacity="0.9"/>
<path transform="scale(0.5)" d="M3724 2835h0m-34 201h0m2 2h0m9 2h0m-1 4h0m-17 2h0m27 2h0m11 0h0m-15 1h0m-4 1h0m-10 1h0m-24 2h0m14 0h0m-7 3h0m17 0h0m40 2h0m-61 2h0m2 1h0m43 0h0m31 0h0m3 0h0m-37 1h0m27 0h0m-48 1h0m26 0h0m13 1h0m32 1h0m-58 1h0m11 0h0m-6 1h0m20 0h0m-34 1h0m-14 1h0m43 0h0m28 0h0m-84 1h0m111 0h0m2 0h0m-91 1h0m-2 2h0m37 0h0m21 0h0m2 0h0m18 0h0m-94 1h0m100 0h0m-105 1h0m56 0h0m15 0h0m-39 1h0m-25 1h0m58 0h0m17 1h0m-78 2h0m55 0h0m37 0h0m9 0h0m-62 1h0m-49 1h0m33 0h0m83 0h0m-81 1h0m38 1h0m24 0h0m-70 1h0m25 0h0m22 0h0m-65 2h0m-2 1h0m52 0h0m29 0h0m-20 1h0m45 0h0m-109 1h0m86 0h0m-40 1h0m8 0h0m18 0h0m21 0h0m18 1h0m-9 2h0m18 0h0m-76 2h0m72 0h0m11 0h0m-66 1h0m6 0h0m12 0h0m9 0h0m35 1h0m-69 1h0m74 1h0m-53 1h0m11 0h0m8 0h0m15 0h0m-69 2h0m75 0h0m9 0h0m-71 2h0m49 1h0m-4 1h0m35 0h0m-23 2h0m3 1h0m-29 1h0m26 0h0m11 0h0m-46 1h0m10 0h0m-25 1h0m27 0h0m14 0h0m-35 1h0m37 0h0m26 0h0m3 1h0m-61 1h0m5 1h0m15 0h0m-18 1h0m14 0h0m12 0h0m21 0h0m15 1h0m-55 1h0m14 0h0m24 0h0m-8 1h0m-1 1h0m-37 2h0m4 0h0m15 0h0m38 0h0m-94 1h0m46 0h0m25 0h0m-6 3h0m-6 2h0m9 0h0m25 0h0m22 0h0m-39 1h0m-34 1h0m15 0h0m20 0h0m-12 1h0m-10 1h0m-8 1h0m43 1h0m-47 1h0m27 0h0m39 1h0m-31 1h0m-9 2h0m-3 2h0m13 0h0m14 0h0m6 0h0m-44 1h0m5 0h0m26 0h0m-10 3h0m-19 2h0m26 0h0m-11 1h0m24 0h0m-48 1h0m-12 1h0m6 0h0m56 2h0m6 0h0m-45 1h0m19 0h0m15 0h0m-54 1h0m14 0h0m14 1h0m11 0h0m-51 1h0m16 0h0m20 0h0m-40 2h0m109 1h0m-60 1h0m-41 1h0m2 0h0m25 0h0m16 0h0m35 0h0m-94 1h0m13 0h0m23 0h0m34 1h0m-5 1h0m-29 1h0m-3 1h0m47 0h0m30 0h0m-104 2h0m37 1h0m25 0h0m14 0h0m-48 1h0m58 0h0m-36 1h0m30 0h0m-37 1h0m7 4h0m-25 1h0m-27 1h0m2 0h0m62 0h0m-40 1h0m-5 2h0m15 0h0m-27 1h0m18 1h0m-32 1h0m21 1h0m-7 4h0m-11 1h0m2 1h0" stroke="#471e70" stroke-width="12" stroke-linecap="round" fill="none" stroke-opacity="0.9"/>
<path transform="scale(0.5)" d="M3773 3024h0m-50 6h0m20 4h0m38 1h0m-84 1h0m-11 3h0m22 0h0m64 0h0m-22 1h0m-26 1h0m-46 2h0m9 3h0m12 1h0m32 0h0m30 2h0m-75 3h0m7 0h0m-18 1h0m35 0h0m44 1h0m9 1h0m-60 1h0m20 0h0m56 0h0m-98 1h0m31 1h0m-14 4h0m-29 2h0m17 0h0m20 0h0m66 0h0m-40 3h0m27 1h0m-85 2h0m15 0h0m83 0h0m-65 2h0m56 0h0m-9 2h0m-74 1h0m2 2h0m33 0h0m-25 1h0m26 1h0m28 1h0m-37 3h0m61 0h0m-88 2h0m10 0h0m97 0h0m-29 1h0m26 1h0m-59 3h0m45 0h0m-43 1h0m35 6h0m6 3h0m-12 5h0m42 5h0m-9 10h0m8 0h0m12 0h0m-18 5h0m10 2h0m11 0h0m7 1h0m-10 4h0m9 2h0m-19 2h0m6 0h0m-20 3h0m28 3h0m3 1h0m5 0h0m6 0h0m-8 3h0m-7 3h0m14 0h0m-62 1h0m30 0h0m9 0h0m28 2h0m-17 2h0m-26 2h0m5 0h0m28 1h0m-23 3h0m9 0h0m19 0h0m-6 2h0m-8 1h0m11 0h0m-9 1h0m20 2h0m-1 3h0m-18 1h0m7 2h0m-43 1h0m40 1h0m-55 1h0m-9 2h0m67 0h0m-13 1h0m-1 1h0m-72 1h0m62 1h0m-81 1h0m10 0h0m44 1h0m61 0h0m-70 1h0m33 0h0m3 0h0m-37 2h0m16 0h0m35 0h0m-36 1h0m5 0h0m-35 1h0m3 1h0m10 1h0m60 2h0m-94 1h0m12 0h0m13 2h0m-32 1h0m14 0h0m1 2h0" stroke="#462c7a" stroke-width="12" stroke-linecap="round" fill="none" stroke-opacity="0.9"/>
<path transform="scale(0.5)" d="M3750 2968h0m-20 3h0m6 1h0m29 5h0m-15 1h0m6 1h0m-6 13h0m6 3h0m5 1h0m10 1h0m-17 1h0m12 1h0m-61 3h0m44 1h0m13 0h0m17 0h0m-78 1h0m53 1h0m2 1h0m16 0h0m-6 1h0m-17 1h0m-13 1h0m-27 1h0m36 1h0m30 1h0m-2 3h0m5 0h0m-31 1h0m-27 2h0m24 0h0m11 1h0m-6 3h0m11 0h0m-8 2h0m2 3h0m-6 3h0m-13 3h0m27 1h0m10 3h0m6 0h0m-42 3h0m18 2h0m-5 1h0m-10 1h0m37 3h0m4 1h0m-31 2h0m19 0h0m-18 3h0m34 3h0m-12 6h0m57 115h0m-11 5h0m-18 1h0m20 3h0m4 0h0m-20 2h0m-18 1h0m-16 1h0m26 0h0m20 0h0m6 1h0m4 0h0m-55 1h0m-13 1h0m-18 1h0m48 0h0m5 1h0m6 0h0m-52 1h0m30 0h0m-10 1h0m-6 1h0m61 0h0m-42 2h0m9 0h0m11 0h0m-59 1h0m9 2h0m24 1h0m9 0h0m-29 1h0m11 0h0m-28 1h0m4 3h0m6 0h0m1 3h0" stroke="#433981" stroke-width="12" stroke-linecap="round" fill="none" stroke-opacity="0.9"/>
<path transform="scale(0.5)" d="M3757 2971h0m-13 2h0m21 6h0m-4 3h0m12 0h0m-22 2h0m18 5h0m-34 29h0m2 2h0m28 17h0m41 155h0m23 3h0m-17 1h0m7 3h0m10 1h0m-50 1h0m36 0h0m-26 2h0m19 0h0m-44 2h0m25 1h0m24 0h0m-17 1h0m6 1h0m-30 1h0m-25 1h0m33 1h0m8 0h0m-36 3h0m21 0h0m2 3h0m26 0h0m-17 3h0m-23 2h0m0 1h0" stroke="#404688" stroke-width="12" stroke-linecap="round" fill="none" stroke-opacity="0.9"/>
<path transform="scale(0.5)" d="M3680 2971h0m3 5h0m85 5h0m-90 3h0m-14 2h0m3 5h0m22 9h0m130 207h0m5 2h0m-14 4h0m-32 1h0m19 0h0m17 0h0m-14 1h0m-39 1h0m47 0h0m4 1h0m-40 1h0m44 0h0m-24 2h0m-33 1h0m6 3h0m38 0h0m-5 1h0m15 0h0m-38 1h0m31 0h0m-30 2h0m-7 4h0m12 1h0m4 5h0" stroke="#3b528a" stroke-width="12" stroke-linecap="round" fill="none" stroke-opacity="0.9"/>
<path transform="scale(0.5)" d="M3675 2921h0m5 2h0m-4 8h0m-17 3h0m22 0h0m2 4h0m-8 5h0m-1 3h0m3 4h0m0 7h0m-5 3h0m-5 3h0m-14 1h0m-5 2h0m25 3h0m-7 2h0m-19 2h0m38 1h0m-30 2h0m-10 2h0m-24 3h0m32 0h0m4 0h0m9 0h0m7 0h0m-25 1h0m36 0h0m-46 2h0m0 3h0m15 1h0m31 1h0m-67 2h0m61 1h0m11 1h0m-61 1h0m10 0h0m34 0h0m-54 1h0m33 1h0m-16 5h0m2 0h0m-16 5h0m6 1h0m-19 3h0m28 0h0m-12 2h0m-5 7h0m-17 4h0m26 0h0m178 201h0m-26 1h0m2 4h0m30 1h0m-22 1h0m5 0h0m1 2h0m-9 4h0m11 0h0" stroke="#365d8c" stroke-width="12" stroke-linecap="round" fill="none" stroke-opacity="0.9"/>
<path transform="scale(0.5)" d="M3649 2910h0m17 10h0m-9 1h0m-11 2h0m12 3h0m-12 2h0m23 0h0m-17 4h0m14 2h0m18 0h0m-13 1h0m-5 4h0m-10 1h0m11 1h0m-19 3h0m9 0h0m10 2h0m-41 2h0m10 0h0m2 0h0m8 1h0m2 0h0m14 1h0m-38 1h0m29 3h0m6 2h0m-28 1h0m34 0h0m-21 1h0m-7 1h0m-10 3h0m7 0h0m6 0h0m-37 2h0m9 1h0m-6 1h0m10 0h0m27 0h0m-11 3h0m33 0h0m-50 5h0m5 1h0m9 1h0m9 0h0m-19 1h0m10 2h0m-53 5h0m36 0h0m4 3h0m-12 2h0m28 1h0m16 0h0m-51 5h0m24 2h0m22 0h0m-32 2h0m15 1h0m-10 4h0m-25 2h0m9 0h0m-17 1h0m30 0h0m-42 3h0m35 4h0m1 0h0m-6 2h0m22 0h0m-31 1h0m18 8h0" stroke="#31678d" stroke-width="12" stroke-linecap="round" fill="none" stroke-opacity="0.9"/>
<path transform="scale(0.5)" d="M3639 2903h0m6 0h0m-17 4h0m14 1h0m-4 1h0m-5 1h0m-17 1h0m7 0h0m-7 3h0m24 0h0m-31 3h0m16 0h0m-4 1h0m27 0h0m-48 2h0m58 0h0m-41 2h0m14 1h0m5 0h0m13 0h0m-20 1h0m-13 2h0m25 2h0m-45 1h0m7 0h0m-6 5h0m-19 1h0m18 3h0m4 4h0m-22 4h0m36 1h0m-24 1h0m41 0h0m-33 4h0m20 0h0m-8 2h0m-23 2h0m17 0h0m-10 1h0m20 0h0m-13 1h0m7 0h0m15 1h0m-52 1h0m4 1h0m17 2h0m-7 1h0m29 2h0m-41 1h0m6 1h0m15 2h0m8 1h0m-15 2h0m50 0h0m-69 2h0m27 0h0m-33 2h0m23 0h0m21 0h0m-18 1h0m-34 1h0m14 1h0m-24 1h0m16 0h0m33 1h0m5 0h0m-50 1h0m39 1h0m-16 1h0m29 2h0m26 0h0m-41 1h0m7 0h0m-41 1h0m21 0h0m-8 1h0m23 3h0m-22 2h0m-28 1h0m35 0h0m26 0h0m10 0h0m-41 1h0m13 0h0m15 0h0m-34 2h0m29 0h0m-17 1h0m-19 1h0m-10 4h0m20 1h0m-14 1h0m9 1h0m14 1h0m0 0h0m10 1h0m22 9h0" stroke="#2d728e" stroke-width="12" stroke-linecap="round" fill="none" stroke-opacity="0.9"/>
<path transform="scale(0.5)" d="M3593 2909h0m-7 2h0m-7 2h0m-2 2h0m-9 4h0m19 0h0m8 0h0m-39 1h0m47 1h0m-27 1h0m-12 2h0m-5 1h0m25 2h0m-12 5h0m10 0h0m13 0h0m-29 2h0m43 0h0m-64 1h0m13 2h0m-12 1h0m26 1h0m12 1h0m-22 1h0m31 0h0m-52 1h0m16 0h0m10 0h0m-24 3h0m13 1h0m29 0h0m-21 2h0m5 0h0m9 0h0m-65 4h0m46 0h0m-32 1h0m42 0h0m8 0h0m15 1h0m-40 1h0m-16 3h0m14 0h0m-21 1h0m28 0h0m6 0h0m-21 4h0m-24 1h0m45 0h0m-33 1h0m31 0h0m6 0h0m-16 1h0m27 0h0m-30 1h0m18 2h0m-28 1h0m1 4h0m8 1h0m26 1h0m-47 2h0m0 5h0m-3 1h0m15 0h0m-29 2h0m16 0h0m11 2h0m-13 2h0m26 0h0m2 0h0m7 4h0m-29 2h0m4 4h0m12 2h0" stroke="#287c8e" stroke-width="12" stroke-linecap="round" fill="none" stroke-opacity="0.9"/>
<path transform="scale(0.5)" d="M3580 2909h0m-11 4h0m-1 1h0m-16 12h0m-7 5h0m-8 4h0m12 0h0m-18 6h0m3 3h0m12 0h0m-27 1h0m10 1h0m1 4h0m18 2h0m-9 1h0m-21 1h0m5 5h0m-9 2h0m-17 2h0m27 0h0m16 2h0m-52 3h0m44 0h0m-51 1h0m36 1h0m-16 2h0m15 0h0m-30 1h0m15 2h0m-19 2h0m6 0h0m7 0h0m15 0h0m6 0h0m-2 3h0m-23 4h0m13 0h0m-1 1h0m13 2h0" stroke="#25878d" stroke-width="12" stroke-linecap="round" fill="none" stroke-opacity="0.9"/>
<path transform="scale(0.5)" d="M3697 2883h0m9 2h0m-28 1h0m22 0h0m-8 1h0m4 2h0m-6 1h0m13 1h0m-31 1h0m-1 3h0m-8 1h0m17 1h0m21 0h0m-8 1h0m-36 2h0m25 0h0m-10 5h0m2 0h0m19 0h0m-25 1h0m-5 3h0m16 1h0m-20 2h0m4 0h0m13 1h0m13 1h0m-38 1h0m20 1h0m13 0h0m-183 40h0m5 2h0m-4 3h0m4 2h0m-13 5h0" stroke="#21918c" stroke-width="12" stroke-linecap="round" fill="none" stroke-opacity="0.9"/>
<path transform="scale(0.5)" d="M3687 2900h0m-28 3h0m-7 1h0" stroke="#219b89" stroke-width="12" stroke-linecap="round" fill="none" stroke-opacity="0.9"/>
<path transform="scale(0.5)" d="M3623 2873h0m-18 13h0m1 3h0" stroke="#22a485" stroke-width="12" stroke-linecap="round" fill="none" stroke-opacity="0.9"/>
<path transform="scale(0.5)" d="M3642 2842h0m-10 11h0m7 1h0m-10 6h0m10 0h0m4 0h0m-21 1h0m-2 4h0m27 2h0m-23 1h0m13 1h0m-8 2h0m-15 2h0m24 2h0m-23 1h0m6 2h0m-9 1h0m9 3h0m-6 4h0m-9 3h0" stroke="#2aae7f" stroke-width="12" stroke-linecap="round" fill="none" stroke-opacity="0.9"/>
<path transform="scale(0.5)" d="M3664 2842h0m-10 2h0m34 0h0m-26 1h0m-5 4h0m5 1h0m-16 1h0m7 0h0m-6 3h0m7 1h0m6 0h0m7 0h0m8 1h0m-24 1h0m9 4h0m11 1h0m-36 7h0m18 0h0m-3 1h0m-6 5h0m-10 1h0m-8 2h0m5 3h0m5 0h0m27 4h0m-10 10h0" stroke="#39b777" stroke-width="12" stroke-linecap="round" fill="none" stroke-opacity="0.9"/>
<path transform="scale(0.5)" d="M3677 2845h0m13 2h0m-4 3h0m-8 1h0m11 3h0m11 1h0m-22 1h0m-14 5h0m52 2h0" stroke="#49c06d" stroke-width="12" stroke-linecap="round" fill="none" stroke-opacity="0.9"/>
<path transform="scale(0.5)" d="M3707 2842h0m7 1h0m-9 3h0m11 2h0m-17 1h0m10 6h0m8 0h0m-1 11h0" stroke="#5fc860" stroke-width="12" stroke-linecap="round" fill="none" stroke-opacity="0.9"/>
<path transform="scale(0.5)" d="M3714 2813h0m69 28h0m-10 2h0m-51 3h0m24 2h0m51 11h0m-27 1h0m28 1h0m-69 1h0m37 1h0m-18 1h0m-3 2h0" stroke="#75d054" stroke-width="12" stroke-linecap="round" fill="none" stroke-opacity="0.9"/>
<path transform="scale(0.5)" d="M3767 2754h0m-58 1h0m6 0h0m47 2h0m-53 4h0m29 0h0m20 3h0m16 1h0m-84 2h0m51 0h0m-99 3h0m27 1h0m31 1h0m89 0h0m-136 1h0m56 0h0m34 0h0m-19 1h0m-11 1h0m-14 2h0m-15 1h0m-34 1h0m44 1h0m74 0h0m5 1h0m-43 1h0m15 0h0m17 0h0m4 0h0m-109 1h0m28 3h0m32 0h0m70 0h0m-73 2h0m17 0h0m3 1h0m-49 1h0m-29 1h0m10 1h0m32 0h0m-30 1h0m109 0h0m-103 1h0m-20 1h0m130 0h0m-33 1h0m15 0h0m-119 2h0m63 0h0m-19 1h0m33 0h0m10 0h0m26 0h0m-95 1h0m53 0h0m10 1h0m-34 1h0m77 0h0m-114 1h0m23 0h0m40 0h0m42 0h0m-76 1h0m59 0h0m37 0h0m-82 1h0m10 0h0m20 1h0m11 0h0m-86 1h0m8 0h0m14 0h0m26 0h0m10 0h0m8 0h0m59 0h0m-110 1h0m60 0h0m8 0h0m12 0h0m15 0h0m8 0h0m-77 2h0m11 2h0m15 0h0m30 0h0m-100 1h0m6 0h0m120 0h0m-101 1h0m7 0h0m-20 1h0m100 2h0m6 0h0m13 0h0m-88 1h0m15 1h0m70 0h0m-121 1h0m15 0h0m45 0h0m-29 1h0m36 0h0m22 0h0m-19 1h0m15 0h0m21 1h0m-29 1h0m31 0h0m9 0h0m-89 1h0m55 0h0m31 0h0m11 0h0m-127 1h0m13 0h0m9 0h0m80 0h0m-34 1h0m2 0h0m21 0h0m8 0h0m-39 1h0m57 0h0m-90 1h0m46 0h0m-65 1h0m58 0h0m29 0h0m11 2h0m15 1h0m7 0h0m-53 2h0m14 0h0m-88 1h0m86 0h0m-73 1h0m51 0h0m41 0h0m27 0h0m-38 2h0m32 0h0m-132 1h0m14 0h0m-21 1h0m81 0h0m-2 1h0m13 1h0m28 1h0m28 0h0m-62 1h0m27 0h0m-28 2h0m22 0h0m10 0h0m29 1h0m-53 1h0m34 0h0m-22 1h0m6 0h0m30 0h0m-9 1h0m-27 1h0m15 0h0m-35 1h0m32 0h0m-23 1h0m55 0h0m-66 1h0m19 0h0m26 0h0m28 0h0m-14 1h0m-7 2h0m-2 1h0m-59 1h0m4 1h0m40 1h0m20 0h0m-48 1h0m52 0h0m-59 2h0" stroke="#90d643" stroke-width="12" stroke-linecap="round" fill="none" stroke-opacity="0.9"/>
<path transform="scale(0.5)" d="M3748 2730h0m-5 1h0m-11 2h0m-10 3h0m-10 1h0m38 0h0m19 0h0m-49 1h0m37 0h0m20 0h0m-68 1h0m31 0h0m-27 2h0m19 0h0m47 0h0m5 0h0m-14 1h0m-29 1h0m22 0h0m-65 1h0m30 0h0m27 0h0m-5 1h0m-31 1h0m12 0h0m-7 1h0m21 0h0m23 0h0m19 0h0m-34 1h0m-43 1h0m64 0h0m-91 1h0m22 0h0m83 0h0m-72 1h0m10 0h0m14 0h0m40 0h0m-110 1h0m-11 1h0m98 0h0m-93 1h0m15 0h0m55 0h0m7 0h0m-60 1h0m15 0h0m4 0h0m84 0h0m-131 1h0m63 0h0m5 0h0m29 0h0m30 0h0m-91 1h0m13 0h0m-47 1h0m6 0h0m103 0h0m20 1h0m-113 1h0m7 0h0m6 0h0m39 0h0m51 0h0m-75 1h0m34 0h0m63 0h0m-52 1h0m-15 1h0m26 0h0m32 0h0m-106 1h0m3 0h0m95 0h0m-121 1h0m41 1h0m48 0h0m-104 1h0m64 0h0m13 0h0m-66 1h0m11 0h0m49 0h0m48 0h0m0 0h0m33 0h0m-134 1h0m75 0h0m-44 1h0m83 0h0m-43 1h0m23 0h0m-92 1h0m11 0h0m5 0h0m59 0h0m-38 1h0m58 0h0m-5 1h0m-102 1h0m74 0h0m19 0h0m34 0h0m-64 1h0m66 0h0m8 0h0m-131 1h0m13 0h0m38 0h0m13 0h0m61 0h0m-106 1h0m62 1h0m25 0h0m-98 1h0m58 0h0m-80 1h0m55 0h0m5 2h0m79 0h0m-115 3h0m21 0h0m21 0h0m-50 1h0m13 0h0m78 0h0m3 0h0m23 0h0m-131 1h0m2 0h0m24 0h0m6 0h0m78 0h0m6 0h0m-69 2h0m16 0h0m65 0h0m-132 2h0m80 0h0m64 1h0m-89 2h0m45 0h0m1 0h0m-58 1h0m50 0h0m4 0h0m-73 1h0m96 0h0m-57 3h0m72 0h0m-126 1h0m22 1h0m34 2h0m18 0h0m-41 1h0m6 1h0m-43 1h0m116 0h0m-90 6h0m65 1h0m-46 1h0m46 0h0m2 3h0m-57 1h0m76 1h0m4 0h0m-95 3h0m28 1h0m20 2h0m-60 4h0m5 3h0m77 0h0m31 0h0m-14 7h0m33 4h0m-41 3h0m34 20h0m-44 1h0m36 0h0m21 0h0m-20 1h0m15 0h0m-3 1h0m3 0h0m-53 1h0m39 0h0m-44 3h0m18 0h0" stroke="#acdc31" stroke-width="12" stroke-linecap="round" fill="none" stroke-opacity="0.9"/>
<path transform="scale(0.5)" d="M3728 2738h0m65 22h0m-21 40h0m-18 66h0m-15 4h0m13 6h0m28 0h0m-42 1h0m9 1h0m7 1h0m9 2h0m-31 1h0m2 0h0m20 0h0m-6 1h0m34 0h0m-43 3h0m27 0h0m8 0h0m-2 1h0m-28 4h0m17 0h0m8 1h0m3 2h0m-28 4h0" stroke="#c8e026" stroke-width="12" stroke-linecap="round" fill="none" stroke-opacity="0.9"/>
<path transform="scale(0.5)" d="M3757 2880h0m10 0h0m14 7h0m-11 3h0m-32 3h0m13 0h0m7 0h0m-16 2h0m13 4h0m24 0h0m-23 1h0m10 0h0m-22 1h0m10 1h0m11 4h0m-13 1h0m23 0h0" stroke="#e2e425" stroke-width="12" stroke-linecap="round" fill="none" stroke-opacity="0.9"/>
<path transform="scale(0.5)" d="M3755 2906h0m13 2h0m1 6h0m5 2h0m-12 3h0" stroke="#fde725" stroke-width="12" stroke-linecap="round" fill="none" stroke-opacity="0.9"/>
<text x="1580" y="1223" text-anchor="middle" font-size="25.6">NT</text>
<path d="M1346.5 1244.8H1857.3" stroke="#333" stroke-width="1.5" fill="none"/>
<text x="1357" y="1285.2" text-anchor="middle" font-size="25.7">Celltype</text>
<text x="1846" y="1285.2" text-anchor="middle" font-size="25.7">Pseudotime</text>
<circle cx="1547.6" cy="1430.1" r="5.1" fill="#1f77b4"/>
<text x="1563.2" y="1436">HSC/MPP</text>
<circle cx="1547.6" cy="1465.1" r="5.1" fill="#ff7f0e"/>
<text x="1563.2" y="1471">CMP</text>
<circle cx="1547.6" cy="1500.1" r="5.1" fill="#279e68"/>
<text x="1563.2" y="1506">GMP</text>
<circle cx="1547.6" cy="1535.1" r="5.1" fill="#d62728"/>
<text x="1563.2" y="1541">Mono</text>
<text transform="translate(1276.4 1656) rotate(17.5)" text-anchor="middle" font-family="DejaVu Sans, sans-serif" font-size="25.5" y="9.2">UMAP1</text>
<text transform="translate(1498.3 1622.5) rotate(-44)" text-anchor="middle" font-family="DejaVu Sans, sans-serif" font-size="25.5" y="9.2">UMAP2</text>
<text transform="translate(1760.6 1654.7) rotate(17.5)" text-anchor="middle" font-family="DejaVu Sans, sans-serif" font-size="25.5" y="9.2">UMAP1</text>
<text transform="translate(1984.3 1621.7) rotate(-44)" text-anchor="middle" font-family="DejaVu Sans, sans-serif" font-size="25.5" y="9.2">UMAP2</text>
<text transform="translate(2028 1452) rotate(-90)" text-anchor="middle" font-family="DejaVu Sans, sans-serif" font-size="25.5" y="9.2">UMAP3</text>
<rect x="2053.1" y="1278.4" width="14.4" height="407.9" fill="url(#gvir)" stroke="#111" stroke-width="1.3"/>
<text x="2080.5" y="1290" font-family="DejaVu Sans, sans-serif" font-size="25.6">1.0</text>
<text x="2080.5" y="1371.2" font-family="DejaVu Sans, sans-serif" font-size="25.6">0.8</text>
<text x="2080.5" y="1452.4" font-family="DejaVu Sans, sans-serif" font-size="25.6">0.6</text>
<text x="2080.5" y="1533.6" font-family="DejaVu Sans, sans-serif" font-size="25.6">0.4</text>
<text x="2080.5" y="1614.8" font-family="DejaVu Sans, sans-serif" font-size="25.6">0.2</text>
<text x="2080.5" y="1696" font-family="DejaVu Sans, sans-serif" font-size="25.6">0.0</text>
<path d="M2067.5 1279.4h6.5M2067.5 1360.6h6.5M2067.5 1441.8h6.5M2067.5 1523h6.5M2067.5 1604.2h6.5M2067.5 1685.4h6.5" stroke="#111" stroke-width="1.5" fill="none"/>
<!-- gg -->
<path d="M155.2 2136.1L155 2140.2L155 2144.3L155 2148.4L155 2152.5L155 2156.6L155 2160.7L155 2164.7L155 2168.8L155 2172.9L155 2177L154.9 2181.1L154.9 2185.2L154.9 2189.3L154.9 2193.4L154.9 2197.5L154.9 2201.5L154.9 2205.6L154.9 2209.7L154.9 2213.8L154.9 2217.9L154.9 2222L154.9 2226.1L154.8 2230.2L154.6 2234.3L154.3 2238.3L154 2242.4L153.5 2246.5L153 2250.6L152.5 2254.7L151.9 2258.8L151.2 2262.9L150.5 2267L149.5 2271.1L148.3 2275.1L147 2279.2L145.6 2283.3L144.2 2287.4L143.1 2291.5L142.4 2295.6L142.4 2299.7L142.5 2303.8L142.3 2307.9L141.5 2311.9L139.9 2316L137.5 2320.1L134.5 2324.2L131 2328.3L127.3 2332.4L123.7 2336.5L120.9 2340.6L119.3 2344.7L119.6 2348.7L121.9 2352.8L126.1 2356.9L131.7 2361L138.2 2365.1L144.5 2369.2L149.7 2373.3L155.2 2377.4L155.2 2377.4L160.6 2373.3L165.8 2369.2L172.2 2365.1L178.6 2361L184.2 2356.9L188.4 2352.8L190.7 2348.7L191.1 2344.7L189.5 2340.6L186.6 2336.5L183 2332.4L179.3 2328.3L175.9 2324.2L172.9 2320.1L170.5 2316L168.8 2311.9L168 2307.9L167.9 2303.8L168 2299.7L167.9 2295.6L167.3 2291.5L166.1 2287.4L164.7 2283.3L163.3 2279.2L162 2275.1L160.9 2271.1L159.9 2267L159.1 2262.9L158.4 2258.8L157.9 2254.7L157.3 2250.6L156.8 2246.5L156.4 2242.4L156 2238.3L155.8 2234.3L155.6 2230.2L155.5 2226.1L155.4 2222L155.4 2217.9L155.4 2213.8L155.4 2209.7L155.4 2205.6L155.4 2201.5L155.4 2197.5L155.4 2193.4L155.4 2189.3L155.4 2185.2L155.4 2181.1L155.4 2177L155.4 2172.9L155.4 2168.8L155.4 2164.7L155.4 2160.7L155.3 2156.6L155.3 2152.5L155.3 2148.4L155.3 2144.3L155.3 2140.2L155.2 2136.1z" fill="#3a7cb6" stroke="#1a1a1a" stroke-width="1.5" stroke-linejoin="round"/>
<path d="M248.1 2248.4L247.3 2250.5L246.6 2252.7L245.7 2254.8L244.6 2256.9L243.2 2259.1L241.5 2261.2L239.3 2263.4L236.7 2265.5L233.8 2267.6L230.8 2269.8L227.6 2271.9L224.5 2274L221.4 2276.2L218.6 2278.3L216.1 2280.4L213.8 2282.6L212.2 2284.7L211.2 2286.8L211.1 2289L211.5 2291.1L212.3 2293.2L213.3 2295.4L214.5 2297.5L216.1 2299.7L217.7 2301.8L219.4 2303.9L221.1 2306.1L222.8 2308.2L224.3 2310.3L225.6 2312.5L226.6 2314.6L227.4 2316.7L228 2318.9L228.6 2321L229 2323.1L229.2 2325.3L229.2 2327.4L229 2329.5L228.6 2331.7L228.2 2333.8L227.8 2336L227.6 2338.1L227.5 2340.2L227.7 2342.4L228.1 2344.5L228.7 2346.6L229.7 2348.8L230.9 2350.9L232.6 2353L234.5 2355.2L236.6 2357.3L238.8 2359.4L240.8 2361.6L242.6 2363.7L244.1 2365.8L245.3 2368L246.3 2370.1L247.1 2372.3L248.1 2374.4L248.1 2374.4L249 2372.3L249.9 2370.1L250.9 2368L252.1 2365.8L253.6 2363.7L255.4 2361.6L257.4 2359.4L259.6 2357.3L261.7 2355.2L263.6 2353L265.2 2350.9L266.5 2348.8L267.4 2346.6L268.1 2344.5L268.5 2342.4L268.7 2340.2L268.6 2338.1L268.3 2336L268 2333.8L267.5 2331.7L267.2 2329.5L266.9 2327.4L266.9 2325.3L267.2 2323.1L267.6 2321L268.1 2318.9L268.8 2316.7L269.6 2314.6L270.6 2312.5L271.8 2310.3L273.4 2308.2L275.1 2306.1L276.8 2303.9L278.5 2301.8L280.1 2299.7L281.6 2297.5L282.9 2295.4L283.9 2293.2L284.7 2291.1L285.1 2289L284.9 2286.8L284 2284.7L282.4 2282.6L280.1 2280.4L277.6 2278.3L274.7 2276.2L271.7 2274L268.6 2271.9L265.4 2269.8L262.4 2267.6L259.5 2265.5L256.9 2263.4L254.7 2261.2L252.9 2259.1L251.6 2256.9L250.5 2254.8L249.6 2252.7L248.9 2250.5L248.1 2248.4z" fill="#ee8a2a" stroke="#1a1a1a" stroke-width="1.5" stroke-linejoin="round"/>
<path d="M341 2096.5L340.6 2100.5L340.4 2104.5L340 2108.5L339.7 2112.5L339.3 2116.5L338.9 2120.4L338.5 2124.4L338 2128.4L337.5 2132.4L336.9 2136.4L336.3 2140.4L335.6 2144.4L334.9 2148.4L334.2 2152.3L333.4 2156.3L332.5 2160.3L331.5 2164.3L330.4 2168.3L329.2 2172.3L327.6 2176.3L325.5 2180.3L322.8 2184.2L319.3 2188.2L315.5 2192.2L312 2196.2L309.2 2200.2L307.2 2204.2L305.6 2208.2L304.6 2212.2L304 2216.2L304 2220.1L304.5 2224.1L305.4 2228.1L306.6 2232.1L308 2236.1L309.7 2240.1L311.4 2244.1L313.1 2248.1L314.3 2252L315.1 2256L315.4 2260L315.3 2264L315.2 2268L315.3 2272L315.8 2276L316.9 2280L318.5 2283.9L320.7 2287.9L323.4 2291.9L326.5 2295.9L329.6 2299.9L332.6 2303.9L335.2 2307.9L337.1 2311.9L338.5 2315.8L339.4 2319.8L340 2323.8L340.5 2327.8L341 2331.8L341 2331.8L341.5 2327.8L342 2323.8L342.6 2319.8L343.5 2315.8L344.9 2311.9L346.8 2307.9L349.4 2303.9L352.4 2299.9L355.5 2295.9L358.6 2291.9L361.3 2287.9L363.5 2283.9L365.2 2280L366.2 2276L366.7 2272L366.8 2268L366.7 2264L366.6 2260L366.9 2256L367.7 2252L369 2248.1L370.6 2244.1L372.3 2240.1L374 2236.1L375.4 2232.1L376.6 2228.1L377.5 2224.1L378 2220.1L378 2216.2L377.5 2212.2L376.4 2208.2L374.8 2204.2L372.8 2200.2L370 2196.2L366.5 2192.2L362.7 2188.2L359.2 2184.2L356.5 2180.3L354.4 2176.3L352.8 2172.3L351.6 2168.3L350.5 2164.3L349.5 2160.3L348.6 2156.3L347.8 2152.3L347.1 2148.4L346.4 2144.4L345.7 2140.4L345.1 2136.4L344.6 2132.4L344 2128.4L343.5 2124.4L343.1 2120.4L342.7 2116.5L342.3 2112.5L342 2108.5L341.7 2104.5L341.4 2100.5L341 2096.5z" fill="#3b9b6c" stroke="#1a1a1a" stroke-width="1.5" stroke-linejoin="round"/>
<path d="M433.9 2011L433.9 2014.3L433.8 2017.6L433.8 2020.9L433.7 2024.1L433.7 2027.4L433.6 2030.7L433.6 2033.9L433.5 2037.2L433.4 2040.5L433.1 2043.8L432.5 2047L431.7 2050.3L430.3 2053.6L428.4 2056.8L425.8 2060.1L422.4 2063.4L418.4 2066.6L414 2069.9L409.6 2073.2L405.4 2076.5L401.7 2079.7L399.1 2083L398 2086.3L398.5 2089.5L400.8 2092.8L404.3 2096.1L408.7 2099.4L413.3 2102.6L417.7 2105.9L421.4 2109.2L424.3 2112.4L426.3 2115.7L427.7 2119L428.5 2122.3L429.1 2125.5L429.6 2128.8L430.1 2132.1L430.4 2135.3L430.6 2138.6L430.7 2141.9L430.8 2145.2L431 2148.4L431.1 2151.7L431.2 2155L431.4 2158.2L431.5 2161.5L431.6 2164.8L431.8 2168.1L431.9 2171.3L432 2174.6L432.1 2177.9L432.3 2181.1L432.4 2184.4L432.5 2187.7L432.7 2190.9L433 2194.2L433.3 2197.5L433.5 2200.8L433.9 2204L433.9 2204L434.3 2200.8L434.6 2197.5L434.9 2194.2L435.1 2190.9L435.3 2187.7L435.5 2184.4L435.6 2181.1L435.7 2177.9L435.8 2174.6L436 2171.3L436.1 2168.1L436.2 2164.8L436.4 2161.5L436.5 2158.2L436.6 2155L436.8 2151.7L436.9 2148.4L437 2145.2L437.2 2141.9L437.3 2138.6L437.5 2135.3L437.8 2132.1L438.2 2128.8L438.7 2125.5L439.3 2122.3L440.2 2119L441.5 2115.7L443.5 2112.4L446.5 2109.2L450.1 2105.9L454.6 2102.6L459.2 2099.4L463.6 2096.1L467.1 2092.8L469.3 2089.5L469.9 2086.3L468.7 2083L466.1 2079.7L462.5 2076.5L458.3 2073.2L453.9 2069.9L449.5 2066.6L445.5 2063.4L442.1 2060.1L439.5 2056.8L437.5 2053.6L436.2 2050.3L435.3 2047L434.8 2043.8L434.5 2040.5L434.4 2037.2L434.3 2033.9L434.2 2030.7L434.2 2027.4L434.1 2024.1L434.1 2020.9L434 2017.6L434 2014.3L433.9 2011z" fill="#d23c3d" stroke="#1a1a1a" stroke-width="1.5" stroke-linejoin="round"/>
<path d="M618.2 2317.8L617.2 2318.7L616.3 2319.7L615.3 2320.6L614.2 2321.6L613 2322.5L611.8 2323.5L610.5 2324.4L609.2 2325.4L607.9 2326.3L606.6 2327.2L605.4 2328.2L604.2 2329.1L603.2 2330.1L602.3 2331L601.5 2332L600.8 2332.9L600 2333.8L599.2 2334.8L598.4 2335.7L597.6 2336.7L596.8 2337.6L596 2338.6L595.2 2339.5L594.3 2340.5L593.5 2341.4L592.7 2342.3L591.9 2343.3L591.1 2344.2L590.3 2345.2L589.6 2346.1L589 2347.1L588.8 2348L588.9 2349L589.6 2349.9L590.9 2350.8L592.7 2351.8L594.8 2352.7L597 2353.7L599.3 2354.6L601.3 2355.6L603.1 2356.5L604.6 2357.4L606 2358.4L607.4 2359.3L608.7 2360.3L609.9 2361.2L610.9 2362.2L611.8 2363.1L612.7 2364.1L613.5 2365L614.3 2365.9L615 2366.9L615.6 2367.8L616.1 2368.8L616.5 2369.7L616.9 2370.7L617.4 2371.6L617.8 2372.5L618.2 2373.5L618.2 2373.5L618.7 2372.5L619.1 2371.6L619.5 2370.7L620 2369.7L620.4 2368.8L620.9 2367.8L621.4 2366.9L622.2 2365.9L623 2365L623.8 2364.1L624.7 2363.1L625.6 2362.2L626.6 2361.2L627.7 2360.3L629.1 2359.3L630.5 2358.4L631.9 2357.4L633.4 2356.5L635.2 2355.6L637.2 2354.6L639.4 2353.7L641.7 2352.7L643.8 2351.8L645.6 2350.8L646.8 2349.9L647.6 2349L647.7 2348L647.4 2347.1L646.9 2346.1L646.1 2345.2L645.4 2344.2L644.6 2343.3L643.8 2342.3L643 2341.4L642.1 2340.5L641.3 2339.5L640.5 2338.6L639.7 2337.6L638.9 2336.7L638.1 2335.7L637.2 2334.8L636.5 2333.8L635.7 2332.9L634.9 2332L634.1 2331L633.3 2330.1L632.2 2329.1L631.1 2328.2L629.8 2327.2L628.6 2326.3L627.3 2325.4L626 2324.4L624.7 2323.5L623.4 2322.5L622.2 2321.6L621.1 2320.6L620.1 2319.7L619.3 2318.7L618.2 2317.8z" fill="#3a7cb6" stroke="#1a1a1a" stroke-width="1.5" stroke-linejoin="round"/>
<path d="M692.4 2239.8L692.4 2242.1L692.3 2244.5L692.3 2246.8L692.3 2249.2L692.3 2251.6L692.2 2253.9L692.2 2256.3L692.2 2258.6L692.2 2261L692.1 2263.3L692.1 2265.7L692.1 2268.1L692 2270.4L692 2272.8L692 2275.1L691.8 2277.5L691.5 2279.8L690.8 2282.2L689.8 2284.6L688.6 2286.9L687.2 2289.3L686.1 2291.6L685.2 2294L684.6 2296.3L684.1 2298.7L683.7 2301.1L683.2 2303.4L682.6 2305.8L681.9 2308.1L681 2310.5L679.8 2312.8L678.4 2315.2L676.8 2317.6L675.1 2319.9L673.3 2322.3L671.5 2324.6L669.7 2327L668 2329.4L666.5 2331.7L665.2 2334.1L664.2 2336.4L663.5 2338.8L663.1 2341.1L663.2 2343.5L663.6 2345.9L664.4 2348.2L665.6 2350.6L667.2 2352.9L669.4 2355.3L671.9 2357.6L674.8 2360L677.8 2362.4L680.7 2364.7L683.5 2367.1L685.9 2369.4L688 2371.8L689.6 2374.1L690.9 2376.5L692.4 2378.9L692.4 2378.9L693.9 2376.5L695.1 2374.1L696.8 2371.8L698.9 2369.4L701.3 2367.1L704.1 2364.7L707 2362.4L710 2360L712.9 2357.6L715.4 2355.3L717.5 2352.9L719.2 2350.6L720.3 2348.2L721.1 2345.9L721.6 2343.5L721.7 2341.1L721.3 2338.8L720.6 2336.4L719.5 2334.1L718.3 2331.7L716.8 2329.4L715.1 2327L713.3 2324.6L711.5 2322.3L709.7 2319.9L708 2317.6L706.4 2315.2L705 2312.8L703.8 2310.5L702.9 2308.1L702.1 2305.8L701.6 2303.4L701.1 2301.1L700.7 2298.7L700.2 2296.3L699.6 2294L698.7 2291.6L697.5 2289.3L696.2 2286.9L695 2284.6L694 2282.2L693.3 2279.8L693 2277.5L692.8 2275.1L692.8 2272.8L692.7 2270.4L692.7 2268.1L692.7 2265.7L692.7 2263.3L692.6 2261L692.6 2258.6L692.6 2256.3L692.6 2253.9L692.5 2251.6L692.5 2249.2L692.5 2246.8L692.4 2244.5L692.4 2242.1L692.4 2239.8z" fill="#ee8a2a" stroke="#1a1a1a" stroke-width="1.5" stroke-linejoin="round"/>
<path d="M766.8 2145.1L766.8 2148.7L766.8 2152.3L766.7 2155.9L766.7 2159.5L766.7 2163.2L766.6 2166.8L766.6 2170.4L766.5 2174L766.5 2177.6L766.5 2181.3L766.4 2184.9L766.4 2188.5L766.4 2192.1L766.3 2195.7L766 2199.4L765.4 2203L764.3 2206.6L762.7 2210.2L760.6 2213.8L758.4 2217.4L756.2 2221.1L754.2 2224.7L752.4 2228.3L751 2231.9L750 2235.5L749.5 2239.2L749.5 2242.8L749.8 2246.4L750.4 2250L751 2253.6L751.4 2257.3L751.2 2260.9L750.5 2264.5L749.4 2268.1L748.1 2271.7L746.5 2275.4L744.8 2279L742.9 2282.6L741.2 2286.2L739.6 2289.8L738.5 2293.5L738.1 2297.1L738.7 2300.7L740.4 2304.3L742.9 2307.9L745.8 2311.6L748.7 2315.2L751.6 2318.8L754.4 2322.4L756.8 2326L759 2329.6L760.8 2333.3L762.3 2336.9L763.5 2340.5L764.5 2344.1L765.2 2347.7L765.8 2351.4L766.3 2355L766.8 2358.6L766.8 2358.6L767.4 2355L767.9 2351.4L768.5 2347.7L769.2 2344.1L770.2 2340.5L771.4 2336.9L772.9 2333.3L774.7 2329.6L776.9 2326L779.3 2322.4L782.1 2318.8L785 2315.2L787.9 2311.6L790.8 2307.9L793.3 2304.3L795 2300.7L795.6 2297.1L795.2 2293.5L794.1 2289.8L792.5 2286.2L790.8 2282.6L788.9 2279L787.2 2275.4L785.6 2271.7L784.3 2268.1L783.2 2264.5L782.5 2260.9L782.3 2257.3L782.7 2253.6L783.3 2250L783.9 2246.4L784.2 2242.8L784.2 2239.2L783.7 2235.5L782.7 2231.9L781.3 2228.3L779.5 2224.7L777.5 2221.1L775.3 2217.4L773.1 2213.8L771 2210.2L769.4 2206.6L768.3 2203L767.7 2199.4L767.4 2195.7L767.3 2192.1L767.3 2188.5L767.3 2184.9L767.2 2181.3L767.2 2177.6L767.2 2174L767.1 2170.4L767.1 2166.8L767 2163.2L767 2159.5L767 2155.9L766.9 2152.3L766.9 2148.7L766.8 2145.1z" fill="#3b9b6c" stroke="#1a1a1a" stroke-width="1.5" stroke-linejoin="round"/>
<path d="M841 2082.5L839.9 2085.2L839.1 2087.9L838.1 2090.6L837.1 2093.3L836.4 2096L835.7 2098.7L835.2 2101.4L834.9 2104.1L834.7 2106.8L834.6 2109.5L834.6 2112.2L834.6 2114.9L834.7 2117.6L834.8 2120.3L834.9 2123L834.8 2125.7L834.6 2128.4L834.3 2131.1L833.8 2133.8L833.1 2136.5L832.2 2139.2L831.1 2141.9L829.7 2144.6L828.1 2147.3L826.3 2150L824.5 2152.7L822.6 2155.4L820.6 2158.1L818.4 2160.8L816.4 2163.5L814.5 2166.2L813.2 2168.9L812.4 2171.6L812.3 2174.3L813 2177L814.2 2179.7L815.8 2182.4L817.7 2185.1L819.6 2187.8L821.7 2190.5L823.8 2193.2L825.9 2195.9L827.9 2198.6L829.8 2201.3L831.5 2204L833 2206.7L834.3 2209.4L835.4 2212.1L836.4 2214.8L837.3 2217.6L838 2220.3L838.6 2223L839.1 2225.7L839.5 2228.4L839.9 2231.1L840.2 2233.8L840.5 2236.5L840.7 2239.2L841 2241.9L841 2241.9L841.3 2239.2L841.5 2236.5L841.8 2233.8L842.1 2231.1L842.5 2228.4L842.9 2225.7L843.4 2223L844 2220.3L844.7 2217.6L845.6 2214.8L846.6 2212.1L847.7 2209.4L849.1 2206.7L850.5 2204L852.2 2201.3L854.1 2198.6L856.1 2195.9L858.2 2193.2L860.3 2190.5L862.4 2187.8L864.4 2185.1L866.2 2182.4L867.8 2179.7L869 2177L869.7 2174.3L869.6 2171.6L868.8 2168.9L867.5 2166.2L865.7 2163.5L863.6 2160.8L861.5 2158.1L859.4 2155.4L857.5 2152.7L855.7 2150L853.9 2147.3L852.3 2144.6L850.9 2141.9L849.8 2139.2L848.9 2136.5L848.3 2133.8L847.8 2131.1L847.4 2128.4L847.2 2125.7L847.1 2123L847.2 2120.3L847.3 2117.6L847.4 2114.9L847.5 2112.2L847.4 2109.5L847.3 2106.8L847.1 2104.1L846.8 2101.4L846.3 2098.7L845.7 2096L844.9 2093.3L843.9 2090.6L842.9 2087.9L842.1 2085.2L841 2082.5z" fill="#d23c3d" stroke="#1a1a1a" stroke-width="1.5" stroke-linejoin="round"/>
<path d="M915.5 2013.1L914.5 2016.3L913.7 2019.6L912.8 2022.8L911.9 2026L910.8 2029.2L909.8 2032.5L908.7 2035.7L907.6 2038.9L906.4 2042.1L905.2 2045.3L903.8 2048.6L902.4 2051.8L900.9 2055L899.4 2058.2L898 2061.4L896.6 2064.7L895.5 2067.9L894.5 2071.1L893.8 2074.3L893.1 2077.5L892.6 2080.8L892.1 2084L891.6 2087.2L890.8 2090.4L889.8 2093.6L888.6 2096.9L887.4 2100.1L886.6 2103.3L886.6 2106.5L887.5 2109.7L889.2 2113L891.8 2116.2L895 2119.4L898.5 2122.6L902 2125.8L905.2 2129.1L908.2 2132.3L910.5 2135.5L912.3 2138.7L913.4 2141.9L914.2 2145.2L914.6 2148.4L914.8 2151.6L914.9 2154.8L915 2158.1L915 2161.3L915 2164.5L915.1 2167.7L915.1 2170.9L915.2 2174.2L915.2 2177.4L915.2 2180.6L915.3 2183.8L915.3 2187L915.3 2190.3L915.4 2193.5L915.4 2196.7L915.4 2199.9L915.5 2203.1L915.5 2203.1L915.5 2199.9L915.5 2196.7L915.6 2193.5L915.6 2190.3L915.6 2187L915.7 2183.8L915.7 2180.6L915.7 2177.4L915.8 2174.2L915.8 2170.9L915.8 2167.7L915.9 2164.5L915.9 2161.3L916 2158.1L916 2154.8L916.1 2151.6L916.3 2148.4L916.7 2145.2L917.5 2141.9L918.6 2138.7L920.4 2135.5L922.8 2132.3L925.7 2129.1L929 2125.8L932.5 2122.6L935.9 2119.4L939.1 2116.2L941.7 2113L943.4 2109.7L944.3 2106.5L944.3 2103.3L943.5 2100.1L942.3 2096.9L941.1 2093.6L940.1 2090.4L939.4 2087.2L938.8 2084L938.3 2080.8L937.8 2077.5L937.2 2074.3L936.4 2071.1L935.4 2067.9L934.3 2064.7L933 2061.4L931.5 2058.2L930 2055L928.5 2051.8L927.1 2048.6L925.7 2045.3L924.5 2042.1L923.3 2038.9L922.2 2035.7L921.1 2032.5L920.1 2029.2L919.1 2026L918.1 2022.8L917.2 2019.6L916.4 2016.3L915.5 2013.1z" fill="#9568be" stroke="#1a1a1a" stroke-width="1.5" stroke-linejoin="round"/>
<path transform="scale(0.5)" d="M1823 4035h0m-4 19h0m-1 15h0m-3 4h0m28 0h0m-19 1h0m18 5h0m5 6h0m-996 4h0m981 2h0m16 7h0m-19 1h0m-950 3h0m950 0h0m-947 1h0m-6 1h0m952 0h0m-957 1h0m944 0h0m-937 1h0m955 1h0m-971 1h0m16 0h0m-3 1h0m-12 3h0m10 0h0m957 0h0m-958 1h0m974 1h0m-973 2h0m-4 1h0m6 0h0m7 1h0m2 0h0m-23 1h0m14 0h0m6 0h0m967 0h0m-968 1h0m-11 1h0m-18 1h0m12 0h0m12 0h0m-19 1h0m8 0h0m9 0h0m-7 2h0m12 0h0m-26 1h0m4 0h0m9 0h0m-7 1h0m0 0h0m13 0h0m9 0h0m935 0h0m-954 1h0m4 1h0m1 0h0m7 0h0m11 0h0m-18 1h0m2 0h0m966 0h0m-982 1h0m16 0h0m-3 1h0m1 0h0m4 0h0m5 0h0m949 0h0m-968 1h0m0 0h0m12 0h0m6 0h0m6 0h0m963 0h0m-991 1h0m12 0h0m4 0h0m2 0h0m7 0h0m1 0h0m3 0h0m944 0h0m-974 1h0m13 0h0m6 0h0m8 0h0m2 0h0m4 0h0m931 0h0m8 0h0m-971 1h0m4 0h0m4 0h0m3 0h0m7 0h0m5 0h0m-12 1h0m1 0h0m7 0h0m8 0h0m1 0h0m4 0h0m1 0h0m-31 1h0m21 0h0m6 0h0m958 0h0m-976 1h0m18 0h0m-10 1h0m1 0h0m954 0h0m4 0h0m-976 1h0m2 0h0m0 0h0m12 0h0m16 0h0m-30 1h0m16 0h0m5 0h0m10 0h0m-10 1h0m5 0h0m1 0h0m2 0h0m-28 1h0m2 0h0m2 0h0m8 0h0m1 0h0m4 0h0m13 0h0m951 0h0m4 0h0m-989 1h0m17 0h0m961 0h0m-969 1h0m2 0h0m2 0h0m13 0h0m937 0h0m-959 1h0m2 0h0m16 0h0m10 0h0m950 0h0m-975 1h0m12 0h0m7 0h0m3 0h0m0 0h0m937 0h0m19 0h0m-982 1h0m0 0h0m3 0h0m12 0h0m3 0h0m9 0h0m967 0h0m-993 1h0m6 0h0m4 0h0m1 0h0m0 0h0m5 0h0m4 0h0m4 0h0m-19 1h0m1 0h0m6 0h0m2 0h0m0 0h0m3 0h0m1 0h0m5 0h0m1 0h0m-18 1h0m0 0h0m1 0h0m1 0h0m3 0h0m2 0h0m5 0h0m1 0h0m3 0h0m-9 1h0m3 0h0m1 0h0m0 0h0m1 0h0m-17 1h0m3 0h0m5 0h0m3 0h0m16 0h0m0 0h0m-29 1h0m4 0h0m1 0h0m15 0h0m2 0h0m3 0h0m1 0h0m1 0h0m4 0h0m937 0h0m25 0h0m-996 1h0m0 0h0m15 0h0m1 0h0m1 0h0m1 0h0m6 0h0m3 0h0m946 0h0m-966 1h0m2 0h0m2 0h0m3 0h0m18 0h0m1 0h0m0 0h0m953 0h0m-986 1h0m6 0h0m1 0h0m11 0h0m6 0h0m-20 1h0m7 0h0m0 0h0m1 0h0m0 0h0m8 0h0m8 0h0m-23 1h0m5 0h0m2 0h0m1 0h0m3 0h0m5 0h0m1 0h0m3 0h0m8 0h0m1 0h0m958 0h0m-991 1h0m8 0h0m3 0h0m8 0h0m2 0h0m2 0h0m0 0h0m2 0h0m952 0h0m-973 1h0m10 0h0m0 0h0m1 0h0m5 0h0m6 0h0m4 0h0m3 0h0m951 0h0m1 0h0m-980 1h0m4 0h0m2 0h0m952 0h0m32 0h0m-994 1h0m6 0h0m7 0h0m2 0h0m10 0h0m938 0h0m-958 1h0m1 0h0m12 0h0m1 0h0m6 0h0m1 0h0m2 0h0m942 0h0m2 0h0m-970 1h0m4 0h0m3 0h0m5 0h0m6 0h0m0 0h0m3 0h0m4 0h0m2 0h0m0 0h0m-30 1h0m2 0h0m3 0h0m6 0h0m0 0h0m1 0h0m6 0h0m12 0h0m3 0h0m-25 1h0m7 0h0m1 0h0m10 0h0m0 0h0m1 0h0m3 0h0m1 0h0m0 0h0m-32 1h0m11 0h0m3 0h0m10 0h0m951 0h0m-974 1h0m0 0h0m0 0h0m7 0h0m3 0h0m6 0h0m3 0h0m4 0h0m1 0h0m1 0h0m1 0h0m1 0h0m2 0h0m939 0h0m10 0h0m-978 1h0m1 0h0m2 0h0m1 0h0m2 0h0m0 0h0m3 0h0m8 0h0m0 0h0m949 0h0m12 0h0m-978 1h0m7 0h0m1 0h0m1 0h0m1 0h0m0 0h0m12 0h0m1 0h0m0 0h0m3 0h0m2 0h0m0 0h0m4 0h0m-27 1h0m2 0h0m6 0h0m1 0h0m4 0h0m1 0h0m4 0h0m1 0h0m0 0h0m2 0h0m6 0h0m-29 1h0m6 0h0m1 0h0m3 0h0m0 0h0m0 0h0m0 0h0m3 0h0m7 0h0m4 0h0m4 0h0m-32 1h0m0 0h0m1 0h0m0 0h0m2 0h0m4 0h0m7 0h0m0 0h0m6 0h0m6 0h0m2 0h0m0 0h0m2 0h0m949 0h0m-977 1h0m6 0h0m6 0h0m1 0h0m4 0h0m2 0h0m10 0h0m3 0h0m-31 1h0m2 0h0m2 0h0m9 0h0m2 0h0m13 0h0m1 0h0m-32 1h0m2 0h0m1 0h0m1 0h0m4 0h0m1 0h0m4 0h0m3 0h0m6 0h0m6 0h0m4 0h0m-30 1h0m1 0h0m1 0h0m5 0h0m5 0h0m4 0h0m0 0h0m2 0h0m0 0h0m2 0h0m2 0h0m4 0h0m5 0h0m930 0h0m19 0h0m15 0h0m-991 1h0m3 0h0m3 0h0m3 0h0m1 0h0m4 0h0m1 0h0m6 0h0m-23 1h0m5 0h0m3 0h0m13 0h0m938 0h0m32 0h0m-995 1h0m0 0h0m11 0h0m2 0h0m7 0h0m0 0h0m3 0h0m2 0h0m4 0h0m940 0h0m-969 1h0m8 0h0m6 0h0m5 0h0m7 0h0m958 0h0m-982 1h0m8 0h0m2 0h0m4 0h0m6 0h0m4 0h0m0 0h0m3 0h0m3 0h0m951 0h0m-983 1h0m6 0h0m8 0h0m1 0h0m963 0h0m1 0h0m-972 1h0m12 0h0m3 0h0m1 0h0m2 0h0m7 0h0m791 0h0m168 0h0m-990 1h0m8 0h0m1 0h0m2 0h0m4 0h0m3 0h0m8 0h0m969 0h0m-995 1h0m8 0h0m0 0h0m4 0h0m0 0h0m4 0h0m0 0h0m5 0h0m1 0h0m3 0h0m1 0h0m947 0h0m15 0h0m4 0h0m-992 1h0m3 0h0m2 0h0m1 0h0m3 0h0m2 0h0m1 0h0m4 0h0m1 0h0m4 0h0m2 0h0m1 0h0m2 0h0m0 0h0m0 0h0m1 0h0m952 0h0m-976 1h0m11 0h0m1 0h0m8 0h0m3 0h0m1 0h0m1 0h0m939 0h0m5 0h0m6 0h0m-975 1h0m6 0h0m0 0h0m3 0h0m6 0h0m9 0h0m3 0h0m957 0h0m-988 1h0m15 0h0m3 0h0m6 0h0m0 0h0m8 0h0m1 0h0m-24 1h0m10 0h0m5 0h0m3 0h0m2 0h0m956 0h0m-977 1h0m9 0h0m4 0h0m9 0h0m941 0h0m15 0h0m-986 1h0m13 0h0m3 0h0m3 0h0m3 0h0m1 0h0m0 0h0m1 0h0m1 0h0m4 0h0m2 0h0m949 0h0m-978 1h0m4 0h0m7 0h0m0 0h0m10 0h0m4 0h0m0 0h0m3 0h0m943 0h0m5 0h0m-977 1h0m6 0h0m1 0h0m5 0h0m1 0h0m4 0h0m15 0h0m783 0h0m150 0h0m7 0h0m-972 1h0m2 0h0m0 0h0m14 0h0m4 0h0m945 0h0m1 0h0m4 0h0m-971 1h0m12 0h0m9 0h0m7 0h0m957 0h0m6 0h0m-991 1h0m5 0h0m6 0h0m12 0h0m0 0h0m2 0h0m-25 1h0m21 0h0m11 0h0m933 0h0m0 0h0m21 0h0m-986 1h0m2 0h0m0 0h0m1 0h0m4 0h0m5 0h0m2 0h0m2 0h0m5 0h0m7 0h0m-22 1h0m9 0h0m13 0h0m3 0h0m1 0h0m959 0h0m-983 1h0m17 0h0m-20 1h0m17 0h0m957 0h0m-979 1h0m0 0h0m2 0h0m14 0h0m954 0h0m9 0h0m-963 1h0m948 0h0m27 0h0m-981 1h0m15 0h0m938 0h0m4 0h0m-956 1h0m21 0h0m946 0h0m-978 2h0m13 1h0m4 0h0m954 0h0m12 1h0m-980 1h0m3 0h0m14 0h0m-204 1h0m190 1h0m19 0h0m2 0h0m4 1h0m943 1h0m9 0h0m-978 1h0m4 1h0m7 0h0m1 0h0m13 0h0m963 0h0m-147 1h0m132 0h0m-1152 1h0m184 0h0m3 0h0m10 0h0m808 0h0m-815 1h0m11 0h0m-12 1h0m961 0h0m-959 1h0m949 0h0m1 0h0m-938 1h0m946 0h0m14 0h0m-983 1h0m12 1h0m11 0h0m936 1h0m-953 1h0m-3 1h0m826 0h0m-831 2h0m18 0h0m945 0h0m10 0h0m-962 1h0m-12 1h0m31 0h0m-22 1h0m8 0h0m970 0h0m-977 1h0m16 0h0m948 0h0m-976 1h0m32 2h0m934 0h0m22 0h0m-983 1h0m2 0h0m-176 1h0m1156 0h0m-10 2h0m-957 1h0m971 0h0m-1147 1h0m1150 0h0m-2 2h0m-964 1h0m940 3h0m-5 1h0m11 2h0m-956 2h0m7 0h0m-192 1h0m189 0h0m8 0h0m935 0h0m14 0h0m-1165 3h0m216 1h0m-3 3h0m-17 1h0m-181 2h0m170 0h0m1 0h0m15 0h0m18 0h0m-28 1h0m11 0h0m6 0h0m-20 1h0m11 0h0m-5 1h0m-8 1h0m25 0h0m-210 2h0m2 1h0m999 5h0m5 0h0m2 0h0m-790 2h0m-21 1h0m-184 1h0m193 1h0m-2 1h0m-16 2h0m813 0h0m18 0h0m-829 2h0m13 2h0m-189 4h0m993 1h0m-1009 1h0m6 2h0m1013 0h0m-998 2h0m1012 1h0m-10 2h0m-4 1h0m-10 2h0m-975 4h0m156 0h0m829 0h0m8 1h0m-1003 1h0m989 1h0m-984 3h0m-16 1h0m-3 2h0m995 0h0m-979 1h0m190 0h0m0 0h0m4 0h0m788 0h0m11 0h0m8 0h0m-1013 2h0m17 0h0m0 2h0m174 0h0m806 0h0m-996 1h0m205 1h0m813 0h0m-1006 1h0m1005 1h0m-1020 1h0m5 1h0m175 0h0m-169 1h0m197 0h0m-193 1h0m170 0h0m19 0h0m-212 1h0m7 0h0m205 0h0m-185 1h0m181 0h0m792 1h0m18 0h0m-22 3h0m149 0h0m-136 1h0m-980 1h0m-5 1h0m991 0h0m-1011 1h0m993 0h0m4 3h0m3 0h0m-986 1h0m9 0h0m0 0h0m-22 1h0m21 0h0m974 1h0m21 0h0m-999 1h0m-18 1h0m198 0h0m814 0h0m-1001 1h0m10 0h0m4 0h0m972 0h0m-980 1h0m997 0h0m-993 1h0m-27 2h0m211 0h0m-195 1h0m10 0h0m-18 2h0m0 2h0m22 0h0m0 1h0m980 1h0m-1010 1h0m27 0h0m973 0h0m-989 1h0m14 0h0m-11 2h0m-1 1h0m1007 0h0m-989 1h0m-3 1h0m-4 1h0m1129 0h0m-1155 2h0m13 0h0m-2 1h0m11 0h0m-16 1h0m995 0h0m-987 2h0m6 2h0m7 0h0m2 0h0m986 0h0m-1011 2h0m17 0h0m189 0h0m-184 1h0m2 0h0m-1 1h0m2 0h0m1 0h0m-27 1h0m14 0h0m-15 2h0m23 0h0m982 0h0m-990 1h0m16 0h0m-26 1h0m13 0h0m-16 2h0m1 1h0m6 0h0m4 0h0m11 0h0m986 0h0m-991 1h0m-18 1h0m5 0h0m-2 1h0m202 0h0m-188 1h0m-11 1h0m12 0h0m10 0h0m3 0h0m990 1h0m-1018 2h0m15 0h0m-1 1h0m3 1h0m-20 1h0m0 1h0m8 0h0m22 0h0m-19 1h0m17 0h0m-29 1h0m8 0h0m10 0h0m845 0h0m-864 2h0m2 0h0m0 0h0m1 0h0m17 0h0m1 0h0m3 0h0m-15 2h0m4 0h0m-10 1h0m2 1h0m22 0h0m1000 0h0m-1024 2h0m16 0h0m11 0h0m-20 1h0m1015 0h0m-1014 1h0m5 0h0m6 0h0m857 0h0m-858 1h0m4 0h0m3 0h0m-13 1h0m9 0h0m4 0h0m1 0h0m-22 1h0m14 0h0m-14 1h0m4 0h0m2 0h0m13 0h0m-26 1h0m6 0h0m20 1h0m998 0h0m-1024 1h0m23 0h0m-16 1h0m1 0h0m-1 1h0m4 0h0m6 0h0m11 0h0m3 2h0m843 0h0m-850 1h0m-20 1h0m4 2h0m13 0h0m864 0h0m-881 1h0m21 2h0m-14 1h0m12 0h0m-8 1h0m5 0h0m-19 1h0m26 0h0m857 0h0m-883 1h0m6 1h0m9 0h0m14 0h0m-9 1h0m5 0h0m0 0h0m-25 1h0m3 0h0m7 1h0m15 0h0m1 0h0m-4 1h0m1 0h0m836 0h0m-831 1h0m-13 1h0m-17 2h0m16 0h0m6 0h0m3 0h0m-11 1h0m2 0h0m-4 1h0m6 0h0m846 0h0m-858 1h0m28 0h0m828 0h0m7 0h0m-851 1h0m10 0h0m843 0h0m-867 1h0m19 0h0m-16 1h0m6 0h0m-9 1h0m12 0h0m3 0h0m11 0h0m827 0h0m-857 1h0m5 0h0m858 0h0m-857 2h0m2 0h0m26 0h0m-16 1h0m12 0h0m853 0h0m-883 1h0m5 1h0m20 1h0m3 0h0m-26 2h0m865 0h0m-862 1h0m2 1h0m11 0h0m5 0h0m3 0h0m-18 1h0m18 0h0m4 0h0m-18 1h0m7 0h0m12 1h0m0 0h0m825 0h0m-829 1h0m4 0h0m2 0h0m1 1h0m-20 2h0m8 0h0m6 0h0m-11 1h0m-8 1h0m9 0h0m835 0h0m3 1h0m-834 1h0m-14 1h0m5 0h0m4 0h0m-10 1h0m847 0h0m-854 1h0m27 0h0m-18 1h0m-348 1h0m370 0h0m-29 2h0m12 0h0m1 0h0m19 0h0m823 0h0m-832 2h0m837 0h0m-853 1h0m2 0h0m854 1h0m3 0h0m-861 2h0m851 0h0m-850 2h0m6 1h0m3 0h0m1 0h0m-11 1h0m8 1h0m-7 1h0m15 0h0m9 0h0m-24 1h0m26 2h0m-15 1h0m15 0h0m-384 1h0m379 0h0m5 0h0m-31 2h0m0 0h0m6 0h0m3 0h0m7 2h0m-13 1h0m19 1h0m839 0h0m1 0h0m11 0h0m-850 1h0m-26 1h0m866 0h0m8 0h0m1 0h0m-1235 1h0m383 1h0m-7 1h0m2 0h0m8 0h0m6 1h0m-8 1h0m-13 1h0m20 0h0m845 0h0m-872 2h0m3 0h0m-361 1h0m1 0h0m177 0h0m177 0h0m10 0h0m871 0h0m-857 1h0m-196 1h0m200 0h0m-20 1h0m7 0h0m14 0h0m839 0h0m11 0h0m-1219 1h0m340 0h0m5 0h0m16 0h0m-22 1h0m7 0h0m0 1h0m1 0h0m8 0h0m14 0h0m827 0h0m-1209 1h0m360 1h0m18 0h0m858 0h0m-1250 1h0m6 1h0m392 0h0m-370 1h0m343 1h0m8 0h0m-186 1h0m1037 0h0m-863 2h0m-367 1h0m22 0h0m347 0h0m24 0h0m3 0h0m4 0h0m-401 1h0m15 0h0m367 0h0m868 0h0m-860 1h0m11 0h0m846 0h0m-1227 1h0m185 0h0m-4 1h0m182 0h0m9 0h0m6 0h0m-403 1h0m201 0h0m-5 1h0m178 0h0m29 0h0m-401 2h0m26 0h0m345 0h0m868 1h0m-1229 1h0m184 0h0m17 0h0m161 1h0m-354 1h0m183 0h0m201 0h0m849 0h0m-21 1h0m-1201 1h0m368 0h0m-381 1h0m189 0h0m185 0h0m835 0h0m-849 1h0m2 0h0m19 0h0m-213 1h0m1 0h0m1057 1h0m-1041 1h0m185 0h0m-359 1h0m346 0h0m719 0h0m-1093 1h0m8 0h0m392 0h0m-11 1h0m853 0h0m-866 1h0m17 0h0m855 0h0m-169 1h0m-1057 1h0m4 0h0m353 0h0m23 1h0m1 0h0m-396 1h0m6 0h0m4 0h0m5 0h0m376 0h0m-399 1h0m13 0h0m14 0h0m184 0h0m172 0h0m-183 1h0m8 1h0m173 0h0m5 0h0m-372 1h0m1063 0h0m32 0h0m-1103 1h0m7 0h0m5 0h0m7 0h0m161 0h0m19 0h0m11 0h0m187 0h0m-402 1h0m6 0h0m193 0h0m12 0h0m160 0h0m877 0h0m-1243 1h0m1 0h0m189 0h0m207 0h0m849 0h0m-1252 1h0m212 0h0m-201 1h0m191 0h0m10 0h0m164 0h0m22 0h0m-364 1h0m160 0h0m25 0h0m160 0h0m23 0h0m706 0h0m119 0h0m-1200 1h0m4 0h0m1201 0h0m11 0h0m-1211 1h0m158 0h0m194 0h0m10 0h0m-388 1h0m14 0h0m167 0h0m18 0h0m171 0h0m8 0h0m869 0h0m-1242 1h0m22 0h0m161 0h0m21 0h0m-199 1h0m2 0h0m196 0h0m-206 1h0m23 0h0m170 0h0m13 0h0m1 0h0m-198 1h0m374 0h0m837 0h0m-1209 1h0m11 0h0m351 0h0m713 0h0m138 0h0m5 0h0m10 0h0m-1241 1h0m5 0h0m7 0h0m4 0h0m353 0h0m881 0h0m-1243 1h0m6 0h0m10 0h0m164 0h0m5 0h0m201 0h0m839 0h0m-1213 1h0m6 0h0m170 0h0m881 0h0m158 0h0m-1236 1h0m6 0h0m180 0h0m10 0h0m6 0h0m179 0h0m707 0h0m138 0h0m-1219 1h0m1 0h0m15 0h0m161 0h0m6 0h0m198 0h0m-11 1h0m-358 1h0m7 0h0m163 0h0m2 0h0m24 0h0m1021 0h0m-1238 1h0m21 0h0m174 0h0m902 0h0m-1092 1h0m9 0h0m-8 1h0m9 0h0m15 0h0m180 0h0m164 0h0m24 0h0m682 0h0m-1071 1h0m1 0h0m0 0h0m4 0h0m6 0h0m9 0h0m1044 0h0m-1041 1h0m179 0h0m-205 1h0m4 0h0m16 0h0m362 0h0m-378 1h0m3 0h0m5 0h0m197 0h0m-206 1h0m10 0h0m2 0h0m177 0h0m195 0h0m681 0h0m159 0h0m-1234 1h0m16 0h0m6 0h0m1230 0h0m-1231 1h0m1 0h0m7 0h0m1 0h0m157 0h0m11 0h0m194 0h0m854 0h0m-1239 1h0m209 0h0m859 0h0m-873 1h0m1 0h0m892 0h0m149 0h0m-1224 1h0m12 0h0m354 0h0m8 0h0m854 0h0m-1229 1h0m1085 0h0m152 0h0m-1059 1h0m189 0h0m712 0h0m155 0h0m-1245 1h0m3 0h0m18 0h0m361 0h0m697 0h0m10 0h0m-1078 1h0m167 0h0m187 0h0m-166 1h0m901 0h0m144 0h0m-1244 1h0m2 0h0m7 0h0m369 0h0m7 0h0m852 0h0m-1227 1h0m4 0h0m380 0h0m834 0h0m10 0h0m-1240 1h0m7 0h0m17 0h0m-28 1h0m6 0h0m6 0h0m16 0h0m177 0h0m1032 0h0m-1227 1h0m11 0h0m368 0h0m2 0h0m840 0h0m-1234 1h0m2 0h0m8 0h0m14 0h0m357 0h0m858 0h0m13 0h0m-1252 1h0m191 0h0m906 0h0m-1092 1h0m28 0h0m170 0h0m1026 0h0m-1206 1h0m1063 0h0m146 0h0m-1224 1h0m0 0h0m17 0h0m-20 1h0m1096 0h0m-1094 1h0m12 0h0m4 0h0m1 0h0m185 0h0m891 0h0m4 0h0m0 0h0m-1100 1h0m1095 0h0m-1091 2h0m18 0h0m2 0h0m167 0h0m893 0h0m13 0h0m-1098 1h0m186 0h0m897 0h0m-1066 1h0m-18 1h0m1 0h0m15 0h0m10 0h0m1 0h0m1056 0h0m170 0h0m-1250 1h0m26 0h0m0 0h0m188 0h0m-199 1h0m3 0h0m5 0h0m1060 0h0m140 0h0m-1218 1h0m12 0h0m197 0h0m873 0h0m-1090 2h0m8 0h0m0 0h0m191 0h0m889 0h0m6 0h0m-1079 1h0m3 0h0m0 0h0m1 0h0m1072 0h0m1 0h0m130 0h0m-1222 1h0m13 0h0m178 0h0m901 0h0m9 0h0m-1100 1h0m11 0h0m3 0h0m3 0h0m198 0h0m1027 0h0m-160 1h0m10 0h0m0 0h0m-877 1h0m857 0h0m-1063 1h0m16 0h0m158 0h0m6 0h0m12 0h0m887 0h0m8 0h0m131 0h0m-1223 1h0m211 0h0m880 0h0m4 0h0m-1093 1h0m185 0h0m885 0h0m166 0h0m-1245 1h0m5 0h0m9 0h0m6 0h0m4 0h0m903 0h0m13 0h0m145 0h0m2 0h0m-1081 1h0m2 0h0m13 0h0m0 0h0m176 0h0m742 0h0m147 0h0m-1074 1h0m1068 0h0m4 0h0m11 0h0m6 0h0m128 0h0m8 0h0m-1217 1h0m909 0h0m327 0h0m-1232 1h0m928 0h0m-945 1h0m20 0h0m6 0h0m1046 0h0m7 0h0m16 0h0m2 0h0m152 0h0m-1253 1h0m0 0h0m2 0h0m6 0h0m1 0h0m15 0h0m175 0h0m731 0h0m26 0h0m135 0h0m146 0h0m-1240 1h0m9 0h0m13 0h0m936 0h0m140 1h0m6 0h0m-1101 1h0m2 0h0m13 0h0m7 0h0m6 0h0m1 0h0m-18 1h0m0 0h0m1091 0h0m146 0h0m-1249 1h0m19 0h0m4 0h0m189 0h0m728 0h0m9 0h0m2 0h0m-942 1h0m10 0h0m0 0h0m3 0h0m3 0h0m922 0h0m6 0h0m121 0h0m2 0h0m19 0h0m8 0h0m2 0h0m1 0h0m-1104 1h0m17 0h0m7 0h0m3 0h0m166 0h0m732 0h0m32 0h0m147 0h0m-1100 1h0m4 0h0m194 0h0m721 0h0m149 0h0m1 0h0m10 0h0m7 0h0m5 0h0m-159 1h0m11 0h0m133 0h0m3 0h0m10 0h0m141 0h0m-1230 1h0m1082 0h0m-1088 1h0m5 0h0m9 0h0m0 0h0m11 0h0m6 0h0m1049 0h0m17 0h0m-1094 1h0m4 0h0m1 0h0m6 0h0m1 0h0m8 0h0m1 0h0m3 0h0m188 0h0m712 0h0m6 0h0m20 0h0m-951 1h0m20 0h0m0 0h0m2 0h0m3 0h0m0 0h0m4 0h0m907 0h0m1 0h0m0 0h0m7 0h0m11 0h0m132 0h0m6 0h0m-1094 1h0m4 0h0m9 0h0m6 0h0m3 0h0m7 0h0m163 0h0m764 0h0m118 0h0m14 0h0m15 0h0m1 0h0m-1102 1h0m3 0h0m4 0h0m4 0h0m0 0h0m7 0h0m2 0h0m5 0h0m4 0h0m165 0h0m8 0h0m722 0h0m3 0h0m2 0h0m5 0h0m17 0h0m4 0h0m-953 1h0m13 0h0m3 0h0m2 0h0m5 0h0m1 0h0m2 0h0m899 0h0m1 0h0m23 0h0m2 0h0m1 0h0m133 0h0m-1083 1h0m8 0h0m4 0h0m921 0h0m13 0h0m5 0h0m122 0h0m5 0h0m16 0h0m-1102 1h0m2 0h0m7 0h0m15 0h0m0 0h0m3 0h0m4 0h0m157 0h0m739 0h0m2 0h0m8 0h0m21 0h0m148 0h0m-1097 1h0m1 0h0m4 0h0m4 0h0m2 0h0m0 0h0m0 0h0m6 0h0m908 0h0m4 0h0m1 0h0m5 0h0m132 0h0m-1072 1h0m0 0h0m7 0h0m8 0h0m3 0h0m2 0h0m1 0h0m4 0h0m3 0h0m897 0h0m1 0h0m4 0h0m2 0h0m1 0h0m6 0h0m-927 1h0m8 0h0m901 0h0m0 0h0m22 0h0m11 0h0m126 0h0m8 0h0m-1092 1h0m4 0h0m1 0h0m1 0h0m2 0h0m0 0h0m5 0h0m9 0h0m3 0h0m2 0h0m2 0h0m3 0h0m894 0h0m7 0h0m4 0h0m8 0h0m1 0h0m0 0h0m3 0h0m5 0h0m3 0h0m130 0h0m11 0h0m-1096 1h0m5 0h0m11 0h0m3 0h0m3 0h0m903 0h0m4 0h0m1 0h0m4 0h0m13 0h0m2 0h0m132 0h0m18 0h0m-1100 1h0m2 0h0m5 0h0m2 0h0m196 0h0m720 0h0m2 0h0m2 0h0m4 0h0m3 0h0m3 0h0m4 0h0m6 0h0m9 0h0m120 0h0m12 0h0m-1089 1h0m2 0h0m6 0h0m2 0h0m17 0h0m1 0h0m163 0h0m736 0h0m1 0h0m2 0h0m1 0h0m3 0h0m4 0h0m9 0h0m3 0h0m130 0h0m18 0h0m-1097 1h0m6 0h0m1 0h0m8 0h0m2 0h0m6 0h0m177 0h0m723 0h0m2 0h0m6 0h0m9 0h0m2 0h0m1 0h0m5 0h0m1 0h0m0 0h0m135 0h0m9 0h0m1 0h0m10 0h0m-1082 1h0m4 0h0m906 0h0m7 0h0m2 0h0m2 0h0m0 0h0m1 0h0m6 0h0m1 0h0m2 0h0m128 0h0m18 0h0m-1098 1h0m15 0h0m3 0h0m3 0h0m5 0h0m3 0h0m893 0h0m4 0h0m6 0h0m11 0h0m5 0h0m0 0h0m1 0h0m123 0h0m9 0h0m-1079 1h0m1 0h0m0 0h0m1 0h0m12 0h0m1 0h0m2 0h0m906 0h0m4 0h0m1 0h0m6 0h0m16 0h0m119 0h0m12 0h0m2 0h0m10 0h0m-1094 1h0m2 0h0m2 0h0m0 0h0m1 0h0m9 0h0m6 0h0m2 0h0m6 0h0m896 0h0m2 0h0m1 0h0m1 0h0m1 0h0m4 0h0m6 0h0m1 0h0m6 0h0m0 0h0m1 0h0m0 0h0m6 0h0m117 0h0m12 0h0m9 0h0m-1094 1h0m1 0h0m4 0h0m5 0h0m3 0h0m9 0h0m2 0h0m6 0h0m900 0h0m1 0h0m0 0h0m1 0h0m4 0h0m9 0h0m1 0h0m130 0h0m21 0h0m5 0h0m-1101 1h0m6 0h0m0 0h0m1 0h0m8 0h0m14 0h0m0 0h0m904 0h0m12 0h0m2 0h0m8 0h0m118 0h0m-1076 1h0m19 0h0m11 0h0m1 0h0m903 0h0m1 0h0m0 0h0m8 0h0m2 0h0m3 0h0m-942 1h0m5 0h0m13 0h0m7 0h0m187 0h0m711 0h0m2 0h0m0 0h0m5 0h0m12 0h0m4 0h0m127 0h0m14 0h0m11 0h0m3 0h0m-1105 1h0m2 0h0m4 0h0m8 0h0m1 0h0m4 0h0m5 0h0m0 0h0m3 0h0m4 0h0m169 0h0m729 0h0m1 0h0m0 0h0m2 0h0m4 0h0m12 0h0m9 0h0m123 0h0m10 0h0m-1088 1h0m16 0h0m906 0h0m1 0h0m4 0h0m10 0h0m4 0h0m3 0h0m2 0h0m1 0h0m1 0h0m0 0h0m4 0h0m0 0h0m129 0h0m-1079 1h0m0 0h0m4 0h0m2 0h0m1 0h0m3 0h0m6 0h0m0 0h0m5 0h0m5 0h0m1 0h0m173 0h0m1 0h0m719 0h0m0 0h0m4 0h0m2 0h0m1 0h0m4 0h0m7 0h0m13 0h0m140 0h0m5 0h0m-1096 1h0m2 0h0m5 0h0m3 0h0m4 0h0m3 0h0m905 0h0m7 0h0m1 0h0m12 0h0m8 0h0m129 0h0m-1082 1h0m10 0h0m5 0h0m4 0h0m3 0h0m905 0h0m5 0h0m1 0h0m2 0h0m21 0h0m119 0h0m-1077 1h0m2 0h0m0 0h0m6 0h0m6 0h0m1 0h0m2 0h0m10 0h0m2 0h0m896 0h0m6 0h0m2 0h0m8 0h0m17 0h0m131 0h0m-1088 1h0m2 0h0m12 0h0m2 0h0m3 0h0m4 0h0m4 0h0m3 0h0m166 0h0m738 0h0m11 0h0m4 0h0m8 0h0m125 0h0m4 0h0m2 0h0m-1090 1h0m1 0h0m1 0h0m9 0h0m4 0h0m5 0h0m1 0h0m2 0h0m10 0h0m901 0h0m5 0h0m0 0h0m2 0h0m0 0h0m7 0h0m128 0h0m16 0h0m14 0h0m-1099 1h0m1 0h0m0 0h0m9 0h0m7 0h0m9 0h0m893 0h0m1 0h0m8 0h0m1 0h0m4 0h0m3 0h0m1 0h0m1 0h0m7 0h0m1 0h0m3 0h0m0 0h0m4 0h0m122 0h0m9 0h0m2 0h0m4 0h0m-1095 1h0m2 0h0m7 0h0m3 0h0m203 0h0m720 0h0m6 0h0m1 0h0m1 0h0m1 0h0m0 0h0m0 0h0m2 0h0m2 0h0m5 0h0m134 0h0m-1089 1h0m0 0h0m4 0h0m1 0h0m8 0h0m1 0h0m3 0h0m5 0h0m9 0h0m897 0h0m2 0h0m1 0h0m2 0h0m3 0h0m4 0h0m0 0h0m3 0h0m1 0h0m1 0h0m4 0h0m4 0h0m4 0h0m1 0h0m118 0h0m5 0h0m8 0h0m-1088 1h0m4 0h0m2 0h0m2 0h0m6 0h0m2 0h0m1 0h0m181 0h0m5 0h0m722 0h0m3 0h0m6 0h0m3 0h0m9 0h0m5 0h0m4 0h0m124 0h0m26 0h0m-1103 1h0m2 0h0m1 0h0m3 0h0m16 0h0m2 0h0m0 0h0m190 0h0m717 0h0m2 0h0m1 0h0m2 0h0m1 0h0m5 0h0m2 0h0m1 0h0m4 0h0m128 0h0m9 0h0m2 0h0m11 0h0m-1101 1h0m10 0h0m14 0h0m181 0h0m720 0h0m1 0h0m1 0h0m9 0h0m1 0h0m4 0h0m5 0h0m0 0h0m10 0h0m2 0h0m116 0h0m7 0h0m6 0h0m13 0h0m-1099 1h0m9 0h0m1 0h0m3 0h0m1 0h0m4 0h0m1 0h0m907 0h0m2 0h0m3 0h0m2 0h0m3 0h0m8 0h0m0 0h0m1 0h0m2 0h0m1 0h0m0 0h0m1 0h0m154 0h0m1 0h0m-1102 1h0m0 0h0m10 0h0m4 0h0m14 0h0m896 0h0m2 0h0m8 0h0m3 0h0m0 0h0m4 0h0m1 0h0m2 0h0m2 0h0m9 0h0m121 0h0m-1080 1h0m6 0h0m2 0h0m2 0h0m5 0h0m1 0h0m9 0h0m2 0h0m2 0h0m897 0h0m4 0h0m8 0h0m1 0h0m2 0h0m2 0h0m3 0h0m5 0h0m2 0h0m1 0h0m3 0h0m118 0h0m8 0h0m-1075 1h0m0 0h0m1 0h0m11 0h0m6 0h0m4 0h0m1 0h0m897 0h0m8 0h0m1 0h0m7 0h0m2 0h0m2 0h0m8 0h0m0 0h0m123 0h0m12 0h0m17 0h0m-1106 1h0m3 0h0m4 0h0m23 0h0m168 0h0m726 0h0m1 0h0m3 0h0m6 0h0m0 0h0m15 0h0m3 0h0m3 0h0m2 0h0m117 0h0m1 0h0m13 0h0m4 0h0m10 0h0m3 0h0m-1103 1h0m1 0h0m12 0h0m7 0h0m9 0h0m892 0h0m2 0h0m4 0h0m1 0h0m5 0h0m1 0h0m3 0h0m0 0h0m10 0h0m4 0h0m3 0h0m128 0h0m10 0h0m-1093 1h0m1 0h0m4 0h0m7 0h0m4 0h0m9 0h0m899 0h0m0 0h0m6 0h0m6 0h0m5 0h0m1 0h0m1 0h0m0 0h0m0 0h0m3 0h0m2 0h0m1 0h0m-951 1h0m2 0h0m2 0h0m1 0h0m13 0h0m908 0h0m0 0h0m1 0h0m5 0h0m2 0h0m2 0h0m0 0h0m1 0h0m2 0h0m5 0h0m8 0h0m4 0h0m0 0h0m0 0h0m128 0h0m-1074 1h0m14 0h0m4 0h0m1 0h0m1 0h0m0 0h0m897 0h0m3 0h0m1 0h0m4 0h0m2 0h0m2 0h0m1 0h0m0 0h0m6 0h0m10 0h0m1 0h0m1 0h0m133 0h0m3 0h0m-1096 1h0m7 0h0m13 0h0m0 0h0m4 0h0m1 0h0m3 0h0m4 0h0m1 0h0m902 0h0m6 0h0m1 0h0m3 0h0m1 0h0m1 0h0m7 0h0m2 0h0m1 0h0m1 0h0m131 0h0m2 0h0m-1076 1h0m3 0h0m3 0h0m1 0h0m12 0h0m893 0h0m4 0h0m11 0h0m0 0h0m10 0h0m1 0h0m5 0h0m1 0h0m1 0h0m137 0h0m8 0h0m-1098 1h0m1 0h0m1 0h0m10 0h0m2 0h0m8 0h0m5 0h0m893 0h0m0 0h0m0 0h0m2 0h0m3 0h0m12 0h0m8 0h0m5 0h0m3 0h0m127 0h0m11 0h0m-1091 1h0m1 0h0m5 0h0m5 0h0m1 0h0m11 0h0m4 0h0m0 0h0m153 0h0m25 0h0m3 0h0m722 0h0m10 0h0m5 0h0m0 0h0m3 0h0m122 0h0m8 0h0m-1084 1h0m20 0h0m1 0h0m7 0h0m2 0h0m179 0h0m717 0h0m2 0h0m6 0h0m4 0h0m6 0h0m14 0h0m-954 1h0m3 0h0m16 0h0m5 0h0m909 0h0m3 0h0m0 0h0m9 0h0m4 0h0m123 0h0m22 0h0m-1096 1h0m0 0h0m3 0h0m11 0h0m1 0h0m0 0h0m9 0h0m2 0h0m170 0h0m734 0h0m3 0h0m11 0h0m8 0h0m148 0h0m-1100 1h0m1 0h0m1 0h0m0 0h0m6 0h0m3 0h0m2 0h0m16 0h0m897 0h0m2 0h0m0 0h0m7 0h0m3 0h0m4 0h0m6 0h0m4 0h0m0 0h0m2 0h0m1 0h0m-956 1h0m1 0h0m3 0h0m1 0h0m1 0h0m1 0h0m1 0h0m5 0h0m6 0h0m1 0h0m3 0h0m1 0h0m6 0h0m2 0h0m916 0h0m4 0h0m1 0h0m5 0h0m148 0h0m0 0h0m-1108 1h0m18 0h0m6 0h0m6 0h0m898 0h0m2 0h0m22 0h0m3 0h0m3 0h0m141 0h0m-1098 1h0m17 0h0m4 0h0m2 0h0m1 0h0m5 0h0m174 0h0m724 0h0m4 0h0m1 0h0m5 0h0m1 0h0m1 0h0m12 0h0m3 0h0m-939 1h0m13 0h0m1 0h0m3 0h0m919 0h0m1 0h0m3 0h0m0 0h0m137 0h0m12 0h0m-1102 1h0m6 0h0m1 0h0m3 0h0m20 0h0m160 0h0m735 0h0m2 0h0m5 0h0m162 0h0m10 0h0m-1090 1h0m15 0h0m183 0h0m714 0h0m3 0h0m7 0h0m7 0h0m2 0h0m6 0h0m126 0h0m10 0h0m-1088 1h0m3 0h0m2 0h0m0 0h0m20 0h0m899 0h0m30 0h0m1 0h0m4 0h0m137 0h0m-1090 1h0m10 0h0m2 0h0m12 0h0m897 0h0m11 0h0m2 0h0m14 0h0m-947 1h0m0 0h0m7 0h0m3 0h0m3 0h0m5 0h0m903 0h0m8 0h0m7 0h0m4 0h0m-946 1h0m17 0h0m915 0h0m3 0h0m149 0h0m4 0h0m10 0h0m-1079 1h0m7 0h0m2 0h0m1 0h0m2 0h0m908 0h0m2 0h0m0 0h0m7 0h0m1 0h0m6 0h0m145 0h0m-1103 1h0m16 0h0m18 0h0m901 0h0m10 0h0m0 0h0m146 0h0m15 0h0m-1099 1h0m1 0h0m4 0h0m2 0h0m17 0h0m901 0h0m2 0h0m1 0h0m20 0h0m123 0h0m16 0h0m-1093 1h0m3 0h0m4 0h0m24 0h0m917 0h0m-945 1h0m4 0h0m17 0h0m907 0h0m7 0h0m6 0h0m2 0h0m143 0h0m5 0h0m-1079 1h0m1 0h0m8 0h0m5 0h0m907 0h0m1 0h0m20 0h0m-939 1h0m1 0h0m10 0h0m902 0h0m1 0h0m13 0h0m0 0h0m11 0h0m145 0h0m-1095 1h0m20 0h0m3 0h0m898 0h0m17 0h0m5 0h0m4 0h0m1 0h0m130 0h0m-1083 1h0m3 0h0m27 0h0m896 0h0m-927 1h0m12 0h0m1065 0h0m22 0h0m-1092 1h0m9 0h0m15 0h0m915 0h0m-943 1h0m5 0h0m6 0h0m10 0h0m6 0h0m3 0h0m906 0h0m15 0h0m3 0h0m118 0h0m25 0h0m-1091 1h0m935 0h0m8 0h0m1 0h0m-951 1h0m5 0h0m22 0h0m3 0h0m896 0h0m2 0h0m2 0h0m156 0h0m-129 1h0m143 0h0m-1101 1h0m11 0h0m8 0h0m5 0h0m4 0h0m917 0h0m-924 1h0m10 1h0m1070 0h0m-1088 1h0m925 0h0m-928 1h0m1076 0h0m-1078 1h0m13 1h0m3 0h0m1074 0h0m-1068 1h0m1051 0h0m-1078 1h0m938 0h0m-927 1h0m1069 6h0m-1070 2h0" stroke="#1c1c1c" stroke-width="4.2" stroke-linecap="round" fill="none"/>
<rect x="108.4" y="1993.2" width="371.7" height="401.4" fill="none" stroke="#1a1a1a" stroke-width="1.5"/>
<text x="93.2" y="2372.2" text-anchor="end">0.0</text>
<text x="93.2" y="2304.3" text-anchor="end">0.2</text>
<text x="93.2" y="2236.4" text-anchor="end">0.4</text>
<text x="93.2" y="2168.4" text-anchor="end">0.6</text>
<text x="93.2" y="2100.5" text-anchor="end">0.8</text>
<text x="93.2" y="2032.6" text-anchor="end">1.0</text>
<path d="M155.2 2394.6v6.5M248.1 2394.6v6.5M341 2394.6v6.5M433.9 2394.6v6.5M108.4 2363.1h-6.5M108.4 2295.2h-6.5M108.4 2227.3h-6.5M108.4 2159.3h-6.5M108.4 2091.4h-6.5M108.4 2023.5h-6.5" stroke="#1a1a1a" stroke-width="1.4" fill="none"/>
<text x="148" y="2431" text-anchor="middle">HSC/MPP</text>
<text x="244.8" y="2431" text-anchor="middle">CMP</text>
<text x="337.4" y="2431" text-anchor="middle">GMP</text>
<text x="426.5" y="2431" text-anchor="middle">Mono</text>
<text x="294.2" y="1973.2" text-anchor="middle" font-size="25.5">NT</text>
<rect x="581" y="1994.1" width="371.7" height="402" fill="none" stroke="#1a1a1a" stroke-width="1.5"/>
<text x="565.8" y="2376.9" text-anchor="end">0.0</text>
<text x="565.8" y="2309.6" text-anchor="end">0.2</text>
<text x="565.8" y="2242.3" text-anchor="end">0.4</text>
<text x="565.8" y="2175" text-anchor="end">0.6</text>
<text x="565.8" y="2107.7" text-anchor="end">0.8</text>
<text x="565.8" y="2040.4" text-anchor="end">1.0</text>
<path d="M618.2 2396.1v6.5M692.4 2396.1v6.5M766.8 2396.1v6.5M841 2396.1v6.5M915.5 2396.1v6.5M581 2367.8h-6.5M581 2300.5h-6.5M581 2233.2h-6.5M581 2165.9h-6.5M581 2098.6h-6.5M581 2031.3h-6.5" stroke="#1a1a1a" stroke-width="1.4" fill="none"/>
<text x="610.2" y="2432.2" text-anchor="middle">HSC/MPP</text>
<text x="689.1" y="2432.2" text-anchor="middle">CMP</text>
<text x="763" y="2432.2" text-anchor="middle">GMP</text>
<text x="834.2" y="2432.2" text-anchor="middle">Mono</text>
<text x="908.9" y="2432.2" text-anchor="middle">iMS1</text>
<text x="767.4" y="1973.2" text-anchor="middle" font-size="25.5">LPS, Pam3</text>
<text transform="translate(34.3 2182.3) rotate(-90)" text-anchor="middle" font-size="25">Pseudotime</text>
<!-- hh -->
<clipPath id="ch1"><rect x="1105.6" y="1964" width="460.8" height="448.2"/></clipPath>
<g clip-path="url(#ch1)">
<path transform="scale(1)" d="M1213 1985h0m33 0h0m5 0h0m1 0h0m3 0h0m4 0h0m2 0h0m4 0h0m0 0h0m0 0h0m3 0h0m5 0h0m1 0h0m0 0h0m1 0h0m1 0h0m3 0h0m0 0h0m0 0h0m3 0h0m1 0h0m3 0h0m2 0h0m2 0h0m43 0h0m4 0h0m2 0h0m0 0h0m1 0h0m4 0h0m1 0h0m2 0h0m11 0h0m7 0h0m1 0h0m1 0h0m6 0h0m6 0h0m2 0h0m6 0h0m0 0h0m4 0h0m3 0h0m22 0h0m9 0h0m12 0h0m12 0h0m-15 7h0m-90 5h0m-7 2h0m0 8h0m39 5h0m15 3h0m-160 3h0m0 2h0m125 8h0m1 2h0m19 13h0m-39 7h0m-62 12h0m11 11h0m68 1h0m-113 5h0m46 10h0m73 4h0m-20 1h0m-55 1h0m-7 8h0m53 6h0m63 1h0m-61 1h0m30 0h0m47 2h0m3 2h0m-138 4h0m68 1h0m36 1h0m-114 4h0m12 2h0m-10 3h0m104 0h0m-151 3h0m162 1h0m-101 4h0m-26 5h0m92 0h0m-12 4h0m-82 1h0m111 1h0m46 2h0m-143 5h0m70 2h0m-48 1h0m56 2h0m7 2h0m-18 4h0m-83 1h0m92 2h0m-14 3h0m4 0h0m-43 1h0m138 1h0m-97 1h0m1 0h0m16 0h0m-18 1h0m11 3h0m-65 1h0m53 0h0m5 0h0m1 0h0m-3 1h0m74 1h0m-74 7h0m-3 1h0m6 1h0m-1 1h0m-47 2h0m43 0h0m22 2h0m-66 1h0m44 0h0m-45 2h0m54 1h0m-8 2h0m7 0h0m-67 1h0m1 1h0m15 0h0m-65 3h0m108 0h0m13 0h0m-14 1h0m2 0h0m97 1h0m-215 1h0m120 1h0m-46 5h0m45 3h0m84 0h0m-19 3h0m20 0h0m95 0h0m-183 1h0m-48 3h0m50 1h0m41 1h0m-3 1h0m-79 1h0m0 2h0m-6 2h0m2 0h0m-7 2h0m53 0h0m37 0h0m-123 1h0m84 1h0m9 0h0m-8 1h0m1 0h0m18 1h0m-64 2h0m4 1h0m60 1h0m-67 1h0m8 0h0m-22 1h0m22 1h0m44 1h0m40 0h0m-84 1h0m-1 1h0m39 0h0m30 0h0m20 1h0m-90 1h0m1 0h0m39 0h0m-51 1h0m4 1h0m51 0h0m3 0h0m10 0h0m5 0h0m30 0h0m-91 1h0m1 0h0m-5 1h0m55 1h0m27 0h0m-79 1h0m45 0h0m15 0h0m14 0h0m-94 1h0m13 0h0m-29 1h0m26 0h0m11 0h0m42 1h0m4 0h0m5 0h0m-73 1h0m20 0h0m2 0h0m39 0h0m-145 1h0m64 0h0m43 1h0m-5 1h0m4 0h0m55 0h0m11 0h0m-22 1h0m4 0h0m7 0h0m-63 1h0m55 0h0m12 0h0m-67 1h0m9 0h0m44 0h0m-46 1h0m59 0h0m14 0h0m-80 1h0m1 0h0m-3 1h0m5 0h0m50 0h0m-6 1h0m4 1h0m76 0h0m-153 1h0m31 0h0m4 0h0m-26 1h0m3 0h0m15 0h0m46 0h0m0 1h0m4 0h0m15 0h0m48 0h0m-121 1h0m11 0h0m1 0h0m51 0h0m-7 1h0m3 0h0m33 0h0m-80 1h0m3 0h0m1 0h0m55 0h0m21 0h0m-88 1h0m53 0h0m37 0h0m16 0h0m-164 1h0m61 0h0m47 0h0m15 0h0m4 0h0m-101 1h0m18 0h0m12 0h0m-1 1h0m1 0h0m55 0h0m2 0h0m20 0h0m-79 1h0m12 0h0m42 0h0m0 0h0m3 0h0m1 0h0m4 0h0m4 0h0m-120 1h0m40 0h0m20 0h0m2 0h0m54 0h0m18 0h0m1 0h0m-75 1h0m49 0h0m2 0h0m16 1h0m-59 1h0m2 0h0m39 0h0m-54 1h0m9 0h0m1 0h0m3 0h0m40 0h0m0 0h0m1 0h0m12 0h0m-5 1h0m13 0h0m48 0h0m-112 1h0m48 0h0m-72 1h0m24 0h0m48 0h0m2 0h0m13 0h0m2 0h0m78 0h0m98 0h0m-304 1h0m118 0h0m22 0h0m-78 1h0m46 0h0m6 0h0m29 0h0m-102 1h0m15 0h0m3 0h0m49 0h0m-133 1h0m92 0h0m40 0h0m3 0h0m-49 1h0m0 0h0m4 0h0m2 0h0m-21 1h0m3 0h0m61 0h0m12 0h0m11 0h0m-117 1h0m38 0h0m7 0h0m1 0h0m2 0h0m46 0h0m10 0h0m6 0h0m-71 1h0m53 0h0m2 0h0m2 0h0m-127 1h0m22 0h0m47 0h0m5 0h0m1 0h0m4 0h0m48 0h0m8 0h0m4 0h0m2 0h0m20 0h0m-109 1h0m19 0h0m3 0h0m6 0h0m0 0h0m60 0h0m-86 1h0m16 0h0m5 0h0m49 0h0m1 0h0m2 0h0m3 0h0m2 0h0m10 0h0m9 0h0m-77 1h0m2 0h0m45 0h0m11 0h0m-125 1h0m55 0h0m12 0h0m4 0h0m46 0h0m16 0h0m4 0h0m-63 1h0m40 0h0m7 0h0m18 0h0m7 0h0m-94 1h0m15 0h0m4 0h0m2 0h0m43 0h0m2 0h0m3 0h0m5 0h0m0 0h0m13 0h0m-85 1h0m2 0h0m10 0h0m4 0h0m5 0h0m43 0h0m20 0h0m44 0h0m-112 1h0m4 0h0m40 0h0m3 0h0m2 0h0m10 0h0m21 0h0m-240 1h0m133 0h0m13 0h0m3 0h0m6 0h0m3 0h0m46 0h0m1 0h0m4 0h0m2 0h0m4 0h0m-56 1h0m1 0h0m55 0h0m2 0h0m2 0h0m5 0h0m-211 1h0m134 0h0m2 0h0m10 0h0m3 0h0m2 0h0m0 0h0m1 0h0m57 0h0m26 0h0m-122 1h0m39 0h0m39 0h0m3 0h0m4 0h0m16 0h0m2 0h0m0 0h0m4 0h0m26 0h0m-106 1h0m5 0h0m6 0h0m54 0h0m2 0h0m-62 1h0m3 0h0m5 0h0m39 0h0m2 0h0m3 0h0m1 0h0m8 0h0m16 0h0m-78 1h0m2 0h0m2 0h0m0 0h0m0 0h0m43 0h0m5 0h0m1 0h0m0 0h0m14 0h0m1 0h0m34 0h0m-97 1h0m2 0h0m41 0h0m0 0h0m2 0h0m2 0h0m4 0h0m2 0h0m-54 1h0m1 0h0m3 0h0m46 0h0m-52 1h0m47 0h0m11 0h0m6 0h0m10 0h0m-73 1h0m6 0h0m38 0h0m1 0h0m1 0h0m13 0h0m20 0h0m6 0h0m-157 1h0m64 0h0m9 0h0m1 0h0m2 0h0m0 0h0m43 0h0m3 0h0m31 0h0m9 0h0m-106 1h0m12 0h0m9 0h0m1 0h0m39 0h0m3 0h0m4 0h0m7 0h0m7 0h0m12 0h0m-109 1h0m13 0h0m19 0h0m0 0h0m0 0h0m4 0h0m43 0h0m0 0h0m1 0h0m3 0h0m2 0h0m22 0h0m-76 1h0m4 0h0m2 0h0m39 0h0m0 0h0m37 0h0m20 0h0m-119 1h0m1 0h0m17 0h0m1 0h0m1 0h0m3 0h0m0 0h0m38 0h0m0 0h0m17 0h0m4 0h0m1 0h0m7 0h0m4 0h0m-100 1h0m3 0h0m0 0h0m12 0h0m3 0h0m3 0h0m0 0h0m2 0h0m5 0h0m41 0h0m4 0h0m10 0h0m14 0h0m8 0h0m8 0h0m-98 1h0m4 0h0m1 0h0m48 0h0m3 0h0m3 0h0m1 0h0m0 0h0m6 0h0m3 0h0m1 0h0m0 0h0m29 0h0m3 0h0m-130 1h0m31 0h0m1 0h0m2 0h0m1 0h0m1 0h0m3 0h0m1 0h0m47 0h0m18 0h0m8 0h0m-129 1h0m12 0h0m19 0h0m6 0h0m14 0h0m2 0h0m5 0h0m38 0h0m21 0h0m3 0h0m32 0h0m-129 1h0m8 0h0m4 0h0m5 0h0m8 0h0m7 0h0m0 0h0m41 0h0m0 0h0m2 0h0m1 0h0m1 0h0m0 0h0m3 0h0m3 0h0m5 0h0m2 0h0m5 0h0m0 0h0m7 0h0m1 0h0m8 0h0m0 0h0m7 0h0m37 0h0m-125 1h0m4 0h0m39 0h0m2 0h0m1 0h0m1 0h0m2 0h0m4 0h0m1 0h0m3 0h0m3 0h0m8 0h0m15 0h0m-119 1h0m20 0h0m14 0h0m0 0h0m2 0h0m2 0h0m2 0h0m43 0h0m6 0h0m7 0h0m2 0h0m51 0h0m-161 1h0m30 0h0m13 0h0m7 0h0m1 0h0m2 0h0m42 0h0m1 0h0m0 0h0m0 0h0m2 0h0m2 0h0m3 0h0m5 0h0m9 0h0m-120 1h0m30 0h0m5 0h0m3 0h0m10 0h0m0 0h0m2 0h0m5 0h0m40 0h0m0 0h0m5 0h0m7 0h0m6 0h0m7 0h0m2 0h0m8 0h0m-107 1h0m0 0h0m27 0h0m4 0h0m1 0h0m0 0h0m39 0h0m0 0h0m1 0h0m3 0h0m4 0h0m16 0h0m6 0h0m-92 1h0m20 0h0m2 0h0m41 0h0m0 0h0m2 0h0m0 0h0m1 0h0m6 0h0m8 0h0m-97 1h0m27 0h0m9 0h0m2 0h0m1 0h0m2 0h0m39 0h0m3 0h0m5 0h0m4 0h0m4 0h0m1 0h0m7 0h0m131 0h0m-241 1h0m29 0h0m7 0h0m5 0h0m4 0h0m43 0h0m1 0h0m2 0h0m0 0h0m3 0h0m2 0h0m4 0h0m4 0h0m4 0h0m6 0h0m1 0h0m24 0h0m24 0h0m-141 1h0m18 0h0m2 0h0m2 0h0m1 0h0m1 0h0m43 0h0m1 0h0m1 0h0m0 0h0m1 0h0m2 0h0m12 0h0m2 0h0m3 0h0m-91 1h0m5 0h0m8 0h0m3 0h0m7 0h0m1 0h0m47 0h0m2 0h0m1 0h0m2 0h0m1 0h0m1 0h0m11 0h0m2 0h0m11 0h0m-103 1h0m8 0h0m3 0h0m11 0h0m5 0h0m40 0h0m0 0h0m1 0h0m5 0h0m2 0h0m12 0h0m10 0h0m4 0h0m67 0h0m-169 1h0m1 0h0m15 0h0m2 0h0m1 0h0m6 0h0m42 0h0m1 0h0m0 0h0m5 0h0m1 0h0m2 0h0m6 0h0m1 0h0m1 0h0m21 0h0m-104 1h0m15 0h0m11 0h0m40 0h0m0 0h0m8 0h0m0 0h0m8 0h0m2 0h0m2 0h0m8 0h0m1 0h0m14 0h0m-102 1h0m5 0h0m5 0h0m0 0h0m2 0h0m1 0h0m1 0h0m1 0h0m4 0h0m0 0h0m0 0h0m2 0h0m38 0h0m0 0h0m3 0h0m1 0h0m1 0h0m1 0h0m5 0h0m2 0h0m5 0h0m2 0h0m2 0h0m-87 1h0m3 0h0m1 0h0m8 0h0m2 0h0m10 0h0m1 0h0m0 0h0m0 0h0m1 0h0m0 0h0m1 0h0m39 0h0m1 0h0m0 0h0m2 0h0m14 0h0m5 0h0m4 0h0m12 0h0m-131 1h0m32 0h0m11 0h0m2 0h0m0 0h0m5 0h0m3 0h0m39 0h0m2 0h0m0 0h0m1 0h0m1 0h0m0 0h0m1 0h0m0 0h0m1 0h0m2 0h0m36 0h0m1 0h0m-122 1h0m27 0h0m2 0h0m0 0h0m3 0h0m1 0h0m1 0h0m1 0h0m2 0h0m0 0h0m1 0h0m40 0h0m2 0h0m1 0h0m1 0h0m1 0h0m1 0h0m1 0h0m2 0h0m5 0h0m2 0h0m0 0h0m2 0h0m2 0h0m177 0h0m-299 1h0m35 0h0m8 0h0m4 0h0m1 0h0m9 0h0m0 0h0m5 0h0m1 0h0m38 0h0m0 0h0m5 0h0m3 0h0m2 0h0m5 0h0m0 0h0m12 0h0m3 0h0m39 0h0m16 0h0m-184 1h0m34 0h0m9 0h0m3 0h0m0 0h0m3 0h0m0 0h0m0 0h0m4 0h0m2 0h0m1 0h0m0 0h0m2 0h0m2 0h0m0 0h0m1 0h0m39 0h0m2 0h0m0 0h0m5 0h0m1 0h0m2 0h0m1 0h0m1 0h0m9 0h0m5 0h0m81 0h0m-185 1h0m19 0h0m1 0h0m2 0h0m1 0h0m0 0h0m12 0h0m1 0h0m0 0h0m1 0h0m2 0h0m38 0h0m3 0h0m4 0h0m0 0h0m5 0h0m4 0h0m12 0h0m2 0h0m5 0h0m9 0h0m2 0h0m29 0h0m-165 1h0m18 0h0m11 0h0m6 0h0m3 0h0m0 0h0m3 0h0m2 0h0m3 0h0m2 0h0m0 0h0m0 0h0m0 0h0m1 0h0m1 0h0m1 0h0m39 0h0m1 0h0m2 0h0m0 0h0m2 0h0m1 0h0m2 0h0m1 0h0m1 0h0m9 0h0m23 0h0m24 0h0m-139 1h0m14 0h0m11 0h0m0 0h0m1 0h0m1 0h0m1 0h0m1 0h0m2 0h0m42 0h0m0 0h0m0 0h0m2 0h0m1 0h0m2 0h0m0 0h0m0 0h0m1 0h0m1 0h0m1 0h0m6 0h0m7 0h0m2 0h0m4 0h0m2 0h0m14 0h0m7 0h0m33 0h0m-139 1h0m4 0h0m0 0h0m8 0h0m0 0h0m1 0h0m1 0h0m2 0h0m1 0h0m39 0h0m0 0h0m2 0h0m0 0h0m0 0h0m1 0h0m3 0h0m4 0h0m2 0h0m4 0h0m-82 1h0m6 0h0m3 0h0m4 0h0m2 0h0m4 0h0m0 0h0m3 0h0m1 0h0m2 0h0m2 0h0m1 0h0m0 0h0m38 0h0m1 0h0m0 0h0m0 0h0m0 0h0m1 0h0m0 0h0m4 0h0m0 0h0m2 0h0m0 0h0m4 0h0m2 0h0m1 0h0m4 0h0m3 0h0m0 0h0m1 0h0m9 0h0m9 0h0m5 0h0m3 0h0m-154 1h0m5 0h0m23 0h0m3 0h0m28 0h0m1 0h0m0 0h0m2 0h0m1 0h0m4 0h0m39 0h0m1 0h0m0 0h0m5 0h0m8 0h0m2 0h0m1 0h0m0 0h0m3 0h0m12 0h0m40 0h0m-171 1h0m2 0h0m17 0h0m17 0h0m0 0h0m5 0h0m1 0h0m1 0h0m0 0h0m4 0h0m1 0h0m1 0h0m2 0h0m1 0h0m0 0h0m2 0h0m1 0h0m4 0h0m0 0h0m0 0h0m1 0h0m38 0h0m1 0h0m0 0h0m0 0h0m1 0h0m2 0h0m3 0h0m7 0h0m4 0h0m3 0h0m0 0h0m3 0h0m3 0h0m3 0h0m0 0h0m-130 1h0m20 0h0m13 0h0m9 0h0m6 0h0m4 0h0m0 0h0m1 0h0m0 0h0m1 0h0m1 0h0m2 0h0m1 0h0m1 0h0m0 0h0m3 0h0m38 0h0m2 0h0m1 0h0m0 0h0m2 0h0m2 0h0m1 0h0m0 0h0m1 0h0m3 0h0m4 0h0m1 0h0m1 0h0m3 0h0m4 0h0m7 0h0m-116 1h0m23 0h0m3 0h0m2 0h0m7 0h0m3 0h0m2 0h0m0 0h0m1 0h0m1 0h0m4 0h0m38 0h0m1 0h0m1 0h0m2 0h0m0 0h0m7 0h0m1 0h0m2 0h0m0 0h0m0 0h0m8 0h0m1 0h0m9 0h0m13 0h0m-142 1h0m23 0h0m1 0h0m12 0h0m2 0h0m1 0h0m2 0h0m3 0h0m1 0h0m5 0h0m2 0h0m2 0h0m3 0h0m0 0h0m2 0h0m0 0h0m40 0h0m1 0h0m2 0h0m2 0h0m2 0h0m1 0h0m2 0h0m0 0h0m0 0h0m3 0h0m1 0h0m2 0h0m0 0h0m17 0h0m21 0h0m15 0h0m-128 1h0m5 0h0m1 0h0m5 0h0m2 0h0m1 0h0m1 0h0m0 0h0m1 0h0m1 0h0m1 0h0m0 0h0m41 0h0m1 0h0m2 0h0m1 0h0m1 0h0m0 0h0m1 0h0m0 0h0m4 0h0m3 0h0m4 0h0m2 0h0m1 0h0m2 0h0m1 0h0m0 0h0m7 0h0m0 0h0m23 0h0m45 0h0m-160 1h0m1 0h0m8 0h0m6 0h0m2 0h0m1 0h0m1 0h0m1 0h0m41 0h0m2 0h0m1 0h0m0 0h0m1 0h0m0 0h0m5 0h0m2 0h0m1 0h0m0 0h0m5 0h0m0 0h0m2 0h0m3 0h0m1 0h0m32 0h0m-126 1h0m6 0h0m8 0h0m0 0h0m2 0h0m3 0h0m0 0h0m0 0h0m2 0h0m1 0h0m0 0h0m2 0h0m0 0h0m1 0h0m2 0h0m0 0h0m1 0h0m1 0h0m0 0h0m0 0h0m0 0h0m2 0h0m0 0h0m1 0h0m0 0h0m38 0h0m3 0h0m2 0h0m14 0h0m2 0h0m0 0h0m0 0h0m5 0h0m4 0h0m18 0h0m-133 1h0m15 0h0m3 0h0m8 0h0m9 0h0m4 0h0m3 0h0m1 0h0m1 0h0m1 0h0m0 0h0m40 0h0m0 0h0m0 0h0m1 0h0m0 0h0m2 0h0m0 0h0m0 0h0m3 0h0m1 0h0m0 0h0m0 0h0m1 0h0m5 0h0m1 0h0m2 0h0m0 0h0m1 0h0m5 0h0m3 0h0m15 0h0m177 0h0m-287 1h0m4 0h0m12 0h0m3 0h0m5 0h0m1 0h0m0 0h0m0 0h0m0 0h0m3 0h0m0 0h0m2 0h0m0 0h0m0 0h0m2 0h0m0 0h0m40 0h0m1 0h0m1 0h0m0 0h0m0 0h0m2 0h0m0 0h0m0 0h0m1 0h0m3 0h0m6 0h0m2 0h0m3 0h0m3 0h0m1 0h0m12 0h0m0 0h0m41 0h0m-188 1h0m14 0h0m19 0h0m22 0h0m2 0h0m5 0h0m1 0h0m2 0h0m4 0h0m0 0h0m0 0h0m2 0h0m39 0h0m0 0h0m1 0h0m0 0h0m1 0h0m0 0h0m1 0h0m1 0h0m0 0h0m1 0h0m2 0h0m1 0h0m2 0h0m1 0h0m3 0h0m0 0h0m1 0h0m1 0h0m1 0h0m1 0h0m2 0h0m-84 1h0m7 0h0m4 0h0m0 0h0m5 0h0m1 0h0m0 0h0m5 0h0m1 0h0m0 0h0m1 0h0m1 0h0m1 0h0m0 0h0m0 0h0m38 0h0m0 0h0m1 0h0m0 0h0m0 0h0m1 0h0m9 0h0m0 0h0m0 0h0m2 0h0m1 0h0m0 0h0m1 0h0m1 0h0m5 0h0m12 0h0m0 0h0m9 0h0m19 0h0m6 0h0m-160 1h0m17 0h0m4 0h0m1 0h0m7 0h0m6 0h0m3 0h0m2 0h0m1 0h0m2 0h0m1 0h0m5 0h0m0 0h0m1 0h0m0 0h0m3 0h0m0 0h0m1 0h0m0 0h0m40 0h0m0 0h0m1 0h0m0 0h0m2 0h0m3 0h0m1 0h0m1 0h0m1 0h0m0 0h0m0 0h0m0 0h0m3 0h0m1 0h0m2 0h0m2 0h0m1 0h0m2 0h0m0 0h0m15 0h0m5 0h0m32 0h0m-156 1h0m18 0h0m3 0h0m2 0h0m1 0h0m1 0h0m1 0h0m9 0h0m1 0h0m2 0h0m1 0h0m0 0h0m0 0h0m1 0h0m1 0h0m0 0h0m0 0h0m0 0h0m1 0h0m2 0h0m1 0h0m0 0h0m39 0h0m1 0h0m1 0h0m0 0h0m5 0h0m0 0h0m1 0h0m2 0h0m2 0h0m3 0h0m0 0h0m3 0h0m2 0h0m2 0h0m20 0h0m27 0h0m-146 1h0m8 0h0m4 0h0m2 0h0m4 0h0m3 0h0m2 0h0m3 0h0m0 0h0m1 0h0m2 0h0m0 0h0m1 0h0m1 0h0m0 0h0m1 0h0m0 0h0m0 0h0m1 0h0m1 0h0m1 0h0m0 0h0m1 0h0m0 0h0m1 0h0m0 0h0m1 0h0m38 0h0m0 0h0m0 0h0m1 0h0m0 0h0m1 0h0m0 0h0m3 0h0m0 0h0m1 0h0m1 0h0m3 0h0m2 0h0m1 0h0m1 0h0m1 0h0m0 0h0m1 0h0m4 0h0m2 0h0m3 0h0m2 0h0m0 0h0m2 0h0m3 0h0m0 0h0m3 0h0m0 0h0m16 0h0m3 0h0m19 0h0m-214 1h0m5 0h0m41 0h0m31 0h0m0 0h0m6 0h0m0 0h0m4 0h0m0 0h0m1 0h0m1 0h0m4 0h0m0 0h0m1 0h0m0 0h0m2 0h0m1 0h0m0 0h0m2 0h0m3 0h0m0 0h0m0 0h0m1 0h0m38 0h0m0 0h0m1 0h0m0 0h0m1 0h0m2 0h0m2 0h0m2 0h0m0 0h0m1 0h0m0 0h0m0 0h0m2 0h0m0 0h0m4 0h0m7 0h0m0 0h0m8 0h0m3 0h0m1 0h0m8 0h0m5 0h0m10 0h0m-140 1h0m15 0h0m7 0h0m2 0h0m2 0h0m1 0h0m4 0h0m1 0h0m0 0h0m2 0h0m0 0h0m0 0h0m1 0h0m3 0h0m1 0h0m0 0h0m2 0h0m0 0h0m0 0h0m1 0h0m0 0h0m0 0h0m0 0h0m3 0h0m0 0h0m0 0h0m38 0h0m1 0h0m1 0h0m1 0h0m1 0h0m0 0h0m2 0h0m0 0h0m0 0h0m1 0h0m1 0h0m0 0h0m2 0h0m0 0h0m0 0h0m3 0h0m0 0h0m5 0h0m6 0h0m4 0h0m0 0h0m3 0h0m2 0h0m1 0h0m1 0h0m61 0h0m-206 1h0m6 0h0m47 0h0m1 0h0m2 0h0m3 0h0m2 0h0m1 0h0m1 0h0m0 0h0m3 0h0m1 0h0m1 0h0m1 0h0m1 0h0m1 0h0m1 0h0m38 0h0m0 0h0m0 0h0m1 0h0m0 0h0m1 0h0m0 0h0m1 0h0m1 0h0m1 0h0m0 0h0m1 0h0m2 0h0m0 0h0m3 0h0m0 0h0m1 0h0m0 0h0m0 0h0m5 0h0m4 0h0m2 0h0m12 0h0m4 0h0m8 0h0m4 0h0m96 0h0m-216 1h0m9 0h0m1 0h0m1 0h0m5 0h0m0 0h0m1 0h0m0 0h0m1 0h0m6 0h0m1 0h0m1 0h0m1 0h0m1 0h0m1 0h0m0 0h0m1 0h0m0 0h0m39 0h0m1 0h0m1 0h0m0 0h0m0 0h0m1 0h0m0 0h0m0 0h0m0 0h0m0 0h0m3 0h0m3 0h0m0 0h0m2 0h0m1 0h0m3 0h0m6 0h0m9 0h0m6 0h0m-109 1h0m4 0h0m0 0h0m1 0h0m8 0h0m1 0h0m0 0h0m1 0h0m1 0h0m2 0h0m0 0h0m4 0h0m2 0h0m1 0h0m1 0h0m2 0h0m1 0h0m0 0h0m1 0h0m1 0h0m1 0h0m1 0h0m0 0h0m1 0h0m40 0h0m2 0h0m0 0h0m1 0h0m0 0h0m1 0h0m3 0h0m0 0h0m0 0h0m1 0h0m4 0h0m2 0h0m4 0h0m2 0h0m0 0h0m1 0h0m2 0h0m10 0h0m1 0h0m2 0h0m48 0h0m30 0h0m-195 1h0m3 0h0m3 0h0m10 0h0m1 0h0m2 0h0m3 0h0m1 0h0m2 0h0m1 0h0m3 0h0m1 0h0m1 0h0m0 0h0m1 0h0m2 0h0m0 0h0m0 0h0m2 0h0m0 0h0m2 0h0m0 0h0m1 0h0m1 0h0m0 0h0m1 0h0m0 0h0m1 0h0m38 0h0m0 0h0m0 0h0m1 0h0m0 0h0m0 0h0m2 0h0m0 0h0m0 0h0m0 0h0m1 0h0m0 0h0m1 0h0m0 0h0m1 0h0m1 0h0m0 0h0m0 0h0m1 0h0m2 0h0m0 0h0m1 0h0m0 0h0m0 0h0m1 0h0m1 0h0m8 0h0m1 0h0m2 0h0m6 0h0m5 0h0m16 0h0m-207 1h0m13 0h0m59 0h0m15 0h0m7 0h0m2 0h0m0 0h0m5 0h0m2 0h0m5 0h0m3 0h0m1 0h0m0 0h0m2 0h0m1 0h0m0 0h0m1 0h0m0 0h0m1 0h0m0 0h0m0 0h0m41 0h0m3 0h0m1 0h0m0 0h0m0 0h0m2 0h0m0 0h0m2 0h0m1 0h0m1 0h0m0 0h0m1 0h0m0 0h0m1 0h0m4 0h0m1 0h0m2 0h0m5 0h0m2 0h0m9 0h0m30 0h0m-152 1h0m4 0h0m4 0h0m0 0h0m16 0h0m2 0h0m2 0h0m1 0h0m3 0h0m1 0h0m3 0h0m0 0h0m1 0h0m0 0h0m0 0h0m1 0h0m0 0h0m1 0h0m0 0h0m1 0h0m2 0h0m0 0h0m1 0h0m0 0h0m1 0h0m0 0h0m0 0h0m1 0h0m0 0h0m2 0h0m0 0h0m38 0h0m0 0h0m1 0h0m0 0h0m2 0h0m0 0h0m1 0h0m1 0h0m2 0h0m0 0h0m2 0h0m3 0h0m1 0h0m6 0h0m0 0h0m4 0h0m0 0h0m2 0h0m4 0h0m-98 1h0m5 0h0m6 0h0m0 0h0m1 0h0m4 0h0m1 0h0m1 0h0m0 0h0m1 0h0m4 0h0m2 0h0m3 0h0m1 0h0m0 0h0m0 0h0m1 0h0m0 0h0m1 0h0m0 0h0m38 0h0m1 0h0m0 0h0m1 0h0m1 0h0m0 0h0m0 0h0m0 0h0m1 0h0m1 0h0m0 0h0m0 0h0m0 0h0m1 0h0m3 0h0m0 0h0m3 0h0m2 0h0m2 0h0m3 0h0m3 0h0m0 0h0m6 0h0m11 0h0" stroke="#d92b2b" stroke-width="6.4" stroke-linecap="round" fill="none"/>
<path transform="scale(1)" d="M1297 1985h0m31 0h0m-31 10h0m0 13h0m-2 39h0m33 6h0m-31 25h0m29 0h0m-30 15h0m2 20h0m23 10h0m-24 10h0m2 12h0m24 5h0m-26 8h0m1 1h0m1 3h0m-2 16h0m-3 22h0m4 24h0m1 0h0m-2 2h0m2 7h0m-1 1h0m-2 2h0m-1 7h0m3 4h0m-3 1h0m1 0h0m25 4h0m-24 1h0m-3 2h0m2 0h0m1 1h0m-2 1h0m1 0h0m1 0h0m24 0h0m-26 3h0m7 1h0m-5 1h0m1 1h0m18 0h0m-19 2h0m-3 3h0m32 4h0m-3 3h0m-27 2h0m0 1h0m2 1h0m24 1h0m-5 1h0m-25 2h0m6 1h0m3 0h0m-6 1h0m6 1h0m20 0h0m-21 1h0m-4 1h0m25 3h0m-23 2h0m-1 2h0m24 0h0m-23 1h0m-3 3h0m26 0h0m2 4h0m-1 1h0m-26 1h0m25 0h0m2 0h0m-2 2h0m-23 1h0m24 0h0m2 1h0m-26 1h0m-3 1h0m1 0h0m1 0h0m26 0h0m-29 1h0m2 0h0m-1 1h0m5 1h0m-2 1h0m-1 1h0m1 0h0m21 0h0m4 0h0m-30 3h0m1 0h0m5 0h0m-3 1h0m0 0h0m1 0h0m2 0h0m-3 1h0m25 1h0m-26 1h0m27 0h0m-28 2h0m27 0h0m2 0h0m-26 1h0m0 0h0m25 0h0m1 1h0m-23 1h0m-2 1h0m0 0h0m1 0h0m0 0h0m22 0h0m4 0h0m-29 1h0m0 0h0m26 0h0m4 0h0m-32 2h0m24 0h0m4 0h0m3 0h0m-3 1h0m-26 1h0m26 0h0m-24 1h0m26 0h0m-26 1h0m1 0h0m0 0h0m1 0h0m21 1h0m-24 1h0m1 0h0m24 0h0m0 0h0m2 0h0m-4 2h0m5 0h0m-28 1h0m1 0h0m1 0h0m21 0h0m1 0h0m5 0h0m-33 1h0m5 0h0m2 0h0m23 1h0m1 0h0m1 0h0m2 0h0m-32 1h0m0 0h0m3 0h0m25 1h0m-26 2h0m26 0h0m1 0h0m-23 1h0m0 0h0m18 0h0m3 0h0m-27 1h0m3 0h0m0 0h0m2 0h0m21 0h0m2 0h0m0 0h0m3 0h0m-6 1h0m1 0h0m1 0h0m-23 1h0m20 0h0m2 0h0m-25 1h0m1 0h0m1 0h0m1 0h0m22 0h0m2 0h0m-28 1h0m1 0h0m3 0h0m2 0h0m21 0h0m3 0h0m-30 1h0m2 0h0m0 0h0m2 0h0m22 0h0m0 1h0m2 0h0m-27 1h0m3 0h0m24 0h0m2 0h0m2 0h0m-31 1h0m0 0h0m4 0h0m1 0h0m19 0h0m-26 1h0m3 0h0m0 0h0m1 0h0m1 0h0m4 0h0m20 0h0m0 0h0m1 0h0m-27 1h0m0 0h0m1 0h0m2 0h0m18 0h0m3 0h0m0 0h0m5 0h0m-31 1h0m1 0h0m1 0h0m0 0h0m0 0h0m22 0h0m3 0h0m1 0h0m0 0h0m1 0h0m2 0h0m-30 1h0m1 0h0m3 0h0m1 0h0m16 0h0m3 0h0m0 0h0m2 0h0m0 0h0m-28 1h0m0 0h0m7 0h0m16 0h0m2 0h0m7 0h0m-32 1h0m3 0h0m2 0h0m5 0h0m13 0h0m6 0h0m1 0h0m1 0h0m-30 1h0m0 0h0m3 0h0m2 0h0m17 0h0m3 0h0m1 0h0m2 0h0m0 0h0m1 0h0m-30 1h0m0 0h0m2 0h0m2 0h0m0 0h0m3 0h0m0 0h0m1 0h0m17 0h0m3 0h0m1 0h0m0 0h0m0 0h0m0 0h0m-29 1h0m4 0h0m1 0h0m2 0h0m15 0h0m2 0h0m3 0h0m1 0h0m1 0h0m2 0h0m-31 1h0m0 0h0m2 0h0m0 0h0m2 0h0m1 0h0m2 0h0m19 0h0m2 0h0m2 0h0m1 0h0m-32 1h0m2 0h0m2 0h0m2 0h0m2 0h0m17 0h0m2 0h0m0 0h0m1 0h0m2 0h0m-29 1h0m3 0h0m3 0h0m3 0h0m19 0h0m3 0h0m0 0h0m-29 1h0m3 0h0m0 0h0m1 0h0m1 0h0m18 0h0m3 0h0m0 0h0m1 0h0m2 0h0m1 0h0m-29 1h0m1 0h0m1 0h0m21 0h0m1 0h0m0 0h0m1 0h0m0 0h0m1 0h0m-29 1h0m2 0h0m0 0h0m1 0h0m1 0h0m2 0h0m16 0h0m1 0h0m3 0h0m1 0h0m0 0h0m1 0h0m0 0h0m1 0h0m0 0h0m1 0h0m1 0h0m-31 1h0m3 0h0m1 0h0m0 0h0m3 0h0m1 0h0m17 0h0m0 0h0m2 0h0m1 0h0m3 0h0m1 0h0m-32 1h0m1 0h0m0 0h0m1 0h0m0 0h0m1 0h0m3 0h0m0 0h0m1 0h0m19 0h0m2 0h0m1 0h0m1 0h0m1 0h0m-30 1h0m0 0h0m0 0h0m4 0h0m0 0h0m0 0h0m5 0h0m14 0h0m3 0h0m0 0h0m1 0h0m1 0h0m1 0h0m0 0h0m-29 1h0m1 0h0m1 0h0m1 0h0m3 0h0m0 0h0m14 0h0m2 0h0m3 0h0m1 0h0m0 0h0m0 0h0m2 0h0m1 0h0m0 0h0m1 0h0m1 0h0m-32 1h0m0 0h0m2 0h0m3 0h0m2 0h0m1 0h0m0 0h0m14 0h0m1 0h0m2 0h0m0 0h0m1 0h0m1 0h0m0 0h0m0 0h0m1 0h0m0 0h0m2 0h0m0 0h0m0 0h0m2 0h0m-32 1h0m0 0h0m3 0h0m2 0h0m2 0h0m2 0h0m13 0h0m2 0h0m1 0h0m0 0h0m2 0h0m1 0h0m0 0h0m2 0h0m2 0h0m0 0h0m1 0h0m0 0h0m-40 1h0m1 0h0m0 0h0m6 0h0m0 0h0m1 0h0m1 0h0m0 0h0m2 0h0m2 0h0m4 0h0m10 0h0m3 0h0m1 0h0m0 0h0m1 0h0m1 0h0m1 0h0m0 0h0m3 0h0m0 0h0m9 0h0m2 0h0m6 0h0m189 0h0m-290 1h0m11 0h0m35 0h0m2 0h0m1 0h0m7 0h0m0 0h0m1 0h0m1 0h0m0 0h0m1 0h0m0 0h0m0 0h0m1 0h0m1 0h0m0 0h0m0 0h0m1 0h0m0 0h0m0 0h0m0 0h0m1 0h0m1 0h0m0 0h0m0 0h0m0 0h0m0 0h0m1 0h0m0 0h0m10 0h0m0 0h0m2 0h0m0 0h0m2 0h0m1 0h0m0 0h0m0 0h0m3 0h0m1 0h0m1 0h0m0 0h0m1 0h0m0 0h0m4 0h0m9 0h0m4 0h0m2 0h0m0 0h0m0 0h0m5 0h0m4 0h0m6 0h0m6 0h0m2 0h0m11 0h0m22 0h0m5 0h0m-184 1h0m18 0h0m21 0h0m14 0h0m3 0h0m2 0h0m0 0h0m8 0h0m2 0h0m1 0h0m0 0h0m1 0h0m1 0h0m0 0h0m0 0h0m1 0h0m0 0h0m0 0h0m1 0h0m0 0h0m0 0h0m2 0h0m1 0h0m0 0h0m2 0h0m2 0h0m0 0h0m1 0h0m0 0h0m0 0h0m1 0h0m0 0h0m10 0h0m2 0h0m1 0h0m0 0h0m1 0h0m1 0h0m1 0h0m0 0h0m0 0h0m2 0h0m0 0h0m0 0h0m0 0h0m1 0h0m2 0h0m2 0h0m0 0h0m1 0h0m2 0h0m3 0h0m1 0h0m0 0h0m1 0h0m2 0h0m2 0h0m3 0h0m0 0h0m5 0h0m4 0h0m4 0h0m-109 1h0m3 0h0m11 0h0m0 0h0m4 0h0m12 0h0m2 0h0m1 0h0m8 0h0m2 0h0m3 0h0m2 0h0m1 0h0m0 0h0m2 0h0m0 0h0m1 0h0m1 0h0m0 0h0m1 0h0m1 0h0m1 0h0m1 0h0m1 0h0m0 0h0m15 0h0m0 0h0m0 0h0m4 0h0m1 0h0m3 0h0m2 0h0m0 0h0m1 0h0m4 0h0m0 0h0m1 0h0m1 0h0m0 0h0m3 0h0m0 0h0m1 0h0m1 0h0m0 0h0m4 0h0m4 0h0m2 0h0m0 0h0m1 0h0m0 0h0m9 0h0m0 0h0m6 0h0m10 0h0m6 0h0m1 0h0m-129 1h0m13 0h0m3 0h0m6 0h0m8 0h0m0 0h0m5 0h0m2 0h0m0 0h0m4 0h0m4 0h0m1 0h0m1 0h0m1 0h0m0 0h0m0 0h0m0 0h0m3 0h0m8 0h0m2 0h0m0 0h0m1 0h0m0 0h0m4 0h0m2 0h0m2 0h0m2 0h0m0 0h0m1 0h0m2 0h0m0 0h0m3 0h0m0 0h0m1 0h0m4 0h0m1 0h0m2 0h0m5 0h0m2 0h0m5 0h0m5 0h0m4 0h0m7 0h0m3 0h0m14 0h0m-248 1h0m54 0h0m70 0h0m9 0h0m16 0h0m0 0h0m2 0h0m0 0h0m0 0h0m2 0h0m4 0h0m2 0h0m2 0h0m3 0h0m1 0h0m11 0h0m2 0h0m1 0h0m0 0h0m2 0h0m0 0h0m1 0h0m3 0h0m1 0h0m0 0h0m4 0h0m1 0h0m1 0h0m2 0h0m1 0h0m1 0h0m1 0h0m1 0h0m1 0h0m3 0h0m6 0h0m2 0h0m8 0h0m2 0h0m12 0h0m0 0h0m13 0h0m0 0h0m-135 1h0m2 0h0m5 0h0m5 0h0m2 0h0m1 0h0m9 0h0m2 0h0m1 0h0m9 0h0m3 0h0m2 0h0m4 0h0m1 0h0m0 0h0m3 0h0m1 0h0m1 0h0m2 0h0m1 0h0m1 0h0m3 0h0m8 0h0m1 0h0m2 0h0m1 0h0m1 0h0m1 0h0m2 0h0m4 0h0m1 0h0m0 0h0m3 0h0m5 0h0m0 0h0m0 0h0m2 0h0m7 0h0m1 0h0m3 0h0m4 0h0m2 0h0m1 0h0m2 0h0m16 0h0m11 0h0m-213 1h0m60 0h0m4 0h0m34 0h0m3 0h0m2 0h0m7 0h0m1 0h0m8 0h0m0 0h0m2 0h0m2 0h0m3 0h0m1 0h0m0 0h0m2 0h0m2 0h0m0 0h0m1 0h0m0 0h0m1 0h0m0 0h0m0 0h0m0 0h0m1 0h0m9 0h0m1 0h0m1 0h0m1 0h0m1 0h0m1 0h0m3 0h0m1 0h0m0 0h0m3 0h0m0 0h0m2 0h0m1 0h0m1 0h0m3 0h0m1 0h0m3 0h0m10 0h0m9 0h0m3 0h0m4 0h0m1 0h0m6 0h0m4 0h0m11 0h0m2 0h0m-140 1h0m21 0h0m7 0h0m3 0h0m5 0h0m3 0h0m1 0h0m0 0h0m2 0h0m0 0h0m6 0h0m2 0h0m8 0h0m0 0h0m1 0h0m0 0h0m8 0h0m1 0h0m2 0h0m3 0h0m2 0h0m0 0h0m2 0h0m1 0h0m4 0h0m4 0h0m0 0h0m2 0h0m4 0h0m1 0h0m6 0h0m2 0h0m19 0h0m9 0h0m2 0h0m-171 1h0m39 0h0m16 0h0m7 0h0m5 0h0m2 0h0m3 0h0m1 0h0m0 0h0m13 0h0m2 0h0m0 0h0m1 0h0m2 0h0m3 0h0m2 0h0m0 0h0m1 0h0m0 0h0m0 0h0m3 0h0m8 0h0m1 0h0m1 0h0m1 0h0m1 0h0m0 0h0m3 0h0m1 0h0m0 0h0m0 0h0m10 0h0m1 0h0m3 0h0m1 0h0m9 0h0m12 0h0m6 0h0m41 0h0m-214 1h0m60 0h0m19 0h0m4 0h0m2 0h0m2 0h0m6 0h0m0 0h0m2 0h0m2 0h0m1 0h0m0 0h0m1 0h0m1 0h0m1 0h0m3 0h0m0 0h0m0 0h0m1 0h0m2 0h0m1 0h0m0 0h0m1 0h0m0 0h0m2 0h0m0 0h0m2 0h0m0 0h0m1 0h0m0 0h0m9 0h0m6 0h0m3 0h0m2 0h0m1 0h0m1 0h0m1 0h0m2 0h0m3 0h0m2 0h0m1 0h0m5 0h0m1 0h0m2 0h0m4 0h0m3 0h0m13 0h0m13 0h0m16 0h0m152 0h0m-286 1h0m6 0h0m6 0h0m3 0h0m6 0h0m3 0h0m0 0h0m1 0h0m5 0h0m5 0h0m3 0h0m1 0h0m1 0h0m0 0h0m0 0h0m2 0h0m0 0h0m0 0h0m1 0h0m0 0h0m0 0h0m2 0h0m1 0h0m0 0h0m7 0h0m1 0h0m7 0h0m3 0h0m1 0h0m1 0h0m6 0h0m3 0h0m0 0h0m1 0h0m2 0h0m1 0h0m3 0h0m0 0h0m2 0h0m8 0h0m4 0h0m12 0h0m7 0h0m5 0h0m-203 1h0m58 0h0m27 0h0m7 0h0m4 0h0m3 0h0m4 0h0m4 0h0m0 0h0m1 0h0m2 0h0m5 0h0m0 0h0m1 0h0m1 0h0m1 0h0m6 0h0m2 0h0m0 0h0m0 0h0m2 0h0m0 0h0m1 0h0m1 0h0m11 0h0m4 0h0m1 0h0m3 0h0m4 0h0m15 0h0m0 0h0m8 0h0m4 0h0m0 0h0m5 0h0m37 0h0m-134 1h0m10 0h0m2 0h0m2 0h0m3 0h0m3 0h0m3 0h0m5 0h0m8 0h0m2 0h0m0 0h0m0 0h0m1 0h0m1 0h0m9 0h0m1 0h0m0 0h0m0 0h0m2 0h0m2 0h0m3 0h0m1 0h0m3 0h0m11 0h0m2 0h0m1 0h0m0 0h0m4 0h0m0 0h0m5 0h0m1 0h0m10 0h0m21 0h0m3 0h0" stroke="#151515" stroke-width="6.4" stroke-linecap="round" fill="none"/>
<path d="M1105.6 1985.2H1566.4" stroke="#111" stroke-width="1.5" stroke-dasharray="9.5 7" fill="none"/>
</g>
<rect x="1105.6" y="1964" width="460.8" height="448.2" fill="none" stroke="#1a1a1a" stroke-width="1.5"/>
<text x="1088.1" y="2408.8" text-anchor="end">0</text>
<text x="1088.1" y="2325.7" text-anchor="end">5</text>
<text x="1088.1" y="2242.5" text-anchor="end">10</text>
<text x="1088.1" y="2159.4" text-anchor="end">15</text>
<text x="1088.1" y="2076.2" text-anchor="end">20</text>
<text x="1091.1" y="1991" text-anchor="end">25</text>
<text x="1047" y="1988.2" font-size="18">&gt;</text>
<text x="1189.3" y="2449.6" text-anchor="middle">-2</text>
<text x="1310" y="2449.6" text-anchor="middle">0</text>
<text x="1424.4" y="2449.6" text-anchor="middle">2</text>
<text x="1545.2" y="2449.6" text-anchor="middle">4</text>
<path d="M1105.6 2400.9h-6.5M1105.6 2317.8h-6.5M1105.6 2234.6h-6.5M1105.6 2151.5h-6.5M1105.6 2068.3h-6.5M1188.9 2412.2v6.5M1309.8 2412.2v6.5M1430.7 2412.2v6.5M1551.6 2412.2v6.5" stroke="#1a1a1a" stroke-width="1.4" fill="none"/>
<text x="1340.2" y="1947" text-anchor="middle" font-size="25.6">HSC/MPP</text>
<text x="1333.7" y="2491.4" text-anchor="middle">logFC (LPS, Pam3 vs. NT)</text>
<text transform="translate(1047.5 2170.8) rotate(-90)" text-anchor="middle">-log10p</text>
<g font-size="18.4">
<text x="1448.5" y="2055.5">IL9R</text>
<text x="1439.7" y="2159.5">CD82</text>
<text x="1393.5" y="2253.3">TNFRSF4</text>
<text x="1482.4" y="2268.8">CD47</text>
<text x="1447.5" y="2293">ADIPOR1</text>
<text x="1447.8" y="2313.7">IFITM1</text>
<text x="1469.5" y="2331.8">IFNAR1</text>
<text x="1463" y="2352.8">TNFRSF18</text>
<text x="1449.4" y="2371.8">CD48</text>
<text x="1442" y="2394.5">IL18R1</text>
<text x="1178.6" y="2166.7">CD74</text>
<text x="1130.2" y="2204.8">SLC40A1</text>
<text x="1130.2" y="2249.4">ITGA4</text>
<text x="1135" y="2288.1">SORL1</text>
<text x="1118.9" y="2307.5">MAGED1</text>
<text x="1145.7" y="2330.8">TFRC</text>
<text x="1164.1" y="2359.9">PLXNC1</text>
</g>
<path d="M1439.7 2050.6L1359.6 2050.3M1435.5 2157.2L1348.3 2238.7M1475.3 2265.2L1330.5 2306.5M1442 2293L1340.2 2332.4M1441 2311.4L1328.9 2345.3M1461.4 2325.9L1337 2358.2M1459.8 2352.4L1390.3 2356.6M1444.3 2371.8L1341.8 2366.3M1441 2393.1L1353.1 2371.2M1223.9 2164.4L1288.5 2295.2M1201.3 2207L1288.5 2301.7M1181.2 2248.4L1291.7 2322.7M1191.6 2283.3L1288.5 2338.8M1194.8 2304.9L1288.5 2346.9M1192.2 2325.3L1288.5 2351.8M1236.8 2341.4L1288.5 2353.4" stroke="#111" stroke-width="1.2" fill="none"/>
<path d="M1442 2292.3L1385.4 2314.6" stroke="#111" stroke-width="1.6" fill="none"/>
<path transform="scale(1)" d="M1797 1988h0m37 35h0m250 40h0m-250 4h0m-101 2h0m119 12h0m-4 4h0m48 13h0m-105 31h0m-68 17h0m103 13h0m111 3h0m-13 6h0m-78 5h0m0 2h0m-25 3h0m26 1h0m-20 7h0m-3 1h0m19 0h0m5 0h0m10 3h0m-41 1h0m9 0h0m35 0h0m-45 1h0m29 2h0m-94 1h0m184 0h0m-157 1h0m82 1h0m1 0h0m-93 7h0m76 0h0m111 3h0m-99 3h0m-91 1h0m78 1h0m-5 1h0m-10 1h0m-7 3h0m41 1h0m-15 3h0m-19 2h0m-9 1h0m8 0h0m28 1h0m-32 1h0m-66 2h0m20 0h0m83 0h0m-20 3h0m63 0h0m-70 1h0m23 0h0m-7 1h0m6 0h0m-75 1h0m18 1h0m55 0h0m-4 2h0m-78 1h0m22 0h0m29 0h0m74 3h0m41 0h0m-136 1h0m7 0h0m108 0h0m-87 1h0m30 0h0m64 0h0m-116 1h0m3 0h0m-38 1h0m154 0h0m-133 1h0m63 0h0m-99 1h0m33 1h0m26 0h0m16 0h0m-26 1h0m7 0h0m25 0h0m21 0h0m-19 2h0m-43 1h0m35 0h0m1 0h0m3 0h0m18 0h0m-78 1h0m60 0h0m-32 1h0m4 0h0m28 0h0m-90 1h0m86 0h0m-26 3h0m112 0h0m-163 1h0m77 0h0m17 0h0m2 0h0m1 0h0m-62 1h0m50 0h0m8 0h0m-63 1h0m42 0h0m78 0h0m16 0h0m-77 1h0m-63 2h0m50 0h0m14 0h0m-45 1h0m56 0h0m44 0h0m12 1h0m-137 1h0m12 0h0m60 0h0m7 0h0m-74 1h0m27 0h0m57 0h0m-70 1h0m53 0h0m87 0h0m-85 1h0m57 0h0m-160 1h0m30 0h0m4 0h0m129 0h0m-123 1h0m68 0h0m0 0h0m-37 1h0m16 0h0m26 0h0m-116 1h0m65 0h0m44 0h0m61 0h0m65 0h0m-165 1h0m6 0h0m15 0h0m18 0h0m-101 1h0m43 0h0m231 0h0m-266 1h0m18 0h0m28 0h0m48 0h0m2 0h0m-36 1h0m5 0h0m30 0h0m63 0h0m-159 1h0m30 1h0m41 0h0m17 0h0m6 0h0m4 0h0m54 0h0m55 0h0m-213 1h0m86 0h0m70 0h0m-118 1h0m10 0h0m23 0h0m15 0h0m13 0h0m67 0h0m-130 1h0m55 0h0m7 0h0m-105 1h0m2 0h0m3 0h0m28 0h0m85 0h0m-74 1h0m31 0h0m21 0h0m81 0h0m-157 1h0m18 0h0m25 0h0m22 0h0m14 0h0m10 0h0m68 0h0m-176 1h0m102 0h0m10 0h0m76 0h0m34 0h0m-165 1h0m-38 1h0m3 0h0m50 0h0m3 0h0m110 0h0m-178 1h0m48 0h0m14 0h0m14 0h0m25 0h0m3 0h0m1 0h0m6 0h0m-115 1h0m11 0h0m43 0h0m20 0h0m15 0h0m1 0h0m-66 1h0m82 0h0m1 0h0m64 0h0m-116 1h0m1 0h0m10 0h0m1 0h0m12 0h0m4 0h0m1 0h0m9 0h0m14 0h0m4 0h0m46 0h0m8 0h0m-163 1h0m82 0h0m8 0h0m7 0h0m1 0h0m-84 1h0m9 0h0m7 0h0m37 0h0m5 0h0m19 0h0m7 0h0m0 0h0m7 0h0m1 0h0m102 0h0m-214 1h0m56 0h0m27 0h0m27 0h0m-22 1h0m4 0h0m4 0h0m4 0h0m2 0h0m8 0h0m-101 1h0m28 0h0m19 0h0m31 0h0m13 0h0m6 0h0m4 0h0m7 0h0m53 0h0m-150 1h0m8 0h0m59 0h0m1 0h0m9 0h0m2 0h0m1 0h0m10 0h0m-69 1h0m11 0h0m14 0h0m28 0h0m11 0h0m4 0h0m0 0h0m5 0h0m1 0h0m63 0h0m-137 1h0m0 0h0m20 0h0m11 0h0m7 0h0m10 0h0m4 0h0m16 0h0m48 0h0m20 0h0m-166 1h0m54 0h0m4 0h0m23 0h0m2 0h0m5 0h0m3 0h0m5 0h0m3 0h0m9 0h0m50 0h0m-131 1h0m29 0h0m5 0h0m11 0h0m13 0h0m4 0h0m6 0h0m-39 1h0m8 0h0m3 0h0m23 0h0m2 0h0m1 0h0m1 0h0m1 0h0m4 0h0m2 0h0m72 0h0m-127 1h0m1 0h0m5 0h0m11 0h0m9 0h0m1 0h0m1 0h0m9 0h0m0 0h0m15 0h0m1 0h0m8 0h0m54 0h0m-89 1h0m1 0h0m1 0h0m3 0h0m6 0h0m6 0h0m2 0h0m4 0h0m0 0h0m-40 1h0m7 0h0m23 0h0m3 0h0m6 0h0m6 0h0m6 0h0m55 0h0m-109 1h0m4 0h0m8 0h0m3 0h0m6 0h0m8 0h0m1 0h0m10 0h0m1 0h0m3 0h0m1 0h0m3 0h0m0 0h0m48 0h0m4 0h0m-90 1h0m18 0h0m15 0h0m5 0h0m65 0h0m35 0h0m-172 1h0m29 0h0m5 0h0m14 0h0m1 0h0m1 0h0m1 0h0m17 0h0m0 0h0m0 0h0m1 0h0m3 0h0m6 0h0m0 0h0m62 0h0m31 0h0m-178 1h0m43 0h0m0 0h0m7 0h0m2 0h0m3 0h0m15 0h0m0 0h0m2 0h0m3 0h0m2 0h0m2 0h0m2 0h0m1 0h0m1 0h0m1 0h0m42 0h0m-87 1h0m2 0h0m0 0h0m2 0h0m3 0h0m6 0h0m1 0h0m3 0h0m3 0h0m9 0h0m6 0h0m1 0h0m2 0h0m0 0h0m3 0h0m3 0h0m68 0h0m1 0h0m24 0h0m-192 1h0m43 0h0m2 0h0m14 0h0m2 0h0m4 0h0m2 0h0m3 0h0m1 0h0m3 0h0m1 0h0m1 0h0m2 0h0m1 0h0m0 0h0m3 0h0m10 0h0m1 0h0m3 0h0m-53 1h0m11 0h0m6 0h0m14 0h0m3 0h0m2 0h0m3 0h0m5 0h0m11 0h0m1 0h0m54 0h0m11 0h0m-140 1h0m33 0h0m20 0h0m3 0h0m1 0h0m15 0h0m2 0h0m6 0h0m44 0h0m-132 1h0m45 0h0m3 0h0m1 0h0m2 0h0m5 0h0m1 0h0m4 0h0m11 0h0m2 0h0m4 0h0m3 0h0m0 0h0m49 0h0m17 0h0m39 0h0m-177 1h0m28 0h0m1 0h0m11 0h0m2 0h0m8 0h0m1 0h0m4 0h0m2 0h0m1 0h0m1 0h0m1 0h0m9 0h0m7 0h0m80 0h0m-140 1h0m18 0h0m5 0h0m3 0h0m3 0h0m3 0h0m0 0h0m4 0h0m2 0h0m1 0h0m3 0h0m1 0h0m2 0h0m2 0h0m6 0h0m5 0h0m1 0h0m3 0h0m49 0h0m-173 1h0m30 0h0m37 0h0m11 0h0m1 0h0m5 0h0m6 0h0m3 0h0m1 0h0m1 0h0m0 0h0m2 0h0m7 0h0m0 0h0m1 0h0m1 0h0m2 0h0m1 0h0m10 0h0m5 0h0m0 0h0m0 0h0m-108 1h0m62 0h0m4 0h0m4 0h0m10 0h0m7 0h0m3 0h0m4 0h0m1 0h0m1 0h0m2 0h0m2 0h0m0 0h0m4 0h0m4 0h0m45 0h0m7 0h0m2 0h0m14 0h0m-123 1h0m11 0h0m6 0h0m1 0h0m1 0h0m3 0h0m10 0h0m4 0h0m6 0h0m7 0h0m4 0h0m48 0h0m5 0h0m-99 1h0m2 0h0m0 0h0m4 0h0m2 0h0m0 0h0m4 0h0m0 0h0m1 0h0m3 0h0m5 0h0m1 0h0m0 0h0m3 0h0m1 0h0m3 0h0m0 0h0m5 0h0m1 0h0m9 0h0m-103 1h0m68 0h0m5 0h0m6 0h0m5 0h0m1 0h0m4 0h0m3 0h0m5 0h0m1 0h0m4 0h0m3 0h0m62 0h0m-124 1h0m8 0h0m2 0h0m8 0h0m2 0h0m0 0h0m1 0h0m1 0h0m4 0h0m3 0h0m3 0h0m8 0h0m8 0h0m4 0h0m0 0h0m2 0h0m8 0h0m60 0h0m-125 1h0m18 0h0m3 0h0m9 0h0m3 0h0m1 0h0m3 0h0m4 0h0m4 0h0m5 0h0m6 0h0m0 0h0m4 0h0m65 0h0m-104 1h0m2 0h0m8 0h0m1 0h0m1 0h0m6 0h0m4 0h0m0 0h0m2 0h0m3 0h0m5 0h0m1 0h0m1 0h0m2 0h0m6 0h0m3 0h0m71 0h0m3 0h0m2 0h0m-149 1h0m19 0h0m10 0h0m2 0h0m0 0h0m10 0h0m2 0h0m4 0h0m2 0h0m2 0h0m7 0h0m10 0h0m0 0h0m2 0h0m3 0h0m-80 1h0m38 0h0m4 0h0m2 0h0m2 0h0m5 0h0m5 0h0m6 0h0m1 0h0m1 0h0m4 0h0m1 0h0m0 0h0m3 0h0m4 0h0m1 0h0m2 0h0m47 0h0m-97 1h0m7 0h0m7 0h0m9 0h0m3 0h0m1 0h0m2 0h0m0 0h0m2 0h0m2 0h0m3 0h0m0 0h0m1 0h0m0 0h0m5 0h0m6 0h0m52 0h0m8 0h0m0 0h0m44 0h0m-169 1h0m6 0h0m14 0h0m10 0h0m3 0h0m5 0h0m4 0h0m0 0h0m3 0h0m5 0h0m4 0h0m4 0h0m2 0h0m1 0h0m51 0h0m0 0h0m7 0h0m2 0h0m7 0h0m9 0h0m21 0h0m-193 1h0m16 0h0m42 0h0m1 0h0m6 0h0m3 0h0m13 0h0m8 0h0m3 0h0m1 0h0m1 0h0m0 0h0m1 0h0m4 0h0m48 0h0m33 0h0m-211 1h0m62 0h0m1 0h0m23 0h0m9 0h0m1 0h0m2 0h0m2 0h0m0 0h0m2 0h0m1 0h0m1 0h0m2 0h0m12 0h0m2 0h0m1 0h0m0 0h0m1 0h0m2 0h0m2 0h0m2 0h0m1 0h0m5 0h0m42 0h0m5 0h0m3 0h0m0 0h0m0 0h0m-156 1h0m46 0h0m8 0h0m8 0h0m2 0h0m12 0h0m6 0h0m4 0h0m3 0h0m5 0h0m1 0h0m11 0h0m40 0h0m12 0h0m8 0h0m-133 1h0m18 0h0m8 0h0m3 0h0m3 0h0m5 0h0m2 0h0m7 0h0m3 0h0m4 0h0m0 0h0m3 0h0m8 0h0m1 0h0m2 0h0m4 0h0m59 0h0m-155 1h0m53 0h0m6 0h0m3 0h0m1 0h0m0 0h0m2 0h0m8 0h0m5 0h0m0 0h0m1 0h0m1 0h0m2 0h0m3 0h0m0 0h0m2 0h0m0 0h0m2 0h0m1 0h0m3 0h0m0 0h0m4 0h0m1 0h0m50 0h0m3 0h0m6 0h0m6 0h0m20 0h0m8 0h0m-164 1h0m34 0h0m0 0h0m1 0h0m6 0h0m0 0h0m9 0h0m1 0h0m2 0h0m3 0h0m0 0h0m1 0h0m1 0h0m0 0h0m2 0h0m0 0h0m0 0h0m2 0h0m9 0h0m44 0h0m1 0h0m0 0h0m13 0h0m20 0h0m2 0h0m7 0h0m-128 1h0m2 0h0m2 0h0m2 0h0m8 0h0m0 0h0m1 0h0m3 0h0m4 0h0m2 0h0m0 0h0m2 0h0m3 0h0m4 0h0m2 0h0m2 0h0m54 0h0m10 0h0m9 0h0m-137 1h0m23 0h0m6 0h0m7 0h0m6 0h0m1 0h0m9 0h0m7 0h0m47 0h0m4 0h0m12 0h0m-108 1h0m12 0h0m2 0h0m2 0h0m1 0h0m6 0h0m7 0h0m1 0h0m1 0h0m2 0h0m7 0h0m1 0h0m4 0h0m1 0h0m7 0h0m107 0h0m-178 1h0m10 0h0m0 0h0m2 0h0m19 0h0m2 0h0m5 0h0m4 0h0m7 0h0m2 0h0m1 0h0m1 0h0m2 0h0m3 0h0m6 0h0m5 0h0m2 0h0m59 0h0m1 0h0m16 0h0m14 0h0m-205 1h0m17 0h0m11 0h0m43 0h0m5 0h0m1 0h0m4 0h0m3 0h0m5 0h0m1 0h0m1 0h0m10 0h0m4 0h0m4 0h0m0 0h0m0 0h0m4 0h0m1 0h0m3 0h0m0 0h0m33 0h0m7 0h0m1 0h0m10 0h0m27 0h0m-158 1h0m11 0h0m18 0h0m9 0h0m0 0h0m1 0h0m6 0h0m0 0h0m0 0h0m5 0h0m5 0h0m4 0h0m6 0h0m2 0h0m1 0h0m1 0h0m1 0h0m1 0h0m1 0h0m3 0h0m6 0h0m51 0h0m1 0h0m16 0h0m26 0h0m-285 1h0m104 0h0m8 0h0m13 0h0m2 0h0m3 0h0m0 0h0m5 0h0m10 0h0m2 0h0m3 0h0m6 0h0m0 0h0m3 0h0m0 0h0m1 0h0m1 0h0m1 0h0m4 0h0m5 0h0m1 0h0m3 0h0m0 0h0m1 0h0m2 0h0m4 0h0m0 0h0m1 0h0m2 0h0m5 0h0m39 0h0m4 0h0m5 0h0m32 0h0m-159 1h0m18 0h0m6 0h0m5 0h0m2 0h0m8 0h0m5 0h0m1 0h0m5 0h0m3 0h0m2 0h0m8 0h0m0 0h0m2 0h0m2 0h0m1 0h0m0 0h0m2 0h0m0 0h0m1 0h0m1 0h0m51 0h0m-138 1h0m38 0h0m2 0h0m7 0h0m3 0h0m1 0h0m3 0h0m0 0h0m1 0h0m4 0h0m5 0h0m1 0h0m1 0h0m0 0h0m1 0h0m1 0h0m6 0h0m1 0h0m3 0h0m2 0h0m2 0h0m2 0h0m1 0h0m0 0h0m4 0h0m3 0h0m1 0h0m47 0h0m4 0h0m73 0h0m2 0h0m-184 1h0m1 0h0m15 0h0m1 0h0m2 0h0m2 0h0m2 0h0m0 0h0m1 0h0m2 0h0m3 0h0m0 0h0m1 0h0m1 0h0m5 0h0m1 0h0m2 0h0m1 0h0m0 0h0m0 0h0m1 0h0m2 0h0m2 0h0m6 0h0m2 0h0m0 0h0m43 0h0m3 0h0m20 0h0m-139 1h0m5 0h0m10 0h0m8 0h0m12 0h0m0 0h0m0 0h0m6 0h0m0 0h0m5 0h0m12 0h0m3 0h0m6 0h0m1 0h0m3 0h0m0 0h0m1 0h0m1 0h0m1 0h0m0 0h0m1 0h0m1 0h0m0 0h0m1 0h0m37 0h0m12 0h0m1 0h0m0 0h0m4 0h0m6 0h0m3 0h0m12 0h0m17 0h0m-156 1h0m8 0h0m1 0h0m5 0h0m4 0h0m2 0h0m3 0h0m11 0h0m4 0h0m0 0h0m4 0h0m3 0h0m1 0h0m1 0h0m1 0h0m2 0h0m0 0h0m1 0h0m1 0h0m3 0h0m3 0h0m1 0h0m3 0h0m3 0h0m0 0h0m48 0h0m-206 1h0m116 0h0m10 0h0m10 0h0m3 0h0m5 0h0m2 0h0m5 0h0m5 0h0m1 0h0" stroke="#d92b2b" stroke-width="6.4" stroke-linecap="round" fill="none"/>
<path transform="scale(1)" d="M1889 2286h0m-22 22h0m2 17h0m97 25h0m-160 1h0m42 0h0m20 0h0m21 0h0m7 0h0m4 0h0m11 0h0m20 0h0m-135 1h0m16 0h0m11 0h0m3 0h0m5 0h0m6 0h0m0 0h0m5 0h0m9 0h0m0 0h0m9 0h0m0 0h0m13 0h0m14 0h0m5 0h0m0 0h0m5 0h0m8 0h0m1 0h0m2 0h0m4 0h0m3 0h0m12 0h0m1 0h0m3 0h0m1 0h0m1 0h0m8 0h0m-198 1h0m48 0h0m8 0h0m2 0h0m0 0h0m12 0h0m1 0h0m2 0h0m1 0h0m0 0h0m3 0h0m0 0h0m7 0h0m3 0h0m11 0h0m0 0h0m1 0h0m2 0h0m1 0h0m1 0h0m10 0h0m5 0h0m1 0h0m3 0h0m7 0h0m19 0h0m0 0h0m2 0h0m2 0h0m1 0h0m1 0h0m10 0h0m0 0h0m5 0h0m4 0h0m1 0h0m0 0h0m0 0h0m6 0h0m6 0h0m12 0h0m-129 1h0m6 0h0m12 0h0m1 0h0m17 0h0m5 0h0m3 0h0m1 0h0m1 0h0m1 0h0m4 0h0m4 0h0m2 0h0m4 0h0m18 0h0m1 0h0m2 0h0m1 0h0m3 0h0m4 0h0m1 0h0m10 0h0m7 0h0m6 0h0m19 0h0m-157 1h0m10 0h0m12 0h0m0 0h0m8 0h0m2 0h0m1 0h0m4 0h0m3 0h0m1 0h0m1 0h0m4 0h0m7 0h0m7 0h0m5 0h0m6 0h0m1 0h0m5 0h0m21 0h0m2 0h0m1 0h0m0 0h0m2 0h0m5 0h0m7 0h0m10 0h0m1 0h0m0 0h0m1 0h0m0 0h0m5 0h0m3 0h0m5 0h0m4 0h0m4 0h0m5 0h0m7 0h0m22 0h0m-260 1h0m84 0h0m16 0h0m6 0h0m5 0h0m2 0h0m9 0h0m9 0h0m4 0h0m4 0h0m2 0h0m3 0h0m3 0h0m2 0h0m4 0h0m2 0h0m1 0h0m0 0h0m3 0h0m1 0h0m4 0h0m15 0h0m4 0h0m8 0h0m4 0h0m7 0h0m2 0h0m1 0h0m2 0h0m8 0h0m0 0h0m1 0h0m1 0h0m8 0h0m2 0h0m4 0h0m-243 1h0m73 0h0m12 0h0m2 0h0m8 0h0m22 0h0m24 0h0m1 0h0m5 0h0m1 0h0m2 0h0m6 0h0m5 0h0m2 0h0m1 0h0m0 0h0m2 0h0m4 0h0m3 0h0m15 0h0m0 0h0m2 0h0m4 0h0m29 0h0m8 0h0m0 0h0m45 0h0m-199 1h0m6 0h0m11 0h0m5 0h0m11 0h0m7 0h0m5 0h0m5 0h0m1 0h0m0 0h0m2 0h0m1 0h0m6 0h0m3 0h0m4 0h0m9 0h0m0 0h0m9 0h0m32 0h0m1 0h0m1 0h0m1 0h0m8 0h0m3 0h0m1 0h0m4 0h0m3 0h0m6 0h0m1 0h0m-132 1h0m9 0h0m1 0h0m1 0h0m5 0h0m3 0h0m8 0h0m6 0h0m1 0h0m2 0h0m4 0h0m6 0h0m3 0h0m1 0h0m8 0h0m3 0h0m1 0h0m4 0h0m1 0h0m3 0h0m8 0h0m1 0h0m3 0h0m1 0h0m2 0h0m0 0h0m15 0h0m2 0h0m4 0h0m0 0h0m14 0h0m8 0h0m12 0h0m9 0h0m1 0h0m7 0h0m-182 1h0m12 0h0m5 0h0m5 0h0m1 0h0m5 0h0m7 0h0m7 0h0m10 0h0m0 0h0m9 0h0m8 0h0m6 0h0m7 0h0m0 0h0m8 0h0m3 0h0m2 0h0m1 0h0m7 0h0m20 0h0m3 0h0m21 0h0m0 0h0m1 0h0m0 0h0m2 0h0m11 0h0m13 0h0m-182 1h0m35 0h0m8 0h0m2 0h0m3 0h0m3 0h0m24 0h0m5 0h0m1 0h0m5 0h0m6 0h0m1 0h0m3 0h0m5 0h0m0 0h0m36 0h0m7 0h0m3 0h0m3 0h0m0 0h0m15 0h0m1 0h0m15 0h0m41 0h0m-217 1h0m0 0h0m17 0h0m38 0h0m7 0h0m7 0h0m8 0h0m3 0h0m1 0h0m3 0h0m0 0h0m1 0h0m9 0h0m8 0h0m4 0h0m21 0h0m1 0h0m5 0h0m8 0h0m2 0h0m5 0h0m0 0h0m4 0h0m1 0h0m2 0h0m4 0h0m0 0h0m5 0h0m3 0h0m6 0h0m1 0h0m13 0h0m12 0h0m39 0h0m-278 1h0m60 0h0m3 0h0m1 0h0m13 0h0m1 0h0m5 0h0m3 0h0m7 0h0m11 0h0m4 0h0m5 0h0m1 0h0m7 0h0m8 0h0m3 0h0m3 0h0m6 0h0m3 0h0m1 0h0m7 0h0m2 0h0m1 0h0m13 0h0m5 0h0m1 0h0m1 0h0m1 0h0m1 0h0m5 0h0m3 0h0m10 0h0m5 0h0m5 0h0m5 0h0m2 0h0m-155 1h0m15 0h0m4 0h0m2 0h0m3 0h0m9 0h0m5 0h0m17 0h0m2 0h0m5 0h0m4 0h0m2 0h0m0 0h0m3 0h0m1 0h0m6 0h0m14 0h0m2 0h0m38 0h0m2 0h0m13 0h0m28 0h0m4 0h0m6 0h0m2 0h0m-180 1h0m5 0h0m37 0h0m4 0h0m0 0h0m7 0h0m10 0h0m2 0h0m10 0h0m10 0h0m0 0h0m2 0h0m0 0h0m29 0h0m4 0h0m23 0h0m0 0h0m2 0h0m15 0h0m6 0h0m-204 1h0m44 0h0m4 0h0m1 0h0m0 0h0m9 0h0m3 0h0m15 0h0m2 0h0m0 0h0m3 0h0m5 0h0m2 0h0m4 0h0m14 0h0m1 0h0m7 0h0m12 0h0m2 0h0m15 0h0m8 0h0m4 0h0m11 0h0m2 0h0m9 0h0m9 0h0m12 0h0m11 0h0m-215 1h0m32 0h0m18 0h0m13 0h0m3 0h0m17 0h0m4 0h0m24 0h0m9 0h0m8 0h0m2 0h0m1 0h0m18 0h0m2 0h0m0 0h0m7 0h0m2 0h0m5 0h0m5 0h0m6 0h0m1 0h0m5 0h0m0 0h0m34 0h0m-255 1h0m99 0h0m0 0h0m9 0h0m9 0h0m4 0h0m5 0h0m8 0h0m6 0h0m2 0h0m11 0h0m3 0h0m0 0h0m3 0h0m4 0h0m5 0h0m0 0h0m27 0h0m2 0h0m7 0h0m3 0h0m2 0h0m4 0h0m4 0h0m1 0h0m2 0h0m1 0h0m12 0h0m0 0h0m4 0h0m-153 1h0m14 0h0m8 0h0m1 0h0m7 0h0m3 0h0m7 0h0m1 0h0m2 0h0m5 0h0m2 0h0m6 0h0m2 0h0m0 0h0m17 0h0m3 0h0m34 0h0m1 0h0m2 0h0m10 0h0m5 0h0m3 0h0m6 0h0m4 0h0m0 0h0m2 0h0m0 0h0m9 0h0m10 0h0m-190 1h0m26 0h0m20 0h0m2 0h0m0 0h0m6 0h0m1 0h0m4 0h0m12 0h0m2 0h0m7 0h0m2 0h0m2 0h0m1 0h0m1 0h0m5 0h0m1 0h0m4 0h0m3 0h0m1 0h0m3 0h0m3 0h0m6 0h0m0 0h0m21 0h0m5 0h0m1 0h0m2 0h0m6 0h0m20 0h0m10 0h0m9 0h0m11 0h0m1 0h0m-158 1h0m3 0h0m0 0h0m2 0h0m8 0h0m8 0h0m0 0h0m15 0h0m1 0h0m5 0h0m3 0h0m2 0h0m18 0h0m3 0h0m1 0h0m31 0h0m4 0h0m2 0h0m3 0h0m3 0h0m4 0h0m11 0h0m3 0h0m1 0h0m1 0h0m2 0h0m-180 1h0m8 0h0m2 0h0m22 0h0m3 0h0m37 0h0m2 0h0m3 0h0m4 0h0m12 0h0m1 0h0m1 0h0m1 0h0m12 0h0m4 0h0m0 0h0m6 0h0m2 0h0m18 0h0m14 0h0m14 0h0m9 0h0m3 0h0m1 0h0m-136 1h0m8 0h0m0 0h0m5 0h0m1 0h0m1 0h0m5 0h0m17 0h0m2 0h0m1 0h0m0 0h0m10 0h0m2 0h0m1 0h0m4 0h0m6 0h0m28 0h0m1 0h0m0 0h0m9 0h0m10 0h0m13 0h0m12 0h0m-183 1h0m14 0h0m2 0h0m19 0h0m3 0h0m8 0h0m6 0h0m5 0h0m0 0h0m3 0h0m19 0h0m2 0h0m3 0h0m3 0h0m0 0h0m1 0h0m2 0h0m1 0h0m14 0h0m0 0h0m1 0h0m8 0h0m0 0h0m1 0h0m7 0h0m1 0h0m0 0h0m14 0h0m0 0h0m2 0h0m4 0h0m13 0h0m2 0h0m7 0h0m1 0h0m0 0h0m10 0h0m1 0h0m0 0h0m8 0h0m-175 1h0m41 0h0m4 0h0m4 0h0m8 0h0m1 0h0m9 0h0m3 0h0m5 0h0m7 0h0m3 0h0m0 0h0m3 0h0m13 0h0m2 0h0m2 0h0m0 0h0m21 0h0m0 0h0m16 0h0m4 0h0m2 0h0m9 0h0m15 0h0m14 0h0m0 0h0m0 0h0m10 0h0m-199 1h0m10 0h0m18 0h0m3 0h0m5 0h0m1 0h0m5 0h0m13 0h0m5 0h0m3 0h0m1 0h0m1 0h0m1 0h0m1 0h0m1 0h0m2 0h0m2 0h0m5 0h0m2 0h0m6 0h0m2 0h0m4 0h0m1 0h0m0 0h0m2 0h0m13 0h0m1 0h0m1 0h0m2 0h0m24 0h0m12 0h0m14 0h0m5 0h0m2 0h0m0 0h0m0 0h0m6 0h0m37 0h0m-196 1h0m15 0h0m1 0h0m0 0h0m16 0h0m3 0h0m3 0h0m5 0h0m6 0h0m11 0h0m6 0h0m13 0h0m3 0h0m1 0h0m4 0h0m2 0h0m13 0h0m0 0h0m13 0h0m3 0h0m0 0h0m8 0h0m3 0h0m4 0h0m1 0h0m27 0h0m12 0h0m-191 1h0m15 0h0m12 0h0m5 0h0m12 0h0m1 0h0m1 0h0m3 0h0m5 0h0m18 0h0m4 0h0m4 0h0m3 0h0m7 0h0m5 0h0m3 0h0m3 0h0m14 0h0m20 0h0m1 0h0m5 0h0m7 0h0m2 0h0m6 0h0m0 0h0m2 0h0m0 0h0m2 0h0m3 0h0m2 0h0m5 0h0m4 0h0m4 0h0m13 0h0m8 0h0m-159 1h0m5 0h0m17 0h0m4 0h0m4 0h0m1 0h0m4 0h0m25 0h0m0 0h0m3 0h0m1 0h0m9 0h0m5 0h0m1 0h0m14 0h0m24 0h0m4 0h0m4 0h0m16 0h0m0 0h0m-202 1h0m65 0h0m12 0h0m5 0h0m19 0h0m3 0h0m1 0h0m4 0h0m4 0h0m0 0h0m2 0h0m2 0h0m4 0h0m8 0h0m1 0h0m5 0h0m20 0h0m2 0h0m2 0h0m2 0h0m9 0h0m1 0h0m4 0h0m21 0h0m15 0h0m2 0h0m10 0h0m6 0h0m-198 1h0m31 0h0m12 0h0m0 0h0m2 0h0m9 0h0m3 0h0m0 0h0m1 0h0m1 0h0m4 0h0m0 0h0m5 0h0m2 0h0m4 0h0m9 0h0m2 0h0m7 0h0m5 0h0m7 0h0m7 0h0m11 0h0m4 0h0m7 0h0m1 0h0m4 0h0m1 0h0m2 0h0m7 0h0m0 0h0m1 0h0m2 0h0m3 0h0m7 0h0m5 0h0m11 0h0m74 0h0m25 0h0m-306 1h0m51 0h0m7 0h0m5 0h0m8 0h0m2 0h0m2 0h0m3 0h0m11 0h0m6 0h0m11 0h0m1 0h0m3 0h0m16 0h0m5 0h0m5 0h0m1 0h0m21 0h0m11 0h0m3 0h0m7 0h0m3 0h0m3 0h0m38 0h0m-199 1h0m42 0h0m11 0h0m5 0h0m7 0h0m3 0h0m6 0h0m2 0h0m3 0h0m1 0h0m3 0h0m12 0h0m1 0h0m9 0h0m1 0h0m1 0h0m5 0h0m4 0h0m14 0h0m8 0h0m7 0h0m3 0h0m1 0h0m1 0h0m1 0h0m1 0h0m6 0h0m10 0h0m16 0h0m118 0h0m4 0h0m-314 1h0m45 0h0m21 0h0m4 0h0m3 0h0m6 0h0m3 0h0m3 0h0m6 0h0m3 0h0m5 0h0m1 0h0m0 0h0m17 0h0m1 0h0m27 0h0m2 0h0m3 0h0m0 0h0m5 0h0m9 0h0m8 0h0m10 0h0m5 0h0m-179 1h0m5 0h0m16 0h0m3 0h0m1 0h0m19 0h0m3 0h0m2 0h0m10 0h0m0 0h0m2 0h0m11 0h0m5 0h0m7 0h0m6 0h0m0 0h0m5 0h0m5 0h0m3 0h0m3 0h0m8 0h0m9 0h0m5 0h0m12 0h0m4 0h0m2 0h0m12 0h0m16 0h0m1 0h0m17 0h0m36 0h0m-251 1h0m6 0h0m27 0h0m20 0h0m8 0h0m20 0h0m14 0h0m5 0h0m5 0h0m1 0h0m11 0h0m10 0h0m8 0h0m5 0h0m15 0h0m6 0h0m23 0h0m24 0h0m16 0h0m-216 1h0m14 0h0m31 0h0m8 0h0m3 0h0m27 0h0m4 0h0m2 0h0m1 0h0m0 0h0m8 0h0m0 0h0m1 0h0m3 0h0m7 0h0m1 0h0m4 0h0m5 0h0m2 0h0m13 0h0m2 0h0m16 0h0m6 0h0m9 0h0m10 0h0m20 0h0m1 0h0m4 0h0m84 0h0m-256 1h0m10 0h0m31 0h0m4 0h0m10 0h0m9 0h0m0 0h0m3 0h0m3 0h0m0 0h0m2 0h0m2 0h0m2 0h0m2 0h0m2 0h0m3 0h0m33 0h0m5 0h0m8 0h0m0 0h0m6 0h0m1 0h0m1 0h0m5 0h0m35 0h0m-172 1h0m56 0h0m1 0h0m3 0h0m6 0h0m1 0h0m1 0h0m2 0h0m77 0h0m10 0h0m6 0h0m0 0h0m-166 1h0m30 0h0m6 0h0m6 0h0m31 0h0m4 0h0m10 0h0m20 0h0m3 0h0m6 0h0m25 0h0m4 0h0m1 0h0m1 0h0m10 0h0m-70 1h0m11 0h0m96 0h0" stroke="#151515" stroke-width="6.4" stroke-linecap="round" fill="none"/>
<rect x="1652.6" y="1967.6" width="452.6" height="441" fill="none" stroke="#1a1a1a" stroke-width="1.5"/>
<text x="1630.6" y="2399.8" text-anchor="end">0</text>
<text x="1630.6" y="2296" text-anchor="end">5</text>
<text x="1630.6" y="2192.2" text-anchor="end">10</text>
<text x="1630.6" y="2088.4" text-anchor="end">15</text>
<text x="1630.6" y="1984.6" text-anchor="end">20</text>
<text x="1677.3" y="2449.7" text-anchor="middle">-5.0</text>
<text x="1777.1" y="2449.7" text-anchor="middle">-2.5</text>
<text x="1871.4" y="2449.7" text-anchor="middle">0.0</text>
<text x="1974.7" y="2449.7" text-anchor="middle">2.5</text>
<text x="2077.6" y="2449.7" text-anchor="middle">5.0</text>
<path d="M1652.6 2390.6h-6.5M1652.6 2286.8h-6.5M1652.6 2183h-6.5M1652.6 2079.2h-6.5M1652.6 1975.4h-6.5M1673.4 2408.6v6.5M1776.3 2408.6v6.5M1879.2 2408.6v6.5M1982.1 2408.6v6.5M2085 2408.6v6.5" stroke="#1a1a1a" stroke-width="1.4" fill="none"/>
<text x="1875.7" y="1952.2" text-anchor="middle" font-size="25">GMP</text>
<text x="1879.4" y="2491.6" text-anchor="middle">logFC (LPS, Pam3 vs. NT)</text>
<g font-size="18.4">
<text x="1978.2" y="2071.5">IL3RA</text>
<text x="1752.8" y="2100.8">ITGB2</text>
<text x="1668.7" y="2116.6">ASGR2</text>
<text x="1827.5" y="2131.7">CANX</text>
<text x="1916.7" y="2118.2">CD82</text>
<text x="1869.4" y="2150.6">CD40</text>
<text x="1676.2" y="2205.5">IL17RA</text>
<text x="1659.8" y="2244.2">HRH2</text>
<text x="1659.8" y="2274.2">HMMR</text>
<text x="1659.8" y="2310.4">CCR2</text>
<text x="1702.4" y="2323.7">TLR2</text>
<text x="1805.8" y="2317.7">APLP2</text>
<text x="1824.7" y="2344.2">ATP6AP2</text>
<text x="1659.8" y="2385.5">FPR1</text>
<text x="2039.6" y="2228.5">IL10RA</text>
<text x="2037.4" y="2311.4">PTGIR</text>
<text x="1955.2" y="2335">TNFRSF4</text>
<text x="2003.4" y="2353">TNFRSF18</text>
<text x="1978.8" y="2376.6">CCR7</text>
</g>
<path d="M1982 2077.9L1968.7 2278.7M1779.6 2110.7L1837.9 2253.5M1694.5 2125.2L1806.4 2258.2M1844.2 2135.9L1864.7 2270.8M1936.6 2123.3L1942.9 2337M1890.9 2157.4L1925.5 2346.5M1708.7 2214.1L1822.2 2281.9M1700.8 2253.5L1800.1 2297.6M1681.9 2276.5L1784.3 2315M1681.9 2319.1L1705.5 2351.2M1741.8 2319.1L1787.5 2332.9M1699.9 2384.3L1784.3 2349.6M2030.8 2229.2L1951.4 2308.7M2028.6 2310.2L1959.3 2314.3M1975 2371.7L1941.9 2343.3" stroke="#111" stroke-width="2.1" fill="none"/>
<text x="-1" y="36.3" font-weight="bold" fill="#111" font-size="43.5">a</text>
<text x="647.5" y="37.6" font-weight="bold" fill="#111" font-size="43.5">b</text>
<text x="1331" y="37.9" font-weight="bold" fill="#111" font-size="43.5">c</text>
<text x="0" y="567.8" font-weight="bold" fill="#111" font-size="43.5">d</text>
<text x="-1" y="1171.5" font-weight="bold" fill="#111" font-size="43.5">e</text>
<text x="1198" y="1172.8" font-weight="bold" fill="#111" font-size="43.5">f</text>
<text x="11" y="1911.5" font-weight="bold" fill="#111" font-size="43.5">g</text>
<text x="1067" y="1910.7" font-weight="bold" fill="#111" font-size="43.5">h</text>
</g>
</svg>
</body></html>
